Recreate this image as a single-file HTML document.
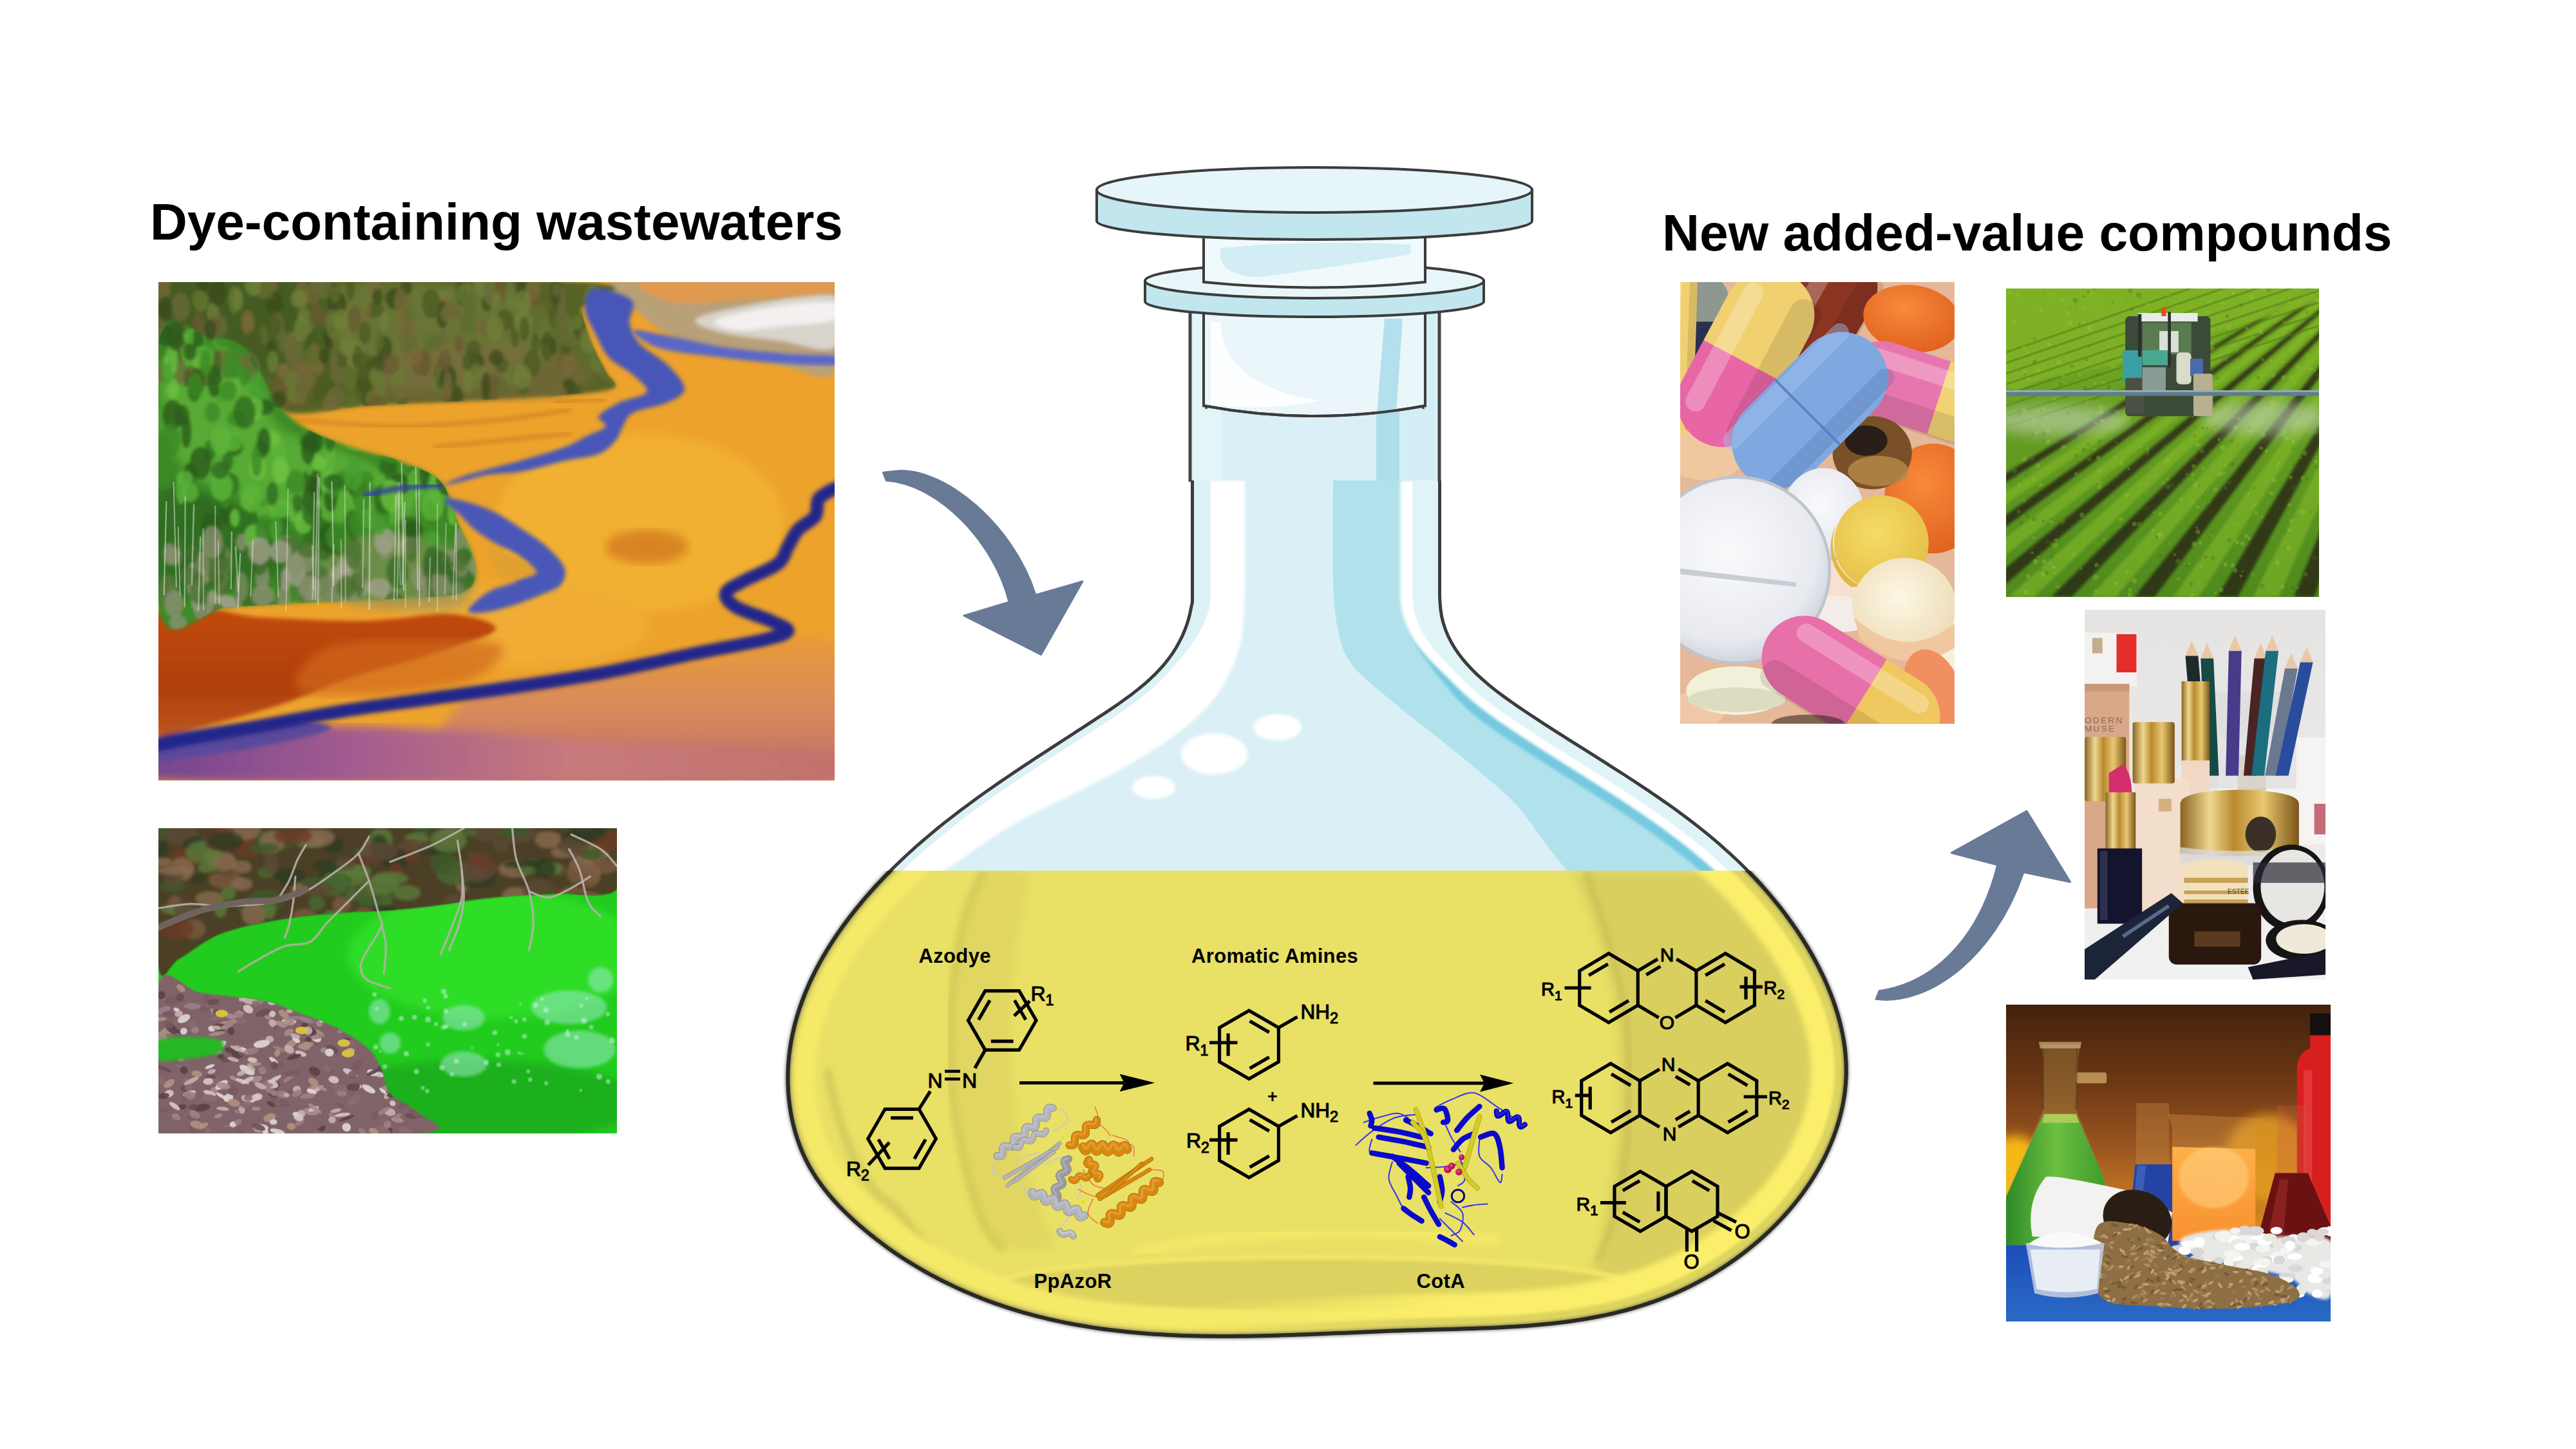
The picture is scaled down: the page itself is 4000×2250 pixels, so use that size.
<!DOCTYPE html>
<html><head><meta charset="utf-8">
<style>
html,body{margin:0;padding:0;background:#fff;}
body{width:4000px;height:2250px;overflow:hidden;position:relative;font-family:"Liberation Sans",sans-serif;}
svg{position:absolute;left:0;top:0;}
</style></head>
<body>
<svg width="4000" height="2250" viewBox="0 0 4000 2250" xmlns="http://www.w3.org/2000/svg">
<defs><clipPath id="fbody"><path d="M1851.5 746.0 L1851.5 757.1 L1851.5 768.2 L1851.5 779.3 L1851.5 790.4 L1851.5 801.5 L1851.5 812.6 L1851.5 823.6 L1851.5 834.7 L1851.5 845.8 L1851.5 856.9 L1851.5 868.0 L1851.5 879.1 L1851.5 890.2 L1851.5 901.4 L1851.5 912.5 L1851.5 923.5 L1851.5 934.5 L1849.3 945.3 L1847.0 956.0 L1844.0 966.5 L1840.4 976.8 L1836.2 986.8 L1831.4 996.5 L1826.1 1006.0 L1820.3 1015.1 L1813.9 1023.9 L1807.1 1032.4 L1799.8 1040.5 L1792.1 1048.4 L1784.1 1056.0 L1775.8 1063.3 L1767.2 1070.4 L1758.3 1077.4 L1749.2 1084.1 L1740.0 1090.7 L1730.6 1097.2 L1721.2 1103.6 L1711.7 1109.9 L1702.1 1116.2 L1692.6 1122.4 L1683.1 1128.6 L1673.6 1134.7 L1664.1 1140.8 L1654.7 1147.0 L1645.3 1153.1 L1635.9 1159.2 L1626.5 1165.3 L1617.1 1171.3 L1607.8 1177.4 L1598.5 1183.6 L1589.3 1189.7 L1580.0 1195.8 L1570.9 1202.0 L1561.7 1208.2 L1552.6 1214.4 L1543.5 1220.7 L1534.5 1227.0 L1525.6 1233.3 L1516.6 1239.7 L1507.8 1246.2 L1499.0 1252.7 L1490.2 1259.3 L1481.5 1265.9 L1472.9 1272.6 L1464.3 1279.4 L1455.7 1286.3 L1447.3 1293.3 L1438.9 1300.3 L1430.6 1307.5 L1422.3 1314.7 L1414.1 1322.1 L1406.0 1329.5 L1398.0 1337.1 L1390.0 1344.8 L1382.1 1352.6 L1374.3 1360.6 L1366.6 1368.7 L1359.0 1376.9 L1351.5 1385.2 L1344.1 1393.6 L1336.9 1402.2 L1329.8 1410.9 L1322.8 1419.7 L1316.0 1428.6 L1309.3 1437.6 L1302.8 1446.8 L1296.5 1456.0 L1290.4 1465.4 L1284.5 1474.8 L1278.8 1484.4 L1273.3 1494.1 L1268.1 1503.8 L1263.1 1513.7 L1258.3 1523.6 L1253.9 1533.7 L1249.6 1543.8 L1245.7 1554.1 L1242.0 1564.4 L1238.7 1574.8 L1235.6 1585.3 L1232.9 1595.9 L1230.5 1606.6 L1228.4 1617.3 L1226.7 1628.2 L1225.3 1639.1 L1224.3 1650.1 L1223.6 1661.1 L1223.4 1672.2 L1223.5 1683.4 L1224.0 1694.5 L1224.9 1705.6 L1226.2 1716.7 L1227.9 1727.8 L1230.0 1738.7 L1232.6 1749.6 L1235.5 1760.3 L1238.9 1770.9 L1242.7 1781.3 L1246.9 1791.5 L1251.6 1801.5 L1256.7 1811.3 L1262.3 1820.8 L1268.2 1830.1 L1274.6 1839.1 L1281.3 1847.9 L1288.3 1856.5 L1295.6 1864.9 L1303.2 1873.1 L1311.1 1881.0 L1319.1 1888.8 L1327.3 1896.4 L1335.7 1903.8 L1344.2 1911.0 L1352.9 1918.1 L1361.6 1925.0 L1370.5 1931.7 L1379.5 1938.3 L1388.6 1944.7 L1397.8 1950.9 L1407.2 1957.0 L1416.6 1962.8 L1426.1 1968.5 L1435.7 1974.1 L1445.4 1979.5 L1455.2 1984.7 L1465.1 1989.8 L1475.1 1994.6 L1485.1 1999.4 L1495.2 2003.9 L1505.3 2008.3 L1515.5 2012.6 L1525.8 2016.7 L1536.1 2020.6 L1546.5 2024.3 L1556.9 2027.9 L1567.3 2031.4 L1577.8 2034.6 L1588.3 2037.8 L1598.9 2040.7 L1609.5 2043.6 L1620.1 2046.2 L1630.7 2048.8 L1641.4 2051.1 L1652.1 2053.4 L1662.8 2055.5 L1673.5 2057.5 L1684.3 2059.3 L1695.1 2061.1 L1705.9 2062.7 L1716.7 2064.2 L1727.6 2065.6 L1738.5 2066.8 L1749.4 2068.0 L1760.3 2069.1 L1771.3 2070.0 L1782.2 2070.9 L1793.2 2071.7 L1804.2 2072.3 L1815.2 2072.9 L1826.3 2073.4 L1837.3 2073.9 L1848.4 2074.2 L1859.5 2074.5 L1870.6 2074.7 L1881.7 2074.8 L1892.8 2074.9 L1904.0 2074.9 L1915.1 2074.9 L1926.3 2074.8 L1937.4 2074.7 L1948.6 2074.5 L1959.8 2074.3 L1971.0 2074.0 L1982.2 2073.7 L1993.4 2073.3 L2004.7 2073.0 L2015.9 2072.6 L2027.1 2072.2 L2038.4 2071.7 L2049.6 2071.3 L2060.9 2070.8 L2072.1 2070.3 L2083.4 2069.9 L2094.6 2069.4 L2105.9 2068.9 L2117.1 2068.4 L2128.4 2068.0 L2139.6 2067.5 L2150.9 2067.0 L2162.1 2066.6 L2173.4 2066.2 L2184.6 2065.8 L2195.8 2065.5 L2207.1 2065.2 L2218.3 2064.8 L2229.5 2064.6 L2240.7 2064.3 L2251.9 2064.0 L2263.1 2063.7 L2274.3 2063.3 L2285.4 2063.0 L2296.6 2062.6 L2307.7 2062.2 L2318.8 2061.7 L2329.9 2061.2 L2341.0 2060.6 L2352.0 2060.0 L2363.0 2059.2 L2374.0 2058.4 L2385.0 2057.5 L2395.9 2056.5 L2406.9 2055.4 L2417.7 2054.2 L2428.6 2052.9 L2439.4 2051.5 L2450.2 2049.9 L2461.0 2048.2 L2471.7 2046.3 L2482.3 2044.3 L2493.0 2042.1 L2503.6 2039.8 L2514.1 2037.2 L2524.7 2034.5 L2535.1 2031.6 L2545.6 2028.5 L2555.9 2025.2 L2566.3 2021.7 L2576.5 2018.0 L2586.8 2014.0 L2597.0 2009.9 L2607.1 2005.4 L2617.2 2000.8 L2627.2 1995.9 L2637.1 1990.7 L2646.9 1985.4 L2656.7 1979.8 L2666.3 1974.0 L2675.8 1967.9 L2685.2 1961.7 L2694.5 1955.2 L2703.6 1948.5 L2712.6 1941.6 L2721.4 1934.5 L2730.1 1927.3 L2738.5 1919.8 L2746.8 1912.1 L2754.9 1904.2 L2762.8 1896.2 L2770.5 1887.9 L2778.0 1879.5 L2785.2 1870.9 L2792.2 1862.2 L2799.0 1853.2 L2805.4 1844.1 L2811.7 1834.8 L2817.6 1825.4 L2823.3 1815.8 L2828.6 1806.1 L2833.7 1796.3 L2838.4 1786.3 L2842.8 1776.2 L2846.9 1766.0 L2850.6 1755.7 L2854.0 1745.3 L2857.0 1734.9 L2859.6 1724.4 L2861.9 1713.8 L2863.7 1703.1 L2865.1 1692.5 L2866.1 1681.7 L2866.7 1671.0 L2866.8 1660.2 L2866.5 1649.5 L2865.8 1638.7 L2864.7 1627.9 L2863.2 1617.2 L2861.3 1606.5 L2859.0 1595.8 L2856.4 1585.1 L2853.4 1574.4 L2850.1 1563.8 L2846.5 1553.3 L2842.5 1542.8 L2838.3 1532.4 L2833.8 1522.1 L2829.0 1511.8 L2823.9 1501.6 L2818.6 1491.5 L2813.1 1481.5 L2807.3 1471.6 L2801.3 1461.8 L2795.1 1452.2 L2788.8 1442.6 L2782.2 1433.2 L2775.5 1424.0 L2768.7 1414.8 L2761.7 1405.9 L2754.5 1397.1 L2747.3 1388.4 L2739.9 1379.9 L2732.5 1371.6 L2725.0 1363.5 L2717.3 1355.5 L2709.6 1347.7 L2701.8 1340.0 L2693.9 1332.5 L2685.9 1325.1 L2677.8 1317.8 L2669.7 1310.6 L2661.5 1303.6 L2653.2 1296.7 L2644.8 1289.9 L2636.3 1283.1 L2627.8 1276.5 L2619.2 1270.0 L2610.5 1263.5 L2601.8 1257.1 L2593.0 1250.8 L2584.1 1244.6 L2575.2 1238.4 L2566.2 1232.2 L2557.2 1226.1 L2548.1 1220.1 L2538.9 1214.0 L2529.7 1208.0 L2520.5 1202.0 L2511.2 1196.1 L2501.8 1190.1 L2492.5 1184.1 L2483.0 1178.2 L2473.6 1172.2 L2464.1 1166.2 L2454.5 1160.2 L2444.9 1154.1 L2435.3 1148.1 L2425.7 1141.9 L2416.0 1135.8 L2406.3 1129.6 L2396.6 1123.3 L2386.8 1116.9 L2377.1 1110.5 L2367.3 1104.0 L2357.5 1097.4 L2347.9 1090.8 L2338.3 1083.9 L2328.9 1077.0 L2319.7 1069.9 L2310.8 1062.7 L2302.1 1055.2 L2293.8 1047.6 L2285.9 1039.8 L2278.4 1031.8 L2271.3 1023.5 L2264.8 1015.0 L2258.8 1006.2 L2253.5 997.2 L2248.7 987.9 L2244.7 978.3 L2241.4 968.3 L2238.8 958.1 L2237.1 947.5 L2236.1 936.6 L2235.5 925.6 L2235.5 914.4 L2235.5 903.3 L2235.5 892.2 L2235.5 881.1 L2235.5 870.0 L2235.5 858.9 L2235.5 847.8 L2235.5 836.7 L2235.5 825.6 L2235.5 814.6 L2235.5 803.5 L2235.5 792.4 L2235.5 781.3 L2235.5 770.2 L2235.5 759.1 L2235.5 746.0 Z"/></clipPath>
<clipPath id="fleft"><rect x="0" y="0" width="2043" height="2250"/></clipPath>
<clipPath id="fright"><rect x="2043" y="0" width="2000" height="2250"/></clipPath>
<filter id="b2" x="-5%" y="-5%" width="110%" height="110%"><feGaussianBlur stdDeviation="2"/></filter>
<filter id="b4" x="-5%" y="-5%" width="110%" height="110%"><feGaussianBlur stdDeviation="4"/></filter>
<filter id="b8" x="-10%" y="-10%" width="120%" height="120%"><feGaussianBlur stdDeviation="8"/></filter>
<filter id="b15" x="-20%" y="-20%" width="140%" height="140%"><feGaussianBlur stdDeviation="15"/></filter>
<clipPath id="strongclip"><rect x="2043" y="975" width="1000" height="1400"/></clipPath>
<clipPath id="liqrect"><rect x="1000" y="1352" width="2000" height="800"/></clipPath>
<linearGradient id="mgL" gradientUnits="userSpaceOnUse" x1="1850" y1="0" x2="2250" y2="0"><stop offset="0" stop-color="#fff"/><stop offset="1" stop-color="#000"/></linearGradient>
<linearGradient id="mgR" gradientUnits="userSpaceOnUse" x1="1850" y1="0" x2="2250" y2="0"><stop offset="0" stop-color="#000"/><stop offset="1" stop-color="#fff"/></linearGradient>
<mask id="mL" maskUnits="userSpaceOnUse" x="0" y="0" width="4000" height="2250"><rect x="0" y="0" width="4000" height="2250" fill="url(#mgL)"/></mask>
<mask id="mR" maskUnits="userSpaceOnUse" x="0" y="0" width="4000" height="2250"><rect x="0" y="0" width="4000" height="2250" fill="url(#mgR)"/></mask>
<clipPath id="lowerclip"><rect x="1000" y="1352" width="2000" height="800"/></clipPath>
<clipPath id="p1clip"><rect x="0" y="0" width="1966" height="1449"/></clipPath><linearGradient id="p1bot" x1="0" y1="0" x2="0" y2="1"><stop offset="0" stop-color="#E99A3A"/><stop offset="0.45" stop-color="#D88A5A"/><stop offset="1" stop-color="#B86A70"/></linearGradient><linearGradient id="p1purp" x1="0" y1="0" x2="1" y2="0"><stop offset="0" stop-color="#6A4090"/><stop offset="0.3" stop-color="#A05A90"/><stop offset="0.6" stop-color="#C87A7A"/><stop offset="1" stop-color="#C07068"/></linearGradient><linearGradient id="p1red" x1="0" y1="0" x2="0" y2="1"><stop offset="0" stop-color="#C24A12"/><stop offset="0.6" stop-color="#B0400E"/><stop offset="1" stop-color="#C05A20"/></linearGradient><filter id="p1b" x="-5%" y="-5%" width="110%" height="110%"><feGaussianBlur stdDeviation="6"/></filter><filter id="p1t" x="-2%" y="-2%" width="104%" height="104%"><feGaussianBlur stdDeviation="4"/></filter><filter id="p1b2" x="-5%" y="-5%" width="110%" height="110%"><feGaussianBlur stdDeviation="14"/></filter><clipPath id="p1up"><path d="M0.0 0.0 C206.7 -46.7 1035.0 -13.3 1240.0 0.0 C1445.0 13.3 1226.7 50.0 1230.0 80.0 C1233.3 110.0 1248.3 150.0 1260.0 180.0 C1271.7 210.0 1290.0 238.3 1300.0 260.0 C1310.0 281.7 1345.0 298.3 1320.0 310.0 C1295.0 321.7 1220.0 324.2 1150.0 330.0 C1080.0 335.8 991.7 340.0 900.0 345.0 C808.3 350.0 686.7 354.2 600.0 360.0 C513.3 365.8 438.3 390.0 380.0 380.0 C321.7 370.0 313.3 316.7 250.0 300.0 C186.7 283.3 41.7 330.0 0.0 280.0 C-41.7 230.0 -206.7 46.7 0.0 0.0 Z"/></clipPath><clipPath id="p1tr"><path d="M0.0 180.0 C25.0 47.5 106.7 156.7 150.0 160.0 C193.3 163.3 230.0 171.7 260.0 200.0 C290.0 228.3 303.3 293.3 330.0 330.0 C356.7 366.7 381.7 395.0 420.0 420.0 C458.3 445.0 513.3 463.3 560.0 480.0 C606.7 496.7 656.7 503.3 700.0 520.0 C743.3 536.7 791.7 550.0 820.0 580.0 C848.3 610.0 853.3 660.0 870.0 700.0 C886.7 740.0 916.7 786.7 920.0 820.0 C923.3 853.3 926.7 883.3 890.0 900.0 C853.3 916.7 773.3 915.0 700.0 920.0 C626.7 925.0 533.3 925.8 450.0 930.0 C366.7 934.2 275.0 940.8 200.0 945.0 C125.0 949.2 33.3 1082.5 0.0 955.0 C-33.3 827.5 -25.0 312.5 0.0 180.0 Z"/></clipPath><clipPath id="p2clip"><rect x="0" y="0" width="2177" height="1449"/></clipPath><filter id="p2b" x="-5%" y="-5%" width="110%" height="110%"><feGaussianBlur stdDeviation="8"/></filter><filter id="p2b2" x="-10%" y="-10%" width="120%" height="120%"><feGaussianBlur stdDeviation="20"/></filter><filter id="p2b1" x="-5%" y="-5%" width="110%" height="110%"><feGaussianBlur stdDeviation="3"/></filter><clipPath id="p2bankclip"><path d="M0.0 0.0 C362.8 -110.0 1814.2 -48.3 2177.0 0.0 C2539.8 48.3 2223.2 238.3 2177.0 290.0 C2130.8 341.7 1979.5 305.0 1900.0 310.0 C1820.5 315.0 1766.7 315.0 1700.0 320.0 C1633.3 325.0 1566.7 331.7 1500.0 340.0 C1433.3 348.3 1366.7 361.7 1300.0 370.0 C1233.3 378.3 1166.7 385.0 1100.0 390.0 C1033.3 395.0 983.3 393.3 900.0 400.0 C816.7 406.7 700.0 413.3 600.0 430.0 C500.0 446.7 383.3 468.3 300.0 500.0 C216.7 531.7 150.0 593.3 100.0 620.0 C50.0 646.7 16.7 763.3 0.0 660.0 C-16.7 556.7 -362.8 110.0 0.0 0.0 Z"/></clipPath><clipPath id="p2leafclip"><path d="M0.0 740.0 C33.3 628.5 116.7 766.7 200.0 780.0 C283.3 793.3 425.0 805.0 500.0 820.0 C575.0 835.0 591.7 848.3 650.0 870.0 C708.3 891.7 791.7 920.0 850.0 950.0 C908.3 980.0 965.0 1016.7 1000.0 1050.0 C1035.0 1083.3 1043.3 1115.0 1060.0 1150.0 C1076.7 1185.0 1071.7 1226.7 1100.0 1260.0 C1128.3 1293.3 1206.7 1318.5 1230.0 1350.0 C1253.3 1381.5 1445.0 1432.5 1240.0 1449.0 C1035.0 1465.5 206.7 1567.2 0.0 1449.0 C-206.7 1330.8 -33.3 851.5 0.0 740.0 Z"/></clipPath><clipPath id="p3clip"><rect x="0" y="0" width="900" height="1449"/></clipPath><radialGradient id="p3w" cx="0.45" cy="0.4" r="0.6"><stop offset="0" stop-color="#FAFAFC"/><stop offset="0.8" stop-color="#E8EAF0"/><stop offset="1" stop-color="#D0D4DC"/></radialGradient><radialGradient id="p3y" cx="0.45" cy="0.4" r="0.6"><stop offset="0" stop-color="#F4DC66"/><stop offset="1" stop-color="#E6C04A"/></radialGradient><radialGradient id="p3o" cx="0.4" cy="0.35" r="0.7"><stop offset="0" stop-color="#F88A3A"/><stop offset="1" stop-color="#E0601E"/></radialGradient><radialGradient id="p3c" cx="0.45" cy="0.4" r="0.6"><stop offset="0" stop-color="#FCF8E4"/><stop offset="1" stop-color="#EEDCB8"/></radialGradient><filter id="p3b" x="-10%" y="-10%" width="120%" height="120%"><feGaussianBlur stdDeviation="4"/></filter><clipPath id="p4clip"><rect x="0" y="0" width="1470" height="1449"/></clipPath><linearGradient id="p4f" x1="0" y1="0" x2="0" y2="1"><stop offset="0" stop-color="#78AE22"/><stop offset="0.35" stop-color="#6AA022"/><stop offset="1" stop-color="#4E8A1E"/></linearGradient><filter id="p4b" x="-5%" y="-5%" width="110%" height="110%"><feGaussianBlur stdDeviation="6"/></filter><filter id="p4b2" x="-20%" y="-50%" width="140%" height="200%"><feGaussianBlur stdDeviation="30"/></filter><clipPath id="p5clip"><rect x="0" y="0" width="944" height="1449"/></clipPath><linearGradient id="p5g" x1="0" y1="0" x2="1" y2="0"><stop offset="0" stop-color="#8A6420"/><stop offset="0.25" stop-color="#F0D890"/><stop offset="0.45" stop-color="#B88A30"/><stop offset="0.7" stop-color="#E8C870"/><stop offset="1" stop-color="#7A5418"/></linearGradient><linearGradient id="p5bg" x1="0" y1="0" x2="0" y2="1"><stop offset="0" stop-color="#E6E4E2"/><stop offset="0.6" stop-color="#ECEAE8"/><stop offset="1" stop-color="#F2F2F2"/></linearGradient><filter id="p5b" x="-10%" y="-10%" width="120%" height="120%"><feGaussianBlur stdDeviation="3"/></filter><clipPath id="p6clip"><rect x="0" y="0" width="1484" height="1449"/></clipPath><linearGradient id="p6bg" x1="0" y1="0" x2="0" y2="1"><stop offset="0" stop-color="#43220E"/><stop offset="0.25" stop-color="#6E3814"/><stop offset="0.45" stop-color="#9A5620"/><stop offset="0.6" stop-color="#C07424"/><stop offset="0.72" stop-color="#D8901E"/></linearGradient><linearGradient id="p6tab" x1="0" y1="0" x2="0" y2="1"><stop offset="0" stop-color="#1C4CBA"/><stop offset="1" stop-color="#2A6AC4"/></linearGradient><linearGradient id="p6gr" x1="0" y1="0" x2="1" y2="0"><stop offset="0" stop-color="#2E8A28"/><stop offset="0.5" stop-color="#6CC040"/><stop offset="1" stop-color="#3E9A2C"/></linearGradient><linearGradient id="p6or" x1="0" y1="0" x2="0" y2="1"><stop offset="0" stop-color="#FFB048"/><stop offset="1" stop-color="#F89030"/></linearGradient><filter id="p6b" x="-10%" y="-10%" width="120%" height="120%"><feGaussianBlur stdDeviation="6"/></filter><filter id="p6b2" x="-20%" y="-20%" width="140%" height="140%"><feGaussianBlur stdDeviation="25"/></filter><clipPath id="p6pel"><path d="M420.0 1010.0 C446.7 976.7 513.3 993.3 560.0 1000.0 C606.7 1006.7 660.0 1026.7 700.0 1050.0 C740.0 1073.3 750.0 1116.7 800.0 1140.0 C850.0 1163.3 933.3 1175.0 1000.0 1190.0 C1066.7 1205.0 1145.0 1211.7 1200.0 1230.0 C1255.0 1248.3 1313.3 1278.3 1330.0 1300.0 C1346.7 1321.7 1355.0 1345.0 1300.0 1360.0 C1245.0 1375.0 1100.0 1386.7 1000.0 1390.0 C900.0 1393.3 791.7 1386.7 700.0 1380.0 C608.3 1373.3 500.0 1380.0 450.0 1350.0 C400.0 1320.0 405.0 1256.7 400.0 1200.0 C395.0 1143.3 393.3 1043.3 420.0 1010.0 Z"/></clipPath></defs>
<rect width="4000" height="2250" fill="#fff"/>
<g id="flask"><path d="M1851.5 746.0 L1851.5 757.1 L1851.5 768.2 L1851.5 779.3 L1851.5 790.4 L1851.5 801.5 L1851.5 812.6 L1851.5 823.6 L1851.5 834.7 L1851.5 845.8 L1851.5 856.9 L1851.5 868.0 L1851.5 879.1 L1851.5 890.2 L1851.5 901.4 L1851.5 912.5 L1851.5 923.5 L1851.5 934.5 L1849.3 945.3 L1847.0 956.0 L1844.0 966.5 L1840.4 976.8 L1836.2 986.8 L1831.4 996.5 L1826.1 1006.0 L1820.3 1015.1 L1813.9 1023.9 L1807.1 1032.4 L1799.8 1040.5 L1792.1 1048.4 L1784.1 1056.0 L1775.8 1063.3 L1767.2 1070.4 L1758.3 1077.4 L1749.2 1084.1 L1740.0 1090.7 L1730.6 1097.2 L1721.2 1103.6 L1711.7 1109.9 L1702.1 1116.2 L1692.6 1122.4 L1683.1 1128.6 L1673.6 1134.7 L1664.1 1140.8 L1654.7 1147.0 L1645.3 1153.1 L1635.9 1159.2 L1626.5 1165.3 L1617.1 1171.3 L1607.8 1177.4 L1598.5 1183.6 L1589.3 1189.7 L1580.0 1195.8 L1570.9 1202.0 L1561.7 1208.2 L1552.6 1214.4 L1543.5 1220.7 L1534.5 1227.0 L1525.6 1233.3 L1516.6 1239.7 L1507.8 1246.2 L1499.0 1252.7 L1490.2 1259.3 L1481.5 1265.9 L1472.9 1272.6 L1464.3 1279.4 L1455.7 1286.3 L1447.3 1293.3 L1438.9 1300.3 L1430.6 1307.5 L1422.3 1314.7 L1414.1 1322.1 L1406.0 1329.5 L1398.0 1337.1 L1390.0 1344.8 L1382.1 1352.6 L1374.3 1360.6 L1366.6 1368.7 L1359.0 1376.9 L1351.5 1385.2 L1344.1 1393.6 L1336.9 1402.2 L1329.8 1410.9 L1322.8 1419.7 L1316.0 1428.6 L1309.3 1437.6 L1302.8 1446.8 L1296.5 1456.0 L1290.4 1465.4 L1284.5 1474.8 L1278.8 1484.4 L1273.3 1494.1 L1268.1 1503.8 L1263.1 1513.7 L1258.3 1523.6 L1253.9 1533.7 L1249.6 1543.8 L1245.7 1554.1 L1242.0 1564.4 L1238.7 1574.8 L1235.6 1585.3 L1232.9 1595.9 L1230.5 1606.6 L1228.4 1617.3 L1226.7 1628.2 L1225.3 1639.1 L1224.3 1650.1 L1223.6 1661.1 L1223.4 1672.2 L1223.5 1683.4 L1224.0 1694.5 L1224.9 1705.6 L1226.2 1716.7 L1227.9 1727.8 L1230.0 1738.7 L1232.6 1749.6 L1235.5 1760.3 L1238.9 1770.9 L1242.7 1781.3 L1246.9 1791.5 L1251.6 1801.5 L1256.7 1811.3 L1262.3 1820.8 L1268.2 1830.1 L1274.6 1839.1 L1281.3 1847.9 L1288.3 1856.5 L1295.6 1864.9 L1303.2 1873.1 L1311.1 1881.0 L1319.1 1888.8 L1327.3 1896.4 L1335.7 1903.8 L1344.2 1911.0 L1352.9 1918.1 L1361.6 1925.0 L1370.5 1931.7 L1379.5 1938.3 L1388.6 1944.7 L1397.8 1950.9 L1407.2 1957.0 L1416.6 1962.8 L1426.1 1968.5 L1435.7 1974.1 L1445.4 1979.5 L1455.2 1984.7 L1465.1 1989.8 L1475.1 1994.6 L1485.1 1999.4 L1495.2 2003.9 L1505.3 2008.3 L1515.5 2012.6 L1525.8 2016.7 L1536.1 2020.6 L1546.5 2024.3 L1556.9 2027.9 L1567.3 2031.4 L1577.8 2034.6 L1588.3 2037.8 L1598.9 2040.7 L1609.5 2043.6 L1620.1 2046.2 L1630.7 2048.8 L1641.4 2051.1 L1652.1 2053.4 L1662.8 2055.5 L1673.5 2057.5 L1684.3 2059.3 L1695.1 2061.1 L1705.9 2062.7 L1716.7 2064.2 L1727.6 2065.6 L1738.5 2066.8 L1749.4 2068.0 L1760.3 2069.1 L1771.3 2070.0 L1782.2 2070.9 L1793.2 2071.7 L1804.2 2072.3 L1815.2 2072.9 L1826.3 2073.4 L1837.3 2073.9 L1848.4 2074.2 L1859.5 2074.5 L1870.6 2074.7 L1881.7 2074.8 L1892.8 2074.9 L1904.0 2074.9 L1915.1 2074.9 L1926.3 2074.8 L1937.4 2074.7 L1948.6 2074.5 L1959.8 2074.3 L1971.0 2074.0 L1982.2 2073.7 L1993.4 2073.3 L2004.7 2073.0 L2015.9 2072.6 L2027.1 2072.2 L2038.4 2071.7 L2049.6 2071.3 L2060.9 2070.8 L2072.1 2070.3 L2083.4 2069.9 L2094.6 2069.4 L2105.9 2068.9 L2117.1 2068.4 L2128.4 2068.0 L2139.6 2067.5 L2150.9 2067.0 L2162.1 2066.6 L2173.4 2066.2 L2184.6 2065.8 L2195.8 2065.5 L2207.1 2065.2 L2218.3 2064.8 L2229.5 2064.6 L2240.7 2064.3 L2251.9 2064.0 L2263.1 2063.7 L2274.3 2063.3 L2285.4 2063.0 L2296.6 2062.6 L2307.7 2062.2 L2318.8 2061.7 L2329.9 2061.2 L2341.0 2060.6 L2352.0 2060.0 L2363.0 2059.2 L2374.0 2058.4 L2385.0 2057.5 L2395.9 2056.5 L2406.9 2055.4 L2417.7 2054.2 L2428.6 2052.9 L2439.4 2051.5 L2450.2 2049.9 L2461.0 2048.2 L2471.7 2046.3 L2482.3 2044.3 L2493.0 2042.1 L2503.6 2039.8 L2514.1 2037.2 L2524.7 2034.5 L2535.1 2031.6 L2545.6 2028.5 L2555.9 2025.2 L2566.3 2021.7 L2576.5 2018.0 L2586.8 2014.0 L2597.0 2009.9 L2607.1 2005.4 L2617.2 2000.8 L2627.2 1995.9 L2637.1 1990.7 L2646.9 1985.4 L2656.7 1979.8 L2666.3 1974.0 L2675.8 1967.9 L2685.2 1961.7 L2694.5 1955.2 L2703.6 1948.5 L2712.6 1941.6 L2721.4 1934.5 L2730.1 1927.3 L2738.5 1919.8 L2746.8 1912.1 L2754.9 1904.2 L2762.8 1896.2 L2770.5 1887.9 L2778.0 1879.5 L2785.2 1870.9 L2792.2 1862.2 L2799.0 1853.2 L2805.4 1844.1 L2811.7 1834.8 L2817.6 1825.4 L2823.3 1815.8 L2828.6 1806.1 L2833.7 1796.3 L2838.4 1786.3 L2842.8 1776.2 L2846.9 1766.0 L2850.6 1755.7 L2854.0 1745.3 L2857.0 1734.9 L2859.6 1724.4 L2861.9 1713.8 L2863.7 1703.1 L2865.1 1692.5 L2866.1 1681.7 L2866.7 1671.0 L2866.8 1660.2 L2866.5 1649.5 L2865.8 1638.7 L2864.7 1627.9 L2863.2 1617.2 L2861.3 1606.5 L2859.0 1595.8 L2856.4 1585.1 L2853.4 1574.4 L2850.1 1563.8 L2846.5 1553.3 L2842.5 1542.8 L2838.3 1532.4 L2833.8 1522.1 L2829.0 1511.8 L2823.9 1501.6 L2818.6 1491.5 L2813.1 1481.5 L2807.3 1471.6 L2801.3 1461.8 L2795.1 1452.2 L2788.8 1442.6 L2782.2 1433.2 L2775.5 1424.0 L2768.7 1414.8 L2761.7 1405.9 L2754.5 1397.1 L2747.3 1388.4 L2739.9 1379.9 L2732.5 1371.6 L2725.0 1363.5 L2717.3 1355.5 L2709.6 1347.7 L2701.8 1340.0 L2693.9 1332.5 L2685.9 1325.1 L2677.8 1317.8 L2669.7 1310.6 L2661.5 1303.6 L2653.2 1296.7 L2644.8 1289.9 L2636.3 1283.1 L2627.8 1276.5 L2619.2 1270.0 L2610.5 1263.5 L2601.8 1257.1 L2593.0 1250.8 L2584.1 1244.6 L2575.2 1238.4 L2566.2 1232.2 L2557.2 1226.1 L2548.1 1220.1 L2538.9 1214.0 L2529.7 1208.0 L2520.5 1202.0 L2511.2 1196.1 L2501.8 1190.1 L2492.5 1184.1 L2483.0 1178.2 L2473.6 1172.2 L2464.1 1166.2 L2454.5 1160.2 L2444.9 1154.1 L2435.3 1148.1 L2425.7 1141.9 L2416.0 1135.8 L2406.3 1129.6 L2396.6 1123.3 L2386.8 1116.9 L2377.1 1110.5 L2367.3 1104.0 L2357.5 1097.4 L2347.9 1090.8 L2338.3 1083.9 L2328.9 1077.0 L2319.7 1069.9 L2310.8 1062.7 L2302.1 1055.2 L2293.8 1047.6 L2285.9 1039.8 L2278.4 1031.8 L2271.3 1023.5 L2264.8 1015.0 L2258.8 1006.2 L2253.5 997.2 L2248.7 987.9 L2244.7 978.3 L2241.4 968.3 L2238.8 958.1 L2237.1 947.5 L2236.1 936.6 L2235.5 925.6 L2235.5 914.4 L2235.5 903.3 L2235.5 892.2 L2235.5 881.1 L2235.5 870.0 L2235.5 858.9 L2235.5 847.8 L2235.5 836.7 L2235.5 825.6 L2235.5 814.6 L2235.5 803.5 L2235.5 792.4 L2235.5 781.3 L2235.5 770.2 L2235.5 759.1 L2235.5 746.0 Z" fill="#DAF0F6"/>
<g clip-path="url(#fbody)">
<path d="M2070.0 746.0 C2070.0 771.7 2068.7 861.0 2070.0 900.0 C2071.3 939.0 2073.0 957.8 2078.0 980.0 C2083.0 1002.2 2085.8 1014.7 2100.0 1033.0 C2114.2 1051.3 2141.8 1072.0 2163.0 1090.0 C2184.2 1108.0 2205.8 1124.0 2227.0 1141.0 C2248.2 1158.0 2268.8 1174.0 2290.0 1192.0 C2311.2 1210.0 2335.3 1228.8 2354.0 1249.0 C2372.7 1269.2 2387.7 1294.5 2402.0 1313.0 C2416.3 1331.5 2433.7 1352.2 2440.0 1360.0 L2900 1360 L2900 746 Z" fill="#B1E2EC"/>
<path d="M2727.5 1419.3 L2720.6 1411.1 L2713.7 1403.1 L2706.6 1395.2 L2699.5 1387.5 L2692.2 1379.9 L2684.9 1372.5 L2677.4 1365.1 L2669.9 1358.0 L2662.3 1350.9 L2654.6 1343.9 L2646.8 1337.1 L2638.9 1330.4 L2630.9 1323.7 L2622.8 1317.1 L2614.7 1310.7 L2606.5 1304.3 L2598.1 1297.9 L2589.7 1291.7 L2581.3 1285.5 L2572.7 1279.3 L2564.1 1273.2 L2555.3 1267.2 L2546.5 1261.2 L2537.7 1255.2 L2528.7 1249.2 L2519.7 1243.3 L2510.7 1237.4 L2501.5 1231.5 L2492.3 1225.5 L2483.0 1219.6 L2473.7 1213.7 L2464.3 1207.8 L2454.9 1201.8 L2445.4 1195.8 L2435.8 1189.8 L2426.2 1183.7 L2416.6 1177.6 L2406.9 1171.5 L2397.1 1165.3 L2387.4 1159.0 L2377.5 1152.6 L2367.7 1146.2 L2357.8 1139.7 L2347.8 1133.1 L2337.8 1126.3 L2327.7 1119.4 L2317.7 1112.3 L2307.8 1104.9 L2298.0 1097.4 L2288.3 1089.5 L2278.9 1081.4 L2269.7 1073.0 L2260.8 1064.2 L2251.9 1055.3 L2242.9 1046.5 L2233.7 1037.5 L2224.4 1028.2 L2215.1 1018.3 L2206.1 1007.6 L2197.5 996.0 L2189.8 983.3 L2183.2 969.5 L2178.3 955.0 L2175.5 941.0 L2174.5 927.1 L2174.5 914.4 L2174.5 903.3 L2174.5 892.2 L2174.5 881.1 L2174.5 870.0 L2174.5 858.9 L2174.5 847.8 L2174.5 836.7 L2174.5 825.6 L2174.5 814.6 L2174.5 803.5 L2174.5 792.4 L2174.5 781.3 L2174.5 770.2 L2174.5 759.1 L2174.5 746.0 L2174.5 746.0 L2174.5 759.1 L2174.5 770.2 L2174.5 781.3 L2174.5 792.4 L2174.5 803.5 L2174.5 814.6 L2174.5 825.6 L2174.5 836.7 L2174.5 847.8 L2174.5 858.9 L2174.5 870.0 L2174.5 881.1 L2174.5 892.2 L2174.5 903.3 L2174.5 914.4 L2174.5 927.1 L2175.5 941.0 L2178.3 955.0 L2183.0 969.5 L2188.9 983.5 L2195.7 996.7 L2203.1 1009.0 L2210.9 1020.6 L2219.0 1031.6 L2227.2 1042.2 L2235.5 1052.5 L2243.7 1062.7 L2251.9 1072.8 L2260.4 1082.8 L2269.3 1092.2 L2278.6 1101.2 L2288.2 1109.7 L2298.2 1117.7 L2308.3 1125.2 L2318.5 1132.5 L2328.7 1139.5 L2338.9 1146.4 L2349.0 1153.1 L2358.9 1159.6 L2368.8 1166.1 L2378.7 1172.4 L2388.5 1178.7 L2398.3 1185.0 L2408.0 1191.1 L2417.7 1197.3 L2427.3 1203.3 L2436.9 1209.3 L2446.4 1215.3 L2455.8 1221.3 L2465.2 1227.2 L2474.5 1233.1 L2483.7 1239.0 L2492.9 1244.9 L2501.9 1250.8 L2511.0 1256.7 L2519.9 1262.6 L2528.8 1268.5 L2537.5 1274.4 L2546.3 1280.4 L2554.9 1286.4 L2563.4 1292.4 L2571.9 1298.4 L2580.2 1304.6 L2588.5 1310.7 L2596.7 1317.0 L2604.8 1323.3 L2612.8 1329.6 L2620.7 1336.1 L2628.6 1342.6 L2636.3 1349.2 L2643.9 1355.9 L2651.5 1362.7 L2658.9 1369.6 L2666.3 1376.6 L2673.6 1383.8 L2680.7 1391.0 L2687.8 1398.4 L2694.8 1406.0 L2701.7 1413.7 L2708.5 1421.5 L2715.1 1429.5 Z" fill="#74C9DF" filter="url(#b2)"/>
<path d="M2739.9 1409.1 L2732.8 1400.7 L2725.7 1392.5 L2718.4 1384.4 L2711.1 1376.5 L2703.7 1368.7 L2696.2 1361.1 L2688.6 1353.7 L2680.9 1346.3 L2673.1 1339.1 L2665.2 1332.0 L2657.3 1325.0 L2649.2 1318.1 L2641.1 1311.4 L2632.9 1304.7 L2624.6 1298.1 L2616.2 1291.6 L2607.8 1285.2 L2599.2 1278.8 L2590.6 1272.5 L2582.0 1266.3 L2573.2 1260.1 L2564.4 1254.0 L2555.5 1247.9 L2546.6 1241.9 L2537.6 1235.9 L2528.5 1229.9 L2519.4 1224.0 L2510.2 1218.0 L2500.9 1212.1 L2491.6 1206.1 L2482.3 1200.2 L2472.9 1194.2 L2463.4 1188.3 L2453.9 1182.3 L2444.4 1176.3 L2434.8 1170.2 L2425.1 1164.1 L2415.5 1158.0 L2405.8 1151.8 L2396.0 1145.5 L2386.2 1139.2 L2376.4 1132.8 L2366.6 1126.4 L2356.7 1119.8 L2346.8 1113.1 L2336.9 1106.3 L2327.1 1099.3 L2317.4 1092.2 L2307.9 1084.8 L2298.6 1077.2 L2289.5 1069.4 L2280.7 1061.4 L2272.3 1053.0 L2263.9 1044.6 L2255.6 1036.2 L2247.2 1027.7 L2238.8 1019.0 L2230.6 1009.8 L2222.7 999.9 L2215.3 989.3 L2208.6 977.8 L2203.0 965.4 L2198.8 952.4 L2196.4 939.5 L2195.5 926.6 L2195.5 914.4 L2195.5 903.3 L2195.5 892.2 L2195.5 881.1 L2195.5 870.0 L2195.5 858.9 L2195.5 847.8 L2195.5 836.7 L2195.5 825.6 L2195.5 814.6 L2195.5 803.5 L2195.5 792.4 L2195.5 781.3 L2195.5 770.2 L2195.5 759.1 L2195.5 746.0 L2174.5 746.0 L2174.5 759.1 L2174.5 770.2 L2174.5 781.3 L2174.5 792.4 L2174.5 803.5 L2174.5 814.6 L2174.5 825.6 L2174.5 836.7 L2174.5 847.8 L2174.5 858.9 L2174.5 870.0 L2174.5 881.1 L2174.5 892.2 L2174.5 903.3 L2174.5 914.4 L2174.5 927.1 L2175.5 941.0 L2178.3 955.0 L2183.2 969.5 L2189.8 983.3 L2197.5 996.0 L2206.1 1007.6 L2215.1 1018.3 L2224.4 1028.2 L2233.7 1037.5 L2242.9 1046.5 L2251.9 1055.3 L2260.8 1064.2 L2269.7 1073.0 L2278.9 1081.4 L2288.3 1089.5 L2298.0 1097.4 L2307.8 1104.9 L2317.7 1112.3 L2327.7 1119.4 L2337.8 1126.3 L2347.8 1133.1 L2357.8 1139.7 L2367.7 1146.2 L2377.5 1152.6 L2387.4 1159.0 L2397.1 1165.3 L2406.9 1171.5 L2416.6 1177.6 L2426.2 1183.7 L2435.8 1189.8 L2445.4 1195.8 L2454.9 1201.8 L2464.3 1207.8 L2473.7 1213.7 L2483.0 1219.6 L2492.3 1225.5 L2501.5 1231.5 L2510.7 1237.4 L2519.7 1243.3 L2528.7 1249.2 L2537.7 1255.2 L2546.5 1261.2 L2555.3 1267.2 L2564.1 1273.2 L2572.7 1279.3 L2581.3 1285.5 L2589.7 1291.7 L2598.1 1297.9 L2606.5 1304.3 L2614.7 1310.7 L2622.8 1317.1 L2630.9 1323.7 L2638.9 1330.4 L2646.8 1337.1 L2654.6 1343.9 L2662.3 1350.9 L2669.9 1358.0 L2677.4 1365.1 L2684.9 1372.5 L2692.2 1379.9 L2699.5 1387.5 L2706.6 1395.2 L2713.7 1403.1 L2720.6 1411.1 L2727.5 1419.3 Z" fill="#FFFFFF" filter="url(#b2)"/>
<path d="M2754.5 1397.1 L2747.3 1388.4 L2739.9 1379.9 L2732.5 1371.6 L2725.0 1363.5 L2717.3 1355.5 L2709.6 1347.7 L2701.8 1340.0 L2693.9 1332.5 L2685.9 1325.1 L2677.8 1317.8 L2669.7 1310.6 L2661.5 1303.6 L2653.2 1296.7 L2644.8 1289.9 L2636.3 1283.1 L2627.8 1276.5 L2619.2 1270.0 L2610.5 1263.5 L2601.8 1257.1 L2593.0 1250.8 L2584.1 1244.6 L2575.2 1238.4 L2566.2 1232.2 L2557.2 1226.1 L2548.1 1220.1 L2538.9 1214.0 L2529.7 1208.0 L2520.5 1202.0 L2511.2 1196.1 L2501.8 1190.1 L2492.5 1184.1 L2483.0 1178.2 L2473.6 1172.2 L2464.1 1166.2 L2454.5 1160.2 L2444.9 1154.1 L2435.3 1148.1 L2425.7 1141.9 L2416.0 1135.8 L2406.3 1129.6 L2396.6 1123.3 L2386.8 1116.9 L2377.1 1110.5 L2367.3 1104.0 L2357.5 1097.4 L2347.9 1090.8 L2338.3 1083.9 L2328.9 1077.0 L2319.7 1069.9 L2310.8 1062.7 L2302.1 1055.2 L2293.8 1047.6 L2285.9 1039.8 L2278.4 1031.8 L2271.3 1023.5 L2264.8 1015.0 L2258.8 1006.2 L2253.5 997.2 L2248.7 987.9 L2244.7 978.3 L2241.4 968.3 L2238.8 958.1 L2237.1 947.5 L2236.1 936.6 L2235.5 925.6 L2235.5 914.4 L2235.5 903.3 L2235.5 892.2 L2235.5 881.1 L2235.5 870.0 L2235.5 858.9 L2235.5 847.8 L2235.5 836.7 L2235.5 825.6 L2235.5 814.6 L2235.5 803.5 L2235.5 792.4 L2235.5 781.3 L2235.5 770.2 L2235.5 759.1 L2235.5 746.0 L2195.5 746.0 L2195.5 759.1 L2195.5 770.2 L2195.5 781.3 L2195.5 792.4 L2195.5 803.5 L2195.5 814.6 L2195.5 825.6 L2195.5 836.7 L2195.5 847.8 L2195.5 858.9 L2195.5 870.0 L2195.5 881.1 L2195.5 892.2 L2195.5 903.3 L2195.5 914.4 L2195.5 926.6 L2196.4 939.5 L2198.8 952.4 L2203.0 965.4 L2208.6 977.8 L2215.3 989.3 L2222.7 999.9 L2230.6 1009.8 L2238.8 1019.0 L2247.2 1027.7 L2255.6 1036.2 L2263.9 1044.6 L2272.3 1053.0 L2280.7 1061.4 L2289.5 1069.4 L2298.6 1077.2 L2307.9 1084.8 L2317.4 1092.2 L2327.1 1099.3 L2336.9 1106.3 L2346.8 1113.1 L2356.7 1119.8 L2366.6 1126.4 L2376.4 1132.8 L2386.2 1139.2 L2396.0 1145.5 L2405.8 1151.8 L2415.5 1158.0 L2425.1 1164.1 L2434.8 1170.2 L2444.4 1176.3 L2453.9 1182.3 L2463.4 1188.3 L2472.9 1194.2 L2482.3 1200.2 L2491.6 1206.1 L2500.9 1212.1 L2510.2 1218.0 L2519.4 1224.0 L2528.5 1229.9 L2537.6 1235.9 L2546.6 1241.9 L2555.5 1247.9 L2564.4 1254.0 L2573.2 1260.1 L2582.0 1266.3 L2590.6 1272.5 L2599.2 1278.8 L2607.8 1285.2 L2616.2 1291.6 L2624.6 1298.1 L2632.9 1304.7 L2641.1 1311.4 L2649.2 1318.1 L2657.3 1325.0 L2665.2 1332.0 L2673.1 1339.1 L2680.9 1346.3 L2688.6 1353.7 L2696.2 1361.1 L2703.7 1368.7 L2711.1 1376.5 L2718.4 1384.4 L2725.7 1392.5 L2732.8 1400.7 L2739.9 1409.1 Z" fill="#E0F4F8"/>
<path d="M1933.0 746.0 C1933.0 771.7 1933.8 859.3 1933.0 900.0 C1932.2 940.7 1932.3 965.0 1928.0 990.0 C1923.7 1015.0 1916.3 1031.7 1907.0 1050.0 C1897.7 1068.3 1889.3 1082.2 1872.0 1100.0 C1854.7 1117.8 1831.7 1137.7 1803.0 1157.0 C1774.3 1176.3 1738.2 1195.5 1700.0 1216.0 C1661.8 1236.5 1609.5 1259.7 1574.0 1280.0 C1538.5 1300.3 1509.3 1323.0 1487.0 1338.0 C1464.7 1353.0 1447.8 1364.7 1440.0 1370.0 L1100 1370 L1100 746 Z" fill="#FFFFFF" filter="url(#b2)"/>
<path d="M1851.5 746.0 L1851.5 757.1 L1851.5 768.2 L1851.5 779.3 L1851.5 790.4 L1851.5 801.5 L1851.5 812.6 L1851.5 823.6 L1851.5 834.7 L1851.5 845.8 L1851.5 856.9 L1851.5 868.0 L1851.5 879.1 L1851.5 890.2 L1851.5 901.4 L1851.5 912.5 L1851.5 923.5 L1851.5 934.5 L1849.3 945.3 L1847.0 956.0 L1844.0 966.5 L1840.4 976.8 L1836.2 986.8 L1831.4 996.5 L1826.1 1006.0 L1820.3 1015.1 L1813.9 1023.9 L1807.1 1032.4 L1799.8 1040.5 L1792.1 1048.4 L1784.1 1056.0 L1775.8 1063.3 L1767.2 1070.4 L1758.3 1077.4 L1749.2 1084.1 L1740.0 1090.7 L1730.6 1097.2 L1721.2 1103.6 L1711.7 1109.9 L1702.1 1116.2 L1692.6 1122.4 L1683.1 1128.6 L1673.6 1134.7 L1664.1 1140.8 L1654.7 1147.0 L1645.3 1153.1 L1635.9 1159.2 L1626.5 1165.3 L1617.1 1171.3 L1607.8 1177.4 L1598.5 1183.6 L1589.3 1189.7 L1580.0 1195.8 L1570.9 1202.0 L1561.7 1208.2 L1552.6 1214.4 L1543.5 1220.7 L1534.5 1227.0 L1525.6 1233.3 L1516.6 1239.7 L1507.8 1246.2 L1499.0 1252.7 L1490.2 1259.3 L1481.5 1265.9 L1472.9 1272.6 L1464.3 1279.4 L1455.7 1286.3 L1447.3 1293.3 L1438.9 1300.3 L1430.6 1307.5 L1422.3 1314.7 L1414.1 1322.1 L1406.0 1329.5 L1398.0 1337.1 L1390.0 1344.8 L1382.1 1352.6 L1374.3 1360.6 L1366.6 1368.7 L1359.0 1376.9 L1351.5 1385.2 L1344.1 1393.6 L1354.0 1402.1 L1361.2 1393.8 L1368.6 1385.6 L1376.1 1377.6 L1383.7 1369.6 L1391.4 1361.8 L1399.1 1354.1 L1407.0 1346.5 L1414.9 1339.1 L1422.9 1331.7 L1430.9 1324.4 L1439.1 1317.3 L1447.3 1310.2 L1455.6 1303.3 L1464.0 1296.4 L1472.4 1289.6 L1480.9 1282.8 L1489.4 1276.2 L1498.1 1269.6 L1506.7 1263.1 L1515.5 1256.6 L1524.3 1250.2 L1533.1 1243.9 L1542.0 1237.6 L1551.0 1231.3 L1560.0 1225.1 L1569.0 1218.9 L1578.1 1212.8 L1587.3 1206.6 L1596.4 1200.5 L1605.7 1194.4 L1614.9 1188.3 L1624.2 1182.2 L1633.6 1176.1 L1642.9 1170.1 L1652.3 1164.0 L1661.8 1157.9 L1671.2 1151.8 L1680.7 1145.6 L1690.2 1139.5 L1699.7 1133.3 L1709.3 1127.0 L1718.8 1120.8 L1728.4 1114.4 L1738.0 1108.0 L1747.5 1101.4 L1756.9 1094.6 L1766.2 1087.7 L1775.3 1080.6 L1784.2 1073.2 L1792.9 1065.6 L1801.3 1057.6 L1809.3 1049.4 L1817.1 1040.9 L1824.9 1032.4 L1832.6 1023.6 L1840.2 1014.5 L1847.5 1005.0 L1854.6 995.1 L1861.1 984.7 L1867.0 973.8 L1872.1 962.3 L1875.9 951.0 L1879.3 937.4 L1879.5 923.5 L1879.5 912.5 L1879.5 901.4 L1879.5 890.2 L1879.5 879.1 L1879.5 868.0 L1879.5 856.9 L1879.5 845.8 L1879.5 834.7 L1879.5 823.6 L1879.5 812.6 L1879.5 801.5 L1879.5 790.4 L1879.5 779.3 L1879.5 768.2 L1879.5 757.1 L1879.5 746.0 Z" fill="#DDF2F7"/>
<ellipse cx="1791.5" cy="1222.6" rx="34.0" ry="17.7" fill="#FFFFFF" filter="url(#b2)"/>
<ellipse cx="1885.5" cy="1170.8" rx="51.8" ry="31.9" fill="#FFFFFF" filter="url(#b2)"/>
<ellipse cx="1983.9" cy="1129.4" rx="37.5" ry="20.3" fill="#FFFFFF" filter="url(#b2)"/>
</g>
<g clip-path="url(#fbody)"><g clip-path="url(#liqrect)">
<rect x="1100" y="1352" width="1900" height="800" fill="#E9E066"/>
<path d="M2440.0 1352.0 C2445.0 1363.3 2460.0 1392.0 2470.0 1420.0 C2480.0 1448.0 2492.5 1483.3 2500.0 1520.0 C2507.5 1556.7 2513.0 1600.0 2515.0 1640.0 C2517.0 1680.0 2515.3 1720.0 2512.0 1760.0 C2508.7 1800.0 2502.0 1841.7 2495.0 1880.0 C2488.0 1918.3 2479.2 1956.7 2470.0 1990.0 C2460.8 2023.3 2445.0 2065.0 2440.0 2080.0 L2950 2080 L2950 1352 Z" fill="#D9CF5E" filter="url(#b8)"/>
<path d="M2462.0 1352.0 C2467.3 1368.2 2483.7 1412.0 2494.0 1449.0 C2504.3 1486.0 2518.0 1532.5 2524.0 1574.0 C2530.0 1615.5 2530.0 1660.8 2530.0 1698.0 C2530.0 1735.2 2528.3 1763.8 2524.0 1797.0 C2519.7 1830.2 2511.3 1869.8 2504.0 1897.0 C2496.7 1924.2 2484.0 1949.5 2480.0 1960.0" fill="none" stroke="#C8BE52" stroke-width="10" opacity="0.7" filter="url(#b4)"/>
<path d="M1530.0 1352.0 C1525.0 1364.2 1508.3 1392.2 1500.0 1425.0 C1491.7 1457.8 1483.7 1507.7 1480.0 1549.0 C1476.3 1590.3 1475.0 1631.7 1478.0 1673.0 C1481.0 1714.3 1489.7 1759.7 1498.0 1797.0 C1506.3 1834.3 1517.7 1873.2 1528.0 1897.0 C1538.3 1920.8 1554.7 1932.8 1560.0 1940.0" fill="none" stroke="#CFC558" stroke-width="16" opacity="0.8" filter="url(#b4)"/>
<path d="M1530.0 1352.0 C1525.0 1364.2 1508.3 1392.2 1500.0 1425.0 C1491.7 1457.8 1483.7 1507.7 1480.0 1549.0 C1476.3 1590.3 1475.0 1631.7 1478.0 1673.0 C1481.0 1714.3 1489.7 1759.7 1498.0 1797.0 C1506.3 1834.3 1517.7 1873.2 1528.0 1897.0 C1538.3 1920.8 1554.7 1932.8 1560.0 1940.0 L1640.0 1940.0 C1631.7 1916.7 1601.7 1848.3 1590.0 1800.0 C1578.3 1751.7 1572.5 1700.0 1570.0 1650.0 C1567.5 1600.0 1570.0 1549.7 1575.0 1500.0 C1580.0 1450.3 1595.8 1376.7 1600.0 1352.0 Z" fill="#DDD35F" opacity="0.7" filter="url(#b8)"/>
<path d="M1284.0 1660.0 C1288.3 1676.7 1299.0 1730.0 1310.0 1760.0 C1321.0 1790.0 1336.0 1820.0 1350.0 1840.0 C1364.0 1860.0 1378.3 1862.3 1394.0 1880.0 C1409.7 1897.7 1435.7 1935.0 1444.0 1946.0" fill="none" stroke="#D2C85A" stroke-width="14" opacity="0.8" filter="url(#b4)"/>
<path d="M1760.0 1945.0 C1783.3 1941.2 1853.7 1927.2 1900.0 1922.0 C1946.3 1916.8 1988.0 1915.0 2038.0 1914.0 C2088.0 1913.0 2151.3 1914.2 2200.0 1916.0 C2248.7 1917.8 2308.3 1923.5 2330.0 1925.0" fill="none" stroke="#F3E768" stroke-width="18" filter="url(#b4)"/>
<ellipse cx="2040" cy="1996" rx="490" ry="44" fill="#DCD25E" stroke="#F2E668" stroke-width="8" filter="url(#b2)"/>
<g mask="url(#mL)"><path d="M1851.5 746.0 L1851.5 757.1 L1851.5 768.2 L1851.5 779.3 L1851.5 790.4 L1851.5 801.5 L1851.5 812.6 L1851.5 823.6 L1851.5 834.7 L1851.5 845.8 L1851.5 856.9 L1851.5 868.0 L1851.5 879.1 L1851.5 890.2 L1851.5 901.4 L1851.5 912.5 L1851.5 923.5 L1851.5 934.5 L1849.3 945.3 L1847.0 956.0 L1844.0 966.5 L1840.4 976.8 L1836.2 986.8 L1831.4 996.5 L1826.1 1006.0 L1820.3 1015.1 L1813.9 1023.9 L1807.1 1032.4 L1799.8 1040.5 L1792.1 1048.4 L1784.1 1056.0 L1775.8 1063.3 L1767.2 1070.4 L1758.3 1077.4 L1749.2 1084.1 L1740.0 1090.7 L1730.6 1097.2 L1721.2 1103.6 L1711.7 1109.9 L1702.1 1116.2 L1692.6 1122.4 L1683.1 1128.6 L1673.6 1134.7 L1664.1 1140.8 L1654.7 1147.0 L1645.3 1153.1 L1635.9 1159.2 L1626.5 1165.3 L1617.1 1171.3 L1607.8 1177.4 L1598.5 1183.6 L1589.3 1189.7 L1580.0 1195.8 L1570.9 1202.0 L1561.7 1208.2 L1552.6 1214.4 L1543.5 1220.7 L1534.5 1227.0 L1525.6 1233.3 L1516.6 1239.7 L1507.8 1246.2 L1499.0 1252.7 L1490.2 1259.3 L1481.5 1265.9 L1472.9 1272.6 L1464.3 1279.4 L1455.7 1286.3 L1447.3 1293.3 L1438.9 1300.3 L1430.6 1307.5 L1422.3 1314.7 L1414.1 1322.1 L1406.0 1329.5 L1398.0 1337.1 L1390.0 1344.8 L1382.1 1352.6 L1374.3 1360.6 L1366.6 1368.7 L1359.0 1376.9 L1351.5 1385.2 L1344.1 1393.6 L1336.9 1402.2 L1329.8 1410.9 L1322.8 1419.7 L1316.0 1428.6 L1309.3 1437.6 L1302.8 1446.8 L1296.5 1456.0 L1290.4 1465.4 L1284.5 1474.8 L1278.8 1484.4 L1273.3 1494.1 L1268.1 1503.8 L1263.1 1513.7 L1258.3 1523.6 L1253.9 1533.7 L1249.6 1543.8 L1245.7 1554.1 L1242.0 1564.4 L1238.7 1574.8 L1235.6 1585.3 L1232.9 1595.9 L1230.5 1606.6 L1228.4 1617.3 L1226.7 1628.2 L1225.3 1639.1 L1224.3 1650.1 L1223.6 1661.1 L1223.4 1672.2 L1223.5 1683.4 L1224.0 1694.5 L1224.9 1705.6 L1226.2 1716.7 L1227.9 1727.8 L1230.0 1738.7 L1232.6 1749.6 L1235.5 1760.3 L1238.9 1770.9 L1242.7 1781.3 L1246.9 1791.5 L1251.6 1801.5 L1256.7 1811.3 L1262.3 1820.8 L1268.2 1830.1 L1274.6 1839.1 L1281.3 1847.9 L1288.3 1856.5 L1295.6 1864.9 L1303.2 1873.1 L1311.1 1881.0 L1319.1 1888.8 L1327.3 1896.4 L1335.7 1903.8 L1344.2 1911.0 L1352.9 1918.1 L1361.6 1925.0 L1370.5 1931.7 L1379.5 1938.3 L1388.6 1944.7 L1397.8 1950.9 L1407.2 1957.0 L1416.6 1962.8 L1426.1 1968.5 L1435.7 1974.1 L1445.4 1979.5 L1455.2 1984.7 L1465.1 1989.8 L1475.1 1994.6 L1485.1 1999.4 L1495.2 2003.9 L1505.3 2008.3 L1515.5 2012.6 L1525.8 2016.7 L1536.1 2020.6 L1546.5 2024.3 L1556.9 2027.9 L1567.3 2031.4 L1577.8 2034.6 L1588.3 2037.8 L1598.9 2040.7 L1609.5 2043.6 L1620.1 2046.2 L1630.7 2048.8 L1641.4 2051.1 L1652.1 2053.4 L1662.8 2055.5 L1673.5 2057.5 L1684.3 2059.3 L1695.1 2061.1 L1705.9 2062.7 L1716.7 2064.2 L1727.6 2065.6 L1738.5 2066.8 L1749.4 2068.0 L1760.3 2069.1 L1771.3 2070.0 L1782.2 2070.9 L1793.2 2071.7 L1804.2 2072.3 L1815.2 2072.9 L1826.3 2073.4 L1837.3 2073.9 L1848.4 2074.2 L1859.5 2074.5 L1870.6 2074.7 L1881.7 2074.8 L1892.8 2074.9 L1904.0 2074.9 L1915.1 2074.9 L1926.3 2074.8 L1937.4 2074.7 L1948.6 2074.5 L1959.8 2074.3 L1971.0 2074.0 L1982.2 2073.7 L1993.4 2073.3 L2004.7 2073.0 L2015.9 2072.6 L2027.1 2072.2 L2038.4 2071.7 L2049.6 2071.3 L2060.9 2070.8 L2072.1 2070.3 L2083.4 2069.9 L2094.6 2069.4 L2105.9 2068.9 L2117.1 2068.4 L2128.4 2068.0 L2139.6 2067.5 L2150.9 2067.0 L2162.1 2066.6 L2173.4 2066.2 L2184.6 2065.8 L2195.8 2065.5 L2207.1 2065.2 L2218.3 2064.8 L2229.5 2064.6 L2240.7 2064.3 L2251.9 2064.0 L2263.1 2063.7 L2274.3 2063.3 L2285.4 2063.0 L2296.6 2062.6 L2307.7 2062.2 L2318.8 2061.7 L2329.9 2061.2 L2341.0 2060.6 L2352.0 2060.0 L2363.0 2059.2 L2374.0 2058.4 L2385.0 2057.5 L2395.9 2056.5 L2406.9 2055.4 L2417.7 2054.2 L2428.6 2052.9 L2439.4 2051.5 L2450.2 2049.9 L2461.0 2048.2 L2471.7 2046.3 L2482.3 2044.3 L2493.0 2042.1 L2503.6 2039.8 L2514.1 2037.2 L2524.7 2034.5 L2535.1 2031.6 L2545.6 2028.5 L2555.9 2025.2 L2566.3 2021.7 L2576.5 2018.0 L2586.8 2014.0 L2597.0 2009.9 L2607.1 2005.4 L2617.2 2000.8 L2627.2 1995.9 L2637.1 1990.7 L2646.9 1985.4 L2656.7 1979.8 L2666.3 1974.0 L2675.8 1967.9 L2685.2 1961.7 L2694.5 1955.2 L2703.6 1948.5 L2712.6 1941.6 L2721.4 1934.5 L2730.1 1927.3 L2738.5 1919.8 L2746.8 1912.1 L2754.9 1904.2 L2762.8 1896.2 L2770.5 1887.9 L2778.0 1879.5 L2785.2 1870.9 L2792.2 1862.2 L2799.0 1853.2 L2805.4 1844.1 L2811.7 1834.8 L2817.6 1825.4 L2823.3 1815.8 L2828.6 1806.1 L2833.7 1796.3 L2838.4 1786.3 L2842.8 1776.2 L2846.9 1766.0 L2850.6 1755.7 L2854.0 1745.3 L2857.0 1734.9 L2859.6 1724.4 L2861.9 1713.8 L2863.7 1703.1 L2865.1 1692.5 L2866.1 1681.7 L2866.7 1671.0 L2866.8 1660.2 L2866.5 1649.5 L2865.8 1638.7 L2864.7 1627.9 L2863.2 1617.2 L2861.3 1606.5 L2859.0 1595.8 L2856.4 1585.1 L2853.4 1574.4 L2850.1 1563.8 L2846.5 1553.3 L2842.5 1542.8 L2838.3 1532.4 L2833.8 1522.1 L2829.0 1511.8 L2823.9 1501.6 L2818.6 1491.5 L2813.1 1481.5 L2807.3 1471.6 L2801.3 1461.8 L2795.1 1452.2 L2788.8 1442.6 L2782.2 1433.2 L2775.5 1424.0 L2768.7 1414.8 L2761.7 1405.9 L2754.5 1397.1 L2747.3 1388.4 L2739.9 1379.9 L2732.5 1371.6 L2725.0 1363.5 L2717.3 1355.5 L2709.6 1347.7 L2701.8 1340.0 L2693.9 1332.5 L2685.9 1325.1 L2677.8 1317.8 L2669.7 1310.6 L2661.5 1303.6 L2653.2 1296.7 L2644.8 1289.9 L2636.3 1283.1 L2627.8 1276.5 L2619.2 1270.0 L2610.5 1263.5 L2601.8 1257.1 L2593.0 1250.8 L2584.1 1244.6 L2575.2 1238.4 L2566.2 1232.2 L2557.2 1226.1 L2548.1 1220.1 L2538.9 1214.0 L2529.7 1208.0 L2520.5 1202.0 L2511.2 1196.1 L2501.8 1190.1 L2492.5 1184.1 L2483.0 1178.2 L2473.6 1172.2 L2464.1 1166.2 L2454.5 1160.2 L2444.9 1154.1 L2435.3 1148.1 L2425.7 1141.9 L2416.0 1135.8 L2406.3 1129.6 L2396.6 1123.3 L2386.8 1116.9 L2377.1 1110.5 L2367.3 1104.0 L2357.5 1097.4 L2347.9 1090.8 L2338.3 1083.9 L2328.9 1077.0 L2319.7 1069.9 L2310.8 1062.7 L2302.1 1055.2 L2293.8 1047.6 L2285.9 1039.8 L2278.4 1031.8 L2271.3 1023.5 L2264.8 1015.0 L2258.8 1006.2 L2253.5 997.2 L2248.7 987.9 L2244.7 978.3 L2241.4 968.3 L2238.8 958.1 L2237.1 947.5 L2236.1 936.6 L2235.5 925.6 L2235.5 914.4 L2235.5 903.3 L2235.5 892.2 L2235.5 881.1 L2235.5 870.0 L2235.5 858.9 L2235.5 847.8 L2235.5 836.7 L2235.5 825.6 L2235.5 814.6 L2235.5 803.5 L2235.5 792.4 L2235.5 781.3 L2235.5 770.2 L2235.5 759.1 L2235.5 746.0 Z" fill="none" stroke="#F5E968" stroke-width="84" filter="url(#b4)"/><path d="M1851.5 746.0 L1851.5 757.1 L1851.5 768.2 L1851.5 779.3 L1851.5 790.4 L1851.5 801.5 L1851.5 812.6 L1851.5 823.6 L1851.5 834.7 L1851.5 845.8 L1851.5 856.9 L1851.5 868.0 L1851.5 879.1 L1851.5 890.2 L1851.5 901.4 L1851.5 912.5 L1851.5 923.5 L1851.5 934.5 L1849.3 945.3 L1847.0 956.0 L1844.0 966.5 L1840.4 976.8 L1836.2 986.8 L1831.4 996.5 L1826.1 1006.0 L1820.3 1015.1 L1813.9 1023.9 L1807.1 1032.4 L1799.8 1040.5 L1792.1 1048.4 L1784.1 1056.0 L1775.8 1063.3 L1767.2 1070.4 L1758.3 1077.4 L1749.2 1084.1 L1740.0 1090.7 L1730.6 1097.2 L1721.2 1103.6 L1711.7 1109.9 L1702.1 1116.2 L1692.6 1122.4 L1683.1 1128.6 L1673.6 1134.7 L1664.1 1140.8 L1654.7 1147.0 L1645.3 1153.1 L1635.9 1159.2 L1626.5 1165.3 L1617.1 1171.3 L1607.8 1177.4 L1598.5 1183.6 L1589.3 1189.7 L1580.0 1195.8 L1570.9 1202.0 L1561.7 1208.2 L1552.6 1214.4 L1543.5 1220.7 L1534.5 1227.0 L1525.6 1233.3 L1516.6 1239.7 L1507.8 1246.2 L1499.0 1252.7 L1490.2 1259.3 L1481.5 1265.9 L1472.9 1272.6 L1464.3 1279.4 L1455.7 1286.3 L1447.3 1293.3 L1438.9 1300.3 L1430.6 1307.5 L1422.3 1314.7 L1414.1 1322.1 L1406.0 1329.5 L1398.0 1337.1 L1390.0 1344.8 L1382.1 1352.6 L1374.3 1360.6 L1366.6 1368.7 L1359.0 1376.9 L1351.5 1385.2 L1344.1 1393.6 L1336.9 1402.2 L1329.8 1410.9 L1322.8 1419.7 L1316.0 1428.6 L1309.3 1437.6 L1302.8 1446.8 L1296.5 1456.0 L1290.4 1465.4 L1284.5 1474.8 L1278.8 1484.4 L1273.3 1494.1 L1268.1 1503.8 L1263.1 1513.7 L1258.3 1523.6 L1253.9 1533.7 L1249.6 1543.8 L1245.7 1554.1 L1242.0 1564.4 L1238.7 1574.8 L1235.6 1585.3 L1232.9 1595.9 L1230.5 1606.6 L1228.4 1617.3 L1226.7 1628.2 L1225.3 1639.1 L1224.3 1650.1 L1223.6 1661.1 L1223.4 1672.2 L1223.5 1683.4 L1224.0 1694.5 L1224.9 1705.6 L1226.2 1716.7 L1227.9 1727.8 L1230.0 1738.7 L1232.6 1749.6 L1235.5 1760.3 L1238.9 1770.9 L1242.7 1781.3 L1246.9 1791.5 L1251.6 1801.5 L1256.7 1811.3 L1262.3 1820.8 L1268.2 1830.1 L1274.6 1839.1 L1281.3 1847.9 L1288.3 1856.5 L1295.6 1864.9 L1303.2 1873.1 L1311.1 1881.0 L1319.1 1888.8 L1327.3 1896.4 L1335.7 1903.8 L1344.2 1911.0 L1352.9 1918.1 L1361.6 1925.0 L1370.5 1931.7 L1379.5 1938.3 L1388.6 1944.7 L1397.8 1950.9 L1407.2 1957.0 L1416.6 1962.8 L1426.1 1968.5 L1435.7 1974.1 L1445.4 1979.5 L1455.2 1984.7 L1465.1 1989.8 L1475.1 1994.6 L1485.1 1999.4 L1495.2 2003.9 L1505.3 2008.3 L1515.5 2012.6 L1525.8 2016.7 L1536.1 2020.6 L1546.5 2024.3 L1556.9 2027.9 L1567.3 2031.4 L1577.8 2034.6 L1588.3 2037.8 L1598.9 2040.7 L1609.5 2043.6 L1620.1 2046.2 L1630.7 2048.8 L1641.4 2051.1 L1652.1 2053.4 L1662.8 2055.5 L1673.5 2057.5 L1684.3 2059.3 L1695.1 2061.1 L1705.9 2062.7 L1716.7 2064.2 L1727.6 2065.6 L1738.5 2066.8 L1749.4 2068.0 L1760.3 2069.1 L1771.3 2070.0 L1782.2 2070.9 L1793.2 2071.7 L1804.2 2072.3 L1815.2 2072.9 L1826.3 2073.4 L1837.3 2073.9 L1848.4 2074.2 L1859.5 2074.5 L1870.6 2074.7 L1881.7 2074.8 L1892.8 2074.9 L1904.0 2074.9 L1915.1 2074.9 L1926.3 2074.8 L1937.4 2074.7 L1948.6 2074.5 L1959.8 2074.3 L1971.0 2074.0 L1982.2 2073.7 L1993.4 2073.3 L2004.7 2073.0 L2015.9 2072.6 L2027.1 2072.2 L2038.4 2071.7 L2049.6 2071.3 L2060.9 2070.8 L2072.1 2070.3 L2083.4 2069.9 L2094.6 2069.4 L2105.9 2068.9 L2117.1 2068.4 L2128.4 2068.0 L2139.6 2067.5 L2150.9 2067.0 L2162.1 2066.6 L2173.4 2066.2 L2184.6 2065.8 L2195.8 2065.5 L2207.1 2065.2 L2218.3 2064.8 L2229.5 2064.6 L2240.7 2064.3 L2251.9 2064.0 L2263.1 2063.7 L2274.3 2063.3 L2285.4 2063.0 L2296.6 2062.6 L2307.7 2062.2 L2318.8 2061.7 L2329.9 2061.2 L2341.0 2060.6 L2352.0 2060.0 L2363.0 2059.2 L2374.0 2058.4 L2385.0 2057.5 L2395.9 2056.5 L2406.9 2055.4 L2417.7 2054.2 L2428.6 2052.9 L2439.4 2051.5 L2450.2 2049.9 L2461.0 2048.2 L2471.7 2046.3 L2482.3 2044.3 L2493.0 2042.1 L2503.6 2039.8 L2514.1 2037.2 L2524.7 2034.5 L2535.1 2031.6 L2545.6 2028.5 L2555.9 2025.2 L2566.3 2021.7 L2576.5 2018.0 L2586.8 2014.0 L2597.0 2009.9 L2607.1 2005.4 L2617.2 2000.8 L2627.2 1995.9 L2637.1 1990.7 L2646.9 1985.4 L2656.7 1979.8 L2666.3 1974.0 L2675.8 1967.9 L2685.2 1961.7 L2694.5 1955.2 L2703.6 1948.5 L2712.6 1941.6 L2721.4 1934.5 L2730.1 1927.3 L2738.5 1919.8 L2746.8 1912.1 L2754.9 1904.2 L2762.8 1896.2 L2770.5 1887.9 L2778.0 1879.5 L2785.2 1870.9 L2792.2 1862.2 L2799.0 1853.2 L2805.4 1844.1 L2811.7 1834.8 L2817.6 1825.4 L2823.3 1815.8 L2828.6 1806.1 L2833.7 1796.3 L2838.4 1786.3 L2842.8 1776.2 L2846.9 1766.0 L2850.6 1755.7 L2854.0 1745.3 L2857.0 1734.9 L2859.6 1724.4 L2861.9 1713.8 L2863.7 1703.1 L2865.1 1692.5 L2866.1 1681.7 L2866.7 1671.0 L2866.8 1660.2 L2866.5 1649.5 L2865.8 1638.7 L2864.7 1627.9 L2863.2 1617.2 L2861.3 1606.5 L2859.0 1595.8 L2856.4 1585.1 L2853.4 1574.4 L2850.1 1563.8 L2846.5 1553.3 L2842.5 1542.8 L2838.3 1532.4 L2833.8 1522.1 L2829.0 1511.8 L2823.9 1501.6 L2818.6 1491.5 L2813.1 1481.5 L2807.3 1471.6 L2801.3 1461.8 L2795.1 1452.2 L2788.8 1442.6 L2782.2 1433.2 L2775.5 1424.0 L2768.7 1414.8 L2761.7 1405.9 L2754.5 1397.1 L2747.3 1388.4 L2739.9 1379.9 L2732.5 1371.6 L2725.0 1363.5 L2717.3 1355.5 L2709.6 1347.7 L2701.8 1340.0 L2693.9 1332.5 L2685.9 1325.1 L2677.8 1317.8 L2669.7 1310.6 L2661.5 1303.6 L2653.2 1296.7 L2644.8 1289.9 L2636.3 1283.1 L2627.8 1276.5 L2619.2 1270.0 L2610.5 1263.5 L2601.8 1257.1 L2593.0 1250.8 L2584.1 1244.6 L2575.2 1238.4 L2566.2 1232.2 L2557.2 1226.1 L2548.1 1220.1 L2538.9 1214.0 L2529.7 1208.0 L2520.5 1202.0 L2511.2 1196.1 L2501.8 1190.1 L2492.5 1184.1 L2483.0 1178.2 L2473.6 1172.2 L2464.1 1166.2 L2454.5 1160.2 L2444.9 1154.1 L2435.3 1148.1 L2425.7 1141.9 L2416.0 1135.8 L2406.3 1129.6 L2396.6 1123.3 L2386.8 1116.9 L2377.1 1110.5 L2367.3 1104.0 L2357.5 1097.4 L2347.9 1090.8 L2338.3 1083.9 L2328.9 1077.0 L2319.7 1069.9 L2310.8 1062.7 L2302.1 1055.2 L2293.8 1047.6 L2285.9 1039.8 L2278.4 1031.8 L2271.3 1023.5 L2264.8 1015.0 L2258.8 1006.2 L2253.5 997.2 L2248.7 987.9 L2244.7 978.3 L2241.4 968.3 L2238.8 958.1 L2237.1 947.5 L2236.1 936.6 L2235.5 925.6 L2235.5 914.4 L2235.5 903.3 L2235.5 892.2 L2235.5 881.1 L2235.5 870.0 L2235.5 858.9 L2235.5 847.8 L2235.5 836.7 L2235.5 825.6 L2235.5 814.6 L2235.5 803.5 L2235.5 792.4 L2235.5 781.3 L2235.5 770.2 L2235.5 759.1 L2235.5 746.0 Z" fill="none" stroke="#E4DA63" stroke-width="22" filter="url(#b2)"/></g>
<g mask="url(#mR)"><path d="M1851.5 746.0 L1851.5 757.1 L1851.5 768.2 L1851.5 779.3 L1851.5 790.4 L1851.5 801.5 L1851.5 812.6 L1851.5 823.6 L1851.5 834.7 L1851.5 845.8 L1851.5 856.9 L1851.5 868.0 L1851.5 879.1 L1851.5 890.2 L1851.5 901.4 L1851.5 912.5 L1851.5 923.5 L1851.5 934.5 L1849.3 945.3 L1847.0 956.0 L1844.0 966.5 L1840.4 976.8 L1836.2 986.8 L1831.4 996.5 L1826.1 1006.0 L1820.3 1015.1 L1813.9 1023.9 L1807.1 1032.4 L1799.8 1040.5 L1792.1 1048.4 L1784.1 1056.0 L1775.8 1063.3 L1767.2 1070.4 L1758.3 1077.4 L1749.2 1084.1 L1740.0 1090.7 L1730.6 1097.2 L1721.2 1103.6 L1711.7 1109.9 L1702.1 1116.2 L1692.6 1122.4 L1683.1 1128.6 L1673.6 1134.7 L1664.1 1140.8 L1654.7 1147.0 L1645.3 1153.1 L1635.9 1159.2 L1626.5 1165.3 L1617.1 1171.3 L1607.8 1177.4 L1598.5 1183.6 L1589.3 1189.7 L1580.0 1195.8 L1570.9 1202.0 L1561.7 1208.2 L1552.6 1214.4 L1543.5 1220.7 L1534.5 1227.0 L1525.6 1233.3 L1516.6 1239.7 L1507.8 1246.2 L1499.0 1252.7 L1490.2 1259.3 L1481.5 1265.9 L1472.9 1272.6 L1464.3 1279.4 L1455.7 1286.3 L1447.3 1293.3 L1438.9 1300.3 L1430.6 1307.5 L1422.3 1314.7 L1414.1 1322.1 L1406.0 1329.5 L1398.0 1337.1 L1390.0 1344.8 L1382.1 1352.6 L1374.3 1360.6 L1366.6 1368.7 L1359.0 1376.9 L1351.5 1385.2 L1344.1 1393.6 L1336.9 1402.2 L1329.8 1410.9 L1322.8 1419.7 L1316.0 1428.6 L1309.3 1437.6 L1302.8 1446.8 L1296.5 1456.0 L1290.4 1465.4 L1284.5 1474.8 L1278.8 1484.4 L1273.3 1494.1 L1268.1 1503.8 L1263.1 1513.7 L1258.3 1523.6 L1253.9 1533.7 L1249.6 1543.8 L1245.7 1554.1 L1242.0 1564.4 L1238.7 1574.8 L1235.6 1585.3 L1232.9 1595.9 L1230.5 1606.6 L1228.4 1617.3 L1226.7 1628.2 L1225.3 1639.1 L1224.3 1650.1 L1223.6 1661.1 L1223.4 1672.2 L1223.5 1683.4 L1224.0 1694.5 L1224.9 1705.6 L1226.2 1716.7 L1227.9 1727.8 L1230.0 1738.7 L1232.6 1749.6 L1235.5 1760.3 L1238.9 1770.9 L1242.7 1781.3 L1246.9 1791.5 L1251.6 1801.5 L1256.7 1811.3 L1262.3 1820.8 L1268.2 1830.1 L1274.6 1839.1 L1281.3 1847.9 L1288.3 1856.5 L1295.6 1864.9 L1303.2 1873.1 L1311.1 1881.0 L1319.1 1888.8 L1327.3 1896.4 L1335.7 1903.8 L1344.2 1911.0 L1352.9 1918.1 L1361.6 1925.0 L1370.5 1931.7 L1379.5 1938.3 L1388.6 1944.7 L1397.8 1950.9 L1407.2 1957.0 L1416.6 1962.8 L1426.1 1968.5 L1435.7 1974.1 L1445.4 1979.5 L1455.2 1984.7 L1465.1 1989.8 L1475.1 1994.6 L1485.1 1999.4 L1495.2 2003.9 L1505.3 2008.3 L1515.5 2012.6 L1525.8 2016.7 L1536.1 2020.6 L1546.5 2024.3 L1556.9 2027.9 L1567.3 2031.4 L1577.8 2034.6 L1588.3 2037.8 L1598.9 2040.7 L1609.5 2043.6 L1620.1 2046.2 L1630.7 2048.8 L1641.4 2051.1 L1652.1 2053.4 L1662.8 2055.5 L1673.5 2057.5 L1684.3 2059.3 L1695.1 2061.1 L1705.9 2062.7 L1716.7 2064.2 L1727.6 2065.6 L1738.5 2066.8 L1749.4 2068.0 L1760.3 2069.1 L1771.3 2070.0 L1782.2 2070.9 L1793.2 2071.7 L1804.2 2072.3 L1815.2 2072.9 L1826.3 2073.4 L1837.3 2073.9 L1848.4 2074.2 L1859.5 2074.5 L1870.6 2074.7 L1881.7 2074.8 L1892.8 2074.9 L1904.0 2074.9 L1915.1 2074.9 L1926.3 2074.8 L1937.4 2074.7 L1948.6 2074.5 L1959.8 2074.3 L1971.0 2074.0 L1982.2 2073.7 L1993.4 2073.3 L2004.7 2073.0 L2015.9 2072.6 L2027.1 2072.2 L2038.4 2071.7 L2049.6 2071.3 L2060.9 2070.8 L2072.1 2070.3 L2083.4 2069.9 L2094.6 2069.4 L2105.9 2068.9 L2117.1 2068.4 L2128.4 2068.0 L2139.6 2067.5 L2150.9 2067.0 L2162.1 2066.6 L2173.4 2066.2 L2184.6 2065.8 L2195.8 2065.5 L2207.1 2065.2 L2218.3 2064.8 L2229.5 2064.6 L2240.7 2064.3 L2251.9 2064.0 L2263.1 2063.7 L2274.3 2063.3 L2285.4 2063.0 L2296.6 2062.6 L2307.7 2062.2 L2318.8 2061.7 L2329.9 2061.2 L2341.0 2060.6 L2352.0 2060.0 L2363.0 2059.2 L2374.0 2058.4 L2385.0 2057.5 L2395.9 2056.5 L2406.9 2055.4 L2417.7 2054.2 L2428.6 2052.9 L2439.4 2051.5 L2450.2 2049.9 L2461.0 2048.2 L2471.7 2046.3 L2482.3 2044.3 L2493.0 2042.1 L2503.6 2039.8 L2514.1 2037.2 L2524.7 2034.5 L2535.1 2031.6 L2545.6 2028.5 L2555.9 2025.2 L2566.3 2021.7 L2576.5 2018.0 L2586.8 2014.0 L2597.0 2009.9 L2607.1 2005.4 L2617.2 2000.8 L2627.2 1995.9 L2637.1 1990.7 L2646.9 1985.4 L2656.7 1979.8 L2666.3 1974.0 L2675.8 1967.9 L2685.2 1961.7 L2694.5 1955.2 L2703.6 1948.5 L2712.6 1941.6 L2721.4 1934.5 L2730.1 1927.3 L2738.5 1919.8 L2746.8 1912.1 L2754.9 1904.2 L2762.8 1896.2 L2770.5 1887.9 L2778.0 1879.5 L2785.2 1870.9 L2792.2 1862.2 L2799.0 1853.2 L2805.4 1844.1 L2811.7 1834.8 L2817.6 1825.4 L2823.3 1815.8 L2828.6 1806.1 L2833.7 1796.3 L2838.4 1786.3 L2842.8 1776.2 L2846.9 1766.0 L2850.6 1755.7 L2854.0 1745.3 L2857.0 1734.9 L2859.6 1724.4 L2861.9 1713.8 L2863.7 1703.1 L2865.1 1692.5 L2866.1 1681.7 L2866.7 1671.0 L2866.8 1660.2 L2866.5 1649.5 L2865.8 1638.7 L2864.7 1627.9 L2863.2 1617.2 L2861.3 1606.5 L2859.0 1595.8 L2856.4 1585.1 L2853.4 1574.4 L2850.1 1563.8 L2846.5 1553.3 L2842.5 1542.8 L2838.3 1532.4 L2833.8 1522.1 L2829.0 1511.8 L2823.9 1501.6 L2818.6 1491.5 L2813.1 1481.5 L2807.3 1471.6 L2801.3 1461.8 L2795.1 1452.2 L2788.8 1442.6 L2782.2 1433.2 L2775.5 1424.0 L2768.7 1414.8 L2761.7 1405.9 L2754.5 1397.1 L2747.3 1388.4 L2739.9 1379.9 L2732.5 1371.6 L2725.0 1363.5 L2717.3 1355.5 L2709.6 1347.7 L2701.8 1340.0 L2693.9 1332.5 L2685.9 1325.1 L2677.8 1317.8 L2669.7 1310.6 L2661.5 1303.6 L2653.2 1296.7 L2644.8 1289.9 L2636.3 1283.1 L2627.8 1276.5 L2619.2 1270.0 L2610.5 1263.5 L2601.8 1257.1 L2593.0 1250.8 L2584.1 1244.6 L2575.2 1238.4 L2566.2 1232.2 L2557.2 1226.1 L2548.1 1220.1 L2538.9 1214.0 L2529.7 1208.0 L2520.5 1202.0 L2511.2 1196.1 L2501.8 1190.1 L2492.5 1184.1 L2483.0 1178.2 L2473.6 1172.2 L2464.1 1166.2 L2454.5 1160.2 L2444.9 1154.1 L2435.3 1148.1 L2425.7 1141.9 L2416.0 1135.8 L2406.3 1129.6 L2396.6 1123.3 L2386.8 1116.9 L2377.1 1110.5 L2367.3 1104.0 L2357.5 1097.4 L2347.9 1090.8 L2338.3 1083.9 L2328.9 1077.0 L2319.7 1069.9 L2310.8 1062.7 L2302.1 1055.2 L2293.8 1047.6 L2285.9 1039.8 L2278.4 1031.8 L2271.3 1023.5 L2264.8 1015.0 L2258.8 1006.2 L2253.5 997.2 L2248.7 987.9 L2244.7 978.3 L2241.4 968.3 L2238.8 958.1 L2237.1 947.5 L2236.1 936.6 L2235.5 925.6 L2235.5 914.4 L2235.5 903.3 L2235.5 892.2 L2235.5 881.1 L2235.5 870.0 L2235.5 858.9 L2235.5 847.8 L2235.5 836.7 L2235.5 825.6 L2235.5 814.6 L2235.5 803.5 L2235.5 792.4 L2235.5 781.3 L2235.5 770.2 L2235.5 759.1 L2235.5 746.0 Z" fill="none" stroke="#FBEE6A" stroke-width="110" filter="url(#b4)"/><path d="M1851.5 746.0 L1851.5 757.1 L1851.5 768.2 L1851.5 779.3 L1851.5 790.4 L1851.5 801.5 L1851.5 812.6 L1851.5 823.6 L1851.5 834.7 L1851.5 845.8 L1851.5 856.9 L1851.5 868.0 L1851.5 879.1 L1851.5 890.2 L1851.5 901.4 L1851.5 912.5 L1851.5 923.5 L1851.5 934.5 L1849.3 945.3 L1847.0 956.0 L1844.0 966.5 L1840.4 976.8 L1836.2 986.8 L1831.4 996.5 L1826.1 1006.0 L1820.3 1015.1 L1813.9 1023.9 L1807.1 1032.4 L1799.8 1040.5 L1792.1 1048.4 L1784.1 1056.0 L1775.8 1063.3 L1767.2 1070.4 L1758.3 1077.4 L1749.2 1084.1 L1740.0 1090.7 L1730.6 1097.2 L1721.2 1103.6 L1711.7 1109.9 L1702.1 1116.2 L1692.6 1122.4 L1683.1 1128.6 L1673.6 1134.7 L1664.1 1140.8 L1654.7 1147.0 L1645.3 1153.1 L1635.9 1159.2 L1626.5 1165.3 L1617.1 1171.3 L1607.8 1177.4 L1598.5 1183.6 L1589.3 1189.7 L1580.0 1195.8 L1570.9 1202.0 L1561.7 1208.2 L1552.6 1214.4 L1543.5 1220.7 L1534.5 1227.0 L1525.6 1233.3 L1516.6 1239.7 L1507.8 1246.2 L1499.0 1252.7 L1490.2 1259.3 L1481.5 1265.9 L1472.9 1272.6 L1464.3 1279.4 L1455.7 1286.3 L1447.3 1293.3 L1438.9 1300.3 L1430.6 1307.5 L1422.3 1314.7 L1414.1 1322.1 L1406.0 1329.5 L1398.0 1337.1 L1390.0 1344.8 L1382.1 1352.6 L1374.3 1360.6 L1366.6 1368.7 L1359.0 1376.9 L1351.5 1385.2 L1344.1 1393.6 L1336.9 1402.2 L1329.8 1410.9 L1322.8 1419.7 L1316.0 1428.6 L1309.3 1437.6 L1302.8 1446.8 L1296.5 1456.0 L1290.4 1465.4 L1284.5 1474.8 L1278.8 1484.4 L1273.3 1494.1 L1268.1 1503.8 L1263.1 1513.7 L1258.3 1523.6 L1253.9 1533.7 L1249.6 1543.8 L1245.7 1554.1 L1242.0 1564.4 L1238.7 1574.8 L1235.6 1585.3 L1232.9 1595.9 L1230.5 1606.6 L1228.4 1617.3 L1226.7 1628.2 L1225.3 1639.1 L1224.3 1650.1 L1223.6 1661.1 L1223.4 1672.2 L1223.5 1683.4 L1224.0 1694.5 L1224.9 1705.6 L1226.2 1716.7 L1227.9 1727.8 L1230.0 1738.7 L1232.6 1749.6 L1235.5 1760.3 L1238.9 1770.9 L1242.7 1781.3 L1246.9 1791.5 L1251.6 1801.5 L1256.7 1811.3 L1262.3 1820.8 L1268.2 1830.1 L1274.6 1839.1 L1281.3 1847.9 L1288.3 1856.5 L1295.6 1864.9 L1303.2 1873.1 L1311.1 1881.0 L1319.1 1888.8 L1327.3 1896.4 L1335.7 1903.8 L1344.2 1911.0 L1352.9 1918.1 L1361.6 1925.0 L1370.5 1931.7 L1379.5 1938.3 L1388.6 1944.7 L1397.8 1950.9 L1407.2 1957.0 L1416.6 1962.8 L1426.1 1968.5 L1435.7 1974.1 L1445.4 1979.5 L1455.2 1984.7 L1465.1 1989.8 L1475.1 1994.6 L1485.1 1999.4 L1495.2 2003.9 L1505.3 2008.3 L1515.5 2012.6 L1525.8 2016.7 L1536.1 2020.6 L1546.5 2024.3 L1556.9 2027.9 L1567.3 2031.4 L1577.8 2034.6 L1588.3 2037.8 L1598.9 2040.7 L1609.5 2043.6 L1620.1 2046.2 L1630.7 2048.8 L1641.4 2051.1 L1652.1 2053.4 L1662.8 2055.5 L1673.5 2057.5 L1684.3 2059.3 L1695.1 2061.1 L1705.9 2062.7 L1716.7 2064.2 L1727.6 2065.6 L1738.5 2066.8 L1749.4 2068.0 L1760.3 2069.1 L1771.3 2070.0 L1782.2 2070.9 L1793.2 2071.7 L1804.2 2072.3 L1815.2 2072.9 L1826.3 2073.4 L1837.3 2073.9 L1848.4 2074.2 L1859.5 2074.5 L1870.6 2074.7 L1881.7 2074.8 L1892.8 2074.9 L1904.0 2074.9 L1915.1 2074.9 L1926.3 2074.8 L1937.4 2074.7 L1948.6 2074.5 L1959.8 2074.3 L1971.0 2074.0 L1982.2 2073.7 L1993.4 2073.3 L2004.7 2073.0 L2015.9 2072.6 L2027.1 2072.2 L2038.4 2071.7 L2049.6 2071.3 L2060.9 2070.8 L2072.1 2070.3 L2083.4 2069.9 L2094.6 2069.4 L2105.9 2068.9 L2117.1 2068.4 L2128.4 2068.0 L2139.6 2067.5 L2150.9 2067.0 L2162.1 2066.6 L2173.4 2066.2 L2184.6 2065.8 L2195.8 2065.5 L2207.1 2065.2 L2218.3 2064.8 L2229.5 2064.6 L2240.7 2064.3 L2251.9 2064.0 L2263.1 2063.7 L2274.3 2063.3 L2285.4 2063.0 L2296.6 2062.6 L2307.7 2062.2 L2318.8 2061.7 L2329.9 2061.2 L2341.0 2060.6 L2352.0 2060.0 L2363.0 2059.2 L2374.0 2058.4 L2385.0 2057.5 L2395.9 2056.5 L2406.9 2055.4 L2417.7 2054.2 L2428.6 2052.9 L2439.4 2051.5 L2450.2 2049.9 L2461.0 2048.2 L2471.7 2046.3 L2482.3 2044.3 L2493.0 2042.1 L2503.6 2039.8 L2514.1 2037.2 L2524.7 2034.5 L2535.1 2031.6 L2545.6 2028.5 L2555.9 2025.2 L2566.3 2021.7 L2576.5 2018.0 L2586.8 2014.0 L2597.0 2009.9 L2607.1 2005.4 L2617.2 2000.8 L2627.2 1995.9 L2637.1 1990.7 L2646.9 1985.4 L2656.7 1979.8 L2666.3 1974.0 L2675.8 1967.9 L2685.2 1961.7 L2694.5 1955.2 L2703.6 1948.5 L2712.6 1941.6 L2721.4 1934.5 L2730.1 1927.3 L2738.5 1919.8 L2746.8 1912.1 L2754.9 1904.2 L2762.8 1896.2 L2770.5 1887.9 L2778.0 1879.5 L2785.2 1870.9 L2792.2 1862.2 L2799.0 1853.2 L2805.4 1844.1 L2811.7 1834.8 L2817.6 1825.4 L2823.3 1815.8 L2828.6 1806.1 L2833.7 1796.3 L2838.4 1786.3 L2842.8 1776.2 L2846.9 1766.0 L2850.6 1755.7 L2854.0 1745.3 L2857.0 1734.9 L2859.6 1724.4 L2861.9 1713.8 L2863.7 1703.1 L2865.1 1692.5 L2866.1 1681.7 L2866.7 1671.0 L2866.8 1660.2 L2866.5 1649.5 L2865.8 1638.7 L2864.7 1627.9 L2863.2 1617.2 L2861.3 1606.5 L2859.0 1595.8 L2856.4 1585.1 L2853.4 1574.4 L2850.1 1563.8 L2846.5 1553.3 L2842.5 1542.8 L2838.3 1532.4 L2833.8 1522.1 L2829.0 1511.8 L2823.9 1501.6 L2818.6 1491.5 L2813.1 1481.5 L2807.3 1471.6 L2801.3 1461.8 L2795.1 1452.2 L2788.8 1442.6 L2782.2 1433.2 L2775.5 1424.0 L2768.7 1414.8 L2761.7 1405.9 L2754.5 1397.1 L2747.3 1388.4 L2739.9 1379.9 L2732.5 1371.6 L2725.0 1363.5 L2717.3 1355.5 L2709.6 1347.7 L2701.8 1340.0 L2693.9 1332.5 L2685.9 1325.1 L2677.8 1317.8 L2669.7 1310.6 L2661.5 1303.6 L2653.2 1296.7 L2644.8 1289.9 L2636.3 1283.1 L2627.8 1276.5 L2619.2 1270.0 L2610.5 1263.5 L2601.8 1257.1 L2593.0 1250.8 L2584.1 1244.6 L2575.2 1238.4 L2566.2 1232.2 L2557.2 1226.1 L2548.1 1220.1 L2538.9 1214.0 L2529.7 1208.0 L2520.5 1202.0 L2511.2 1196.1 L2501.8 1190.1 L2492.5 1184.1 L2483.0 1178.2 L2473.6 1172.2 L2464.1 1166.2 L2454.5 1160.2 L2444.9 1154.1 L2435.3 1148.1 L2425.7 1141.9 L2416.0 1135.8 L2406.3 1129.6 L2396.6 1123.3 L2386.8 1116.9 L2377.1 1110.5 L2367.3 1104.0 L2357.5 1097.4 L2347.9 1090.8 L2338.3 1083.9 L2328.9 1077.0 L2319.7 1069.9 L2310.8 1062.7 L2302.1 1055.2 L2293.8 1047.6 L2285.9 1039.8 L2278.4 1031.8 L2271.3 1023.5 L2264.8 1015.0 L2258.8 1006.2 L2253.5 997.2 L2248.7 987.9 L2244.7 978.3 L2241.4 968.3 L2238.8 958.1 L2237.1 947.5 L2236.1 936.6 L2235.5 925.6 L2235.5 914.4 L2235.5 903.3 L2235.5 892.2 L2235.5 881.1 L2235.5 870.0 L2235.5 858.9 L2235.5 847.8 L2235.5 836.7 L2235.5 825.6 L2235.5 814.6 L2235.5 803.5 L2235.5 792.4 L2235.5 781.3 L2235.5 770.2 L2235.5 759.1 L2235.5 746.0 Z" fill="none" stroke="#DDD35F" stroke-width="36" filter="url(#b2)"/></g>
</g></g>
<path d="M1851.5 746.0 L1851.5 757.1 L1851.5 768.2 L1851.5 779.3 L1851.5 790.4 L1851.5 801.5 L1851.5 812.6 L1851.5 823.6 L1851.5 834.7 L1851.5 845.8 L1851.5 856.9 L1851.5 868.0 L1851.5 879.1 L1851.5 890.2 L1851.5 901.4 L1851.5 912.5 L1851.5 923.5 L1851.5 934.5 L1849.3 945.3 L1847.0 956.0 L1844.0 966.5 L1840.4 976.8 L1836.2 986.8 L1831.4 996.5 L1826.1 1006.0 L1820.3 1015.1 L1813.9 1023.9 L1807.1 1032.4 L1799.8 1040.5 L1792.1 1048.4 L1784.1 1056.0 L1775.8 1063.3 L1767.2 1070.4 L1758.3 1077.4 L1749.2 1084.1 L1740.0 1090.7 L1730.6 1097.2 L1721.2 1103.6 L1711.7 1109.9 L1702.1 1116.2 L1692.6 1122.4 L1683.1 1128.6 L1673.6 1134.7 L1664.1 1140.8 L1654.7 1147.0 L1645.3 1153.1 L1635.9 1159.2 L1626.5 1165.3 L1617.1 1171.3 L1607.8 1177.4 L1598.5 1183.6 L1589.3 1189.7 L1580.0 1195.8 L1570.9 1202.0 L1561.7 1208.2 L1552.6 1214.4 L1543.5 1220.7 L1534.5 1227.0 L1525.6 1233.3 L1516.6 1239.7 L1507.8 1246.2 L1499.0 1252.7 L1490.2 1259.3 L1481.5 1265.9 L1472.9 1272.6 L1464.3 1279.4 L1455.7 1286.3 L1447.3 1293.3 L1438.9 1300.3 L1430.6 1307.5 L1422.3 1314.7 L1414.1 1322.1 L1406.0 1329.5 L1398.0 1337.1 L1390.0 1344.8 L1382.1 1352.6 L1374.3 1360.6 L1366.6 1368.7 L1359.0 1376.9 L1351.5 1385.2 L1344.1 1393.6 L1336.9 1402.2 L1329.8 1410.9 L1322.8 1419.7 L1316.0 1428.6 L1309.3 1437.6 L1302.8 1446.8 L1296.5 1456.0 L1290.4 1465.4 L1284.5 1474.8 L1278.8 1484.4 L1273.3 1494.1 L1268.1 1503.8 L1263.1 1513.7 L1258.3 1523.6 L1253.9 1533.7 L1249.6 1543.8 L1245.7 1554.1 L1242.0 1564.4 L1238.7 1574.8 L1235.6 1585.3 L1232.9 1595.9 L1230.5 1606.6 L1228.4 1617.3 L1226.7 1628.2 L1225.3 1639.1 L1224.3 1650.1 L1223.6 1661.1 L1223.4 1672.2 L1223.5 1683.4 L1224.0 1694.5 L1224.9 1705.6 L1226.2 1716.7 L1227.9 1727.8 L1230.0 1738.7 L1232.6 1749.6 L1235.5 1760.3 L1238.9 1770.9 L1242.7 1781.3 L1246.9 1791.5 L1251.6 1801.5 L1256.7 1811.3 L1262.3 1820.8 L1268.2 1830.1 L1274.6 1839.1 L1281.3 1847.9 L1288.3 1856.5 L1295.6 1864.9 L1303.2 1873.1 L1311.1 1881.0 L1319.1 1888.8 L1327.3 1896.4 L1335.7 1903.8 L1344.2 1911.0 L1352.9 1918.1 L1361.6 1925.0 L1370.5 1931.7 L1379.5 1938.3 L1388.6 1944.7 L1397.8 1950.9 L1407.2 1957.0 L1416.6 1962.8 L1426.1 1968.5 L1435.7 1974.1 L1445.4 1979.5 L1455.2 1984.7 L1465.1 1989.8 L1475.1 1994.6 L1485.1 1999.4 L1495.2 2003.9 L1505.3 2008.3 L1515.5 2012.6 L1525.8 2016.7 L1536.1 2020.6 L1546.5 2024.3 L1556.9 2027.9 L1567.3 2031.4 L1577.8 2034.6 L1588.3 2037.8 L1598.9 2040.7 L1609.5 2043.6 L1620.1 2046.2 L1630.7 2048.8 L1641.4 2051.1 L1652.1 2053.4 L1662.8 2055.5 L1673.5 2057.5 L1684.3 2059.3 L1695.1 2061.1 L1705.9 2062.7 L1716.7 2064.2 L1727.6 2065.6 L1738.5 2066.8 L1749.4 2068.0 L1760.3 2069.1 L1771.3 2070.0 L1782.2 2070.9 L1793.2 2071.7 L1804.2 2072.3 L1815.2 2072.9 L1826.3 2073.4 L1837.3 2073.9 L1848.4 2074.2 L1859.5 2074.5 L1870.6 2074.7 L1881.7 2074.8 L1892.8 2074.9 L1904.0 2074.9 L1915.1 2074.9 L1926.3 2074.8 L1937.4 2074.7 L1948.6 2074.5 L1959.8 2074.3 L1971.0 2074.0 L1982.2 2073.7 L1993.4 2073.3 L2004.7 2073.0 L2015.9 2072.6 L2027.1 2072.2 L2038.4 2071.7 L2049.6 2071.3 L2060.9 2070.8 L2072.1 2070.3 L2083.4 2069.9 L2094.6 2069.4 L2105.9 2068.9 L2117.1 2068.4 L2128.4 2068.0 L2139.6 2067.5 L2150.9 2067.0 L2162.1 2066.6 L2173.4 2066.2 L2184.6 2065.8 L2195.8 2065.5 L2207.1 2065.2 L2218.3 2064.8 L2229.5 2064.6 L2240.7 2064.3 L2251.9 2064.0 L2263.1 2063.7 L2274.3 2063.3 L2285.4 2063.0 L2296.6 2062.6 L2307.7 2062.2 L2318.8 2061.7 L2329.9 2061.2 L2341.0 2060.6 L2352.0 2060.0 L2363.0 2059.2 L2374.0 2058.4 L2385.0 2057.5 L2395.9 2056.5 L2406.9 2055.4 L2417.7 2054.2 L2428.6 2052.9 L2439.4 2051.5 L2450.2 2049.9 L2461.0 2048.2 L2471.7 2046.3 L2482.3 2044.3 L2493.0 2042.1 L2503.6 2039.8 L2514.1 2037.2 L2524.7 2034.5 L2535.1 2031.6 L2545.6 2028.5 L2555.9 2025.2 L2566.3 2021.7 L2576.5 2018.0 L2586.8 2014.0 L2597.0 2009.9 L2607.1 2005.4 L2617.2 2000.8 L2627.2 1995.9 L2637.1 1990.7 L2646.9 1985.4 L2656.7 1979.8 L2666.3 1974.0 L2675.8 1967.9 L2685.2 1961.7 L2694.5 1955.2 L2703.6 1948.5 L2712.6 1941.6 L2721.4 1934.5 L2730.1 1927.3 L2738.5 1919.8 L2746.8 1912.1 L2754.9 1904.2 L2762.8 1896.2 L2770.5 1887.9 L2778.0 1879.5 L2785.2 1870.9 L2792.2 1862.2 L2799.0 1853.2 L2805.4 1844.1 L2811.7 1834.8 L2817.6 1825.4 L2823.3 1815.8 L2828.6 1806.1 L2833.7 1796.3 L2838.4 1786.3 L2842.8 1776.2 L2846.9 1766.0 L2850.6 1755.7 L2854.0 1745.3 L2857.0 1734.9 L2859.6 1724.4 L2861.9 1713.8 L2863.7 1703.1 L2865.1 1692.5 L2866.1 1681.7 L2866.7 1671.0 L2866.8 1660.2 L2866.5 1649.5 L2865.8 1638.7 L2864.7 1627.9 L2863.2 1617.2 L2861.3 1606.5 L2859.0 1595.8 L2856.4 1585.1 L2853.4 1574.4 L2850.1 1563.8 L2846.5 1553.3 L2842.5 1542.8 L2838.3 1532.4 L2833.8 1522.1 L2829.0 1511.8 L2823.9 1501.6 L2818.6 1491.5 L2813.1 1481.5 L2807.3 1471.6 L2801.3 1461.8 L2795.1 1452.2 L2788.8 1442.6 L2782.2 1433.2 L2775.5 1424.0 L2768.7 1414.8 L2761.7 1405.9 L2754.5 1397.1 L2747.3 1388.4 L2739.9 1379.9 L2732.5 1371.6 L2725.0 1363.5 L2717.3 1355.5 L2709.6 1347.7 L2701.8 1340.0 L2693.9 1332.5 L2685.9 1325.1 L2677.8 1317.8 L2669.7 1310.6 L2661.5 1303.6 L2653.2 1296.7 L2644.8 1289.9 L2636.3 1283.1 L2627.8 1276.5 L2619.2 1270.0 L2610.5 1263.5 L2601.8 1257.1 L2593.0 1250.8 L2584.1 1244.6 L2575.2 1238.4 L2566.2 1232.2 L2557.2 1226.1 L2548.1 1220.1 L2538.9 1214.0 L2529.7 1208.0 L2520.5 1202.0 L2511.2 1196.1 L2501.8 1190.1 L2492.5 1184.1 L2483.0 1178.2 L2473.6 1172.2 L2464.1 1166.2 L2454.5 1160.2 L2444.9 1154.1 L2435.3 1148.1 L2425.7 1141.9 L2416.0 1135.8 L2406.3 1129.6 L2396.6 1123.3 L2386.8 1116.9 L2377.1 1110.5 L2367.3 1104.0 L2357.5 1097.4 L2347.9 1090.8 L2338.3 1083.9 L2328.9 1077.0 L2319.7 1069.9 L2310.8 1062.7 L2302.1 1055.2 L2293.8 1047.6 L2285.9 1039.8 L2278.4 1031.8 L2271.3 1023.5 L2264.8 1015.0 L2258.8 1006.2 L2253.5 997.2 L2248.7 987.9 L2244.7 978.3 L2241.4 968.3 L2238.8 958.1 L2237.1 947.5 L2236.1 936.6 L2235.5 925.6 L2235.5 914.4 L2235.5 903.3 L2235.5 892.2 L2235.5 881.1 L2235.5 870.0 L2235.5 858.9 L2235.5 847.8 L2235.5 836.7 L2235.5 825.6 L2235.5 814.6 L2235.5 803.5 L2235.5 792.4 L2235.5 781.3 L2235.5 770.2 L2235.5 759.1 L2235.5 746.0" fill="none" stroke="#3C3C3C" stroke-width="5" stroke-linejoin="round"/>
<g clip-path="url(#lowerclip)"><path d="M1851.5 746.0 L1851.5 757.1 L1851.5 768.2 L1851.5 779.3 L1851.5 790.4 L1851.5 801.5 L1851.5 812.6 L1851.5 823.6 L1851.5 834.7 L1851.5 845.8 L1851.5 856.9 L1851.5 868.0 L1851.5 879.1 L1851.5 890.2 L1851.5 901.4 L1851.5 912.5 L1851.5 923.5 L1851.5 934.5 L1849.3 945.3 L1847.0 956.0 L1844.0 966.5 L1840.4 976.8 L1836.2 986.8 L1831.4 996.5 L1826.1 1006.0 L1820.3 1015.1 L1813.9 1023.9 L1807.1 1032.4 L1799.8 1040.5 L1792.1 1048.4 L1784.1 1056.0 L1775.8 1063.3 L1767.2 1070.4 L1758.3 1077.4 L1749.2 1084.1 L1740.0 1090.7 L1730.6 1097.2 L1721.2 1103.6 L1711.7 1109.9 L1702.1 1116.2 L1692.6 1122.4 L1683.1 1128.6 L1673.6 1134.7 L1664.1 1140.8 L1654.7 1147.0 L1645.3 1153.1 L1635.9 1159.2 L1626.5 1165.3 L1617.1 1171.3 L1607.8 1177.4 L1598.5 1183.6 L1589.3 1189.7 L1580.0 1195.8 L1570.9 1202.0 L1561.7 1208.2 L1552.6 1214.4 L1543.5 1220.7 L1534.5 1227.0 L1525.6 1233.3 L1516.6 1239.7 L1507.8 1246.2 L1499.0 1252.7 L1490.2 1259.3 L1481.5 1265.9 L1472.9 1272.6 L1464.3 1279.4 L1455.7 1286.3 L1447.3 1293.3 L1438.9 1300.3 L1430.6 1307.5 L1422.3 1314.7 L1414.1 1322.1 L1406.0 1329.5 L1398.0 1337.1 L1390.0 1344.8 L1382.1 1352.6 L1374.3 1360.6 L1366.6 1368.7 L1359.0 1376.9 L1351.5 1385.2 L1344.1 1393.6 L1336.9 1402.2 L1329.8 1410.9 L1322.8 1419.7 L1316.0 1428.6 L1309.3 1437.6 L1302.8 1446.8 L1296.5 1456.0 L1290.4 1465.4 L1284.5 1474.8 L1278.8 1484.4 L1273.3 1494.1 L1268.1 1503.8 L1263.1 1513.7 L1258.3 1523.6 L1253.9 1533.7 L1249.6 1543.8 L1245.7 1554.1 L1242.0 1564.4 L1238.7 1574.8 L1235.6 1585.3 L1232.9 1595.9 L1230.5 1606.6 L1228.4 1617.3 L1226.7 1628.2 L1225.3 1639.1 L1224.3 1650.1 L1223.6 1661.1 L1223.4 1672.2 L1223.5 1683.4 L1224.0 1694.5 L1224.9 1705.6 L1226.2 1716.7 L1227.9 1727.8 L1230.0 1738.7 L1232.6 1749.6 L1235.5 1760.3 L1238.9 1770.9 L1242.7 1781.3 L1246.9 1791.5 L1251.6 1801.5 L1256.7 1811.3 L1262.3 1820.8 L1268.2 1830.1 L1274.6 1839.1 L1281.3 1847.9 L1288.3 1856.5 L1295.6 1864.9 L1303.2 1873.1 L1311.1 1881.0 L1319.1 1888.8 L1327.3 1896.4 L1335.7 1903.8 L1344.2 1911.0 L1352.9 1918.1 L1361.6 1925.0 L1370.5 1931.7 L1379.5 1938.3 L1388.6 1944.7 L1397.8 1950.9 L1407.2 1957.0 L1416.6 1962.8 L1426.1 1968.5 L1435.7 1974.1 L1445.4 1979.5 L1455.2 1984.7 L1465.1 1989.8 L1475.1 1994.6 L1485.1 1999.4 L1495.2 2003.9 L1505.3 2008.3 L1515.5 2012.6 L1525.8 2016.7 L1536.1 2020.6 L1546.5 2024.3 L1556.9 2027.9 L1567.3 2031.4 L1577.8 2034.6 L1588.3 2037.8 L1598.9 2040.7 L1609.5 2043.6 L1620.1 2046.2 L1630.7 2048.8 L1641.4 2051.1 L1652.1 2053.4 L1662.8 2055.5 L1673.5 2057.5 L1684.3 2059.3 L1695.1 2061.1 L1705.9 2062.7 L1716.7 2064.2 L1727.6 2065.6 L1738.5 2066.8 L1749.4 2068.0 L1760.3 2069.1 L1771.3 2070.0 L1782.2 2070.9 L1793.2 2071.7 L1804.2 2072.3 L1815.2 2072.9 L1826.3 2073.4 L1837.3 2073.9 L1848.4 2074.2 L1859.5 2074.5 L1870.6 2074.7 L1881.7 2074.8 L1892.8 2074.9 L1904.0 2074.9 L1915.1 2074.9 L1926.3 2074.8 L1937.4 2074.7 L1948.6 2074.5 L1959.8 2074.3 L1971.0 2074.0 L1982.2 2073.7 L1993.4 2073.3 L2004.7 2073.0 L2015.9 2072.6 L2027.1 2072.2 L2038.4 2071.7 L2049.6 2071.3 L2060.9 2070.8 L2072.1 2070.3 L2083.4 2069.9 L2094.6 2069.4 L2105.9 2068.9 L2117.1 2068.4 L2128.4 2068.0 L2139.6 2067.5 L2150.9 2067.0 L2162.1 2066.6 L2173.4 2066.2 L2184.6 2065.8 L2195.8 2065.5 L2207.1 2065.2 L2218.3 2064.8 L2229.5 2064.6 L2240.7 2064.3 L2251.9 2064.0 L2263.1 2063.7 L2274.3 2063.3 L2285.4 2063.0 L2296.6 2062.6 L2307.7 2062.2 L2318.8 2061.7 L2329.9 2061.2 L2341.0 2060.6 L2352.0 2060.0 L2363.0 2059.2 L2374.0 2058.4 L2385.0 2057.5 L2395.9 2056.5 L2406.9 2055.4 L2417.7 2054.2 L2428.6 2052.9 L2439.4 2051.5 L2450.2 2049.9 L2461.0 2048.2 L2471.7 2046.3 L2482.3 2044.3 L2493.0 2042.1 L2503.6 2039.8 L2514.1 2037.2 L2524.7 2034.5 L2535.1 2031.6 L2545.6 2028.5 L2555.9 2025.2 L2566.3 2021.7 L2576.5 2018.0 L2586.8 2014.0 L2597.0 2009.9 L2607.1 2005.4 L2617.2 2000.8 L2627.2 1995.9 L2637.1 1990.7 L2646.9 1985.4 L2656.7 1979.8 L2666.3 1974.0 L2675.8 1967.9 L2685.2 1961.7 L2694.5 1955.2 L2703.6 1948.5 L2712.6 1941.6 L2721.4 1934.5 L2730.1 1927.3 L2738.5 1919.8 L2746.8 1912.1 L2754.9 1904.2 L2762.8 1896.2 L2770.5 1887.9 L2778.0 1879.5 L2785.2 1870.9 L2792.2 1862.2 L2799.0 1853.2 L2805.4 1844.1 L2811.7 1834.8 L2817.6 1825.4 L2823.3 1815.8 L2828.6 1806.1 L2833.7 1796.3 L2838.4 1786.3 L2842.8 1776.2 L2846.9 1766.0 L2850.6 1755.7 L2854.0 1745.3 L2857.0 1734.9 L2859.6 1724.4 L2861.9 1713.8 L2863.7 1703.1 L2865.1 1692.5 L2866.1 1681.7 L2866.7 1671.0 L2866.8 1660.2 L2866.5 1649.5 L2865.8 1638.7 L2864.7 1627.9 L2863.2 1617.2 L2861.3 1606.5 L2859.0 1595.8 L2856.4 1585.1 L2853.4 1574.4 L2850.1 1563.8 L2846.5 1553.3 L2842.5 1542.8 L2838.3 1532.4 L2833.8 1522.1 L2829.0 1511.8 L2823.9 1501.6 L2818.6 1491.5 L2813.1 1481.5 L2807.3 1471.6 L2801.3 1461.8 L2795.1 1452.2 L2788.8 1442.6 L2782.2 1433.2 L2775.5 1424.0 L2768.7 1414.8 L2761.7 1405.9 L2754.5 1397.1 L2747.3 1388.4 L2739.9 1379.9 L2732.5 1371.6 L2725.0 1363.5 L2717.3 1355.5 L2709.6 1347.7 L2701.8 1340.0 L2693.9 1332.5 L2685.9 1325.1 L2677.8 1317.8 L2669.7 1310.6 L2661.5 1303.6 L2653.2 1296.7 L2644.8 1289.9 L2636.3 1283.1 L2627.8 1276.5 L2619.2 1270.0 L2610.5 1263.5 L2601.8 1257.1 L2593.0 1250.8 L2584.1 1244.6 L2575.2 1238.4 L2566.2 1232.2 L2557.2 1226.1 L2548.1 1220.1 L2538.9 1214.0 L2529.7 1208.0 L2520.5 1202.0 L2511.2 1196.1 L2501.8 1190.1 L2492.5 1184.1 L2483.0 1178.2 L2473.6 1172.2 L2464.1 1166.2 L2454.5 1160.2 L2444.9 1154.1 L2435.3 1148.1 L2425.7 1141.9 L2416.0 1135.8 L2406.3 1129.6 L2396.6 1123.3 L2386.8 1116.9 L2377.1 1110.5 L2367.3 1104.0 L2357.5 1097.4 L2347.9 1090.8 L2338.3 1083.9 L2328.9 1077.0 L2319.7 1069.9 L2310.8 1062.7 L2302.1 1055.2 L2293.8 1047.6 L2285.9 1039.8 L2278.4 1031.8 L2271.3 1023.5 L2264.8 1015.0 L2258.8 1006.2 L2253.5 997.2 L2248.7 987.9 L2244.7 978.3 L2241.4 968.3 L2238.8 958.1 L2237.1 947.5 L2236.1 936.6 L2235.5 925.6 L2235.5 914.4 L2235.5 903.3 L2235.5 892.2 L2235.5 881.1 L2235.5 870.0 L2235.5 858.9 L2235.5 847.8 L2235.5 836.7 L2235.5 825.6 L2235.5 814.6 L2235.5 803.5 L2235.5 792.4 L2235.5 781.3 L2235.5 770.2 L2235.5 759.1 L2235.5 746.0" fill="none" stroke="#555" stroke-width="9" opacity="0.6" filter="url(#b2)"/><path d="M1851.5 746.0 L1851.5 757.1 L1851.5 768.2 L1851.5 779.3 L1851.5 790.4 L1851.5 801.5 L1851.5 812.6 L1851.5 823.6 L1851.5 834.7 L1851.5 845.8 L1851.5 856.9 L1851.5 868.0 L1851.5 879.1 L1851.5 890.2 L1851.5 901.4 L1851.5 912.5 L1851.5 923.5 L1851.5 934.5 L1849.3 945.3 L1847.0 956.0 L1844.0 966.5 L1840.4 976.8 L1836.2 986.8 L1831.4 996.5 L1826.1 1006.0 L1820.3 1015.1 L1813.9 1023.9 L1807.1 1032.4 L1799.8 1040.5 L1792.1 1048.4 L1784.1 1056.0 L1775.8 1063.3 L1767.2 1070.4 L1758.3 1077.4 L1749.2 1084.1 L1740.0 1090.7 L1730.6 1097.2 L1721.2 1103.6 L1711.7 1109.9 L1702.1 1116.2 L1692.6 1122.4 L1683.1 1128.6 L1673.6 1134.7 L1664.1 1140.8 L1654.7 1147.0 L1645.3 1153.1 L1635.9 1159.2 L1626.5 1165.3 L1617.1 1171.3 L1607.8 1177.4 L1598.5 1183.6 L1589.3 1189.7 L1580.0 1195.8 L1570.9 1202.0 L1561.7 1208.2 L1552.6 1214.4 L1543.5 1220.7 L1534.5 1227.0 L1525.6 1233.3 L1516.6 1239.7 L1507.8 1246.2 L1499.0 1252.7 L1490.2 1259.3 L1481.5 1265.9 L1472.9 1272.6 L1464.3 1279.4 L1455.7 1286.3 L1447.3 1293.3 L1438.9 1300.3 L1430.6 1307.5 L1422.3 1314.7 L1414.1 1322.1 L1406.0 1329.5 L1398.0 1337.1 L1390.0 1344.8 L1382.1 1352.6 L1374.3 1360.6 L1366.6 1368.7 L1359.0 1376.9 L1351.5 1385.2 L1344.1 1393.6 L1336.9 1402.2 L1329.8 1410.9 L1322.8 1419.7 L1316.0 1428.6 L1309.3 1437.6 L1302.8 1446.8 L1296.5 1456.0 L1290.4 1465.4 L1284.5 1474.8 L1278.8 1484.4 L1273.3 1494.1 L1268.1 1503.8 L1263.1 1513.7 L1258.3 1523.6 L1253.9 1533.7 L1249.6 1543.8 L1245.7 1554.1 L1242.0 1564.4 L1238.7 1574.8 L1235.6 1585.3 L1232.9 1595.9 L1230.5 1606.6 L1228.4 1617.3 L1226.7 1628.2 L1225.3 1639.1 L1224.3 1650.1 L1223.6 1661.1 L1223.4 1672.2 L1223.5 1683.4 L1224.0 1694.5 L1224.9 1705.6 L1226.2 1716.7 L1227.9 1727.8 L1230.0 1738.7 L1232.6 1749.6 L1235.5 1760.3 L1238.9 1770.9 L1242.7 1781.3 L1246.9 1791.5 L1251.6 1801.5 L1256.7 1811.3 L1262.3 1820.8 L1268.2 1830.1 L1274.6 1839.1 L1281.3 1847.9 L1288.3 1856.5 L1295.6 1864.9 L1303.2 1873.1 L1311.1 1881.0 L1319.1 1888.8 L1327.3 1896.4 L1335.7 1903.8 L1344.2 1911.0 L1352.9 1918.1 L1361.6 1925.0 L1370.5 1931.7 L1379.5 1938.3 L1388.6 1944.7 L1397.8 1950.9 L1407.2 1957.0 L1416.6 1962.8 L1426.1 1968.5 L1435.7 1974.1 L1445.4 1979.5 L1455.2 1984.7 L1465.1 1989.8 L1475.1 1994.6 L1485.1 1999.4 L1495.2 2003.9 L1505.3 2008.3 L1515.5 2012.6 L1525.8 2016.7 L1536.1 2020.6 L1546.5 2024.3 L1556.9 2027.9 L1567.3 2031.4 L1577.8 2034.6 L1588.3 2037.8 L1598.9 2040.7 L1609.5 2043.6 L1620.1 2046.2 L1630.7 2048.8 L1641.4 2051.1 L1652.1 2053.4 L1662.8 2055.5 L1673.5 2057.5 L1684.3 2059.3 L1695.1 2061.1 L1705.9 2062.7 L1716.7 2064.2 L1727.6 2065.6 L1738.5 2066.8 L1749.4 2068.0 L1760.3 2069.1 L1771.3 2070.0 L1782.2 2070.9 L1793.2 2071.7 L1804.2 2072.3 L1815.2 2072.9 L1826.3 2073.4 L1837.3 2073.9 L1848.4 2074.2 L1859.5 2074.5 L1870.6 2074.7 L1881.7 2074.8 L1892.8 2074.9 L1904.0 2074.9 L1915.1 2074.9 L1926.3 2074.8 L1937.4 2074.7 L1948.6 2074.5 L1959.8 2074.3 L1971.0 2074.0 L1982.2 2073.7 L1993.4 2073.3 L2004.7 2073.0 L2015.9 2072.6 L2027.1 2072.2 L2038.4 2071.7 L2049.6 2071.3 L2060.9 2070.8 L2072.1 2070.3 L2083.4 2069.9 L2094.6 2069.4 L2105.9 2068.9 L2117.1 2068.4 L2128.4 2068.0 L2139.6 2067.5 L2150.9 2067.0 L2162.1 2066.6 L2173.4 2066.2 L2184.6 2065.8 L2195.8 2065.5 L2207.1 2065.2 L2218.3 2064.8 L2229.5 2064.6 L2240.7 2064.3 L2251.9 2064.0 L2263.1 2063.7 L2274.3 2063.3 L2285.4 2063.0 L2296.6 2062.6 L2307.7 2062.2 L2318.8 2061.7 L2329.9 2061.2 L2341.0 2060.6 L2352.0 2060.0 L2363.0 2059.2 L2374.0 2058.4 L2385.0 2057.5 L2395.9 2056.5 L2406.9 2055.4 L2417.7 2054.2 L2428.6 2052.9 L2439.4 2051.5 L2450.2 2049.9 L2461.0 2048.2 L2471.7 2046.3 L2482.3 2044.3 L2493.0 2042.1 L2503.6 2039.8 L2514.1 2037.2 L2524.7 2034.5 L2535.1 2031.6 L2545.6 2028.5 L2555.9 2025.2 L2566.3 2021.7 L2576.5 2018.0 L2586.8 2014.0 L2597.0 2009.9 L2607.1 2005.4 L2617.2 2000.8 L2627.2 1995.9 L2637.1 1990.7 L2646.9 1985.4 L2656.7 1979.8 L2666.3 1974.0 L2675.8 1967.9 L2685.2 1961.7 L2694.5 1955.2 L2703.6 1948.5 L2712.6 1941.6 L2721.4 1934.5 L2730.1 1927.3 L2738.5 1919.8 L2746.8 1912.1 L2754.9 1904.2 L2762.8 1896.2 L2770.5 1887.9 L2778.0 1879.5 L2785.2 1870.9 L2792.2 1862.2 L2799.0 1853.2 L2805.4 1844.1 L2811.7 1834.8 L2817.6 1825.4 L2823.3 1815.8 L2828.6 1806.1 L2833.7 1796.3 L2838.4 1786.3 L2842.8 1776.2 L2846.9 1766.0 L2850.6 1755.7 L2854.0 1745.3 L2857.0 1734.9 L2859.6 1724.4 L2861.9 1713.8 L2863.7 1703.1 L2865.1 1692.5 L2866.1 1681.7 L2866.7 1671.0 L2866.8 1660.2 L2866.5 1649.5 L2865.8 1638.7 L2864.7 1627.9 L2863.2 1617.2 L2861.3 1606.5 L2859.0 1595.8 L2856.4 1585.1 L2853.4 1574.4 L2850.1 1563.8 L2846.5 1553.3 L2842.5 1542.8 L2838.3 1532.4 L2833.8 1522.1 L2829.0 1511.8 L2823.9 1501.6 L2818.6 1491.5 L2813.1 1481.5 L2807.3 1471.6 L2801.3 1461.8 L2795.1 1452.2 L2788.8 1442.6 L2782.2 1433.2 L2775.5 1424.0 L2768.7 1414.8 L2761.7 1405.9 L2754.5 1397.1 L2747.3 1388.4 L2739.9 1379.9 L2732.5 1371.6 L2725.0 1363.5 L2717.3 1355.5 L2709.6 1347.7 L2701.8 1340.0 L2693.9 1332.5 L2685.9 1325.1 L2677.8 1317.8 L2669.7 1310.6 L2661.5 1303.6 L2653.2 1296.7 L2644.8 1289.9 L2636.3 1283.1 L2627.8 1276.5 L2619.2 1270.0 L2610.5 1263.5 L2601.8 1257.1 L2593.0 1250.8 L2584.1 1244.6 L2575.2 1238.4 L2566.2 1232.2 L2557.2 1226.1 L2548.1 1220.1 L2538.9 1214.0 L2529.7 1208.0 L2520.5 1202.0 L2511.2 1196.1 L2501.8 1190.1 L2492.5 1184.1 L2483.0 1178.2 L2473.6 1172.2 L2464.1 1166.2 L2454.5 1160.2 L2444.9 1154.1 L2435.3 1148.1 L2425.7 1141.9 L2416.0 1135.8 L2406.3 1129.6 L2396.6 1123.3 L2386.8 1116.9 L2377.1 1110.5 L2367.3 1104.0 L2357.5 1097.4 L2347.9 1090.8 L2338.3 1083.9 L2328.9 1077.0 L2319.7 1069.9 L2310.8 1062.7 L2302.1 1055.2 L2293.8 1047.6 L2285.9 1039.8 L2278.4 1031.8 L2271.3 1023.5 L2264.8 1015.0 L2258.8 1006.2 L2253.5 997.2 L2248.7 987.9 L2244.7 978.3 L2241.4 968.3 L2238.8 958.1 L2237.1 947.5 L2236.1 936.6 L2235.5 925.6 L2235.5 914.4 L2235.5 903.3 L2235.5 892.2 L2235.5 881.1 L2235.5 870.0 L2235.5 858.9 L2235.5 847.8 L2235.5 836.7 L2235.5 825.6 L2235.5 814.6 L2235.5 803.5 L2235.5 792.4 L2235.5 781.3 L2235.5 770.2 L2235.5 759.1 L2235.5 746.0" fill="none" stroke="#2A2A22" stroke-width="6"/></g>
<rect x="1847" y="480" width="389" height="266" fill="#DAF0F6"/>
<rect x="1853" y="480" width="44" height="266" fill="#E2F5F9"/>
<rect x="2137" y="480" width="36" height="266" fill="#ADDFEB"/>
<rect x="2173" y="480" width="56" height="266" fill="#D3EEF5"/>
<line x1="1848" y1="470" x2="1848" y2="748" stroke="#444" stroke-width="5"/>
<line x1="2235" y1="470" x2="2235" y2="748" stroke="#444" stroke-width="5"/>
<line x1="1873" y1="470" x2="1873" y2="635" stroke="#444" stroke-width="3.5"/>
<line x1="2210" y1="470" x2="2210" y2="635" stroke="#444" stroke-width="3.5"/>
<path d="M1869 470 L1869 630 Q2041 662 2213 630 L2213 470 Z" fill="#EAF6F9" stroke="#3C3C3C" stroke-width="4"/>
<path d="M2150 495 L2178 495 L2168 640 L2138 643 Z" fill="#B2E0EC"/>
<path d="M1895 500 Q1900 600 2050 622 Q1960 640 1880 628 L1880 500 Z" fill="#FFFFFF" opacity="0.9"/>
<path d="M1869 470 L1869 630 Q2041 662 2213 630 L2213 470" fill="none" stroke="#3C3C3C" stroke-width="4"/>
<path d="M1778 436 L1778 468 A263 24 0 0 0 2304 468 L2304 436 Z" fill="#C1E6EE" stroke="#3C3C3C" stroke-width="4"/>
<ellipse cx="2041" cy="436" rx="263" ry="27" fill="#E8F6F9" stroke="#3C3C3C" stroke-width="4"/>
<path d="M1869 360 L1869 438 Q2041 455 2213 438 L2213 360 Z" fill="#F0F9FB" stroke="#3C3C3C" stroke-width="4"/>
<path d="M1895 385 Q2041 372 2190 380 L2190 395 Q2100 410 1960 430 Q1900 430 1895 400 Z" fill="#D2EDF4"/>
<path d="M1703 295 L1703 343 A338 29 0 0 0 2379 343 L2379 295 Z" fill="#C1E6EE" stroke="#3C3C3C" stroke-width="4"/>
<ellipse cx="2041" cy="295" rx="338" ry="35" fill="#E6F5F9" stroke="#3C3C3C" stroke-width="4"/></g>
<g transform="translate(1530 1710) scale(0.15183)">
<g opacity="1">
<path d="M690.0 80.0 C708.3 83.3 775.0 80.0 800.0 100.0 C825.0 120.0 846.7 171.7 840.0 200.0 C833.3 228.3 783.3 253.3 760.0 270.0 C736.7 286.7 710.0 295.0 700.0 300.0" fill="none" stroke="#C8C8CC" stroke-width="12.0" stroke-linecap="round"/>
<path d="M100.0 640.0 C95.0 653.3 60.0 700.0 70.0 720.0 C80.0 740.0 128.3 756.7 160.0 760.0 C191.7 763.3 243.3 743.3 260.0 740.0" fill="none" stroke="#C8C8CC" stroke-width="12.0" stroke-linecap="round"/>
<path d="M380.0 850.0 C386.7 868.3 396.7 935.0 420.0 960.0 C443.3 985.0 503.3 993.3 520.0 1000.0" fill="none" stroke="#C8C8CC" stroke-width="12.0" stroke-linecap="round"/>
<path d="M900.0 1150.0 C883.3 1166.7 823.3 1220.0 800.0 1250.0 C776.7 1280.0 766.7 1316.7 760.0 1330.0" fill="none" stroke="#C8C8CC" stroke-width="12.0" stroke-linecap="round"/>
<path d="M600.0 650.0 C616.7 641.7 663.3 615.0 700.0 600.0 C736.7 585.0 800.0 566.7 820.0 560.0" fill="none" stroke="#C8C8CC" stroke-width="12.0" stroke-linecap="round"/>
<path d="M300.0 620.0 C320.0 610.0 376.7 576.7 420.0 560.0 C463.3 543.3 536.7 526.7 560.0 520.0" fill="none" stroke="#C8C8CC" stroke-width="12.0" stroke-linecap="round"/>
<path d="M950.0 780.0 C955.0 800.0 981.7 863.3 980.0 900.0 C978.3 936.7 946.7 983.3 940.0 1000.0" fill="none" stroke="#C8C8CC" stroke-width="12.0" stroke-linecap="round"/>
<path d="M1120.0 60.0 C1125.0 75.0 1153.3 126.7 1150.0 150.0 C1146.7 173.3 1091.7 181.7 1100.0 200.0 C1108.3 218.3 1170.0 235.0 1200.0 260.0 C1230.0 285.0 1266.7 335.0 1280.0 350.0" fill="none" stroke="#F07050" stroke-width="10.0" stroke-linecap="round"/>
<path d="M1300.0 420.0 C1333.3 425.0 1463.3 426.7 1500.0 450.0 C1536.7 473.3 1516.7 541.7 1520.0 560.0" fill="none" stroke="#F07050" stroke-width="10.0" stroke-linecap="round"/>
<path d="M1100.0 1000.0 C1091.7 1025.0 1041.7 1108.3 1050.0 1150.0 C1058.3 1191.7 1133.3 1233.3 1150.0 1250.0" fill="none" stroke="#F07050" stroke-width="10.0" stroke-linecap="round"/>
<path d="M1000.0 700.0 C1016.7 725.0 1058.3 816.7 1100.0 850.0 C1141.7 883.3 1225.0 891.7 1250.0 900.0" fill="none" stroke="#F07050" stroke-width="10.0" stroke-linecap="round"/>
<path d="M1700.0 700.0 C1720.0 703.3 1803.3 693.3 1820.0 720.0 C1836.7 746.7 1803.3 836.7 1800.0 860.0" fill="none" stroke="#F07050" stroke-width="10.0" stroke-linecap="round"/>
<path d="M950.0 900.0 C966.7 908.3 1008.3 933.3 1050.0 950.0 C1091.7 966.7 1175.0 991.7 1200.0 1000.0" fill="none" stroke="#F07050" stroke-width="10.0" stroke-linecap="round"/>
<path d="M1300.0 350.0 C1325.0 358.3 1420.0 375.0 1450.0 400.0 C1480.0 425.0 1475.0 483.3 1480.0 500.0" fill="none" stroke="#F07050" stroke-width="10.0" stroke-linecap="round"/>
<path d="M230.0 860.0 C318.3 788.3 671.7 501.7 760.0 430.0" fill="none" stroke="#707078" stroke-width="39.0" stroke-linecap="round"/><path d="M230.0 860.0 C318.3 788.3 671.7 501.7 760.0 430.0" fill="none" stroke="#B4B4B8" stroke-width="34.0" stroke-linecap="round"/>
<path d="M200.0 780.0 C290.0 728.3 650.0 521.7 740.0 470.0" fill="none" stroke="#707078" stroke-width="39.0" stroke-linecap="round"/><path d="M200.0 780.0 C290.0 728.3 650.0 521.7 740.0 470.0" fill="none" stroke="#B4B4B8" stroke-width="34.0" stroke-linecap="round"/>
<path d="M300.0 820.0 C366.7 770.0 633.3 570.0 700.0 520.0" fill="none" stroke="#707078" stroke-width="39.0" stroke-linecap="round"/><path d="M300.0 820.0 C366.7 770.0 633.3 570.0 700.0 520.0" fill="none" stroke="#B4B4B8" stroke-width="34.0" stroke-linecap="round"/>
<path d="M120.0 560.0 L134.6 562.6 L148.1 563.8 L159.4 562.6 L168.1 558.2 L173.7 550.4 L176.6 539.3 L177.4 525.8 L177.0 511.0 L176.6 496.2 L177.4 482.7 L180.3 471.6 L185.9 463.8 L194.6 459.4 L205.9 458.2 L219.4 459.4 L234.0 462.0 L248.6 464.6 L262.1 465.8 L273.4 464.6 L282.1 460.2 L287.7 452.4 L290.6 441.3 L291.4 427.8 L291.0 413.0 L290.6 398.2 L291.4 384.7 L294.3 373.6 L299.9 365.8 L308.6 361.4 L319.9 360.2 L333.4 361.4 L348.0 364.0 L362.6 366.6 L376.1 367.8 L387.4 366.6 L396.1 362.2 L401.7 354.4 L404.6 343.3 L405.4 329.8 L405.0 315.0 L404.6 300.2 L405.4 286.7 L408.3 275.6 L413.9 267.8 L422.6 263.4 L433.9 262.2 L447.4 263.4 L462.0 266.0 L476.6 268.6 L490.1 269.8 L501.4 268.6 L510.1 264.2 L515.7 256.4 L518.6 245.3 L519.4 231.8 L519.0 217.0 L518.6 202.2 L519.4 188.7 L522.3 177.6 L527.9 169.8 L536.6 165.4 L547.9 164.2 L561.4 165.4 L576.0 168.0 L590.6 170.6 L604.1 171.8 L615.4 170.6 L624.1 166.2 L629.7 158.4 L632.6 147.3 L633.4 133.8 L633.0 119.0 L632.6 104.2 L633.4 90.7 L636.3 79.6 L641.9 71.8 L650.6 67.4 L661.9 66.2 L675.4 67.4 L690.0 70.0" fill="none" stroke="#707078" stroke-width="76.0" stroke-linecap="round" stroke-linejoin="round"/><path d="M120.0 560.0 L134.6 562.6 L148.1 563.8 L159.4 562.6 L168.1 558.2 L173.7 550.4 L176.6 539.3 L177.4 525.8 L177.0 511.0 L176.6 496.2 L177.4 482.7 L180.3 471.6 L185.9 463.8 L194.6 459.4 L205.9 458.2 L219.4 459.4 L234.0 462.0 L248.6 464.6 L262.1 465.8 L273.4 464.6 L282.1 460.2 L287.7 452.4 L290.6 441.3 L291.4 427.8 L291.0 413.0 L290.6 398.2 L291.4 384.7 L294.3 373.6 L299.9 365.8 L308.6 361.4 L319.9 360.2 L333.4 361.4 L348.0 364.0 L362.6 366.6 L376.1 367.8 L387.4 366.6 L396.1 362.2 L401.7 354.4 L404.6 343.3 L405.4 329.8 L405.0 315.0 L404.6 300.2 L405.4 286.7 L408.3 275.6 L413.9 267.8 L422.6 263.4 L433.9 262.2 L447.4 263.4 L462.0 266.0 L476.6 268.6 L490.1 269.8 L501.4 268.6 L510.1 264.2 L515.7 256.4 L518.6 245.3 L519.4 231.8 L519.0 217.0 L518.6 202.2 L519.4 188.7 L522.3 177.6 L527.9 169.8 L536.6 165.4 L547.9 164.2 L561.4 165.4 L576.0 168.0 L590.6 170.6 L604.1 171.8 L615.4 170.6 L624.1 166.2 L629.7 158.4 L632.6 147.3 L633.4 133.8 L633.0 119.0 L632.6 104.2 L633.4 90.7 L636.3 79.6 L641.9 71.8 L650.6 67.4 L661.9 66.2 L675.4 67.4 L690.0 70.0" fill="none" stroke="#B4B4B8" stroke-width="70.0" stroke-linecap="round" stroke-linejoin="round"/><path d="M120.0 560.0 L134.6 562.6 L148.1 563.8 L159.4 562.6 L168.1 558.2 L173.7 550.4 L176.6 539.3 L177.4 525.8 L177.0 511.0 L176.6 496.2 L177.4 482.7 L180.3 471.6 L185.9 463.8 L194.6 459.4 L205.9 458.2 L219.4 459.4 L234.0 462.0 L248.6 464.6 L262.1 465.8 L273.4 464.6 L282.1 460.2 L287.7 452.4 L290.6 441.3 L291.4 427.8 L291.0 413.0 L290.6 398.2 L291.4 384.7 L294.3 373.6 L299.9 365.8 L308.6 361.4 L319.9 360.2 L333.4 361.4 L348.0 364.0 L362.6 366.6 L376.1 367.8 L387.4 366.6 L396.1 362.2 L401.7 354.4 L404.6 343.3 L405.4 329.8 L405.0 315.0 L404.6 300.2 L405.4 286.7 L408.3 275.6 L413.9 267.8 L422.6 263.4 L433.9 262.2 L447.4 263.4 L462.0 266.0 L476.6 268.6 L490.1 269.8 L501.4 268.6 L510.1 264.2 L515.7 256.4 L518.6 245.3 L519.4 231.8 L519.0 217.0 L518.6 202.2 L519.4 188.7 L522.3 177.6 L527.9 169.8 L536.6 165.4 L547.9 164.2 L561.4 165.4 L576.0 168.0 L590.6 170.6 L604.1 171.8 L615.4 170.6 L624.1 166.2 L629.7 158.4 L632.6 147.3 L633.4 133.8 L633.0 119.0 L632.6 104.2 L633.4 90.7 L636.3 79.6 L641.9 71.8 L650.6 67.4 L661.9 66.2 L675.4 67.4 L690.0 70.0" fill="none" stroke="#C8D0F0" stroke-width="21.0" stroke-linecap="round" opacity="0.35" transform="translate(-9.1 -10.6)"/>
<path d="M300.0 470.0 L311.9 473.2 L323.3 475.2 L333.5 475.2 L342.3 472.4 L349.5 466.7 L355.3 458.2 L359.9 447.7 L364.0 436.0 L368.1 424.3 L372.7 413.8 L378.5 405.3 L385.7 399.6 L394.5 396.8 L404.7 396.8 L416.1 398.8 L428.0 402.0 L439.9 405.2 L451.3 407.2 L461.5 407.2 L470.3 404.4 L477.5 398.7 L483.3 390.2 L487.9 379.7 L492.0 368.0 L496.1 356.3 L500.7 345.8 L506.5 337.3 L513.7 331.6 L522.5 328.8 L532.7 328.8 L544.1 330.8 L556.0 334.0 L567.9 337.2 L579.3 339.2 L589.5 339.2 L598.3 336.4 L605.5 330.7 L611.3 322.2 L615.9 311.7 L620.0 300.0" fill="none" stroke="#707078" stroke-width="62.0" stroke-linecap="round" stroke-linejoin="round"/><path d="M300.0 470.0 L311.9 473.2 L323.3 475.2 L333.5 475.2 L342.3 472.4 L349.5 466.7 L355.3 458.2 L359.9 447.7 L364.0 436.0 L368.1 424.3 L372.7 413.8 L378.5 405.3 L385.7 399.6 L394.5 396.8 L404.7 396.8 L416.1 398.8 L428.0 402.0 L439.9 405.2 L451.3 407.2 L461.5 407.2 L470.3 404.4 L477.5 398.7 L483.3 390.2 L487.9 379.7 L492.0 368.0 L496.1 356.3 L500.7 345.8 L506.5 337.3 L513.7 331.6 L522.5 328.8 L532.7 328.8 L544.1 330.8 L556.0 334.0 L567.9 337.2 L579.3 339.2 L589.5 339.2 L598.3 336.4 L605.5 330.7 L611.3 322.2 L615.9 311.7 L620.0 300.0" fill="none" stroke="#B4B4B8" stroke-width="56.0" stroke-linecap="round" stroke-linejoin="round"/><path d="M300.0 470.0 L311.9 473.2 L323.3 475.2 L333.5 475.2 L342.3 472.4 L349.5 466.7 L355.3 458.2 L359.9 447.7 L364.0 436.0 L368.1 424.3 L372.7 413.8 L378.5 405.3 L385.7 399.6 L394.5 396.8 L404.7 396.8 L416.1 398.8 L428.0 402.0 L439.9 405.2 L451.3 407.2 L461.5 407.2 L470.3 404.4 L477.5 398.7 L483.3 390.2 L487.9 379.7 L492.0 368.0 L496.1 356.3 L500.7 345.8 L506.5 337.3 L513.7 331.6 L522.5 328.8 L532.7 328.8 L544.1 330.8 L556.0 334.0 L567.9 337.2 L579.3 339.2 L589.5 339.2 L598.3 336.4 L605.5 330.7 L611.3 322.2 L615.9 311.7 L620.0 300.0" fill="none" stroke="#C8D0F0" stroke-width="16.8" stroke-linecap="round" opacity="0.35" transform="translate(-5.3 -9.9)"/>
<path d="M700.0 1010.0 L713.9 1005.1 L726.2 999.6 L735.5 993.1 L740.8 985.1 L741.7 975.6 L738.7 964.6 L732.7 952.6 L725.0 940.0 L717.3 927.4 L711.3 915.4 L708.3 904.4 L709.2 894.9 L714.5 886.9 L723.8 880.4 L736.1 874.9 L750.0 870.0 L763.9 865.1 L776.2 859.6 L785.5 853.1 L790.8 845.1 L791.7 835.6 L788.7 824.6 L782.7 812.6 L775.0 800.0 L767.3 787.4 L761.3 775.4 L758.3 764.4 L759.2 754.9 L764.5 746.9 L773.8 740.4 L786.1 734.9 L800.0 730.0 L813.9 725.1 L826.2 719.6 L835.5 713.1 L840.8 705.1 L841.7 695.6 L838.7 684.6 L832.7 672.6 L825.0 660.0 L817.3 647.4 L811.3 635.4 L808.3 624.4 L809.2 614.9 L814.5 606.9 L823.8 600.4 L836.1 594.9 L850.0 590.0" fill="none" stroke="#707078" stroke-width="78.0" stroke-linecap="round" stroke-linejoin="round"/><path d="M700.0 1010.0 L713.9 1005.1 L726.2 999.6 L735.5 993.1 L740.8 985.1 L741.7 975.6 L738.7 964.6 L732.7 952.6 L725.0 940.0 L717.3 927.4 L711.3 915.4 L708.3 904.4 L709.2 894.9 L714.5 886.9 L723.8 880.4 L736.1 874.9 L750.0 870.0 L763.9 865.1 L776.2 859.6 L785.5 853.1 L790.8 845.1 L791.7 835.6 L788.7 824.6 L782.7 812.6 L775.0 800.0 L767.3 787.4 L761.3 775.4 L758.3 764.4 L759.2 754.9 L764.5 746.9 L773.8 740.4 L786.1 734.9 L800.0 730.0 L813.9 725.1 L826.2 719.6 L835.5 713.1 L840.8 705.1 L841.7 695.6 L838.7 684.6 L832.7 672.6 L825.0 660.0 L817.3 647.4 L811.3 635.4 L808.3 624.4 L809.2 614.9 L814.5 606.9 L823.8 600.4 L836.1 594.9 L850.0 590.0" fill="none" stroke="#9A9AA0" stroke-width="72.0" stroke-linecap="round" stroke-linejoin="round"/><path d="M700.0 1010.0 L713.9 1005.1 L726.2 999.6 L735.5 993.1 L740.8 985.1 L741.7 975.6 L738.7 964.6 L732.7 952.6 L725.0 940.0 L717.3 927.4 L711.3 915.4 L708.3 904.4 L709.2 894.9 L714.5 886.9 L723.8 880.4 L736.1 874.9 L750.0 870.0 L763.9 865.1 L776.2 859.6 L785.5 853.1 L790.8 845.1 L791.7 835.6 L788.7 824.6 L782.7 812.6 L775.0 800.0 L767.3 787.4 L761.3 775.4 L758.3 764.4 L759.2 754.9 L764.5 746.9 L773.8 740.4 L786.1 734.9 L800.0 730.0 L813.9 725.1 L826.2 719.6 L835.5 713.1 L840.8 705.1 L841.7 695.6 L838.7 684.6 L832.7 672.6 L825.0 660.0 L817.3 647.4 L811.3 635.4 L808.3 624.4 L809.2 614.9 L814.5 606.9 L823.8 600.4 L836.1 594.9 L850.0 590.0" fill="none" stroke="#C8D0F0" stroke-width="21.6" stroke-linecap="round" opacity="0.35" transform="translate(-13.6 -4.8)"/>
<path d="M480.0 930.0 L482.6 943.8 L486.0 956.0 L490.7 965.2 L497.1 970.7 L505.4 971.9 L515.4 969.3 L526.8 963.8 L538.9 956.7 L551.0 949.5 L562.4 944.0 L572.4 941.4 L580.7 942.7 L587.1 948.1 L591.8 957.3 L595.2 969.5 L597.8 983.3 L600.4 997.1 L603.7 1009.3 L608.4 1018.6 L614.8 1024.0 L623.2 1025.2 L633.2 1022.7 L644.6 1017.1 L656.7 1010.0 L668.8 1002.9 L680.1 997.3 L690.2 994.8 L698.5 996.0 L704.9 1001.4 L709.6 1010.7 L712.9 1022.9 L715.6 1036.7 L718.2 1050.5 L721.5 1062.7 L726.2 1071.9 L732.6 1077.3 L740.9 1078.6 L751.0 1076.0 L762.3 1070.5 L774.4 1063.3 L786.5 1056.2 L797.9 1050.7 L808.0 1048.1 L816.3 1049.3 L822.7 1054.8 L827.4 1064.0 L830.7 1076.2 L833.3 1090.0 L836.0 1103.8 L839.3 1116.0 L844.0 1125.2 L850.4 1130.7 L858.7 1131.9 L868.7 1129.3 L880.1 1123.8 L892.2 1116.7 L904.3 1109.5 L915.7 1104.0 L925.7 1101.4 L934.0 1102.7 L940.5 1108.1 L945.1 1117.3 L948.5 1129.5 L951.1 1143.3 L953.7 1157.1 L957.1 1169.3 L961.8 1178.6 L968.2 1184.0 L976.5 1185.2 L986.5 1182.7 L997.9 1177.1 L1010.0 1170.0" fill="none" stroke="#707078" stroke-width="86.0" stroke-linecap="round" stroke-linejoin="round"/><path d="M480.0 930.0 L482.6 943.8 L486.0 956.0 L490.7 965.2 L497.1 970.7 L505.4 971.9 L515.4 969.3 L526.8 963.8 L538.9 956.7 L551.0 949.5 L562.4 944.0 L572.4 941.4 L580.7 942.7 L587.1 948.1 L591.8 957.3 L595.2 969.5 L597.8 983.3 L600.4 997.1 L603.7 1009.3 L608.4 1018.6 L614.8 1024.0 L623.2 1025.2 L633.2 1022.7 L644.6 1017.1 L656.7 1010.0 L668.8 1002.9 L680.1 997.3 L690.2 994.8 L698.5 996.0 L704.9 1001.4 L709.6 1010.7 L712.9 1022.9 L715.6 1036.7 L718.2 1050.5 L721.5 1062.7 L726.2 1071.9 L732.6 1077.3 L740.9 1078.6 L751.0 1076.0 L762.3 1070.5 L774.4 1063.3 L786.5 1056.2 L797.9 1050.7 L808.0 1048.1 L816.3 1049.3 L822.7 1054.8 L827.4 1064.0 L830.7 1076.2 L833.3 1090.0 L836.0 1103.8 L839.3 1116.0 L844.0 1125.2 L850.4 1130.7 L858.7 1131.9 L868.7 1129.3 L880.1 1123.8 L892.2 1116.7 L904.3 1109.5 L915.7 1104.0 L925.7 1101.4 L934.0 1102.7 L940.5 1108.1 L945.1 1117.3 L948.5 1129.5 L951.1 1143.3 L953.7 1157.1 L957.1 1169.3 L961.8 1178.6 L968.2 1184.0 L976.5 1185.2 L986.5 1182.7 L997.9 1177.1 L1010.0 1170.0" fill="none" stroke="#B4B4B8" stroke-width="80.0" stroke-linecap="round" stroke-linejoin="round"/><path d="M480.0 930.0 L482.6 943.8 L486.0 956.0 L490.7 965.2 L497.1 970.7 L505.4 971.9 L515.4 969.3 L526.8 963.8 L538.9 956.7 L551.0 949.5 L562.4 944.0 L572.4 941.4 L580.7 942.7 L587.1 948.1 L591.8 957.3 L595.2 969.5 L597.8 983.3 L600.4 997.1 L603.7 1009.3 L608.4 1018.6 L614.8 1024.0 L623.2 1025.2 L633.2 1022.7 L644.6 1017.1 L656.7 1010.0 L668.8 1002.9 L680.1 997.3 L690.2 994.8 L698.5 996.0 L704.9 1001.4 L709.6 1010.7 L712.9 1022.9 L715.6 1036.7 L718.2 1050.5 L721.5 1062.7 L726.2 1071.9 L732.6 1077.3 L740.9 1078.6 L751.0 1076.0 L762.3 1070.5 L774.4 1063.3 L786.5 1056.2 L797.9 1050.7 L808.0 1048.1 L816.3 1049.3 L822.7 1054.8 L827.4 1064.0 L830.7 1076.2 L833.3 1090.0 L836.0 1103.8 L839.3 1116.0 L844.0 1125.2 L850.4 1130.7 L858.7 1131.9 L868.7 1129.3 L880.1 1123.8 L892.2 1116.7 L904.3 1109.5 L915.7 1104.0 L925.7 1101.4 L934.0 1102.7 L940.5 1108.1 L945.1 1117.3 L948.5 1129.5 L951.1 1143.3 L953.7 1157.1 L957.1 1169.3 L961.8 1178.6 L968.2 1184.0 L976.5 1185.2 L986.5 1182.7 L997.9 1177.1 L1010.0 1170.0" fill="none" stroke="#C8D0F0" stroke-width="24.0" stroke-linecap="round" opacity="0.35" transform="translate(6.6 -14.6)"/>
<path d="M760.0 1330.0 L766.2 1340.3 L772.7 1349.6 L780.0 1356.8 L788.3 1361.3 L797.5 1363.0 L807.7 1362.1 L818.7 1359.1 L830.0 1355.0 L841.3 1350.9 L852.3 1347.9 L862.5 1347.0 L871.7 1348.7 L880.0 1353.2 L887.3 1360.4 L893.8 1369.7 L900.0 1380.0" fill="none" stroke="#707078" stroke-width="66.0" stroke-linecap="round" stroke-linejoin="round"/><path d="M760.0 1330.0 L766.2 1340.3 L772.7 1349.6 L780.0 1356.8 L788.3 1361.3 L797.5 1363.0 L807.7 1362.1 L818.7 1359.1 L830.0 1355.0 L841.3 1350.9 L852.3 1347.9 L862.5 1347.0 L871.7 1348.7 L880.0 1353.2 L887.3 1360.4 L893.8 1369.7 L900.0 1380.0" fill="none" stroke="#B4B4B8" stroke-width="60.0" stroke-linecap="round" stroke-linejoin="round"/><path d="M760.0 1330.0 L766.2 1340.3 L772.7 1349.6 L780.0 1356.8 L788.3 1361.3 L797.5 1363.0 L807.7 1362.1 L818.7 1359.1 L830.0 1355.0 L841.3 1350.9 L852.3 1347.9 L862.5 1347.0 L871.7 1348.7 L880.0 1353.2 L887.3 1360.4 L893.8 1369.7 L900.0 1380.0" fill="none" stroke="#FFFFFF" stroke-width="18.0" stroke-linecap="round" opacity="0.35" transform="translate(4.0 -11.3)"/>
<path d="M1150.0 960.0 C1241.7 898.3 1608.3 651.7 1700.0 590.0" fill="none" stroke="#8A5008" stroke-width="41.0" stroke-linecap="round"/><path d="M1150.0 960.0 C1241.7 898.3 1608.3 651.7 1700.0 590.0" fill="none" stroke="#D8880E" stroke-width="36.0" stroke-linecap="round"/>
<path d="M1170.0 1000.0 C1255.0 950.0 1595.0 750.0 1680.0 700.0" fill="none" stroke="#8A5008" stroke-width="41.0" stroke-linecap="round"/><path d="M1170.0 1000.0 C1255.0 950.0 1595.0 750.0 1680.0 700.0" fill="none" stroke="#D8880E" stroke-width="36.0" stroke-linecap="round"/>
<path d="M1250.0 950.0 C1308.3 898.3 1541.7 691.7 1600.0 640.0" fill="none" stroke="#8A5008" stroke-width="41.0" stroke-linecap="round"/><path d="M1250.0 950.0 C1308.3 898.3 1541.7 691.7 1600.0 640.0" fill="none" stroke="#D8880E" stroke-width="36.0" stroke-linecap="round"/>
<path d="M860.0 450.0 L874.8 451.9 L888.4 452.5 L899.9 450.8 L908.4 446.0 L913.9 437.8 L916.4 426.5 L916.8 412.9 L916.0 398.0 L915.2 383.1 L915.6 369.5 L918.1 358.2 L923.6 350.0 L932.1 345.2 L943.6 343.5 L957.2 344.1 L972.0 346.0 L986.8 347.9 L1000.4 348.5 L1011.9 346.8 L1020.4 342.0 L1025.9 333.8 L1028.4 322.5 L1028.8 308.9 L1028.0 294.0 L1027.2 279.1 L1027.6 265.5 L1030.1 254.2 L1035.6 246.0 L1044.1 241.2 L1055.6 239.5 L1069.2 240.1 L1084.0 242.0 L1098.8 243.9 L1112.4 244.5 L1123.9 242.8 L1132.4 238.0 L1137.9 229.8 L1140.4 218.5 L1140.8 204.9 L1140.0 190.0" fill="none" stroke="#8A5008" stroke-width="78.0" stroke-linecap="round" stroke-linejoin="round"/><path d="M860.0 450.0 L874.8 451.9 L888.4 452.5 L899.9 450.8 L908.4 446.0 L913.9 437.8 L916.4 426.5 L916.8 412.9 L916.0 398.0 L915.2 383.1 L915.6 369.5 L918.1 358.2 L923.6 350.0 L932.1 345.2 L943.6 343.5 L957.2 344.1 L972.0 346.0 L986.8 347.9 L1000.4 348.5 L1011.9 346.8 L1020.4 342.0 L1025.9 333.8 L1028.4 322.5 L1028.8 308.9 L1028.0 294.0 L1027.2 279.1 L1027.6 265.5 L1030.1 254.2 L1035.6 246.0 L1044.1 241.2 L1055.6 239.5 L1069.2 240.1 L1084.0 242.0 L1098.8 243.9 L1112.4 244.5 L1123.9 242.8 L1132.4 238.0 L1137.9 229.8 L1140.4 218.5 L1140.8 204.9 L1140.0 190.0" fill="none" stroke="#D8880E" stroke-width="72.0" stroke-linecap="round" stroke-linejoin="round"/><path d="M860.0 450.0 L874.8 451.9 L888.4 452.5 L899.9 450.8 L908.4 446.0 L913.9 437.8 L916.4 426.5 L916.8 412.9 L916.0 398.0 L915.2 383.1 L915.6 369.5 L918.1 358.2 L923.6 350.0 L932.1 345.2 L943.6 343.5 L957.2 344.1 L972.0 346.0 L986.8 347.9 L1000.4 348.5 L1011.9 346.8 L1020.4 342.0 L1025.9 333.8 L1028.4 322.5 L1028.8 308.9 L1028.0 294.0 L1027.2 279.1 L1027.6 265.5 L1030.1 254.2 L1035.6 246.0 L1044.1 241.2 L1055.6 239.5 L1069.2 240.1 L1084.0 242.0 L1098.8 243.9 L1112.4 244.5 L1123.9 242.8 L1132.4 238.0 L1137.9 229.8 L1140.4 218.5 L1140.8 204.9 L1140.0 190.0" fill="none" stroke="#F8C070" stroke-width="21.6" stroke-linecap="round" opacity="0.35" transform="translate(-9.8 -10.6)"/>
<path d="M1000.0 470.0 L1006.5 482.5 L1013.1 493.2 L1019.8 500.5 L1026.7 503.2 L1033.8 501.1 L1041.2 494.5 L1048.7 484.4 L1056.2 472.5 L1063.8 460.6 L1071.3 450.5 L1078.7 443.9 L1085.8 441.8 L1092.7 444.5 L1099.4 451.8 L1106.0 462.5 L1112.5 475.0 L1119.0 487.5 L1125.6 498.2 L1132.3 505.5 L1139.2 508.2 L1146.3 506.1 L1153.7 499.5 L1161.2 489.4 L1168.8 477.5 L1176.3 465.6 L1183.8 455.5 L1191.2 448.9 L1198.3 446.8 L1205.2 449.5 L1211.9 456.8 L1218.5 467.5 L1225.0 480.0 L1231.5 492.5 L1238.1 503.2 L1244.8 510.5 L1251.7 513.2 L1258.8 511.1 L1266.2 504.5 L1273.7 494.4 L1281.2 482.5 L1288.8 470.6 L1296.3 460.5 L1303.7 453.9 L1310.8 451.8 L1317.7 454.5 L1324.4 461.8 L1331.0 472.5 L1337.5 485.0 L1344.0 497.5 L1350.6 508.2 L1357.3 515.5 L1364.2 518.2 L1371.3 516.1 L1378.7 509.5 L1386.2 499.4 L1393.8 487.5 L1401.3 475.6 L1408.8 465.5 L1416.2 458.9 L1423.3 456.8 L1430.2 459.5 L1436.9 466.8 L1443.5 477.5 L1450.0 490.0" fill="none" stroke="#8A5008" stroke-width="96.0" stroke-linecap="round" stroke-linejoin="round"/><path d="M1000.0 470.0 L1006.5 482.5 L1013.1 493.2 L1019.8 500.5 L1026.7 503.2 L1033.8 501.1 L1041.2 494.5 L1048.7 484.4 L1056.2 472.5 L1063.8 460.6 L1071.3 450.5 L1078.7 443.9 L1085.8 441.8 L1092.7 444.5 L1099.4 451.8 L1106.0 462.5 L1112.5 475.0 L1119.0 487.5 L1125.6 498.2 L1132.3 505.5 L1139.2 508.2 L1146.3 506.1 L1153.7 499.5 L1161.2 489.4 L1168.8 477.5 L1176.3 465.6 L1183.8 455.5 L1191.2 448.9 L1198.3 446.8 L1205.2 449.5 L1211.9 456.8 L1218.5 467.5 L1225.0 480.0 L1231.5 492.5 L1238.1 503.2 L1244.8 510.5 L1251.7 513.2 L1258.8 511.1 L1266.2 504.5 L1273.7 494.4 L1281.2 482.5 L1288.8 470.6 L1296.3 460.5 L1303.7 453.9 L1310.8 451.8 L1317.7 454.5 L1324.4 461.8 L1331.0 472.5 L1337.5 485.0 L1344.0 497.5 L1350.6 508.2 L1357.3 515.5 L1364.2 518.2 L1371.3 516.1 L1378.7 509.5 L1386.2 499.4 L1393.8 487.5 L1401.3 475.6 L1408.8 465.5 L1416.2 458.9 L1423.3 456.8 L1430.2 459.5 L1436.9 466.8 L1443.5 477.5 L1450.0 490.0" fill="none" stroke="#D8880E" stroke-width="90.0" stroke-linecap="round" stroke-linejoin="round"/><path d="M1000.0 470.0 L1006.5 482.5 L1013.1 493.2 L1019.8 500.5 L1026.7 503.2 L1033.8 501.1 L1041.2 494.5 L1048.7 484.4 L1056.2 472.5 L1063.8 460.6 L1071.3 450.5 L1078.7 443.9 L1085.8 441.8 L1092.7 444.5 L1099.4 451.8 L1106.0 462.5 L1112.5 475.0 L1119.0 487.5 L1125.6 498.2 L1132.3 505.5 L1139.2 508.2 L1146.3 506.1 L1153.7 499.5 L1161.2 489.4 L1168.8 477.5 L1176.3 465.6 L1183.8 455.5 L1191.2 448.9 L1198.3 446.8 L1205.2 449.5 L1211.9 456.8 L1218.5 467.5 L1225.0 480.0 L1231.5 492.5 L1238.1 503.2 L1244.8 510.5 L1251.7 513.2 L1258.8 511.1 L1266.2 504.5 L1273.7 494.4 L1281.2 482.5 L1288.8 470.6 L1296.3 460.5 L1303.7 453.9 L1310.8 451.8 L1317.7 454.5 L1324.4 461.8 L1331.0 472.5 L1337.5 485.0 L1344.0 497.5 L1350.6 508.2 L1357.3 515.5 L1364.2 518.2 L1371.3 516.1 L1378.7 509.5 L1386.2 499.4 L1393.8 487.5 L1401.3 475.6 L1408.8 465.5 L1416.2 458.9 L1423.3 456.8 L1430.2 459.5 L1436.9 466.8 L1443.5 477.5 L1450.0 490.0" fill="none" stroke="#F8C070" stroke-width="27.0" stroke-linecap="round" opacity="0.35" transform="translate(0.8 -18.0)"/>
<path d="M1060.0 600.0 L1052.4 610.9 L1046.5 621.0 L1043.4 629.7 L1044.1 636.6 L1049.0 641.6 L1057.7 644.7 L1069.3 646.5 L1082.5 647.5 L1095.7 648.5 L1107.3 650.3 L1116.0 653.4 L1120.9 658.4 L1121.6 665.3 L1118.5 674.0 L1112.6 684.1 L1105.0 695.0 L1097.4 705.9 L1091.5 716.0 L1088.4 724.7 L1089.1 731.6 L1094.0 736.6 L1102.7 739.7 L1114.3 741.5 L1127.5 742.5 L1140.7 743.5 L1152.3 745.3 L1161.0 748.4 L1165.9 753.4 L1166.6 760.3 L1163.5 769.0 L1157.6 779.1 L1150.0 790.0" fill="none" stroke="#8A5008" stroke-width="82.0" stroke-linecap="round" stroke-linejoin="round"/><path d="M1060.0 600.0 L1052.4 610.9 L1046.5 621.0 L1043.4 629.7 L1044.1 636.6 L1049.0 641.6 L1057.7 644.7 L1069.3 646.5 L1082.5 647.5 L1095.7 648.5 L1107.3 650.3 L1116.0 653.4 L1120.9 658.4 L1121.6 665.3 L1118.5 674.0 L1112.6 684.1 L1105.0 695.0 L1097.4 705.9 L1091.5 716.0 L1088.4 724.7 L1089.1 731.6 L1094.0 736.6 L1102.7 739.7 L1114.3 741.5 L1127.5 742.5 L1140.7 743.5 L1152.3 745.3 L1161.0 748.4 L1165.9 753.4 L1166.6 760.3 L1163.5 769.0 L1157.6 779.1 L1150.0 790.0" fill="none" stroke="#D8880E" stroke-width="76.0" stroke-linecap="round" stroke-linejoin="round"/><path d="M1060.0 600.0 L1052.4 610.9 L1046.5 621.0 L1043.4 629.7 L1044.1 636.6 L1049.0 641.6 L1057.7 644.7 L1069.3 646.5 L1082.5 647.5 L1095.7 648.5 L1107.3 650.3 L1116.0 653.4 L1120.9 658.4 L1121.6 665.3 L1118.5 674.0 L1112.6 684.1 L1105.0 695.0 L1097.4 705.9 L1091.5 716.0 L1088.4 724.7 L1089.1 731.6 L1094.0 736.6 L1102.7 739.7 L1114.3 741.5 L1127.5 742.5 L1140.7 743.5 L1152.3 745.3 L1161.0 748.4 L1165.9 753.4 L1166.6 760.3 L1163.5 769.0 L1157.6 779.1 L1150.0 790.0" fill="none" stroke="#F8C070" stroke-width="22.8" stroke-linecap="round" opacity="0.35" transform="translate(13.7 -6.5)"/>
<path d="M880.0 800.0 L889.2 805.8 L898.1 810.5 L906.5 813.0 L914.3 812.9 L921.5 809.7 L928.1 803.8 L934.2 795.8 L940.0 786.7 L945.8 777.5 L951.9 769.5 L958.5 763.6 L965.7 760.5 L973.5 760.3 L981.9 762.9 L990.8 767.5 L1000.0 773.3 L1009.2 779.1 L1018.1 783.8 L1026.5 786.4 L1034.3 786.2 L1041.5 783.0 L1048.1 777.1 L1054.2 769.1 L1060.0 760.0" fill="none" stroke="#8A5008" stroke-width="66.0" stroke-linecap="round" stroke-linejoin="round"/><path d="M880.0 800.0 L889.2 805.8 L898.1 810.5 L906.5 813.0 L914.3 812.9 L921.5 809.7 L928.1 803.8 L934.2 795.8 L940.0 786.7 L945.8 777.5 L951.9 769.5 L958.5 763.6 L965.7 760.5 L973.5 760.3 L981.9 762.9 L990.8 767.5 L1000.0 773.3 L1009.2 779.1 L1018.1 783.8 L1026.5 786.4 L1034.3 786.2 L1041.5 783.0 L1048.1 777.1 L1054.2 769.1 L1060.0 760.0" fill="none" stroke="#D8880E" stroke-width="60.0" stroke-linecap="round" stroke-linejoin="round"/><path d="M880.0 800.0 L889.2 805.8 L898.1 810.5 L906.5 813.0 L914.3 812.9 L921.5 809.7 L928.1 803.8 L934.2 795.8 L940.0 786.7 L945.8 777.5 L951.9 769.5 L958.5 763.6 L965.7 760.5 L973.5 760.3 L981.9 762.9 L990.8 767.5 L1000.0 773.3 L1009.2 779.1 L1018.1 783.8 L1026.5 786.4 L1034.3 786.2 L1041.5 783.0 L1048.1 777.1 L1054.2 769.1 L1060.0 760.0" fill="none" stroke="#F8C070" stroke-width="18.0" stroke-linecap="round" opacity="0.35" transform="translate(-2.6 -11.7)"/>
<path d="M1220.0 1240.0 L1234.7 1245.4 L1248.2 1249.1 L1259.6 1250.0 L1268.1 1246.9 L1273.6 1239.7 L1276.2 1228.6 L1276.7 1214.6 L1276.0 1199.0 L1275.3 1183.4 L1275.8 1169.4 L1278.4 1158.3 L1283.9 1151.1 L1292.4 1148.0 L1303.8 1148.9 L1317.3 1152.6 L1332.0 1158.0 L1346.7 1163.4 L1360.2 1167.1 L1371.6 1168.0 L1380.1 1164.9 L1385.6 1157.7 L1388.2 1146.6 L1388.7 1132.6 L1388.0 1117.0 L1387.3 1101.4 L1387.8 1087.4 L1390.4 1076.3 L1395.9 1069.1 L1404.4 1066.0 L1415.8 1066.9 L1429.3 1070.6 L1444.0 1076.0 L1458.7 1081.4 L1472.2 1085.1 L1483.6 1086.0 L1492.1 1082.9 L1497.6 1075.7 L1500.2 1064.6 L1500.7 1050.6 L1500.0 1035.0 L1499.3 1019.4 L1499.8 1005.4 L1502.4 994.3 L1507.9 987.1 L1516.4 984.0 L1527.8 984.9 L1541.3 988.6 L1556.0 994.0 L1570.7 999.4 L1584.2 1003.1 L1595.6 1004.0 L1604.1 1000.9 L1609.6 993.7 L1612.2 982.6 L1612.7 968.6 L1612.0 953.0 L1611.3 937.4 L1611.8 923.4 L1614.4 912.3 L1619.9 905.1 L1628.4 902.0 L1639.8 902.9 L1653.3 906.6 L1668.0 912.0 L1682.7 917.4 L1696.2 921.1 L1707.6 922.0 L1716.1 918.9 L1721.6 911.7 L1724.2 900.6 L1724.7 886.6 L1724.0 871.0 L1723.3 855.4 L1723.8 841.4 L1726.4 830.3 L1731.9 823.1 L1740.4 820.0 L1751.8 820.9 L1765.3 824.6 L1780.0 830.0" fill="none" stroke="#8A5008" stroke-width="90.0" stroke-linecap="round" stroke-linejoin="round"/><path d="M1220.0 1240.0 L1234.7 1245.4 L1248.2 1249.1 L1259.6 1250.0 L1268.1 1246.9 L1273.6 1239.7 L1276.2 1228.6 L1276.7 1214.6 L1276.0 1199.0 L1275.3 1183.4 L1275.8 1169.4 L1278.4 1158.3 L1283.9 1151.1 L1292.4 1148.0 L1303.8 1148.9 L1317.3 1152.6 L1332.0 1158.0 L1346.7 1163.4 L1360.2 1167.1 L1371.6 1168.0 L1380.1 1164.9 L1385.6 1157.7 L1388.2 1146.6 L1388.7 1132.6 L1388.0 1117.0 L1387.3 1101.4 L1387.8 1087.4 L1390.4 1076.3 L1395.9 1069.1 L1404.4 1066.0 L1415.8 1066.9 L1429.3 1070.6 L1444.0 1076.0 L1458.7 1081.4 L1472.2 1085.1 L1483.6 1086.0 L1492.1 1082.9 L1497.6 1075.7 L1500.2 1064.6 L1500.7 1050.6 L1500.0 1035.0 L1499.3 1019.4 L1499.8 1005.4 L1502.4 994.3 L1507.9 987.1 L1516.4 984.0 L1527.8 984.9 L1541.3 988.6 L1556.0 994.0 L1570.7 999.4 L1584.2 1003.1 L1595.6 1004.0 L1604.1 1000.9 L1609.6 993.7 L1612.2 982.6 L1612.7 968.6 L1612.0 953.0 L1611.3 937.4 L1611.8 923.4 L1614.4 912.3 L1619.9 905.1 L1628.4 902.0 L1639.8 902.9 L1653.3 906.6 L1668.0 912.0 L1682.7 917.4 L1696.2 921.1 L1707.6 922.0 L1716.1 918.9 L1721.6 911.7 L1724.2 900.6 L1724.7 886.6 L1724.0 871.0 L1723.3 855.4 L1723.8 841.4 L1726.4 830.3 L1731.9 823.1 L1740.4 820.0 L1751.8 820.9 L1765.3 824.6 L1780.0 830.0" fill="none" stroke="#D8880E" stroke-width="84.0" stroke-linecap="round" stroke-linejoin="round"/><path d="M1220.0 1240.0 L1234.7 1245.4 L1248.2 1249.1 L1259.6 1250.0 L1268.1 1246.9 L1273.6 1239.7 L1276.2 1228.6 L1276.7 1214.6 L1276.0 1199.0 L1275.3 1183.4 L1275.8 1169.4 L1278.4 1158.3 L1283.9 1151.1 L1292.4 1148.0 L1303.8 1148.9 L1317.3 1152.6 L1332.0 1158.0 L1346.7 1163.4 L1360.2 1167.1 L1371.6 1168.0 L1380.1 1164.9 L1385.6 1157.7 L1388.2 1146.6 L1388.7 1132.6 L1388.0 1117.0 L1387.3 1101.4 L1387.8 1087.4 L1390.4 1076.3 L1395.9 1069.1 L1404.4 1066.0 L1415.8 1066.9 L1429.3 1070.6 L1444.0 1076.0 L1458.7 1081.4 L1472.2 1085.1 L1483.6 1086.0 L1492.1 1082.9 L1497.6 1075.7 L1500.2 1064.6 L1500.7 1050.6 L1500.0 1035.0 L1499.3 1019.4 L1499.8 1005.4 L1502.4 994.3 L1507.9 987.1 L1516.4 984.0 L1527.8 984.9 L1541.3 988.6 L1556.0 994.0 L1570.7 999.4 L1584.2 1003.1 L1595.6 1004.0 L1604.1 1000.9 L1609.6 993.7 L1612.2 982.6 L1612.7 968.6 L1612.0 953.0 L1611.3 937.4 L1611.8 923.4 L1614.4 912.3 L1619.9 905.1 L1628.4 902.0 L1639.8 902.9 L1653.3 906.6 L1668.0 912.0 L1682.7 917.4 L1696.2 921.1 L1707.6 922.0 L1716.1 918.9 L1721.6 911.7 L1724.2 900.6 L1724.7 886.6 L1724.0 871.0 L1723.3 855.4 L1723.8 841.4 L1726.4 830.3 L1731.9 823.1 L1740.4 820.0 L1751.8 820.9 L1765.3 824.6 L1780.0 830.0" fill="none" stroke="#F8C070" stroke-width="25.2" stroke-linecap="round" opacity="0.35" transform="translate(-9.9 -13.6)"/>
<circle cx="1000" cy="1030" r="20" fill="#E8E020"/><circle cx="800" cy="370" r="16" fill="#E8E020"/>
</g></g>
<g transform="translate(2095 1690) scale(0.17599)">
<path d="M60.0 500.0 C83.3 480.0 143.3 420.0 200.0 380.0 C256.7 340.0 333.3 285.0 400.0 260.0 C466.7 235.0 566.7 235.0 600.0 230.0" fill="none" stroke="#3A3AF0" stroke-width="12.0" stroke-linecap="round"/>
<path d="M130.0 300.0 C150.0 293.3 201.7 273.3 250.0 260.0 C298.3 246.7 375.0 220.0 420.0 220.0 C465.0 220.0 503.3 253.3 520.0 260.0" fill="none" stroke="#3A3AF0" stroke-width="12.0" stroke-linecap="round"/>
<path d="M760.0 170.0 C783.3 158.3 843.3 121.7 900.0 100.0 C956.7 78.3 1033.3 30.0 1100.0 40.0 C1166.7 50.0 1241.7 123.3 1300.0 160.0 C1358.3 196.7 1425.0 243.3 1450.0 260.0" fill="none" stroke="#3A3AF0" stroke-width="12.0" stroke-linecap="round"/>
<path d="M850.0 320.0 C858.3 338.3 878.3 390.0 900.0 430.0 C921.7 470.0 966.7 538.3 980.0 560.0" fill="none" stroke="#3A3AF0" stroke-width="12.0" stroke-linecap="round"/>
<path d="M380.0 650.0 C375.0 675.0 343.3 750.0 350.0 800.0 C356.7 850.0 400.0 908.3 420.0 950.0 C440.0 991.7 461.7 1033.3 470.0 1050.0" fill="none" stroke="#3A3AF0" stroke-width="12.0" stroke-linecap="round"/>
<path d="M800.0 1150.0 C816.7 1166.7 866.7 1216.7 900.0 1250.0 C933.3 1283.3 983.3 1333.3 1000.0 1350.0" fill="none" stroke="#3A3AF0" stroke-width="12.0" stroke-linecap="round"/>
<path d="M850.0 1100.0 C875.0 1113.3 958.3 1148.3 1000.0 1180.0 C1041.7 1211.7 1083.3 1271.7 1100.0 1290.0" fill="none" stroke="#3A3AF0" stroke-width="12.0" stroke-linecap="round"/>
<path d="M1000.0 1050.0 C1016.7 1046.7 1063.3 1035.0 1100.0 1030.0 C1136.7 1025.0 1200.0 1021.7 1220.0 1020.0" fill="none" stroke="#3A3AF0" stroke-width="12.0" stroke-linecap="round"/>
<path d="M900.0 1000.0 C916.7 1016.7 986.7 1058.3 1000.0 1100.0 C1013.3 1141.7 996.7 1216.7 980.0 1250.0 C963.3 1283.3 913.3 1291.7 900.0 1300.0" fill="none" stroke="#3A3AF0" stroke-width="12.0" stroke-linecap="round"/>
<path d="M1150.0 450.0 C1150.0 475.0 1133.3 558.3 1150.0 600.0 C1166.7 641.7 1220.0 661.7 1250.0 700.0 C1280.0 738.3 1313.3 820.0 1330.0 830.0 C1346.7 840.0 1346.7 771.7 1350.0 760.0" fill="none" stroke="#3A3AF0" stroke-width="12.0" stroke-linecap="round"/>
<path d="M200.0 450.0 C196.7 468.3 170.0 535.0 180.0 560.0 C190.0 585.0 246.7 593.3 260.0 600.0" fill="none" stroke="#3A3AF0" stroke-width="12.0" stroke-linecap="round"/>
<path d="M680.0 700.0 C708.3 698.3 796.7 696.7 850.0 690.0 C903.3 683.3 975.0 665.0 1000.0 660.0" fill="none" stroke="#3A3AF0" stroke-width="12.0" stroke-linecap="round"/>
<path d="M980.0 620.0 C986.7 650.0 1023.3 760.0 1020.0 800.0 C1016.7 840.0 970.0 850.0 960.0 860.0" fill="none" stroke="#3A3AF0" stroke-width="12.0" stroke-linecap="round"/>
<path d="M220.0 350.0 C253.3 355.0 350.0 366.7 420.0 380.0 C490.0 393.3 603.3 421.7 640.0 430.0" fill="none" stroke="#0A0ACC" stroke-width="48.0" stroke-linecap="round"/>
<path d="M260.0 430.0 C296.7 436.7 406.7 455.0 480.0 470.0 C553.3 485.0 663.3 511.7 700.0 520.0" fill="none" stroke="#0A0ACC" stroke-width="48.0" stroke-linecap="round"/>
<path d="M200.0 570.0 C236.7 576.7 340.0 595.0 420.0 610.0 C500.0 625.0 636.7 651.7 680.0 660.0" fill="none" stroke="#0A0ACC" stroke-width="48.0" stroke-linecap="round"/>
<path d="M380.0 600.0 C406.7 620.0 486.7 676.7 540.0 720.0 C593.3 763.3 673.3 836.7 700.0 860.0" fill="none" stroke="#0A0ACC" stroke-width="48.0" stroke-linecap="round"/>
<path d="M440.0 660.0 C463.3 683.3 536.7 756.7 580.0 800.0 C623.3 843.3 680.0 900.0 700.0 920.0" fill="none" stroke="#0A0ACC" stroke-width="48.0" stroke-linecap="round"/>
<path d="M500.0 280.0 C516.7 288.3 563.3 310.0 600.0 330.0 C636.7 350.0 700.0 388.3 720.0 400.0" fill="none" stroke="#0A0ACC" stroke-width="48.0" stroke-linecap="round"/>
<path d="M480.0 1060.0 C493.3 1070.0 533.3 1101.7 560.0 1120.0 C586.7 1138.3 626.7 1161.7 640.0 1170.0" fill="none" stroke="#0A0ACC" stroke-width="48.0" stroke-linecap="round"/>
<path d="M660.0 960.0 C670.0 980.0 698.3 1040.0 720.0 1080.0 C741.7 1120.0 778.3 1180.0 790.0 1200.0" fill="none" stroke="#0A0ACC" stroke-width="48.0" stroke-linecap="round"/>
<path d="M800.0 1310.0 C810.0 1315.0 838.3 1328.3 860.0 1340.0 C881.7 1351.7 918.3 1373.3 930.0 1380.0" fill="none" stroke="#0A0ACC" stroke-width="48.0" stroke-linecap="round"/>
<path d="M950.0 370.0 C965.0 351.7 1006.7 295.0 1040.0 260.0 C1073.3 225.0 1131.7 176.7 1150.0 160.0" fill="none" stroke="#0A0ACC" stroke-width="48.0" stroke-linecap="round"/>
<path d="M920.0 540.0 C933.3 525.0 970.0 473.3 1000.0 450.0 C1030.0 426.7 1083.3 408.3 1100.0 400.0" fill="none" stroke="#0A0ACC" stroke-width="48.0" stroke-linecap="round"/>
<path d="M1160.0 430.0 C1180.0 425.0 1251.7 385.0 1280.0 400.0 C1308.3 415.0 1318.3 470.0 1330.0 520.0 C1341.7 570.0 1346.7 670.0 1350.0 700.0" fill="none" stroke="#0A0ACC" stroke-width="48.0" stroke-linecap="round"/>
<path d="M770.0 190.0 C781.7 188.3 823.3 165.0 840.0 180.0 C856.7 195.0 871.7 260.0 870.0 280.0 C868.3 300.0 836.7 296.7 830.0 300.0" fill="none" stroke="#0A0ACC" stroke-width="48.0" stroke-linecap="round"/>
<path d="M180.0 220.0 C183.3 230.0 198.3 261.7 200.0 280.0 C201.7 298.3 191.7 321.7 190.0 330.0" fill="none" stroke="#0A0ACC" stroke-width="48.0" stroke-linecap="round"/>
<path d="M800.0 780.0 C803.3 800.0 820.0 863.3 820.0 900.0 C820.0 936.7 803.3 983.3 800.0 1000.0" fill="none" stroke="#0A0ACC" stroke-width="48.0" stroke-linecap="round"/>
<path d="M520.0 780.0 C523.3 796.7 538.3 850.0 540.0 880.0 C541.7 910.0 531.7 946.7 530.0 960.0" fill="none" stroke="#0A0ACC" stroke-width="48.0" stroke-linecap="round"/>
<path d="M1300.0 200.0 L1300.5 215.1 L1301.8 228.3 L1304.8 238.2 L1309.9 243.6 L1317.3 244.2 L1326.8 240.3 L1338.0 233.1 L1350.0 224.0 L1362.0 214.9 L1373.2 207.7 L1382.7 203.8 L1390.1 204.4 L1395.2 209.8 L1398.2 219.7 L1399.5 232.9 L1400.0 248.0 L1400.5 263.1 L1401.8 276.3 L1404.8 286.2 L1409.9 291.6 L1417.3 292.2 L1426.8 288.3 L1438.0 281.1 L1450.0 272.0 L1462.0 262.9 L1473.2 255.7 L1482.7 251.8 L1490.1 252.4 L1495.2 257.8 L1498.2 267.7 L1499.5 280.9 L1500.0 296.0 L1500.5 311.1 L1501.8 324.3 L1504.8 334.2 L1509.9 339.6 L1517.3 340.2 L1526.8 336.3 L1538.0 329.1 L1550.0 320.0" fill="none" stroke="#000080" stroke-width="46.0" stroke-linecap="round" stroke-linejoin="round"/><path d="M1300.0 200.0 L1300.5 215.1 L1301.8 228.3 L1304.8 238.2 L1309.9 243.6 L1317.3 244.2 L1326.8 240.3 L1338.0 233.1 L1350.0 224.0 L1362.0 214.9 L1373.2 207.7 L1382.7 203.8 L1390.1 204.4 L1395.2 209.8 L1398.2 219.7 L1399.5 232.9 L1400.0 248.0 L1400.5 263.1 L1401.8 276.3 L1404.8 286.2 L1409.9 291.6 L1417.3 292.2 L1426.8 288.3 L1438.0 281.1 L1450.0 272.0 L1462.0 262.9 L1473.2 255.7 L1482.7 251.8 L1490.1 252.4 L1495.2 257.8 L1498.2 267.7 L1499.5 280.9 L1500.0 296.0 L1500.5 311.1 L1501.8 324.3 L1504.8 334.2 L1509.9 339.6 L1517.3 340.2 L1526.8 336.3 L1538.0 329.1 L1550.0 320.0" fill="none" stroke="#0A0ACC" stroke-width="40.0" stroke-linecap="round" stroke-linejoin="round"/><path d="M1300.0 200.0 L1300.5 215.1 L1301.8 228.3 L1304.8 238.2 L1309.9 243.6 L1317.3 244.2 L1326.8 240.3 L1338.0 233.1 L1350.0 224.0 L1362.0 214.9 L1373.2 207.7 L1382.7 203.8 L1390.1 204.4 L1395.2 209.8 L1398.2 219.7 L1399.5 232.9 L1400.0 248.0 L1400.5 263.1 L1401.8 276.3 L1404.8 286.2 L1409.9 291.6 L1417.3 292.2 L1426.8 288.3 L1438.0 281.1 L1450.0 272.0 L1462.0 262.9 L1473.2 255.7 L1482.7 251.8 L1490.1 252.4 L1495.2 257.8 L1498.2 267.7 L1499.5 280.9 L1500.0 296.0 L1500.5 311.1 L1501.8 324.3 L1504.8 334.2 L1509.9 339.6 L1517.3 340.2 L1526.8 336.3 L1538.0 329.1 L1550.0 320.0" fill="none" stroke="#6060FF" stroke-width="12.0" stroke-linecap="round" opacity="0.35" transform="translate(3.5 -7.2)"/>
<path d="M590.0 190.0 C605.0 233.3 651.7 348.3 680.0 450.0 C708.3 551.7 738.3 701.7 760.0 800.0 C781.7 898.3 801.7 1000.0 810.0 1040.0" fill="none" stroke="#8A8410" stroke-width="43.0" stroke-linecap="round"/><path d="M590.0 190.0 C605.0 233.3 651.7 348.3 680.0 450.0 C708.3 551.7 738.3 701.7 760.0 800.0 C781.7 898.3 801.7 1000.0 810.0 1040.0" fill="none" stroke="#D4CC22" stroke-width="38.0" stroke-linecap="round"/>
<path d="M1020.0 700.0 C1031.7 658.3 1068.3 525.0 1090.0 450.0 C1111.7 375.0 1140.0 283.3 1150.0 250.0" fill="none" stroke="#8A8410" stroke-width="43.0" stroke-linecap="round"/><path d="M1020.0 700.0 C1031.7 658.3 1068.3 525.0 1090.0 450.0 C1111.7 375.0 1140.0 283.3 1150.0 250.0" fill="none" stroke="#D4CC22" stroke-width="38.0" stroke-linecap="round"/>
<path d="M960.0 660.0 C975.0 683.3 1021.7 763.3 1050.0 800.0 C1078.3 836.7 1116.7 866.7 1130.0 880.0" fill="none" stroke="#8A8410" stroke-width="43.0" stroke-linecap="round"/><path d="M960.0 660.0 C975.0 683.3 1021.7 763.3 1050.0 800.0 C1078.3 836.7 1116.7 866.7 1130.0 880.0" fill="none" stroke="#D4CC22" stroke-width="38.0" stroke-linecap="round"/>
<path d="M560.0 300.0 C575.0 316.7 626.7 363.3 650.0 400.0 C673.3 436.7 691.7 500.0 700.0 520.0" fill="none" stroke="#8A8410" stroke-width="43.0" stroke-linecap="round"/><path d="M560.0 300.0 C575.0 316.7 626.7 363.3 650.0 400.0 C673.3 436.7 691.7 500.0 700.0 520.0" fill="none" stroke="#D4CC22" stroke-width="38.0" stroke-linecap="round"/>
<circle cx="960" cy="950" r="55" fill="none" stroke="#000080" stroke-width="16"/>
<circle cx="870" cy="715" r="34" fill="#C0105A"/><circle cx="864" cy="709" r="17" fill="#F060A0" opacity="0.6"/>
<circle cx="905" cy="685" r="30" fill="#C0105A"/><circle cx="899" cy="679" r="15" fill="#F060A0" opacity="0.6"/>
<circle cx="968" cy="738" r="30" fill="#C0105A"/><circle cx="962" cy="732" r="15" fill="#F060A0" opacity="0.6"/>
<circle cx="992" cy="608" r="26" fill="#C0105A"/><circle cx="986" cy="602" r="13" fill="#F060A0" opacity="0.6"/>
</g>
<g stroke="#000" fill="none" stroke-linecap="butt">
<polygon points="1503.4,1584.5 1529.8,1538.6 1582.6,1538.6 1609.0,1584.5 1582.6,1630.4 1529.8,1630.4" fill="none" stroke-width="5.2" stroke-linejoin="miter"/>
<line x1="1519.6" y1="1583.5" x2="1537.0" y2="1553.2" stroke-width="5.2"/>
<line x1="1573.6" y1="1616.9" x2="1538.8" y2="1616.9" stroke-width="5.2"/>
<line x1="1575.4" y1="1553.2" x2="1592.8" y2="1583.5" stroke-width="5.2"/>
<line x1="1574.8" y1="1577.4" x2="1599.0" y2="1554.5" stroke-width="5.2"/>
<polygon points="1347.8,1768.2 1374.2,1722.3 1427.0,1722.3 1453.4,1768.2 1427.0,1814.1 1374.2,1814.1" fill="none" stroke-width="5.2" stroke-linejoin="miter"/>
<line x1="1383.2" y1="1735.8" x2="1418.0" y2="1735.8" stroke-width="5.2"/>
<line x1="1437.2" y1="1769.2" x2="1419.8" y2="1799.5" stroke-width="5.2"/>
<line x1="1381.4" y1="1799.5" x2="1364.0" y2="1769.2" stroke-width="5.2"/>
<line x1="1348.3" y1="1809.0" x2="1381.0" y2="1774.0" stroke-width="5.2"/>
<line x1="1529.8" y1="1630.4" x2="1513.8" y2="1658.6" stroke-width="5.2"/>
<line x1="1444.5" y1="1694.5" x2="1427.0" y2="1722.3" stroke-width="5.2"/>
<line x1="1467.0" y1="1663.5" x2="1491.0" y2="1663.5" stroke-width="4.6"/>
<line x1="1467.0" y1="1675.5" x2="1491.0" y2="1675.5" stroke-width="4.6"/>
<line x1="1583.0" y1="1681.4" x2="1745.0" y2="1681.4" stroke-width="5.0"/>
</g>
<path d="M1793.2 1681.4 L1738.6 1667.8 L1745.6 1681.4 L1738.6 1695 Z" fill="#000"/>
<path d="M2350.3 1682 L2298 1668.4 L2305 1682 L2298 1695.6 Z" fill="#000"/>
<g stroke="#000" fill="none">
<line x1="2132.5" y1="1682.0" x2="2305.0" y2="1682.0" stroke-width="5.0"/>
<polygon points="1939.5,1569.2 1985.4,1595.7 1985.4,1648.7 1939.5,1675.2 1893.6,1648.7 1893.6,1595.7" fill="none" stroke-width="5.2" stroke-linejoin="miter"/>
<line x1="1940.6" y1="1585.4" x2="1970.8" y2="1602.9" stroke-width="5.2"/>
<line x1="1970.8" y1="1641.5" x2="1940.6" y2="1659.0" stroke-width="5.2"/>
<line x1="1907.1" y1="1639.7" x2="1907.1" y2="1604.7" stroke-width="5.2"/>
<line x1="1985.4" y1="1595.7" x2="2014.5" y2="1579.0" stroke-width="5.2"/>
<line x1="1878.0" y1="1619.0" x2="1921.5" y2="1619.0" stroke-width="5.2"/>
<polygon points="1939.5,1722.6 1985.4,1749.1 1985.4,1802.1 1939.5,1828.6 1893.6,1802.1 1893.6,1749.1" fill="none" stroke-width="5.2" stroke-linejoin="miter"/>
<line x1="1940.6" y1="1738.8" x2="1970.8" y2="1756.3" stroke-width="5.2"/>
<line x1="1970.8" y1="1794.9" x2="1940.6" y2="1812.4" stroke-width="5.2"/>
<line x1="1907.1" y1="1793.1" x2="1907.1" y2="1758.1" stroke-width="5.2"/>
<line x1="1985.4" y1="1749.1" x2="2014.5" y2="1732.4" stroke-width="5.2"/>
<line x1="1878.0" y1="1770.1" x2="1921.5" y2="1770.1" stroke-width="5.2"/>
<polygon points="2498.0,1480.6 2543.3,1507.4 2543.3,1561.0 2498.0,1587.8 2452.7,1561.0 2452.7,1507.4" fill="none" stroke-width="5.2" stroke-linejoin="miter"/>
<polygon points="2679.2,1480.6 2724.5,1507.4 2724.5,1561.0 2679.2,1587.8 2633.9,1561.0 2633.9,1507.4" fill="none" stroke-width="5.2" stroke-linejoin="miter"/>
<line x1="2467.0" y1="1514.6" x2="2496.9" y2="1496.9" stroke-width="5.2"/>
<line x1="2529.0" y1="1553.8" x2="2499.1" y2="1571.5" stroke-width="5.2"/>
<line x1="2648.2" y1="1514.6" x2="2678.1" y2="1496.9" stroke-width="5.2"/>
<line x1="2678.1" y1="1571.5" x2="2648.2" y2="1553.8" stroke-width="5.2"/>
<line x1="2711.0" y1="1516.5" x2="2711.0" y2="1551.9" stroke-width="5.2"/>
<line x1="2543.3" y1="1507.4" x2="2574.0" y2="1489.3" stroke-width="5.2"/><line x1="2556.3" y1="1513.7" x2="2578.4" y2="1500.6" stroke-width="5.2"/>
<line x1="2603.2" y1="1489.3" x2="2633.9" y2="1507.4" stroke-width="5.2"/>
<line x1="2543.3" y1="1561.0" x2="2575.7" y2="1580.2" stroke-width="5.2"/>
<line x1="2601.5" y1="1580.2" x2="2633.9" y2="1561.0" stroke-width="5.2"/>
<line x1="2429.5" y1="1534.0" x2="2470.5" y2="1534.0" stroke-width="5.2"/>
<line x1="2701.5" y1="1532.4" x2="2737.0" y2="1532.4" stroke-width="5.2"/>
<polygon points="2501.0,1651.5 2546.3,1678.3 2546.3,1731.9 2501.0,1758.7 2455.7,1731.9 2455.7,1678.3" fill="none" stroke-width="5.2" stroke-linejoin="miter"/>
<polygon points="2682.5,1651.5 2727.8,1678.3 2727.8,1731.9 2682.5,1758.7 2637.2,1731.9 2637.2,1678.3" fill="none" stroke-width="5.2" stroke-linejoin="miter"/>
<line x1="2502.1" y1="1667.8" x2="2532.0" y2="1685.5" stroke-width="5.2"/>
<line x1="2532.0" y1="1724.7" x2="2502.1" y2="1742.4" stroke-width="5.2"/>
<line x1="2469.2" y1="1722.8" x2="2469.2" y2="1687.4" stroke-width="5.2"/>
<line x1="2683.6" y1="1667.8" x2="2713.5" y2="1685.5" stroke-width="5.2"/>
<line x1="2713.5" y1="1724.7" x2="2683.6" y2="1742.4" stroke-width="5.2"/>
<line x1="2546.3" y1="1678.3" x2="2576.9" y2="1660.2" stroke-width="5.2"/>
<line x1="2606.2" y1="1660.1" x2="2637.2" y2="1678.3" stroke-width="5.2"/><line x1="2601.8" y1="1671.5" x2="2624.2" y2="1684.6" stroke-width="5.2"/>
<line x1="2546.3" y1="1731.9" x2="2576.9" y2="1750.0" stroke-width="5.2"/>
<line x1="2606.2" y1="1750.1" x2="2637.2" y2="1731.9" stroke-width="5.2"/><line x1="2601.8" y1="1738.7" x2="2624.2" y2="1725.6" stroke-width="5.2"/>
<line x1="2445.7" y1="1701.0" x2="2469.3" y2="1701.0" stroke-width="5.2"/>
<line x1="2707.7" y1="1703.0" x2="2744.0" y2="1703.0" stroke-width="5.2"/>
<polygon points="2547.0,1819.0 2587.0,1842.2 2587.0,1888.8 2547.0,1912.0 2507.0,1888.8 2507.0,1842.2" fill="none" stroke-width="5.2" stroke-linejoin="miter"/>
<polygon points="2627.0,1819.0 2667.0,1842.2 2667.0,1888.8 2627.0,1912.0 2587.0,1888.8 2587.0,1842.2" fill="none" stroke-width="5.2" stroke-linejoin="miter"/>
<line x1="2519.8" y1="1848.7" x2="2546.2" y2="1833.4" stroke-width="5.2"/>
<line x1="2546.2" y1="1897.6" x2="2519.8" y2="1882.3" stroke-width="5.2"/>
<line x1="2575.0" y1="1850.2" x2="2575.0" y2="1880.8" stroke-width="5.2"/>
<line x1="2627.8" y1="1833.4" x2="2654.2" y2="1848.7" stroke-width="5.2"/>
<line x1="2619.4" y1="1909.0" x2="2619.4" y2="1943.5" stroke-width="5.2"/>
<line x1="2634.6" y1="1909.0" x2="2634.6" y2="1943.5" stroke-width="5.2"/>
<line x1="2667.0" y1="1883.2" x2="2696.0" y2="1897.7" stroke-width="5.2"/>
<line x1="2660.5" y1="1895.4" x2="2688.5" y2="1910.6" stroke-width="5.2"/>
<line x1="2485.0" y1="1867.6" x2="2525.0" y2="1867.6" stroke-width="5.2"/>
</g>
<g font-family="Liberation Sans" fill="#000" stroke="none">
<g font-weight="bold" font-size="31" letter-spacing="0.35">
<text x="1426.5" y="1495.3" font-size="31.0" text-anchor="start" font-weight="bold">Azodye</text>
<text x="1850.0" y="1495.3" font-size="31.0" text-anchor="start" font-weight="bold">Aromatic Amines</text>
<text x="1605.5" y="2000.4" font-size="31.0" text-anchor="start" font-weight="bold">PpAzoR</text>
<text x="2199.5" y="2000.0" font-size="31.0" text-anchor="start" font-weight="bold">CotA</text>
</g>
<text x="1968.0" y="1712.0" font-size="27.0" text-anchor="start" font-weight="bold">+</text>
<g stroke="#000" stroke-width="1.1">
<text x="1600.5" y="1553.6" font-size="32.0">R<tspan font-size="23.0" dy="7.0">1</tspan></text>
<text x="1314.0" y="1826.0" font-size="32.0">R<tspan font-size="23.0" dy="7.0">2</tspan></text>
<text x="1440.5" y="1689.0" font-size="32.0" text-anchor="start" font-weight="normal">N</text>
<text x="1494.0" y="1689.0" font-size="32.0" text-anchor="start" font-weight="normal">N</text>
<text x="1840.5" y="1631.0" font-size="32.0">R<tspan font-size="23.0" dy="8.0">1</tspan></text>
<text x="1842.0" y="1782.0" font-size="32.0">R<tspan font-size="23.0" dy="8.0">2</tspan></text>
<text x="2019.5" y="1581.5" font-size="31.5">NH<tspan font-size="23.5" dy="7.3">2</tspan></text>
<text x="2019.5" y="1735.0" font-size="31.5">NH<tspan font-size="23.5" dy="7.3">2</tspan></text>
<text x="2393.0" y="1545.6" font-size="29.0">R<tspan font-size="21.0" dy="7.0">1</tspan></text>
<text x="2738.5" y="1544.0" font-size="29.0">R<tspan font-size="21.0" dy="7.0">2</tspan></text>
<text x="2588.5" y="1493.4" font-size="30.0" text-anchor="middle" font-weight="normal">N</text>
<text x="2588.5" y="1598.0" font-size="30.0" text-anchor="middle" font-weight="normal">O</text>
<text x="2409.5" y="1713.0" font-size="29.0">R<tspan font-size="21.0" dy="7.0">1</tspan></text>
<text x="2746.0" y="1714.5" font-size="29.0">R<tspan font-size="21.0" dy="7.0">2</tspan></text>
<text x="2590.5" y="1662.5" font-size="30.0" text-anchor="middle" font-weight="normal">N</text>
<text x="2592.5" y="1770.5" font-size="30.0" text-anchor="middle" font-weight="normal">N</text>
<text x="2447.5" y="1879.5" font-size="30.0">R<tspan font-size="22.0" dy="7.0">1</tspan></text>
<text x="2626.6" y="1969.5" font-size="31.0" text-anchor="middle" font-weight="normal">O</text>
<text x="2705.6" y="1922.5" font-size="31.0" text-anchor="middle" font-weight="normal">O</text>
</g>
</g>
<path d="M1371.5 733.8 L1398 731 C1468 730 1572 812 1608 924 L1680.7 902.9 L1616.4 1016.4 L1497 956 L1567 935 C1545 845 1460 752 1376.3 745.9 Z" fill="#687A96" stroke="#687A96" stroke-width="3" stroke-linejoin="round"/>
<path d="M2913.1 1551.3 C2990 1562 3095 1492 3142 1354.4 L3214.6 1369.6 L3147 1259.5 L3030.3 1324.2 L3101.8 1343 C3075 1450 3010 1525 2918.2 1538.8 Z" fill="#687A96" stroke="#687A96" stroke-width="3" stroke-linejoin="round"/>
<g font-family="Liberation Sans" font-weight="bold" fill="#000">
<text x="233" y="372" font-size="80">Dye-containing wastewaters</text>
<text x="2581" y="389.5" font-size="80" transform="translate(2581 0) scale(1.004 1) translate(-2581 0)">New added-value compounds</text>
</g>
<g transform="translate(246 438) scale(0.53407)" clip-path="url(#p1clip)">
<rect x="0" y="0" width="1966" height="1449" fill="#EDA22C"/>
<ellipse cx="1400" cy="700" rx="420" ry="260" fill="#F2B030" filter="url(#p1b2)"/>
<ellipse cx="1050" cy="1000" rx="380" ry="120" fill="#F0AC34" filter="url(#p1b2)"/>
<ellipse cx="1420" cy="770" rx="120" ry="50" fill="#D88420" filter="url(#p1b2)"/>
<path d="M1330.0 0.0 C1424.3 -15.0 1860.0 -43.3 1966.0 0.0 C2072.0 43.3 1993.7 220.0 1966.0 260.0 C1938.3 300.0 1861.0 250.0 1800.0 240.0 C1739.0 230.0 1653.3 215.0 1600.0 200.0 C1546.7 185.0 1513.3 168.3 1480.0 150.0 C1446.7 131.7 1425.0 115.0 1400.0 90.0 C1375.0 65.0 1235.7 15.0 1330.0 0.0 Z" fill="#B8A078" filter="url(#p1b)"/>
<path d="M1560.0 110.0 C1568.3 96.7 1632.3 81.7 1700.0 70.0 C1767.7 58.3 1921.7 20.0 1966.0 40.0 C2010.3 60.0 1993.7 168.3 1966.0 190.0 C1938.3 211.7 1852.7 176.7 1800.0 170.0 C1747.3 163.3 1690.0 160.0 1650.0 150.0 C1610.0 140.0 1551.7 123.3 1560.0 110.0 Z" fill="#D8D4CC" filter="url(#p1b)"/>
<path d="M1620.0 110.0 C1640.0 98.3 1742.3 78.3 1800.0 70.0 C1857.7 61.7 1938.3 53.3 1966.0 60.0 C1993.7 66.7 1993.7 98.3 1966.0 110.0 C1938.3 121.7 1847.7 125.0 1800.0 130.0 C1752.3 135.0 1710.0 143.3 1680.0 140.0 C1650.0 136.7 1600.0 121.7 1620.0 110.0 Z" fill="#F4F0F0" filter="url(#p1b)"/>
<path d="M1400.0 0.0 C1433.3 -10.0 1605.7 0.0 1700.0 0.0 C1794.3 0.0 1921.7 -5.0 1966.0 0.0 C2010.3 5.0 2010.3 21.7 1966.0 30.0 C1921.7 38.3 1777.7 45.0 1700.0 50.0 C1622.3 55.0 1550.0 68.3 1500.0 60.0 C1450.0 51.7 1366.7 10.0 1400.0 0.0 Z" fill="#E09A50" filter="url(#p1b)"/>
<path d="M900.0 1210.0 C966.7 1158.5 1183.3 1158.3 1300.0 1140.0 C1416.7 1121.7 1489.0 1115.0 1600.0 1100.0 C1711.0 1085.0 1905.0 991.8 1966.0 1050.0 C2027.0 1108.2 2143.7 1382.5 1966.0 1449.0 C1788.3 1515.5 1077.7 1488.8 900.0 1449.0 C722.3 1409.2 833.3 1261.5 900.0 1210.0 Z" fill="url(#p1bot)" filter="url(#p1b2)"/>
<path d="M0.0 960.0 C50.0 902.5 200.0 970.8 300.0 975.0 C400.0 979.2 508.3 986.7 600.0 985.0 C691.7 983.3 786.7 960.8 850.0 965.0 C913.3 969.2 988.3 990.8 980.0 1010.0 C971.7 1029.2 870.0 1056.7 800.0 1080.0 C730.0 1103.3 635.0 1125.0 560.0 1150.0 C485.0 1175.0 426.7 1205.0 350.0 1230.0 C273.3 1255.0 158.3 1285.0 100.0 1300.0 C41.7 1315.0 16.7 1376.7 0.0 1320.0 C-16.7 1263.3 -50.0 1017.5 0.0 960.0 Z" fill="url(#p1red)" filter="url(#p1b)"/>
<path d="M500.0 1060.0 C566.7 1036.7 716.7 1040.0 800.0 1040.0 C883.3 1040.0 983.3 1040.0 1000.0 1060.0 C1016.7 1080.0 966.7 1136.7 900.0 1160.0 C833.3 1183.3 683.3 1196.7 600.0 1200.0 C516.7 1203.3 416.7 1203.3 400.0 1180.0 C383.3 1156.7 433.3 1083.3 500.0 1060.0 Z" fill="#D2691E" filter="url(#p1b2)" opacity="0.7"/>
<path d="M0.0 1330.0 C41.7 1305.2 166.7 1306.7 250.0 1300.0 C333.3 1293.3 408.3 1290.0 500.0 1290.0 C591.7 1290.0 683.3 1293.3 800.0 1300.0 C916.7 1306.7 1066.7 1321.7 1200.0 1330.0 C1333.3 1338.3 1472.3 1343.3 1600.0 1350.0 C1727.7 1356.7 1905.0 1353.5 1966.0 1370.0 C2027.0 1386.5 2293.7 1435.8 1966.0 1449.0 C1638.3 1462.2 327.7 1468.8 0.0 1449.0 C-327.7 1429.2 -41.7 1354.8 0.0 1330.0 Z" fill="url(#p1purp)" filter="url(#p1b2)"/>
<path d="M0.0 1340.0 C33.3 1326.7 133.3 1320.0 200.0 1310.0 C266.7 1300.0 350.0 1281.7 400.0 1280.0 C450.0 1278.3 516.7 1288.3 500.0 1300.0 C483.3 1311.7 366.7 1336.7 300.0 1350.0 C233.3 1363.3 150.0 1373.3 100.0 1380.0 C50.0 1386.7 16.7 1396.7 0.0 1390.0 C-16.7 1383.3 -33.3 1353.3 0.0 1340.0 Z" fill="#5A4A9A" filter="url(#p1b)"/>
<path d="M0.0 0.0 C206.7 -46.7 1035.0 -13.3 1240.0 0.0 C1445.0 13.3 1226.7 50.0 1230.0 80.0 C1233.3 110.0 1248.3 150.0 1260.0 180.0 C1271.7 210.0 1290.0 238.3 1300.0 260.0 C1310.0 281.7 1345.0 298.3 1320.0 310.0 C1295.0 321.7 1220.0 324.2 1150.0 330.0 C1080.0 335.8 991.7 340.0 900.0 345.0 C808.3 350.0 686.7 354.2 600.0 360.0 C513.3 365.8 438.3 390.0 380.0 380.0 C321.7 370.0 313.3 316.7 250.0 300.0 C186.7 283.3 41.7 330.0 0.0 280.0 C-41.7 230.0 -206.7 46.7 0.0 0.0 Z" fill="#566428" filter="url(#p1b)"/>
<path d="M500.0 20.0 C566.7 -11.7 800.0 3.3 900.0 10.0 C1000.0 16.7 1058.3 28.3 1100.0 60.0 C1141.7 91.7 1166.7 163.3 1150.0 200.0 C1133.3 236.7 1075.0 263.3 1000.0 280.0 C925.0 296.7 783.3 313.3 700.0 300.0 C616.7 286.7 533.3 246.7 500.0 200.0 C466.7 153.3 433.3 51.7 500.0 20.0 Z" fill="#6E7A3A" filter="url(#p1b2)" opacity="0.8"/>
<path d="M700.0 200.0 C758.3 175.0 908.3 173.3 1000.0 180.0 C1091.7 186.7 1216.7 216.7 1250.0 240.0 C1283.3 263.3 1258.3 303.3 1200.0 320.0 C1141.7 336.7 991.7 338.3 900.0 340.0 C808.3 341.7 683.3 353.3 650.0 330.0 C616.7 306.7 641.7 225.0 700.0 200.0 Z" fill="#7E6A40" filter="url(#p1b2)" opacity="0.6"/>
<path d="M0.0 0.0 C75.0 -33.3 366.7 -25.0 450.0 0.0 C533.3 25.0 516.7 106.7 500.0 150.0 C483.3 193.3 416.7 241.7 350.0 260.0 C283.3 278.3 158.3 270.0 100.0 260.0 C41.7 250.0 16.7 243.3 0.0 200.0 C-16.7 156.7 -75.0 33.3 0.0 0.0 Z" fill="#3E5A22" filter="url(#p1b2)" opacity="0.7"/>
<path d="M0.0 180.0 C25.0 47.5 106.7 156.7 150.0 160.0 C193.3 163.3 230.0 171.7 260.0 200.0 C290.0 228.3 303.3 293.3 330.0 330.0 C356.7 366.7 381.7 395.0 420.0 420.0 C458.3 445.0 513.3 463.3 560.0 480.0 C606.7 496.7 656.7 503.3 700.0 520.0 C743.3 536.7 791.7 550.0 820.0 580.0 C848.3 610.0 853.3 660.0 870.0 700.0 C886.7 740.0 916.7 786.7 920.0 820.0 C923.3 853.3 926.7 883.3 890.0 900.0 C853.3 916.7 773.3 915.0 700.0 920.0 C626.7 925.0 533.3 925.8 450.0 930.0 C366.7 934.2 275.0 940.8 200.0 945.0 C125.0 949.2 33.3 1082.5 0.0 955.0 C-33.3 827.5 -25.0 312.5 0.0 180.0 Z" fill="#3E8A26" filter="url(#p1b)"/>
<path d="M20.0 220.0 C46.7 183.3 136.7 190.0 180.0 200.0 C223.3 210.0 251.7 243.3 280.0 280.0 C308.3 316.7 313.3 386.7 350.0 420.0 C386.7 453.3 451.7 460.0 500.0 480.0 C548.3 500.0 596.7 520.0 640.0 540.0 C683.3 560.0 750.0 573.3 760.0 600.0 C770.0 626.7 743.3 683.3 700.0 700.0 C656.7 716.7 566.7 710.0 500.0 700.0 C433.3 690.0 366.7 663.3 300.0 640.0 C233.3 616.7 146.7 596.7 100.0 560.0 C53.3 523.3 33.3 476.7 20.0 420.0 C6.7 363.3 -6.7 256.7 20.0 220.0 Z" fill="#5CB038" filter="url(#p1b2)" opacity="0.85"/>
<path d="M0.0 600.0 C33.3 556.7 133.3 623.3 200.0 640.0 C266.7 656.7 375.0 665.0 400.0 700.0 C425.0 735.0 391.7 816.7 350.0 850.0 C308.3 883.3 208.3 891.7 150.0 900.0 C91.7 908.3 25.0 950.0 0.0 900.0 C-25.0 850.0 -33.3 643.3 0.0 600.0 Z" fill="#2F6A20" filter="url(#p1b2)" opacity="0.8"/>
<path d="M500.0 760.0 C545.0 733.3 683.3 730.0 750.0 740.0 C816.7 750.0 878.3 786.7 900.0 820.0 C921.7 853.3 921.7 918.3 880.0 940.0 C838.3 961.7 716.7 956.7 650.0 950.0 C583.3 943.3 505.0 931.7 480.0 900.0 C455.0 868.3 455.0 786.7 500.0 760.0 Z" fill="#8A9060" filter="url(#p1b2)" opacity="0.6"/>
<g clip-path="url(#p1up)"><g filter="url(#p1t)">
<ellipse cx="828" cy="267" rx="27" ry="39" fill="#4A5A22" opacity="0.75"/>
<ellipse cx="331" cy="19" rx="14" ry="32" fill="#7A6838" opacity="0.75"/>
<ellipse cx="328" cy="196" rx="12" ry="25" fill="#3A4A1C" opacity="0.75"/>
<ellipse cx="372" cy="330" rx="15" ry="40" fill="#6A5A30" opacity="0.75"/>
<ellipse cx="185" cy="222" rx="14" ry="44" fill="#7A6838" opacity="0.75"/>
<ellipse cx="7" cy="278" rx="28" ry="27" fill="#7A6838" opacity="0.75"/>
<ellipse cx="1279" cy="194" rx="15" ry="44" fill="#3A4A1C" opacity="0.75"/>
<ellipse cx="262" cy="347" rx="17" ry="29" fill="#6A5A30" opacity="0.75"/>
<ellipse cx="221" cy="52" rx="18" ry="40" fill="#6A7A34" opacity="0.75"/>
<ellipse cx="780" cy="215" rx="13" ry="29" fill="#5E6E2C" opacity="0.75"/>
<ellipse cx="407" cy="251" rx="21" ry="38" fill="#7A6838" opacity="0.75"/>
<ellipse cx="76" cy="351" rx="29" ry="29" fill="#4A5A22" opacity="0.75"/>
<ellipse cx="538" cy="198" rx="19" ry="34" fill="#6A5A30" opacity="0.75"/>
<ellipse cx="12" cy="17" rx="23" ry="44" fill="#7A6838" opacity="0.75"/>
<ellipse cx="158" cy="89" rx="18" ry="29" fill="#70803A" opacity="0.75"/>
<ellipse cx="698" cy="279" rx="23" ry="40" fill="#6A7A34" opacity="0.75"/>
<ellipse cx="489" cy="107" rx="29" ry="22" fill="#6A5A30" opacity="0.75"/>
<ellipse cx="453" cy="220" rx="18" ry="43" fill="#7A6838" opacity="0.75"/>
<ellipse cx="725" cy="112" rx="18" ry="40" fill="#5E6E2C" opacity="0.75"/>
<ellipse cx="834" cy="260" rx="30" ry="24" fill="#6A6A38" opacity="0.75"/>
<ellipse cx="65" cy="355" rx="13" ry="39" fill="#6A5A30" opacity="0.75"/>
<ellipse cx="457" cy="90" rx="15" ry="44" fill="#6A5A30" opacity="0.75"/>
<ellipse cx="849" cy="289" rx="27" ry="23" fill="#5E6E2C" opacity="0.75"/>
<ellipse cx="973" cy="342" rx="14" ry="31" fill="#6A5A30" opacity="0.75"/>
<ellipse cx="198" cy="304" rx="15" ry="43" fill="#6A6A38" opacity="0.75"/>
<ellipse cx="825" cy="61" rx="29" ry="37" fill="#70803A" opacity="0.75"/>
<ellipse cx="423" cy="99" rx="19" ry="24" fill="#70803A" opacity="0.75"/>
<ellipse cx="501" cy="356" rx="23" ry="32" fill="#7A6838" opacity="0.75"/>
<ellipse cx="450" cy="32" rx="21" ry="34" fill="#6A6A38" opacity="0.75"/>
<ellipse cx="669" cy="23" rx="25" ry="37" fill="#5E6E2C" opacity="0.75"/>
<ellipse cx="1010" cy="131" rx="27" ry="27" fill="#6A6A38" opacity="0.75"/>
<ellipse cx="1305" cy="258" rx="24" ry="35" fill="#5E6E2C" opacity="0.75"/>
<ellipse cx="15" cy="197" rx="18" ry="27" fill="#6A6A38" opacity="0.75"/>
<ellipse cx="384" cy="180" rx="18" ry="36" fill="#5E6E2C" opacity="0.75"/>
<ellipse cx="981" cy="298" rx="29" ry="24" fill="#5E6E2C" opacity="0.75"/>
<ellipse cx="1153" cy="162" rx="29" ry="33" fill="#5E6E2C" opacity="0.75"/>
<ellipse cx="704" cy="60" rx="29" ry="32" fill="#5E6E2C" opacity="0.75"/>
<ellipse cx="920" cy="259" rx="15" ry="40" fill="#6A5A30" opacity="0.75"/>
<ellipse cx="773" cy="240" rx="17" ry="34" fill="#6A5A30" opacity="0.75"/>
<ellipse cx="1153" cy="97" rx="16" ry="35" fill="#4A5A22" opacity="0.75"/>
<ellipse cx="830" cy="65" rx="23" ry="21" fill="#7A6838" opacity="0.75"/>
<ellipse cx="627" cy="81" rx="28" ry="23" fill="#4A5A22" opacity="0.75"/>
<ellipse cx="1287" cy="174" rx="19" ry="29" fill="#4A5A22" opacity="0.75"/>
<ellipse cx="881" cy="26" rx="16" ry="43" fill="#3A4A1C" opacity="0.75"/>
<ellipse cx="1" cy="146" rx="27" ry="42" fill="#6A6A38" opacity="0.75"/>
<ellipse cx="916" cy="197" rx="22" ry="28" fill="#4A5A22" opacity="0.75"/>
<ellipse cx="393" cy="185" rx="29" ry="40" fill="#6A6A38" opacity="0.75"/>
<ellipse cx="557" cy="293" rx="20" ry="24" fill="#5E6E2C" opacity="0.75"/>
<ellipse cx="509" cy="172" rx="29" ry="35" fill="#3A4A1C" opacity="0.75"/>
<ellipse cx="467" cy="322" rx="19" ry="28" fill="#4A5A22" opacity="0.75"/>
<ellipse cx="1219" cy="194" rx="23" ry="42" fill="#5E6E2C" opacity="0.75"/>
<ellipse cx="500" cy="155" rx="21" ry="32" fill="#3A4A1C" opacity="0.75"/>
<ellipse cx="942" cy="138" rx="23" ry="26" fill="#7A6838" opacity="0.75"/>
<ellipse cx="1305" cy="179" rx="12" ry="44" fill="#6A5A30" opacity="0.75"/>
<ellipse cx="409" cy="335" rx="21" ry="23" fill="#7A6838" opacity="0.75"/>
<ellipse cx="827" cy="160" rx="13" ry="23" fill="#6A6A38" opacity="0.75"/>
<ellipse cx="522" cy="173" rx="16" ry="32" fill="#6A6A38" opacity="0.75"/>
<ellipse cx="49" cy="176" rx="25" ry="27" fill="#7A6838" opacity="0.75"/>
<ellipse cx="655" cy="357" rx="12" ry="23" fill="#6A7A34" opacity="0.75"/>
<ellipse cx="376" cy="255" rx="25" ry="21" fill="#6A6A38" opacity="0.75"/>
<ellipse cx="465" cy="245" rx="13" ry="26" fill="#7A6838" opacity="0.75"/>
<ellipse cx="606" cy="330" rx="12" ry="39" fill="#3A4A1C" opacity="0.75"/>
<ellipse cx="569" cy="207" rx="27" ry="41" fill="#70803A" opacity="0.75"/>
<ellipse cx="633" cy="246" rx="28" ry="32" fill="#3A4A1C" opacity="0.75"/>
<ellipse cx="1008" cy="109" rx="25" ry="31" fill="#4A5A22" opacity="0.75"/>
<ellipse cx="381" cy="281" rx="15" ry="32" fill="#6A6A38" opacity="0.75"/>
<ellipse cx="730" cy="179" rx="22" ry="31" fill="#5E6E2C" opacity="0.75"/>
<ellipse cx="720" cy="17" rx="17" ry="22" fill="#3A4A1C" opacity="0.75"/>
<ellipse cx="84" cy="339" rx="25" ry="44" fill="#5E6E2C" opacity="0.75"/>
<ellipse cx="1328" cy="252" rx="14" ry="23" fill="#4A5A22" opacity="0.75"/>
<ellipse cx="817" cy="297" rx="25" ry="23" fill="#6A7A34" opacity="0.75"/>
<ellipse cx="389" cy="330" rx="15" ry="25" fill="#7A6838" opacity="0.75"/>
<ellipse cx="1067" cy="24" rx="13" ry="23" fill="#3A4A1C" opacity="0.75"/>
<ellipse cx="504" cy="26" rx="22" ry="23" fill="#4A5A22" opacity="0.75"/>
<ellipse cx="530" cy="225" rx="20" ry="28" fill="#4A5A22" opacity="0.75"/>
<ellipse cx="798" cy="176" rx="28" ry="23" fill="#5E6E2C" opacity="0.75"/>
<ellipse cx="392" cy="205" rx="28" ry="34" fill="#6A6A38" opacity="0.75"/>
<ellipse cx="826" cy="95" rx="17" ry="39" fill="#3A4A1C" opacity="0.75"/>
<ellipse cx="688" cy="48" rx="28" ry="31" fill="#3A4A1C" opacity="0.75"/>
<ellipse cx="517" cy="47" rx="24" ry="22" fill="#4A5A22" opacity="0.75"/>
<ellipse cx="888" cy="33" rx="21" ry="31" fill="#6A7A34" opacity="0.75"/>
<ellipse cx="519" cy="167" rx="14" ry="33" fill="#5E6E2C" opacity="0.75"/>
<ellipse cx="721" cy="138" rx="29" ry="31" fill="#7A6838" opacity="0.75"/>
<ellipse cx="1057" cy="270" rx="30" ry="37" fill="#6A7A34" opacity="0.75"/>
<ellipse cx="1091" cy="50" rx="18" ry="26" fill="#6A5A30" opacity="0.75"/>
<ellipse cx="443" cy="221" rx="26" ry="29" fill="#5E6E2C" opacity="0.75"/>
<ellipse cx="961" cy="129" rx="26" ry="31" fill="#6A6A38" opacity="0.75"/>
<ellipse cx="1133" cy="186" rx="25" ry="30" fill="#3A4A1C" opacity="0.75"/>
<ellipse cx="129" cy="12" rx="16" ry="32" fill="#3A4A1C" opacity="0.75"/>
<ellipse cx="1246" cy="238" rx="12" ry="32" fill="#5E6E2C" opacity="0.75"/>
<ellipse cx="1183" cy="223" rx="18" ry="32" fill="#6A5A30" opacity="0.75"/>
<ellipse cx="255" cy="235" rx="19" ry="30" fill="#6A7A34" opacity="0.75"/>
<ellipse cx="1171" cy="55" rx="14" ry="40" fill="#6A6A38" opacity="0.75"/>
<ellipse cx="998" cy="242" rx="21" ry="21" fill="#4A5A22" opacity="0.75"/>
<ellipse cx="1230" cy="133" rx="24" ry="37" fill="#4A5A22" opacity="0.75"/>
<ellipse cx="627" cy="340" rx="26" ry="28" fill="#6A7A34" opacity="0.75"/>
<ellipse cx="604" cy="86" rx="13" ry="38" fill="#7A6838" opacity="0.75"/>
<ellipse cx="764" cy="236" rx="28" ry="38" fill="#6A5A30" opacity="0.75"/>
<ellipse cx="905" cy="66" rx="17" ry="38" fill="#5E6E2C" opacity="0.75"/>
<ellipse cx="955" cy="59" rx="15" ry="25" fill="#3A4A1C" opacity="0.75"/>
<ellipse cx="58" cy="219" rx="12" ry="22" fill="#6A6A38" opacity="0.75"/>
<ellipse cx="1036" cy="148" rx="13" ry="41" fill="#4A5A22" opacity="0.75"/>
<ellipse cx="1114" cy="203" rx="25" ry="26" fill="#6A7A34" opacity="0.75"/>
<ellipse cx="1068" cy="33" rx="13" ry="26" fill="#70803A" opacity="0.75"/>
<ellipse cx="67" cy="143" rx="13" ry="41" fill="#4A5A22" opacity="0.75"/>
<ellipse cx="593" cy="231" rx="29" ry="25" fill="#4A5A22" opacity="0.75"/>
<ellipse cx="925" cy="231" rx="22" ry="22" fill="#3A4A1C" opacity="0.75"/>
<ellipse cx="417" cy="39" rx="23" ry="41" fill="#7A6838" opacity="0.75"/>
<ellipse cx="285" cy="6" rx="21" ry="34" fill="#5E6E2C" opacity="0.75"/>
<ellipse cx="501" cy="225" rx="28" ry="28" fill="#4A5A22" opacity="0.75"/>
<ellipse cx="597" cy="298" rx="22" ry="23" fill="#3A4A1C" opacity="0.75"/>
<ellipse cx="643" cy="281" rx="27" ry="28" fill="#6A6A38" opacity="0.75"/>
<ellipse cx="173" cy="30" rx="25" ry="40" fill="#3A4A1C" opacity="0.75"/>
<ellipse cx="1287" cy="240" rx="13" ry="38" fill="#6A6A38" opacity="0.75"/>
<ellipse cx="64" cy="72" rx="28" ry="42" fill="#6A6A38" opacity="0.75"/>
<ellipse cx="96" cy="277" rx="26" ry="34" fill="#6A5A30" opacity="0.75"/>
<ellipse cx="1192" cy="235" rx="22" ry="31" fill="#7A6838" opacity="0.75"/>
<ellipse cx="1086" cy="236" rx="25" ry="38" fill="#4A5A22" opacity="0.75"/>
<ellipse cx="356" cy="292" rx="22" ry="28" fill="#6A5A30" opacity="0.75"/>
<ellipse cx="408" cy="49" rx="24" ry="27" fill="#70803A" opacity="0.75"/>
<ellipse cx="84" cy="275" rx="12" ry="21" fill="#4A5A22" opacity="0.75"/>
<ellipse cx="173" cy="129" rx="29" ry="35" fill="#6A6A38" opacity="0.75"/>
<ellipse cx="307" cy="154" rx="16" ry="29" fill="#5E6E2C" opacity="0.75"/>
<ellipse cx="217" cy="223" rx="25" ry="22" fill="#7A6838" opacity="0.75"/>
<ellipse cx="705" cy="62" rx="20" ry="43" fill="#7A6838" opacity="0.75"/>
<ellipse cx="1057" cy="43" rx="20" ry="26" fill="#5E6E2C" opacity="0.75"/>
<ellipse cx="793" cy="62" rx="26" ry="43" fill="#4A5A22" opacity="0.75"/>
<ellipse cx="708" cy="349" rx="14" ry="40" fill="#4A5A22" opacity="0.75"/>
<ellipse cx="558" cy="19" rx="13" ry="34" fill="#4A5A22" opacity="0.75"/>
<ellipse cx="641" cy="317" rx="20" ry="25" fill="#6A5A30" opacity="0.75"/>
<ellipse cx="1093" cy="109" rx="26" ry="40" fill="#5E6E2C" opacity="0.75"/>
<ellipse cx="488" cy="291" rx="23" ry="30" fill="#4A5A22" opacity="0.75"/>
<ellipse cx="190" cy="299" rx="19" ry="22" fill="#70803A" opacity="0.75"/>
<ellipse cx="528" cy="271" rx="28" ry="25" fill="#6A6A38" opacity="0.75"/>
<ellipse cx="1060" cy="117" rx="28" ry="36" fill="#70803A" opacity="0.75"/>
<ellipse cx="1064" cy="136" rx="14" ry="35" fill="#4A5A22" opacity="0.75"/>
<ellipse cx="826" cy="293" rx="18" ry="21" fill="#4A5A22" opacity="0.75"/>
<ellipse cx="415" cy="138" rx="22" ry="37" fill="#70803A" opacity="0.75"/>
<ellipse cx="598" cy="284" rx="22" ry="40" fill="#4A5A22" opacity="0.75"/>
<ellipse cx="483" cy="214" rx="17" ry="22" fill="#3A4A1C" opacity="0.75"/>
<ellipse cx="116" cy="128" rx="18" ry="43" fill="#6A5A30" opacity="0.75"/>
<ellipse cx="365" cy="258" rx="13" ry="22" fill="#6A7A34" opacity="0.75"/>
<ellipse cx="1279" cy="108" rx="24" ry="41" fill="#5E6E2C" opacity="0.75"/>
<ellipse cx="982" cy="220" rx="21" ry="22" fill="#3A4A1C" opacity="0.75"/>
<ellipse cx="161" cy="123" rx="19" ry="20" fill="#6A5A30" opacity="0.75"/>
<ellipse cx="519" cy="64" rx="28" ry="35" fill="#3A4A1C" opacity="0.75"/>
<ellipse cx="514" cy="39" rx="16" ry="23" fill="#5E6E2C" opacity="0.75"/>
<ellipse cx="391" cy="287" rx="28" ry="24" fill="#6A7A34" opacity="0.75"/>
<ellipse cx="842" cy="276" rx="24" ry="34" fill="#3A4A1C" opacity="0.75"/>
<ellipse cx="833" cy="230" rx="20" ry="31" fill="#6A5A30" opacity="0.75"/>
<ellipse cx="703" cy="326" rx="20" ry="22" fill="#6A6A38" opacity="0.75"/>
<ellipse cx="1183" cy="119" rx="13" ry="23" fill="#6A5A30" opacity="0.75"/>
<ellipse cx="748" cy="217" rx="20" ry="28" fill="#7A6838" opacity="0.75"/>
<ellipse cx="136" cy="283" rx="25" ry="22" fill="#5E6E2C" opacity="0.75"/>
<ellipse cx="645" cy="300" rx="18" ry="41" fill="#6A7A34" opacity="0.75"/>
<ellipse cx="858" cy="334" rx="28" ry="35" fill="#3A4A1C" opacity="0.75"/>
<ellipse cx="1061" cy="302" rx="15" ry="24" fill="#4A5A22" opacity="0.75"/>
<ellipse cx="123" cy="55" rx="22" ry="31" fill="#6A7A34" opacity="0.75"/>
<ellipse cx="429" cy="277" rx="25" ry="43" fill="#7A6838" opacity="0.75"/>
<ellipse cx="1273" cy="225" rx="19" ry="40" fill="#6A7A34" opacity="0.75"/>
<ellipse cx="260" cy="117" rx="20" ry="37" fill="#7A6838" opacity="0.75"/>
<ellipse cx="988" cy="30" rx="29" ry="32" fill="#6A5A30" opacity="0.75"/>
<ellipse cx="7" cy="353" rx="14" ry="20" fill="#5E6E2C" opacity="0.75"/>
<ellipse cx="507" cy="123" rx="21" ry="43" fill="#6A7A34" opacity="0.75"/>
<ellipse cx="947" cy="6" rx="30" ry="39" fill="#70803A" opacity="0.75"/>
<ellipse cx="260" cy="124" rx="17" ry="32" fill="#7A6838" opacity="0.75"/>
<ellipse cx="927" cy="284" rx="17" ry="28" fill="#6A7A34" opacity="0.75"/>
<ellipse cx="1128" cy="187" rx="16" ry="45" fill="#4A5A22" opacity="0.75"/>
<ellipse cx="361" cy="259" rx="17" ry="22" fill="#7A6838" opacity="0.75"/>
<ellipse cx="635" cy="354" rx="27" ry="26" fill="#6A5A30" opacity="0.75"/>
<ellipse cx="602" cy="46" rx="12" ry="39" fill="#6A7A34" opacity="0.75"/>
<ellipse cx="480" cy="6" rx="22" ry="44" fill="#6A6A38" opacity="0.75"/>
<ellipse cx="1155" cy="28" rx="15" ry="40" fill="#3A4A1C" opacity="0.75"/>
<ellipse cx="16" cy="187" rx="23" ry="41" fill="#6A6A38" opacity="0.75"/>
<ellipse cx="626" cy="8" rx="19" ry="39" fill="#7A6838" opacity="0.75"/>
<ellipse cx="578" cy="214" rx="16" ry="31" fill="#4A5A22" opacity="0.75"/>
<ellipse cx="962" cy="292" rx="28" ry="29" fill="#6A5A30" opacity="0.75"/>
<ellipse cx="1329" cy="272" rx="15" ry="40" fill="#5E6E2C" opacity="0.75"/>
<ellipse cx="561" cy="350" rx="16" ry="31" fill="#5E6E2C" opacity="0.75"/>
<ellipse cx="360" cy="169" rx="12" ry="36" fill="#6A6A38" opacity="0.75"/>
<ellipse cx="1023" cy="273" rx="13" ry="30" fill="#6A7A34" opacity="0.75"/>
<ellipse cx="1194" cy="319" rx="24" ry="39" fill="#3A4A1C" opacity="0.75"/>
<ellipse cx="657" cy="114" rx="14" ry="26" fill="#70803A" opacity="0.75"/>
<ellipse cx="1224" cy="338" rx="12" ry="40" fill="#4A5A22" opacity="0.75"/>
<ellipse cx="114" cy="47" rx="18" ry="25" fill="#5E6E2C" opacity="0.75"/>
<ellipse cx="391" cy="323" rx="17" ry="23" fill="#6A7A34" opacity="0.75"/>
<ellipse cx="531" cy="109" rx="22" ry="31" fill="#70803A" opacity="0.75"/>
<ellipse cx="1158" cy="347" rx="17" ry="34" fill="#7A6838" opacity="0.75"/>
<ellipse cx="973" cy="48" rx="24" ry="21" fill="#70803A" opacity="0.75"/>
<ellipse cx="20" cy="76" rx="21" ry="35" fill="#3A4A1C" opacity="0.75"/>
<ellipse cx="1055" cy="20" rx="13" ry="30" fill="#3A4A1C" opacity="0.75"/>
<ellipse cx="460" cy="8" rx="20" ry="23" fill="#6A6A38" opacity="0.75"/>
<ellipse cx="164" cy="326" rx="25" ry="43" fill="#6A6A38" opacity="0.75"/>
<ellipse cx="1263" cy="356" rx="27" ry="35" fill="#6A6A38" opacity="0.75"/>
<ellipse cx="908" cy="232" rx="25" ry="33" fill="#4A5A22" opacity="0.75"/>
<ellipse cx="517" cy="333" rx="27" ry="29" fill="#6A6A38" opacity="0.75"/>
<ellipse cx="544" cy="164" rx="21" ry="34" fill="#6A7A34" opacity="0.75"/>
<ellipse cx="276" cy="163" rx="25" ry="23" fill="#4A5A22" opacity="0.75"/>
<ellipse cx="1177" cy="135" rx="17" ry="27" fill="#5E6E2C" opacity="0.75"/>
<ellipse cx="1042" cy="267" rx="17" ry="21" fill="#6A6A38" opacity="0.75"/>
<ellipse cx="336" cy="60" rx="25" ry="35" fill="#3A4A1C" opacity="0.75"/>
<ellipse cx="1164" cy="329" rx="23" ry="34" fill="#7A6838" opacity="0.75"/>
<ellipse cx="1199" cy="128" rx="12" ry="21" fill="#6A7A34" opacity="0.75"/>
<ellipse cx="1096" cy="178" rx="12" ry="30" fill="#4A5A22" opacity="0.75"/>
<ellipse cx="549" cy="191" rx="23" ry="26" fill="#70803A" opacity="0.75"/>
<ellipse cx="1262" cy="40" rx="25" ry="35" fill="#6A7A34" opacity="0.75"/>
<ellipse cx="57" cy="258" rx="24" ry="42" fill="#6A6A38" opacity="0.75"/>
<ellipse cx="959" cy="25" rx="14" ry="39" fill="#6A6A38" opacity="0.75"/>
<ellipse cx="344" cy="108" rx="28" ry="28" fill="#4A5A22" opacity="0.75"/>
<ellipse cx="875" cy="179" rx="15" ry="25" fill="#6A5A30" opacity="0.75"/>
<ellipse cx="350" cy="341" rx="20" ry="24" fill="#3A4A1C" opacity="0.75"/>
<ellipse cx="1322" cy="230" rx="23" ry="36" fill="#70803A" opacity="0.75"/>
<ellipse cx="232" cy="50" rx="15" ry="33" fill="#70803A" opacity="0.75"/>
<ellipse cx="1244" cy="124" rx="15" ry="27" fill="#4A5A22" opacity="0.75"/>
<ellipse cx="657" cy="193" rx="22" ry="37" fill="#3A4A1C" opacity="0.75"/>
<ellipse cx="558" cy="282" rx="17" ry="23" fill="#5E6E2C" opacity="0.75"/>
<ellipse cx="345" cy="129" rx="21" ry="38" fill="#6A6A38" opacity="0.75"/>
<ellipse cx="115" cy="293" rx="18" ry="23" fill="#6A7A34" opacity="0.75"/>
<ellipse cx="841" cy="304" rx="13" ry="44" fill="#7A6838" opacity="0.75"/>
<ellipse cx="511" cy="229" rx="14" ry="41" fill="#6A6A38" opacity="0.75"/>
<ellipse cx="1174" cy="112" rx="25" ry="30" fill="#6A6A38" opacity="0.75"/>
<ellipse cx="1157" cy="23" rx="13" ry="21" fill="#6A6A38" opacity="0.75"/>
<ellipse cx="126" cy="265" rx="14" ry="30" fill="#6A5A30" opacity="0.75"/>
<ellipse cx="301" cy="10" rx="24" ry="37" fill="#6A6A38" opacity="0.75"/>
<ellipse cx="430" cy="130" rx="20" ry="23" fill="#6A7A34" opacity="0.75"/>
<ellipse cx="1022" cy="41" rx="14" ry="45" fill="#6A7A34" opacity="0.75"/>
<ellipse cx="722" cy="157" rx="18" ry="31" fill="#6A6A38" opacity="0.75"/>
<ellipse cx="1092" cy="14" rx="19" ry="36" fill="#7A6838" opacity="0.75"/>
<ellipse cx="1222" cy="117" rx="15" ry="21" fill="#6A7A34" opacity="0.75"/>
<ellipse cx="1249" cy="168" rx="22" ry="40" fill="#70803A" opacity="0.75"/>
<ellipse cx="845" cy="92" rx="25" ry="26" fill="#7A6838" opacity="0.75"/>
<ellipse cx="626" cy="273" rx="14" ry="25" fill="#6A7A34" opacity="0.75"/>
<ellipse cx="924" cy="262" rx="20" ry="26" fill="#6A7A34" opacity="0.75"/>
<ellipse cx="332" cy="231" rx="17" ry="32" fill="#70803A" opacity="0.75"/>
<ellipse cx="900" cy="289" rx="14" ry="35" fill="#70803A" opacity="0.75"/>
<ellipse cx="335" cy="128" rx="22" ry="34" fill="#4A5A22" opacity="0.75"/>
<ellipse cx="275" cy="9" rx="24" ry="32" fill="#70803A" opacity="0.75"/>
<ellipse cx="1162" cy="331" rx="23" ry="21" fill="#6A6A38" opacity="0.75"/>
<ellipse cx="384" cy="189" rx="19" ry="44" fill="#6A6A38" opacity="0.75"/>
<ellipse cx="171" cy="236" rx="12" ry="44" fill="#4A5A22" opacity="0.75"/>
<ellipse cx="416" cy="307" rx="20" ry="41" fill="#6A6A38" opacity="0.75"/>
<ellipse cx="899" cy="122" rx="25" ry="35" fill="#5E6E2C" opacity="0.75"/>
<ellipse cx="1059" cy="57" rx="24" ry="33" fill="#70803A" opacity="0.75"/>
<ellipse cx="642" cy="168" rx="13" ry="33" fill="#5E6E2C" opacity="0.75"/>
<ellipse cx="637" cy="43" rx="15" ry="24" fill="#3A4A1C" opacity="0.75"/>
<ellipse cx="675" cy="240" rx="24" ry="30" fill="#6A5A30" opacity="0.75"/>
<ellipse cx="857" cy="82" rx="29" ry="25" fill="#6A6A38" opacity="0.75"/>
<ellipse cx="314" cy="24" rx="20" ry="28" fill="#5E6E2C" opacity="0.75"/>
<ellipse cx="978" cy="134" rx="26" ry="38" fill="#70803A" opacity="0.75"/>
<ellipse cx="1186" cy="191" rx="15" ry="21" fill="#4A5A22" opacity="0.75"/>
<ellipse cx="19" cy="276" rx="15" ry="42" fill="#6A7A34" opacity="0.75"/>
<ellipse cx="1195" cy="169" rx="21" ry="21" fill="#6A6A38" opacity="0.75"/>
<ellipse cx="1058" cy="276" rx="27" ry="35" fill="#70803A" opacity="0.75"/>
<ellipse cx="952" cy="306" rx="12" ry="42" fill="#3A4A1C" opacity="0.75"/>
<ellipse cx="1316" cy="72" rx="25" ry="25" fill="#6A7A34" opacity="0.75"/>
<ellipse cx="710" cy="320" rx="16" ry="20" fill="#7A6838" opacity="0.75"/>
<ellipse cx="570" cy="108" rx="19" ry="39" fill="#6A5A30" opacity="0.75"/>
<ellipse cx="152" cy="138" rx="16" ry="30" fill="#3A4A1C" opacity="0.75"/>
<ellipse cx="600" cy="147" rx="17" ry="33" fill="#4A5A22" opacity="0.75"/>
<ellipse cx="268" cy="248" rx="26" ry="42" fill="#6A6A38" opacity="0.75"/>
</g></g>
<g clip-path="url(#p1tr)"><g filter="url(#p1t)">
<ellipse cx="853" cy="824" rx="30" ry="47" fill="#8A9070" opacity="0.8"/>
<ellipse cx="521" cy="852" rx="23" ry="27" fill="#A0A088" opacity="0.8"/>
<ellipse cx="305" cy="363" rx="31" ry="23" fill="#2A5A1A" opacity="0.8"/>
<ellipse cx="764" cy="974" rx="21" ry="25" fill="#7A8A60" opacity="0.8"/>
<ellipse cx="563" cy="458" rx="27" ry="27" fill="#5CB43A" opacity="0.8"/>
<ellipse cx="506" cy="750" rx="29" ry="42" fill="#3C8A26" opacity="0.8"/>
<ellipse cx="434" cy="854" rx="29" ry="47" fill="#3A6A28" opacity="0.8"/>
<ellipse cx="454" cy="462" rx="28" ry="32" fill="#3C8A26" opacity="0.8"/>
<ellipse cx="824" cy="375" rx="23" ry="48" fill="#6CC040" opacity="0.8"/>
<ellipse cx="565" cy="606" rx="22" ry="38" fill="#5CB43A" opacity="0.8"/>
<ellipse cx="910" cy="164" rx="20" ry="45" fill="#48A030" opacity="0.8"/>
<ellipse cx="66" cy="606" rx="16" ry="40" fill="#5CB43A" opacity="0.8"/>
<ellipse cx="292" cy="219" rx="22" ry="31" fill="#2E6A1E" opacity="0.8"/>
<ellipse cx="797" cy="812" rx="27" ry="44" fill="#3A6A28" opacity="0.8"/>
<ellipse cx="862" cy="907" rx="31" ry="41" fill="#A0A088" opacity="0.8"/>
<ellipse cx="79" cy="564" rx="18" ry="31" fill="#48A030" opacity="0.8"/>
<ellipse cx="395" cy="674" rx="15" ry="41" fill="#6CC040" opacity="0.8"/>
<ellipse cx="227" cy="397" rx="26" ry="24" fill="#3C8A26" opacity="0.8"/>
<ellipse cx="350" cy="502" rx="21" ry="48" fill="#5CB43A" opacity="0.8"/>
<ellipse cx="82" cy="441" rx="21" ry="25" fill="#5CB43A" opacity="0.8"/>
<ellipse cx="302" cy="856" rx="21" ry="41" fill="#8A9070" opacity="0.8"/>
<ellipse cx="421" cy="891" rx="26" ry="47" fill="#5A7A40" opacity="0.8"/>
<ellipse cx="288" cy="541" rx="25" ry="36" fill="#6CC040" opacity="0.8"/>
<ellipse cx="87" cy="584" rx="22" ry="27" fill="#48A030" opacity="0.8"/>
<ellipse cx="678" cy="944" rx="17" ry="34" fill="#5A7A40" opacity="0.8"/>
<ellipse cx="817" cy="410" rx="22" ry="48" fill="#2E6A1E" opacity="0.8"/>
<ellipse cx="101" cy="158" rx="29" ry="23" fill="#5CB43A" opacity="0.8"/>
<ellipse cx="101" cy="792" rx="15" ry="24" fill="#5A7A40" opacity="0.8"/>
<ellipse cx="583" cy="392" rx="19" ry="34" fill="#2A5A1A" opacity="0.8"/>
<ellipse cx="276" cy="740" rx="28" ry="36" fill="#6CC040" opacity="0.8"/>
<ellipse cx="794" cy="865" rx="23" ry="23" fill="#4A7030" opacity="0.8"/>
<ellipse cx="340" cy="997" rx="16" ry="34" fill="#4A7030" opacity="0.8"/>
<ellipse cx="254" cy="932" rx="33" ry="48" fill="#3A6A28" opacity="0.8"/>
<ellipse cx="363" cy="878" rx="17" ry="43" fill="#3A6A28" opacity="0.8"/>
<ellipse cx="676" cy="539" rx="18" ry="50" fill="#2E6A1E" opacity="0.8"/>
<ellipse cx="9" cy="731" rx="19" ry="39" fill="#2E6A1E" opacity="0.8"/>
<ellipse cx="407" cy="672" rx="16" ry="33" fill="#48A030" opacity="0.8"/>
<ellipse cx="180" cy="315" rx="19" ry="36" fill="#48A030" opacity="0.8"/>
<ellipse cx="540" cy="578" rx="30" ry="31" fill="#3C8A26" opacity="0.8"/>
<ellipse cx="315" cy="670" rx="31" ry="22" fill="#5CB43A" opacity="0.8"/>
<ellipse cx="182" cy="178" rx="25" ry="23" fill="#48A030" opacity="0.8"/>
<ellipse cx="209" cy="991" rx="18" ry="35" fill="#3A6A28" opacity="0.8"/>
<ellipse cx="30" cy="254" rx="16" ry="41" fill="#5CB43A" opacity="0.8"/>
<ellipse cx="111" cy="914" rx="16" ry="50" fill="#A0A088" opacity="0.8"/>
<ellipse cx="688" cy="932" rx="30" ry="29" fill="#3A6A28" opacity="0.8"/>
<ellipse cx="157" cy="379" rx="22" ry="29" fill="#3C8A26" opacity="0.8"/>
<ellipse cx="896" cy="863" rx="23" ry="29" fill="#3A6A28" opacity="0.8"/>
<ellipse cx="51" cy="785" rx="18" ry="41" fill="#4A7030" opacity="0.8"/>
<ellipse cx="90" cy="562" rx="19" ry="35" fill="#2A5A1A" opacity="0.8"/>
<ellipse cx="112" cy="219" rx="20" ry="29" fill="#5CB43A" opacity="0.8"/>
<ellipse cx="571" cy="156" rx="29" ry="39" fill="#2A5A1A" opacity="0.8"/>
<ellipse cx="300" cy="484" rx="19" ry="28" fill="#2E6A1E" opacity="0.8"/>
<ellipse cx="782" cy="646" rx="17" ry="22" fill="#48A030" opacity="0.8"/>
<ellipse cx="544" cy="344" rx="25" ry="24" fill="#3C8A26" opacity="0.8"/>
<ellipse cx="220" cy="475" rx="26" ry="30" fill="#2A5A1A" opacity="0.8"/>
<ellipse cx="679" cy="325" rx="16" ry="39" fill="#5CB43A" opacity="0.8"/>
<ellipse cx="656" cy="773" rx="18" ry="34" fill="#8A9070" opacity="0.8"/>
<ellipse cx="285" cy="366" rx="18" ry="35" fill="#6CC040" opacity="0.8"/>
<ellipse cx="507" cy="231" rx="27" ry="38" fill="#2A5A1A" opacity="0.8"/>
<ellipse cx="879" cy="993" rx="20" ry="38" fill="#5A7A40" opacity="0.8"/>
<ellipse cx="563" cy="707" rx="22" ry="45" fill="#2E6A1E" opacity="0.8"/>
<ellipse cx="792" cy="665" rx="17" ry="34" fill="#2E6A1E" opacity="0.8"/>
<ellipse cx="521" cy="316" rx="26" ry="46" fill="#3C8A26" opacity="0.8"/>
<ellipse cx="849" cy="304" rx="15" ry="30" fill="#6CC040" opacity="0.8"/>
<ellipse cx="150" cy="490" rx="16" ry="32" fill="#2E6A1E" opacity="0.8"/>
<ellipse cx="646" cy="681" rx="26" ry="48" fill="#3C8A26" opacity="0.8"/>
<ellipse cx="750" cy="472" rx="15" ry="33" fill="#2E6A1E" opacity="0.8"/>
<ellipse cx="911" cy="495" rx="34" ry="48" fill="#2A5A1A" opacity="0.8"/>
<ellipse cx="57" cy="990" rx="26" ry="23" fill="#8A9070" opacity="0.8"/>
<ellipse cx="470" cy="713" rx="24" ry="27" fill="#2E6A1E" opacity="0.8"/>
<ellipse cx="401" cy="837" rx="27" ry="48" fill="#A0A088" opacity="0.8"/>
<ellipse cx="658" cy="753" rx="32" ry="38" fill="#A0A088" opacity="0.8"/>
<ellipse cx="730" cy="711" rx="29" ry="28" fill="#2E6A1E" opacity="0.8"/>
<ellipse cx="458" cy="595" rx="18" ry="45" fill="#2A5A1A" opacity="0.8"/>
<ellipse cx="447" cy="567" rx="25" ry="50" fill="#2A5A1A" opacity="0.8"/>
<ellipse cx="301" cy="757" rx="16" ry="44" fill="#7A8A60" opacity="0.8"/>
<ellipse cx="606" cy="609" rx="31" ry="26" fill="#3C8A26" opacity="0.8"/>
<ellipse cx="452" cy="673" rx="17" ry="25" fill="#2A5A1A" opacity="0.8"/>
<ellipse cx="44" cy="797" rx="23" ry="27" fill="#8A9070" opacity="0.8"/>
<ellipse cx="111" cy="167" rx="25" ry="41" fill="#48A030" opacity="0.8"/>
<ellipse cx="593" cy="885" rx="18" ry="27" fill="#A0A088" opacity="0.8"/>
<ellipse cx="476" cy="871" rx="20" ry="44" fill="#4A7030" opacity="0.8"/>
<ellipse cx="546" cy="158" rx="18" ry="37" fill="#3C8A26" opacity="0.8"/>
<ellipse cx="236" cy="976" rx="30" ry="29" fill="#7A8A60" opacity="0.8"/>
<ellipse cx="621" cy="633" rx="19" ry="34" fill="#48A030" opacity="0.8"/>
<ellipse cx="201" cy="521" rx="16" ry="26" fill="#2E6A1E" opacity="0.8"/>
<ellipse cx="293" cy="803" rx="29" ry="50" fill="#3A6A28" opacity="0.8"/>
<ellipse cx="97" cy="625" rx="16" ry="37" fill="#2E6A1E" opacity="0.8"/>
<ellipse cx="250" cy="272" rx="16" ry="30" fill="#3C8A26" opacity="0.8"/>
<ellipse cx="135" cy="941" rx="20" ry="48" fill="#7A8A60" opacity="0.8"/>
<ellipse cx="41" cy="911" rx="22" ry="25" fill="#8A9070" opacity="0.8"/>
<ellipse cx="776" cy="597" rx="29" ry="45" fill="#48A030" opacity="0.8"/>
<ellipse cx="6" cy="411" rx="17" ry="42" fill="#48A030" opacity="0.8"/>
<ellipse cx="584" cy="459" rx="31" ry="30" fill="#6CC040" opacity="0.8"/>
<ellipse cx="406" cy="969" rx="23" ry="31" fill="#5A7A40" opacity="0.8"/>
<ellipse cx="881" cy="554" rx="24" ry="24" fill="#2E6A1E" opacity="0.8"/>
<ellipse cx="922" cy="243" rx="19" ry="50" fill="#6CC040" opacity="0.8"/>
<ellipse cx="578" cy="595" rx="27" ry="35" fill="#2A5A1A" opacity="0.8"/>
<ellipse cx="485" cy="322" rx="15" ry="25" fill="#2A5A1A" opacity="0.8"/>
<ellipse cx="377" cy="159" rx="23" ry="38" fill="#2A5A1A" opacity="0.8"/>
<ellipse cx="835" cy="920" rx="18" ry="46" fill="#3A6A28" opacity="0.8"/>
<ellipse cx="449" cy="208" rx="26" ry="49" fill="#3C8A26" opacity="0.8"/>
<ellipse cx="510" cy="989" rx="15" ry="47" fill="#8A9070" opacity="0.8"/>
<ellipse cx="871" cy="715" rx="19" ry="36" fill="#3C8A26" opacity="0.8"/>
<ellipse cx="810" cy="278" rx="19" ry="24" fill="#2E6A1E" opacity="0.8"/>
<ellipse cx="485" cy="304" rx="33" ry="49" fill="#48A030" opacity="0.8"/>
<ellipse cx="602" cy="637" rx="23" ry="27" fill="#5CB43A" opacity="0.8"/>
<ellipse cx="337" cy="248" rx="20" ry="49" fill="#48A030" opacity="0.8"/>
<ellipse cx="300" cy="936" rx="33" ry="42" fill="#4A7030" opacity="0.8"/>
<ellipse cx="68" cy="388" rx="21" ry="31" fill="#2A5A1A" opacity="0.8"/>
<ellipse cx="483" cy="782" rx="21" ry="27" fill="#3A6A28" opacity="0.8"/>
<ellipse cx="209" cy="589" rx="26" ry="34" fill="#2E6A1E" opacity="0.8"/>
<ellipse cx="778" cy="337" rx="29" ry="48" fill="#5CB43A" opacity="0.8"/>
<ellipse cx="29" cy="898" rx="30" ry="47" fill="#5A7A40" opacity="0.8"/>
<ellipse cx="398" cy="597" rx="27" ry="25" fill="#48A030" opacity="0.8"/>
<ellipse cx="928" cy="464" rx="16" ry="23" fill="#48A030" opacity="0.8"/>
<ellipse cx="885" cy="958" rx="17" ry="31" fill="#3A6A28" opacity="0.8"/>
<ellipse cx="780" cy="414" rx="17" ry="47" fill="#2E6A1E" opacity="0.8"/>
<ellipse cx="864" cy="190" rx="21" ry="24" fill="#48A030" opacity="0.8"/>
<ellipse cx="462" cy="971" rx="20" ry="39" fill="#5A7A40" opacity="0.8"/>
<ellipse cx="468" cy="565" rx="17" ry="28" fill="#2A5A1A" opacity="0.8"/>
<ellipse cx="366" cy="986" rx="33" ry="39" fill="#3A6A28" opacity="0.8"/>
<ellipse cx="548" cy="821" rx="26" ry="25" fill="#A0A088" opacity="0.8"/>
<ellipse cx="702" cy="587" rx="28" ry="31" fill="#2A5A1A" opacity="0.8"/>
<ellipse cx="237" cy="172" rx="31" ry="38" fill="#3C8A26" opacity="0.8"/>
<ellipse cx="877" cy="734" rx="28" ry="28" fill="#3C8A26" opacity="0.8"/>
<ellipse cx="920" cy="306" rx="34" ry="31" fill="#6CC040" opacity="0.8"/>
<ellipse cx="650" cy="323" rx="28" ry="26" fill="#48A030" opacity="0.8"/>
<ellipse cx="774" cy="394" rx="22" ry="35" fill="#6CC040" opacity="0.8"/>
<ellipse cx="668" cy="417" rx="34" ry="40" fill="#3C8A26" opacity="0.8"/>
<ellipse cx="438" cy="628" rx="19" ry="44" fill="#2A5A1A" opacity="0.8"/>
<ellipse cx="742" cy="221" rx="26" ry="49" fill="#3C8A26" opacity="0.8"/>
<ellipse cx="577" cy="875" rx="24" ry="34" fill="#7A8A60" opacity="0.8"/>
<ellipse cx="438" cy="466" rx="26" ry="25" fill="#2A5A1A" opacity="0.8"/>
<ellipse cx="889" cy="597" rx="27" ry="27" fill="#2A5A1A" opacity="0.8"/>
<ellipse cx="881" cy="753" rx="17" ry="42" fill="#8A9070" opacity="0.8"/>
<ellipse cx="325" cy="259" rx="29" ry="43" fill="#6CC040" opacity="0.8"/>
<ellipse cx="360" cy="262" rx="18" ry="41" fill="#3C8A26" opacity="0.8"/>
<ellipse cx="648" cy="382" rx="16" ry="37" fill="#3C8A26" opacity="0.8"/>
<ellipse cx="195" cy="664" rx="19" ry="42" fill="#2A5A1A" opacity="0.8"/>
<ellipse cx="405" cy="643" rx="16" ry="26" fill="#2E6A1E" opacity="0.8"/>
<ellipse cx="451" cy="463" rx="26" ry="36" fill="#2A5A1A" opacity="0.8"/>
<ellipse cx="605" cy="684" rx="27" ry="26" fill="#48A030" opacity="0.8"/>
<ellipse cx="31" cy="790" rx="17" ry="32" fill="#8A9070" opacity="0.8"/>
<ellipse cx="639" cy="708" rx="22" ry="28" fill="#48A030" opacity="0.8"/>
<ellipse cx="762" cy="555" rx="33" ry="25" fill="#2A5A1A" opacity="0.8"/>
<ellipse cx="672" cy="952" rx="31" ry="47" fill="#A0A088" opacity="0.8"/>
<ellipse cx="180" cy="836" rx="23" ry="26" fill="#4A7030" opacity="0.8"/>
<ellipse cx="304" cy="912" rx="34" ry="31" fill="#8A9070" opacity="0.8"/>
<ellipse cx="362" cy="256" rx="15" ry="41" fill="#2A5A1A" opacity="0.8"/>
<ellipse cx="479" cy="212" rx="23" ry="45" fill="#48A030" opacity="0.8"/>
<ellipse cx="355" cy="659" rx="34" ry="27" fill="#5CB43A" opacity="0.8"/>
<ellipse cx="842" cy="900" rx="20" ry="23" fill="#A0A088" opacity="0.8"/>
<ellipse cx="385" cy="837" rx="18" ry="39" fill="#8A9070" opacity="0.8"/>
<ellipse cx="890" cy="652" rx="14" ry="34" fill="#5CB43A" opacity="0.8"/>
<ellipse cx="182" cy="866" rx="21" ry="29" fill="#A0A088" opacity="0.8"/>
<ellipse cx="459" cy="212" rx="16" ry="46" fill="#6CC040" opacity="0.8"/>
<ellipse cx="162" cy="835" rx="30" ry="38" fill="#5A7A40" opacity="0.8"/>
<ellipse cx="593" cy="629" rx="30" ry="35" fill="#3C8A26" opacity="0.8"/>
<ellipse cx="835" cy="871" rx="32" ry="39" fill="#4A7030" opacity="0.8"/>
<ellipse cx="796" cy="746" rx="21" ry="23" fill="#48A030" opacity="0.8"/>
<ellipse cx="104" cy="316" rx="19" ry="32" fill="#2E6A1E" opacity="0.8"/>
<ellipse cx="870" cy="544" rx="19" ry="27" fill="#5CB43A" opacity="0.8"/>
<ellipse cx="868" cy="900" rx="29" ry="33" fill="#5A7A40" opacity="0.8"/>
<ellipse cx="441" cy="731" rx="33" ry="35" fill="#2E6A1E" opacity="0.8"/>
<ellipse cx="14" cy="166" rx="23" ry="47" fill="#2A5A1A" opacity="0.8"/>
<ellipse cx="133" cy="929" rx="17" ry="37" fill="#3A6A28" opacity="0.8"/>
<ellipse cx="642" cy="373" rx="21" ry="45" fill="#5CB43A" opacity="0.8"/>
<ellipse cx="908" cy="741" rx="29" ry="42" fill="#5CB43A" opacity="0.8"/>
<ellipse cx="456" cy="835" rx="17" ry="41" fill="#5A7A40" opacity="0.8"/>
<ellipse cx="486" cy="397" rx="30" ry="49" fill="#2E6A1E" opacity="0.8"/>
<ellipse cx="845" cy="973" rx="24" ry="29" fill="#5A7A40" opacity="0.8"/>
<ellipse cx="718" cy="377" rx="33" ry="48" fill="#48A030" opacity="0.8"/>
<ellipse cx="212" cy="940" rx="30" ry="29" fill="#8A9070" opacity="0.8"/>
<ellipse cx="163" cy="287" rx="21" ry="47" fill="#2A5A1A" opacity="0.8"/>
<ellipse cx="658" cy="515" rx="15" ry="32" fill="#3C8A26" opacity="0.8"/>
<ellipse cx="212" cy="244" rx="28" ry="43" fill="#3C8A26" opacity="0.8"/>
<ellipse cx="537" cy="425" rx="28" ry="39" fill="#6CC040" opacity="0.8"/>
<ellipse cx="929" cy="822" rx="28" ry="33" fill="#8A9070" opacity="0.8"/>
<ellipse cx="716" cy="218" rx="20" ry="41" fill="#2A5A1A" opacity="0.8"/>
<ellipse cx="454" cy="952" rx="34" ry="49" fill="#8A9070" opacity="0.8"/>
<ellipse cx="41" cy="212" rx="23" ry="32" fill="#2E6A1E" opacity="0.8"/>
<ellipse cx="928" cy="317" rx="30" ry="29" fill="#2E6A1E" opacity="0.8"/>
<ellipse cx="904" cy="216" rx="17" ry="39" fill="#3C8A26" opacity="0.8"/>
<ellipse cx="121" cy="858" rx="26" ry="29" fill="#A0A088" opacity="0.8"/>
<ellipse cx="539" cy="854" rx="22" ry="33" fill="#A0A088" opacity="0.8"/>
<ellipse cx="365" cy="925" rx="19" ry="49" fill="#8A9070" opacity="0.8"/>
<ellipse cx="852" cy="260" rx="21" ry="45" fill="#6CC040" opacity="0.8"/>
<ellipse cx="469" cy="376" rx="23" ry="34" fill="#5CB43A" opacity="0.8"/>
<ellipse cx="860" cy="667" rx="28" ry="24" fill="#2E6A1E" opacity="0.8"/>
<ellipse cx="309" cy="717" rx="28" ry="40" fill="#3C8A26" opacity="0.8"/>
<ellipse cx="576" cy="883" rx="22" ry="38" fill="#4A7030" opacity="0.8"/>
<ellipse cx="517" cy="300" rx="27" ry="36" fill="#6CC040" opacity="0.8"/>
<ellipse cx="16" cy="573" rx="27" ry="31" fill="#3C8A26" opacity="0.8"/>
<ellipse cx="222" cy="686" rx="14" ry="26" fill="#6CC040" opacity="0.8"/>
<ellipse cx="93" cy="807" rx="32" ry="32" fill="#3A6A28" opacity="0.8"/>
<ellipse cx="500" cy="628" rx="19" ry="40" fill="#2A5A1A" opacity="0.8"/>
<ellipse cx="169" cy="921" rx="28" ry="29" fill="#A0A088" opacity="0.8"/>
<ellipse cx="457" cy="534" rx="34" ry="34" fill="#5CB43A" opacity="0.8"/>
<ellipse cx="490" cy="886" rx="29" ry="32" fill="#7A8A60" opacity="0.8"/>
<ellipse cx="181" cy="810" rx="31" ry="49" fill="#7A8A60" opacity="0.8"/>
<ellipse cx="580" cy="982" rx="32" ry="41" fill="#4A7030" opacity="0.8"/>
<ellipse cx="122" cy="526" rx="31" ry="47" fill="#2A5A1A" opacity="0.8"/>
<ellipse cx="667" cy="537" rx="27" ry="24" fill="#2E6A1E" opacity="0.8"/>
<ellipse cx="652" cy="991" rx="33" ry="27" fill="#A0A088" opacity="0.8"/>
<ellipse cx="635" cy="453" rx="15" ry="26" fill="#48A030" opacity="0.8"/>
<ellipse cx="886" cy="753" rx="16" ry="24" fill="#7A8A60" opacity="0.8"/>
<ellipse cx="242" cy="885" rx="19" ry="43" fill="#7A8A60" opacity="0.8"/>
<ellipse cx="727" cy="767" rx="30" ry="24" fill="#8A9070" opacity="0.8"/>
<ellipse cx="791" cy="412" rx="23" ry="49" fill="#5CB43A" opacity="0.8"/>
<ellipse cx="745" cy="265" rx="31" ry="30" fill="#2A5A1A" opacity="0.8"/>
<ellipse cx="855" cy="666" rx="15" ry="40" fill="#6CC040" opacity="0.8"/>
<ellipse cx="354" cy="547" rx="25" ry="39" fill="#6CC040" opacity="0.8"/>
<ellipse cx="764" cy="568" rx="30" ry="33" fill="#2E6A1E" opacity="0.8"/>
<ellipse cx="170" cy="833" rx="31" ry="48" fill="#4A7030" opacity="0.8"/>
<ellipse cx="187" cy="600" rx="34" ry="31" fill="#3C8A26" opacity="0.8"/>
<ellipse cx="506" cy="614" rx="17" ry="29" fill="#2E6A1E" opacity="0.8"/>
<ellipse cx="678" cy="454" rx="28" ry="39" fill="#2E6A1E" opacity="0.8"/>
<ellipse cx="343" cy="721" rx="17" ry="41" fill="#48A030" opacity="0.8"/>
<ellipse cx="537" cy="894" rx="14" ry="31" fill="#7A8A60" opacity="0.8"/>
<ellipse cx="130" cy="979" rx="22" ry="29" fill="#3A6A28" opacity="0.8"/>
<ellipse cx="820" cy="874" rx="25" ry="48" fill="#7A8A60" opacity="0.8"/>
<ellipse cx="919" cy="598" rx="22" ry="25" fill="#2A5A1A" opacity="0.8"/>
<ellipse cx="134" cy="664" rx="23" ry="41" fill="#2E6A1E" opacity="0.8"/>
<ellipse cx="36" cy="226" rx="21" ry="46" fill="#6CC040" opacity="0.8"/>
<ellipse cx="394" cy="738" rx="28" ry="43" fill="#3C8A26" opacity="0.8"/>
<ellipse cx="318" cy="279" rx="22" ry="46" fill="#2E6A1E" opacity="0.8"/>
<ellipse cx="158" cy="952" rx="16" ry="23" fill="#8A9070" opacity="0.8"/>
<ellipse cx="539" cy="219" rx="21" ry="42" fill="#3C8A26" opacity="0.8"/>
<ellipse cx="421" cy="699" rx="26" ry="33" fill="#6CC040" opacity="0.8"/>
<ellipse cx="844" cy="839" rx="29" ry="25" fill="#3A6A28" opacity="0.8"/>
<ellipse cx="189" cy="816" rx="21" ry="23" fill="#4A7030" opacity="0.8"/>
<ellipse cx="194" cy="633" rx="18" ry="26" fill="#3C8A26" opacity="0.8"/>
<ellipse cx="695" cy="843" rx="31" ry="48" fill="#3A6A28" opacity="0.8"/>
<ellipse cx="874" cy="203" rx="17" ry="48" fill="#5CB43A" opacity="0.8"/>
<ellipse cx="825" cy="997" rx="25" ry="42" fill="#7A8A60" opacity="0.8"/>
<ellipse cx="655" cy="356" rx="25" ry="46" fill="#2A5A1A" opacity="0.8"/>
<ellipse cx="457" cy="574" rx="17" ry="28" fill="#2A5A1A" opacity="0.8"/>
<ellipse cx="796" cy="651" rx="34" ry="44" fill="#5CB43A" opacity="0.8"/>
<ellipse cx="567" cy="789" rx="24" ry="47" fill="#4A7030" opacity="0.8"/>
<ellipse cx="500" cy="512" rx="15" ry="40" fill="#5CB43A" opacity="0.8"/>
<ellipse cx="924" cy="682" rx="30" ry="24" fill="#48A030" opacity="0.8"/>
<ellipse cx="250" cy="379" rx="32" ry="47" fill="#2E6A1E" opacity="0.8"/>
<ellipse cx="727" cy="767" rx="19" ry="27" fill="#A0A088" opacity="0.8"/>
<ellipse cx="831" cy="880" rx="33" ry="28" fill="#7A8A60" opacity="0.8"/>
<ellipse cx="758" cy="859" rx="23" ry="32" fill="#8A9070" opacity="0.8"/>
<ellipse cx="113" cy="289" rx="21" ry="39" fill="#2A5A1A" opacity="0.8"/>
<ellipse cx="152" cy="709" rx="30" ry="38" fill="#2A5A1A" opacity="0.8"/>
<ellipse cx="533" cy="152" rx="19" ry="42" fill="#2E6A1E" opacity="0.8"/>
<ellipse cx="710" cy="271" rx="28" ry="38" fill="#6CC040" opacity="0.8"/>
<ellipse cx="641" cy="889" rx="33" ry="28" fill="#A0A088" opacity="0.8"/>
<ellipse cx="404" cy="813" rx="17" ry="45" fill="#8A9070" opacity="0.8"/>
<ellipse cx="598" cy="442" rx="20" ry="42" fill="#2A5A1A" opacity="0.8"/>
<ellipse cx="286" cy="520" rx="15" ry="47" fill="#3C8A26" opacity="0.8"/>
<ellipse cx="889" cy="797" rx="21" ry="25" fill="#3A6A28" opacity="0.8"/>
<ellipse cx="136" cy="963" rx="32" ry="28" fill="#8A9070" opacity="0.8"/>
<ellipse cx="42" cy="310" rx="18" ry="31" fill="#6CC040" opacity="0.8"/>
<ellipse cx="116" cy="169" rx="15" ry="47" fill="#2A5A1A" opacity="0.8"/>
<ellipse cx="390" cy="252" rx="26" ry="32" fill="#48A030" opacity="0.8"/>
<ellipse cx="578" cy="701" rx="20" ry="42" fill="#3C8A26" opacity="0.8"/>
<ellipse cx="785" cy="301" rx="21" ry="39" fill="#48A030" opacity="0.8"/>
<ellipse cx="331" cy="616" rx="17" ry="34" fill="#2E6A1E" opacity="0.8"/>
<ellipse cx="182" cy="882" rx="24" ry="31" fill="#4A7030" opacity="0.8"/>
<ellipse cx="446" cy="673" rx="28" ry="36" fill="#2E6A1E" opacity="0.8"/>
<ellipse cx="754" cy="581" rx="29" ry="44" fill="#5CB43A" opacity="0.8"/>
<ellipse cx="876" cy="836" rx="24" ry="23" fill="#7A8A60" opacity="0.8"/>
<ellipse cx="336" cy="967" rx="23" ry="40" fill="#4A7030" opacity="0.8"/>
<ellipse cx="554" cy="933" rx="30" ry="41" fill="#8A9070" opacity="0.8"/>
<ellipse cx="495" cy="581" rx="28" ry="32" fill="#6CC040" opacity="0.8"/>
<ellipse cx="594" cy="317" rx="27" ry="32" fill="#48A030" opacity="0.8"/>
<ellipse cx="41" cy="387" rx="29" ry="45" fill="#2A5A1A" opacity="0.8"/>
<ellipse cx="785" cy="835" rx="18" ry="26" fill="#3A6A28" opacity="0.8"/>
<ellipse cx="129" cy="824" rx="20" ry="42" fill="#7A8A60" opacity="0.8"/>
<ellipse cx="435" cy="491" rx="19" ry="39" fill="#2A5A1A" opacity="0.8"/>
<ellipse cx="654" cy="183" rx="15" ry="41" fill="#6CC040" opacity="0.8"/>
<ellipse cx="498" cy="745" rx="30" ry="46" fill="#2A5A1A" opacity="0.8"/>
<ellipse cx="308" cy="185" rx="33" ry="27" fill="#48A030" opacity="0.8"/>
<ellipse cx="871" cy="214" rx="31" ry="43" fill="#2A5A1A" opacity="0.8"/>
<ellipse cx="645" cy="433" rx="30" ry="46" fill="#2A5A1A" opacity="0.8"/>
<ellipse cx="91" cy="612" rx="25" ry="28" fill="#5CB43A" opacity="0.8"/>
<ellipse cx="773" cy="553" rx="15" ry="48" fill="#2A5A1A" opacity="0.8"/>
<ellipse cx="735" cy="772" rx="19" ry="44" fill="#4A7030" opacity="0.8"/>
<ellipse cx="856" cy="180" rx="17" ry="44" fill="#3C8A26" opacity="0.8"/>
<ellipse cx="376" cy="256" rx="19" ry="44" fill="#6CC040" opacity="0.8"/>
<ellipse cx="541" cy="933" rx="19" ry="50" fill="#7A8A60" opacity="0.8"/>
<ellipse cx="507" cy="949" rx="23" ry="43" fill="#7A8A60" opacity="0.8"/>
<ellipse cx="200" cy="955" rx="31" ry="45" fill="#A0A088" opacity="0.8"/>
<ellipse cx="399" cy="580" rx="28" ry="33" fill="#3C8A26" opacity="0.8"/>
<ellipse cx="176" cy="772" rx="23" ry="37" fill="#3A6A28" opacity="0.8"/>
<ellipse cx="294" cy="782" rx="33" ry="39" fill="#A0A088" opacity="0.8"/>
<ellipse cx="450" cy="902" rx="16" ry="37" fill="#7A8A60" opacity="0.8"/>
<ellipse cx="553" cy="248" rx="16" ry="23" fill="#6CC040" opacity="0.8"/>
<ellipse cx="681" cy="501" rx="29" ry="25" fill="#3C8A26" opacity="0.8"/>
<ellipse cx="527" cy="993" rx="33" ry="42" fill="#3A6A28" opacity="0.8"/>
<ellipse cx="241" cy="757" rx="16" ry="26" fill="#8A9070" opacity="0.8"/>
<ellipse cx="840" cy="395" rx="23" ry="42" fill="#6CC040" opacity="0.8"/>
<ellipse cx="26" cy="267" rx="16" ry="32" fill="#48A030" opacity="0.8"/>
<ellipse cx="655" cy="631" rx="30" ry="43" fill="#2E6A1E" opacity="0.8"/>
<ellipse cx="505" cy="916" rx="22" ry="35" fill="#7A8A60" opacity="0.8"/>
<ellipse cx="156" cy="756" rx="31" ry="47" fill="#8A9070" opacity="0.8"/>
<ellipse cx="81" cy="436" rx="15" ry="46" fill="#2A5A1A" opacity="0.8"/>
<ellipse cx="329" cy="456" rx="25" ry="24" fill="#6CC040" opacity="0.8"/>
<ellipse cx="181" cy="460" rx="32" ry="41" fill="#5CB43A" opacity="0.8"/>
<ellipse cx="901" cy="496" rx="29" ry="48" fill="#3C8A26" opacity="0.8"/>
<ellipse cx="33" cy="460" rx="32" ry="47" fill="#3C8A26" opacity="0.8"/>
<ellipse cx="124" cy="220" rx="29" ry="34" fill="#5CB43A" opacity="0.8"/>
<ellipse cx="759" cy="195" rx="19" ry="47" fill="#48A030" opacity="0.8"/>
<ellipse cx="676" cy="621" rx="30" ry="47" fill="#6CC040" opacity="0.8"/>
<ellipse cx="814" cy="604" rx="33" ry="46" fill="#5CB43A" opacity="0.8"/>
<ellipse cx="597" cy="296" rx="32" ry="28" fill="#2E6A1E" opacity="0.8"/>
<ellipse cx="645" cy="305" rx="19" ry="44" fill="#48A030" opacity="0.8"/>
<ellipse cx="358" cy="547" rx="21" ry="39" fill="#6CC040" opacity="0.8"/>
<ellipse cx="184" cy="594" rx="32" ry="42" fill="#5CB43A" opacity="0.8"/>
<ellipse cx="509" cy="593" rx="20" ry="37" fill="#3C8A26" opacity="0.8"/>
<ellipse cx="212" cy="253" rx="20" ry="28" fill="#3C8A26" opacity="0.8"/>
<ellipse cx="371" cy="865" rx="15" ry="34" fill="#A0A088" opacity="0.8"/>
<ellipse cx="879" cy="619" rx="15" ry="41" fill="#3C8A26" opacity="0.8"/>
<ellipse cx="780" cy="928" rx="27" ry="45" fill="#4A7030" opacity="0.8"/>
<ellipse cx="271" cy="628" rx="28" ry="43" fill="#5CB43A" opacity="0.8"/>
<ellipse cx="643" cy="336" rx="20" ry="50" fill="#6CC040" opacity="0.8"/>
<ellipse cx="430" cy="962" rx="32" ry="31" fill="#3A6A28" opacity="0.8"/>
<ellipse cx="258" cy="635" rx="22" ry="29" fill="#5CB43A" opacity="0.8"/>
<ellipse cx="215" cy="464" rx="30" ry="29" fill="#5CB43A" opacity="0.8"/>
<ellipse cx="47" cy="155" rx="25" ry="44" fill="#2A5A1A" opacity="0.8"/>
<ellipse cx="307" cy="463" rx="19" ry="39" fill="#2A5A1A" opacity="0.8"/>
<ellipse cx="528" cy="194" rx="32" ry="45" fill="#6CC040" opacity="0.8"/>
<ellipse cx="108" cy="297" rx="20" ry="34" fill="#3C8A26" opacity="0.8"/>
<ellipse cx="852" cy="546" rx="26" ry="45" fill="#48A030" opacity="0.8"/>
<ellipse cx="208" cy="306" rx="32" ry="28" fill="#5CB43A" opacity="0.8"/>
<ellipse cx="509" cy="581" rx="31" ry="23" fill="#2E6A1E" opacity="0.8"/>
<ellipse cx="98" cy="867" rx="17" ry="49" fill="#A0A088" opacity="0.8"/>
<ellipse cx="137" cy="236" rx="17" ry="41" fill="#3C8A26" opacity="0.8"/>
<ellipse cx="524" cy="755" rx="19" ry="42" fill="#3A6A28" opacity="0.8"/>
<ellipse cx="198" cy="161" rx="34" ry="27" fill="#3C8A26" opacity="0.8"/>
<ellipse cx="499" cy="454" rx="15" ry="40" fill="#2E6A1E" opacity="0.8"/>
<ellipse cx="294" cy="303" rx="33" ry="41" fill="#48A030" opacity="0.8"/>
<ellipse cx="76" cy="572" rx="25" ry="23" fill="#5CB43A" opacity="0.8"/>
<ellipse cx="858" cy="939" rx="17" ry="30" fill="#4A7030" opacity="0.8"/>
<ellipse cx="546" cy="886" rx="28" ry="34" fill="#4A7030" opacity="0.8"/>
<ellipse cx="372" cy="765" rx="25" ry="28" fill="#7A8A60" opacity="0.8"/>
<ellipse cx="433" cy="803" rx="20" ry="43" fill="#8A9070" opacity="0.8"/>
<ellipse cx="45" cy="936" rx="28" ry="39" fill="#8A9070" opacity="0.8"/>
<ellipse cx="818" cy="816" rx="34" ry="35" fill="#3A6A28" opacity="0.8"/>
<ellipse cx="590" cy="852" rx="15" ry="31" fill="#5A7A40" opacity="0.8"/>
<ellipse cx="851" cy="395" rx="23" ry="40" fill="#3C8A26" opacity="0.8"/>
<ellipse cx="94" cy="854" rx="31" ry="27" fill="#4A7030" opacity="0.8"/>
<ellipse cx="679" cy="935" rx="24" ry="33" fill="#4A7030" opacity="0.8"/>
<ellipse cx="911" cy="994" rx="24" ry="47" fill="#7A8A60" opacity="0.8"/>
<ellipse cx="813" cy="579" rx="27" ry="41" fill="#5CB43A" opacity="0.8"/>
<ellipse cx="603" cy="159" rx="29" ry="50" fill="#6CC040" opacity="0.8"/>
<ellipse cx="877" cy="810" rx="20" ry="32" fill="#4A7030" opacity="0.8"/>
<ellipse cx="703" cy="979" rx="32" ry="28" fill="#4A7030" opacity="0.8"/>
<ellipse cx="381" cy="765" rx="33" ry="23" fill="#4A7030" opacity="0.8"/>
<ellipse cx="115" cy="892" rx="25" ry="46" fill="#4A7030" opacity="0.8"/>
<ellipse cx="9" cy="176" rx="21" ry="43" fill="#3C8A26" opacity="0.8"/>
<ellipse cx="597" cy="571" rx="29" ry="23" fill="#3C8A26" opacity="0.8"/>
<ellipse cx="520" cy="741" rx="33" ry="41" fill="#3C8A26" opacity="0.8"/>
<ellipse cx="355" cy="784" rx="31" ry="33" fill="#A0A088" opacity="0.8"/>
<ellipse cx="84" cy="720" rx="28" ry="37" fill="#2E6A1E" opacity="0.8"/>
<ellipse cx="767" cy="909" rx="15" ry="46" fill="#8A9070" opacity="0.8"/>
<ellipse cx="179" cy="547" rx="26" ry="25" fill="#2E6A1E" opacity="0.8"/>
<ellipse cx="27" cy="160" rx="33" ry="26" fill="#2A5A1A" opacity="0.8"/>
<ellipse cx="203" cy="316" rx="24" ry="30" fill="#3C8A26" opacity="0.8"/>
<ellipse cx="706" cy="208" rx="27" ry="25" fill="#6CC040" opacity="0.8"/>
<ellipse cx="853" cy="553" rx="23" ry="41" fill="#2A5A1A" opacity="0.8"/>
<ellipse cx="173" cy="972" rx="20" ry="39" fill="#4A7030" opacity="0.8"/>
<ellipse cx="688" cy="178" rx="22" ry="46" fill="#2A5A1A" opacity="0.8"/>
<ellipse cx="92" cy="203" rx="18" ry="25" fill="#2A5A1A" opacity="0.8"/>
<ellipse cx="468" cy="528" rx="21" ry="22" fill="#6CC040" opacity="0.8"/>
<ellipse cx="740" cy="719" rx="29" ry="23" fill="#2A5A1A" opacity="0.8"/>
<ellipse cx="857" cy="859" rx="16" ry="22" fill="#3A6A28" opacity="0.8"/>
<ellipse cx="569" cy="558" rx="26" ry="49" fill="#48A030" opacity="0.8"/>
<ellipse cx="439" cy="888" rx="33" ry="35" fill="#8A9070" opacity="0.8"/>
<ellipse cx="473" cy="180" rx="16" ry="38" fill="#2E6A1E" opacity="0.8"/>
<ellipse cx="561" cy="298" rx="32" ry="42" fill="#2E6A1E" opacity="0.8"/>
<ellipse cx="839" cy="575" rx="32" ry="47" fill="#2A5A1A" opacity="0.8"/>
<ellipse cx="746" cy="997" rx="26" ry="41" fill="#5A7A40" opacity="0.8"/>
<ellipse cx="734" cy="269" rx="30" ry="31" fill="#2E6A1E" opacity="0.8"/>
<ellipse cx="433" cy="778" rx="28" ry="24" fill="#4A7030" opacity="0.8"/>
<ellipse cx="835" cy="977" rx="21" ry="45" fill="#4A7030" opacity="0.8"/>
</g></g>
<line x1="165" y1="650" x2="165" y2="935" stroke="#ECECE4" stroke-width="2.9" opacity="0.55"/>
<line x1="718" y1="691" x2="718" y2="945" stroke="#ECECE4" stroke-width="3.0" opacity="0.55"/>
<line x1="23" y1="637" x2="16" y2="910" stroke="#ECECE4" stroke-width="4.1" opacity="0.55"/>
<line x1="224" y1="768" x2="232" y2="899" stroke="#ECECE4" stroke-width="4.0" opacity="0.55"/>
<line x1="790" y1="800" x2="787" y2="929" stroke="#ECECE4" stroke-width="3.5" opacity="0.55"/>
<line x1="122" y1="740" x2="116" y2="956" stroke="#ECECE4" stroke-width="4.1" opacity="0.55"/>
<line x1="130" y1="716" x2="131" y2="954" stroke="#ECECE4" stroke-width="3.2" opacity="0.55"/>
<line x1="447" y1="765" x2="452" y2="895" stroke="#ECECE4" stroke-width="3.0" opacity="0.55"/>
<line x1="707" y1="525" x2="713" y2="897" stroke="#ECECE4" stroke-width="4.0" opacity="0.55"/>
<line x1="691" y1="617" x2="685" y2="926" stroke="#ECECE4" stroke-width="3.5" opacity="0.55"/>
<line x1="748" y1="536" x2="754" y2="896" stroke="#ECECE4" stroke-width="3.3" opacity="0.55"/>
<line x1="341" y1="696" x2="349" y2="916" stroke="#ECECE4" stroke-width="3.3" opacity="0.55"/>
<line x1="44" y1="581" x2="52" y2="887" stroke="#ECECE4" stroke-width="3.5" opacity="0.55"/>
<line x1="453" y1="610" x2="448" y2="924" stroke="#ECECE4" stroke-width="3.7" opacity="0.55"/>
<line x1="510" y1="763" x2="504" y2="930" stroke="#ECECE4" stroke-width="3.2" opacity="0.55"/>
<line x1="836" y1="700" x2="833" y2="908" stroke="#ECECE4" stroke-width="2.7" opacity="0.55"/>
<line x1="78" y1="623" x2="76" y2="945" stroke="#ECECE4" stroke-width="3.9" opacity="0.55"/>
<line x1="615" y1="583" x2="613" y2="952" stroke="#ECECE4" stroke-width="4.5" opacity="0.55"/>
<line x1="866" y1="700" x2="866" y2="927" stroke="#ECECE4" stroke-width="3.3" opacity="0.55"/>
<line x1="238" y1="788" x2="231" y2="950" stroke="#ECECE4" stroke-width="4.1" opacity="0.55"/>
<line x1="701" y1="581" x2="694" y2="919" stroke="#ECECE4" stroke-width="3.0" opacity="0.55"/>
<line x1="275" y1="749" x2="268" y2="914" stroke="#ECECE4" stroke-width="3.2" opacity="0.55"/>
<line x1="811" y1="645" x2="811" y2="959" stroke="#ECECE4" stroke-width="3.0" opacity="0.55"/>
<line x1="864" y1="700" x2="856" y2="922" stroke="#ECECE4" stroke-width="2.9" opacity="0.55"/>
<line x1="758" y1="594" x2="759" y2="944" stroke="#ECECE4" stroke-width="3.4" opacity="0.55"/>
<line x1="531" y1="748" x2="532" y2="948" stroke="#ECECE4" stroke-width="3.1" opacity="0.55"/>
<line x1="696" y1="583" x2="703" y2="881" stroke="#ECECE4" stroke-width="2.5" opacity="0.55"/>
<line x1="542" y1="590" x2="544" y2="932" stroke="#ECECE4" stroke-width="3.0" opacity="0.55"/>
<line x1="377" y1="601" x2="371" y2="957" stroke="#ECECE4" stroke-width="2.7" opacity="0.55"/>
<line x1="103" y1="646" x2="97" y2="882" stroke="#ECECE4" stroke-width="4.2" opacity="0.55"/>
<line x1="597" y1="630" x2="594" y2="890" stroke="#ECECE4" stroke-width="3.5" opacity="0.55"/>
<line x1="213" y1="725" x2="211" y2="893" stroke="#ECECE4" stroke-width="3.9" opacity="0.55"/>
<line x1="504" y1="579" x2="510" y2="884" stroke="#ECECE4" stroke-width="4.0" opacity="0.55"/>
<line x1="716" y1="640" x2="709" y2="881" stroke="#ECECE4" stroke-width="4.0" opacity="0.55"/>
<line x1="174" y1="751" x2="177" y2="937" stroke="#ECECE4" stroke-width="3.1" opacity="0.55"/>
<line x1="57" y1="711" x2="63" y2="911" stroke="#ECECE4" stroke-width="3.1" opacity="0.55"/>
<line x1="463" y1="557" x2="456" y2="924" stroke="#ECECE4" stroke-width="3.7" opacity="0.55"/>
<line x1="467" y1="567" x2="464" y2="939" stroke="#ECECE4" stroke-width="3.9" opacity="0.55"/>
<path d="M1260.0 20.0 C1275.0 11.7 1310.0 23.3 1330.0 30.0 C1350.0 36.7 1373.3 45.0 1380.0 60.0 C1386.7 75.0 1366.7 100.0 1370.0 120.0 C1373.3 140.0 1381.7 160.0 1400.0 180.0 C1418.3 200.0 1458.3 218.3 1480.0 240.0 C1501.7 261.7 1530.0 291.7 1530.0 310.0 C1530.0 328.3 1505.0 338.3 1480.0 350.0 C1455.0 361.7 1401.7 368.3 1380.0 380.0 C1358.3 391.7 1358.3 406.7 1350.0 420.0 C1341.7 433.3 1341.7 446.7 1330.0 460.0 C1318.3 473.3 1305.0 490.0 1280.0 500.0 C1255.0 510.0 1216.7 511.7 1180.0 520.0 C1143.3 528.3 1096.7 543.3 1060.0 550.0 C1023.3 556.7 990.0 555.0 960.0 560.0 C930.0 565.0 901.7 575.0 880.0 580.0 C858.3 585.0 826.7 593.3 830.0 590.0 C833.3 586.7 863.3 571.7 900.0 560.0 C936.7 548.3 1003.3 533.3 1050.0 520.0 C1096.7 506.7 1148.3 491.7 1180.0 480.0 C1211.7 468.3 1220.0 460.0 1240.0 450.0 C1260.0 440.0 1293.3 430.0 1300.0 420.0 C1306.7 410.0 1273.3 401.7 1280.0 390.0 C1286.7 378.3 1316.7 361.7 1340.0 350.0 C1363.3 338.3 1413.3 333.3 1420.0 320.0 C1426.7 306.7 1398.3 286.7 1380.0 270.0 C1361.7 253.3 1328.3 240.0 1310.0 220.0 C1291.7 200.0 1281.7 173.3 1270.0 150.0 C1258.3 126.7 1241.7 101.7 1240.0 80.0 C1238.3 58.3 1245.0 28.3 1260.0 20.0 Z" fill="#4656B8" filter="url(#p1b)"/>
<path d="M1380.0 140.0 C1388.3 135.0 1455.0 151.7 1500.0 160.0 C1545.0 168.3 1591.7 181.7 1650.0 190.0 C1708.3 198.3 1797.3 205.8 1850.0 210.0 C1902.7 214.2 1946.7 210.0 1966.0 215.0 C1985.3 220.0 1993.7 236.7 1966.0 240.0 C1938.3 243.3 1861.0 239.2 1800.0 235.0 C1739.0 230.8 1658.3 222.5 1600.0 215.0 C1541.7 207.5 1486.7 202.5 1450.0 190.0 C1413.3 177.5 1371.7 145.0 1380.0 140.0 Z" fill="#5A66C8" filter="url(#p1b)"/>
<path d="M830.0 630.0 C833.3 623.3 875.0 633.3 900.0 640.0 C925.0 646.7 953.3 656.7 980.0 670.0 C1006.7 683.3 1035.0 703.3 1060.0 720.0 C1085.0 736.7 1110.0 751.7 1130.0 770.0 C1150.0 788.3 1173.3 811.7 1180.0 830.0 C1186.7 848.3 1181.7 866.7 1170.0 880.0 C1158.3 893.3 1133.3 900.0 1110.0 910.0 C1086.7 920.0 1056.7 931.7 1030.0 940.0 C1003.3 948.3 971.7 957.5 950.0 960.0 C928.3 962.5 898.3 965.0 900.0 955.0 C901.7 945.0 936.7 914.2 960.0 900.0 C983.3 885.8 1020.0 881.7 1040.0 870.0 C1060.0 858.3 1080.0 843.3 1080.0 830.0 C1080.0 816.7 1056.7 801.7 1040.0 790.0 C1023.3 778.3 1000.0 771.7 980.0 760.0 C960.0 748.3 936.7 733.3 920.0 720.0 C903.3 706.7 895.0 695.0 880.0 680.0 C865.0 665.0 826.7 636.7 830.0 630.0 Z" fill="#4858B8" filter="url(#p1b)"/>
<path d="M960.0 780.0 C968.3 771.7 1016.7 790.0 1040.0 800.0 C1063.3 810.0 1096.7 830.0 1100.0 840.0 C1103.3 850.0 1078.3 858.3 1060.0 860.0 C1041.7 861.7 1006.7 863.3 990.0 850.0 C973.3 836.7 951.7 788.3 960.0 780.0 Z" fill="#E0A030" filter="url(#p1b)"/>
<path d="M1966.0 600.0 C1958.3 605.0 1929.3 616.7 1920.0 630.0 C1910.7 643.3 1920.0 665.0 1910.0 680.0 C1900.0 695.0 1873.3 705.0 1860.0 720.0 C1846.7 735.0 1840.0 753.3 1830.0 770.0 C1820.0 786.7 1821.7 803.3 1800.0 820.0 C1778.3 836.7 1725.0 855.8 1700.0 870.0 C1675.0 884.2 1653.3 892.5 1650.0 905.0 C1646.7 917.5 1658.3 931.7 1680.0 945.0 C1701.7 958.3 1755.0 973.3 1780.0 985.0 C1805.0 996.7 1833.3 1005.8 1830.0 1015.0 C1826.7 1024.2 1805.0 1029.2 1760.0 1040.0 C1715.0 1050.8 1636.7 1064.2 1560.0 1080.0 C1483.3 1095.8 1385.0 1119.2 1300.0 1135.0 C1215.0 1150.8 1133.3 1162.5 1050.0 1175.0 C966.7 1187.5 883.3 1198.3 800.0 1210.0 C716.7 1221.7 633.3 1231.7 550.0 1245.0 C466.7 1258.3 375.0 1276.7 300.0 1290.0 C225.0 1303.3 150.0 1315.8 100.0 1325.0 C50.0 1334.2 16.7 1341.7 0.0 1345.0" fill="none" stroke="#24288A" stroke-width="38" stroke-linecap="round" filter="url(#p1b)"/>
<path d="M820.0 590.0 C800.0 591.7 736.7 595.0 700.0 600.0 C663.3 605.0 616.7 616.7 600.0 620.0" fill="none" stroke="#3040A0" stroke-width="14" stroke-linecap="round" filter="url(#p1b)"/>
<path d="M400.0 400.0 C450.0 403.3 600.0 420.0 700.0 420.0 C800.0 420.0 916.7 408.3 1000.0 400.0 C1083.3 391.7 1166.7 375.0 1200.0 370.0" fill="none" stroke="#B06018" stroke-width="6" opacity="0.7" filter="url(#p1b)"/>
<path d="M800.0 480.0 C833.3 476.7 933.3 466.7 1000.0 460.0 C1066.7 453.3 1166.7 443.3 1200.0 440.0" fill="none" stroke="#B06018" stroke-width="6" opacity="0.7" filter="url(#p1b)"/>
<path d="M1150.0 350.0 C1175.0 348.3 1275.0 341.7 1300.0 340.0" fill="none" stroke="#B06018" stroke-width="6" opacity="0.7" filter="url(#p1b)"/>
</g>
<g transform="translate(246 1286) scale(0.32705)" clip-path="url(#p2clip)">
<rect width="2177" height="1449" fill="#22CC1E"/>
<ellipse cx="1600" cy="600" rx="700" ry="300" fill="#2EDD26" filter="url(#p2b2)"/>
<ellipse cx="1500" cy="1300" rx="800" ry="200" fill="#1AB01A" filter="url(#p2b2)"/>
<ellipse cx="1950" cy="850" rx="180" ry="80" fill="#9AE8C8" opacity="0.55" filter="url(#p2b)"/>
<ellipse cx="2000" cy="1050" rx="170" ry="90" fill="#9AE8C8" opacity="0.55" filter="url(#p2b)"/>
<ellipse cx="1450" cy="900" rx="100" ry="60" fill="#9AE8C8" opacity="0.55" filter="url(#p2b)"/>
<ellipse cx="1450" cy="1120" rx="110" ry="60" fill="#9AE8C8" opacity="0.55" filter="url(#p2b)"/>
<ellipse cx="1050" cy="870" rx="50" ry="60" fill="#9AE8C8" opacity="0.55" filter="url(#p2b)"/>
<ellipse cx="1100" cy="1020" rx="50" ry="50" fill="#9AE8C8" opacity="0.55" filter="url(#p2b)"/>
<ellipse cx="2100" cy="720" rx="60" ry="60" fill="#9AE8C8" opacity="0.55" filter="url(#p2b)"/>
<circle cx="1280" cy="1027" r="9" fill="#D8F4F0" opacity="0.5" filter="url(#p2b1)"/>
<circle cx="1711" cy="1067" r="7" fill="#D8F4F0" opacity="0.5" filter="url(#p2b1)"/>
<circle cx="1015" cy="1170" r="8" fill="#D8F4F0" opacity="0.5" filter="url(#p2b1)"/>
<circle cx="1276" cy="1248" r="10" fill="#D8F4F0" opacity="0.5" filter="url(#p2b1)"/>
<circle cx="1985" cy="993" r="11" fill="#D8F4F0" opacity="0.5" filter="url(#p2b1)"/>
<circle cx="1177" cy="1071" r="13" fill="#D8F4F0" opacity="0.5" filter="url(#p2b1)"/>
<circle cx="1616" cy="1123" r="11" fill="#D8F4F0" opacity="0.5" filter="url(#p2b1)"/>
<circle cx="1075" cy="1132" r="11" fill="#D8F4F0" opacity="0.5" filter="url(#p2b1)"/>
<circle cx="1355" cy="775" r="13" fill="#D8F4F0" opacity="0.5" filter="url(#p2b1)"/>
<circle cx="1556" cy="1112" r="13" fill="#D8F4F0" opacity="0.5" filter="url(#p2b1)"/>
<circle cx="1841" cy="1211" r="9" fill="#D8F4F0" opacity="0.5" filter="url(#p2b1)"/>
<circle cx="1943" cy="978" r="13" fill="#D8F4F0" opacity="0.5" filter="url(#p2b1)"/>
<circle cx="2034" cy="808" r="7" fill="#D8F4F0" opacity="0.5" filter="url(#p2b1)"/>
<circle cx="1255" cy="1233" r="9" fill="#D8F4F0" opacity="0.5" filter="url(#p2b1)"/>
<circle cx="1738" cy="908" r="10" fill="#D8F4F0" opacity="0.5" filter="url(#p2b1)"/>
<circle cx="1454" cy="932" r="11" fill="#D8F4F0" opacity="0.5" filter="url(#p2b1)"/>
<circle cx="1688" cy="1203" r="11" fill="#D8F4F0" opacity="0.5" filter="url(#p2b1)"/>
<circle cx="2093" cy="1180" r="14" fill="#D8F4F0" opacity="0.5" filter="url(#p2b1)"/>
<circle cx="1790" cy="840" r="13" fill="#D8F4F0" opacity="0.5" filter="url(#p2b1)"/>
<circle cx="2135" cy="1203" r="11" fill="#D8F4F0" opacity="0.5" filter="url(#p2b1)"/>
<circle cx="1840" cy="863" r="13" fill="#D8F4F0" opacity="0.5" filter="url(#p2b1)"/>
<circle cx="1675" cy="900" r="7" fill="#D8F4F0" opacity="0.5" filter="url(#p2b1)"/>
<circle cx="2005" cy="1245" r="7" fill="#D8F4F0" opacity="0.5" filter="url(#p2b1)"/>
<circle cx="1942" cy="961" r="7" fill="#D8F4F0" opacity="0.5" filter="url(#p2b1)"/>
<circle cx="1346" cy="1137" r="13" fill="#D8F4F0" opacity="0.5" filter="url(#p2b1)"/>
<circle cx="1052" cy="1061" r="6" fill="#D8F4F0" opacity="0.5" filter="url(#p2b1)"/>
<circle cx="1846" cy="922" r="13" fill="#D8F4F0" opacity="0.5" filter="url(#p2b1)"/>
<circle cx="2154" cy="1008" r="14" fill="#D8F4F0" opacity="0.5" filter="url(#p2b1)"/>
<circle cx="1364" cy="798" r="11" fill="#D8F4F0" opacity="0.5" filter="url(#p2b1)"/>
<circle cx="1037" cy="857" r="9" fill="#D8F4F0" opacity="0.5" filter="url(#p2b1)"/>
<circle cx="1719" cy="837" r="6" fill="#D8F4F0" opacity="0.5" filter="url(#p2b1)"/>
<circle cx="2021" cy="914" r="14" fill="#D8F4F0" opacity="0.5" filter="url(#p2b1)"/>
<circle cx="2055" cy="945" r="10" fill="#D8F4F0" opacity="0.5" filter="url(#p2b1)"/>
<circle cx="1612" cy="1076" r="11" fill="#D8F4F0" opacity="0.5" filter="url(#p2b1)"/>
<circle cx="1658" cy="1064" r="14" fill="#D8F4F0" opacity="0.5" filter="url(#p2b1)"/>
<circle cx="1597" cy="971" r="12" fill="#D8F4F0" opacity="0.5" filter="url(#p2b1)"/>
<circle cx="1280" cy="908" r="14" fill="#D8F4F0" opacity="0.5" filter="url(#p2b1)"/>
<circle cx="1613" cy="1029" r="6" fill="#D8F4F0" opacity="0.5" filter="url(#p2b1)"/>
<circle cx="1489" cy="1044" r="6" fill="#D8F4F0" opacity="0.5" filter="url(#p2b1)"/>
<circle cx="1725" cy="1070" r="6" fill="#D8F4F0" opacity="0.5" filter="url(#p2b1)"/>
<circle cx="1738" cy="988" r="11" fill="#D8F4F0" opacity="0.5" filter="url(#p2b1)"/>
<circle cx="1415" cy="1106" r="12" fill="#D8F4F0" opacity="0.5" filter="url(#p2b1)"/>
<circle cx="1026" cy="790" r="11" fill="#D8F4F0" opacity="0.5" filter="url(#p2b1)"/>
<circle cx="2134" cy="883" r="10" fill="#D8F4F0" opacity="0.5" filter="url(#p2b1)"/>
<circle cx="1698" cy="917" r="9" fill="#D8F4F0" opacity="0.5" filter="url(#p2b1)"/>
<circle cx="1368" cy="941" r="11" fill="#D8F4F0" opacity="0.5" filter="url(#p2b1)"/>
<circle cx="1354" cy="945" r="12" fill="#D8F4F0" opacity="0.5" filter="url(#p2b1)"/>
<circle cx="1032" cy="1039" r="12" fill="#D8F4F0" opacity="0.5" filter="url(#p2b1)"/>
<circle cx="1365" cy="869" r="12" fill="#D8F4F0" opacity="0.5" filter="url(#p2b1)"/>
<circle cx="1281" cy="852" r="9" fill="#D8F4F0" opacity="0.5" filter="url(#p2b1)"/>
<circle cx="1822" cy="810" r="9" fill="#D8F4F0" opacity="0.5" filter="url(#p2b1)"/>
<circle cx="1393" cy="1168" r="10" fill="#D8F4F0" opacity="0.5" filter="url(#p2b1)"/>
<circle cx="2007" cy="843" r="9" fill="#D8F4F0" opacity="0.5" filter="url(#p2b1)"/>
<circle cx="1765" cy="1194" r="10" fill="#D8F4F0" opacity="0.5" filter="url(#p2b1)"/>
<circle cx="1265" cy="819" r="10" fill="#D8F4F0" opacity="0.5" filter="url(#p2b1)"/>
<circle cx="1225" cy="1155" r="13" fill="#D8F4F0" opacity="0.5" filter="url(#p2b1)"/>
<circle cx="1216" cy="897" r="12" fill="#D8F4F0" opacity="0.5" filter="url(#p2b1)"/>
<circle cx="1756" cy="1155" r="9" fill="#D8F4F0" opacity="0.5" filter="url(#p2b1)"/>
<circle cx="1153" cy="903" r="12" fill="#D8F4F0" opacity="0.5" filter="url(#p2b1)"/>
<circle cx="1319" cy="930" r="9" fill="#D8F4F0" opacity="0.5" filter="url(#p2b1)"/>
<path d="M0.0 0.0 C362.8 -110.0 1814.2 -48.3 2177.0 0.0 C2539.8 48.3 2223.2 238.3 2177.0 290.0 C2130.8 341.7 1979.5 305.0 1900.0 310.0 C1820.5 315.0 1766.7 315.0 1700.0 320.0 C1633.3 325.0 1566.7 331.7 1500.0 340.0 C1433.3 348.3 1366.7 361.7 1300.0 370.0 C1233.3 378.3 1166.7 385.0 1100.0 390.0 C1033.3 395.0 983.3 393.3 900.0 400.0 C816.7 406.7 700.0 413.3 600.0 430.0 C500.0 446.7 383.3 468.3 300.0 500.0 C216.7 531.7 150.0 593.3 100.0 620.0 C50.0 646.7 16.7 763.3 0.0 660.0 C-16.7 556.7 -362.8 110.0 0.0 0.0 Z" fill="#4C4028" filter="url(#p2b1)"/>
<g clip-path="url(#p2bankclip)">
<ellipse cx="914" cy="197" rx="39" ry="20" fill="#8A6A50" opacity="0.8" filter="url(#p2b)"/>
<ellipse cx="2053" cy="422" rx="64" ry="59" fill="#8A6A50" opacity="0.8" filter="url(#p2b)"/>
<ellipse cx="1561" cy="16" rx="80" ry="47" fill="#5C4A36" opacity="0.8" filter="url(#p2b)"/>
<ellipse cx="1130" cy="139" rx="83" ry="54" fill="#2E3A22" opacity="0.8" filter="url(#p2b)"/>
<ellipse cx="1868" cy="466" rx="79" ry="22" fill="#3E5A2A" opacity="0.8" filter="url(#p2b)"/>
<ellipse cx="1967" cy="333" rx="84" ry="56" fill="#7A5A40" opacity="0.8" filter="url(#p2b)"/>
<ellipse cx="1256" cy="6" rx="40" ry="32" fill="#3E5A2A" opacity="0.8" filter="url(#p2b)"/>
<ellipse cx="1443" cy="252" rx="33" ry="57" fill="#8A6A50" opacity="0.8" filter="url(#p2b)"/>
<ellipse cx="247" cy="60" rx="79" ry="22" fill="#5C4A36" opacity="0.8" filter="url(#p2b)"/>
<ellipse cx="481" cy="59" rx="40" ry="52" fill="#3E5A2A" opacity="0.8" filter="url(#p2b)"/>
<ellipse cx="2007" cy="387" rx="59" ry="43" fill="#5A7A3A" opacity="0.8" filter="url(#p2b)"/>
<ellipse cx="871" cy="363" rx="46" ry="41" fill="#7A5A40" opacity="0.8" filter="url(#p2b)"/>
<ellipse cx="921" cy="227" rx="81" ry="51" fill="#5A7A3A" opacity="0.8" filter="url(#p2b)"/>
<ellipse cx="101" cy="24" rx="88" ry="54" fill="#5C4A36" opacity="0.8" filter="url(#p2b)"/>
<ellipse cx="188" cy="241" rx="39" ry="23" fill="#2E3A22" opacity="0.8" filter="url(#p2b)"/>
<ellipse cx="840" cy="187" rx="52" ry="28" fill="#4A6A32" opacity="0.8" filter="url(#p2b)"/>
<ellipse cx="716" cy="59" rx="73" ry="35" fill="#5A7A3A" opacity="0.8" filter="url(#p2b)"/>
<ellipse cx="174" cy="86" rx="58" ry="46" fill="#2E3A22" opacity="0.8" filter="url(#p2b)"/>
<ellipse cx="1178" cy="306" rx="67" ry="37" fill="#5A7A3A" opacity="0.8" filter="url(#p2b)"/>
<ellipse cx="811" cy="238" rx="55" ry="48" fill="#2E3A22" opacity="0.8" filter="url(#p2b)"/>
<ellipse cx="1003" cy="118" rx="72" ry="23" fill="#4A6A32" opacity="0.8" filter="url(#p2b)"/>
<ellipse cx="925" cy="204" rx="86" ry="35" fill="#5A7A3A" opacity="0.8" filter="url(#p2b)"/>
<ellipse cx="1955" cy="380" rx="37" ry="48" fill="#4A6A32" opacity="0.8" filter="url(#p2b)"/>
<ellipse cx="2044" cy="351" rx="70" ry="49" fill="#8A6A50" opacity="0.8" filter="url(#p2b)"/>
<ellipse cx="1227" cy="50" rx="58" ry="29" fill="#5A7A3A" opacity="0.8" filter="url(#p2b)"/>
<ellipse cx="846" cy="253" rx="70" ry="35" fill="#3E5A2A" opacity="0.8" filter="url(#p2b)"/>
<ellipse cx="1784" cy="164" rx="32" ry="25" fill="#3E5A2A" opacity="0.8" filter="url(#p2b)"/>
<ellipse cx="1049" cy="334" rx="65" ry="52" fill="#4A6A32" opacity="0.8" filter="url(#p2b)"/>
<ellipse cx="79" cy="368" rx="36" ry="50" fill="#7A5A40" opacity="0.8" filter="url(#p2b)"/>
<ellipse cx="2035" cy="29" rx="82" ry="27" fill="#2E3A22" opacity="0.8" filter="url(#p2b)"/>
<ellipse cx="168" cy="479" rx="57" ry="48" fill="#7A5A40" opacity="0.8" filter="url(#p2b)"/>
<ellipse cx="2052" cy="121" rx="86" ry="42" fill="#8A6A50" opacity="0.8" filter="url(#p2b)"/>
<ellipse cx="2104" cy="180" rx="88" ry="37" fill="#7A5A40" opacity="0.8" filter="url(#p2b)"/>
<ellipse cx="1627" cy="77" rx="39" ry="36" fill="#5C4A36" opacity="0.8" filter="url(#p2b)"/>
<ellipse cx="1932" cy="78" rx="75" ry="57" fill="#5C4A36" opacity="0.8" filter="url(#p2b)"/>
<ellipse cx="1126" cy="213" rx="38" ry="50" fill="#6A3A28" opacity="0.8" filter="url(#p2b)"/>
<ellipse cx="319" cy="247" rx="81" ry="42" fill="#7A5A40" opacity="0.8" filter="url(#p2b)"/>
<ellipse cx="1697" cy="322" rx="66" ry="43" fill="#8A6A50" opacity="0.8" filter="url(#p2b)"/>
<ellipse cx="2142" cy="427" rx="31" ry="39" fill="#4A6A32" opacity="0.8" filter="url(#p2b)"/>
<ellipse cx="833" cy="83" rx="44" ry="39" fill="#2E3A22" opacity="0.8" filter="url(#p2b)"/>
<ellipse cx="1880" cy="201" rx="72" ry="28" fill="#5C4A36" opacity="0.8" filter="url(#p2b)"/>
<ellipse cx="1264" cy="433" rx="59" ry="49" fill="#5A7A3A" opacity="0.8" filter="url(#p2b)"/>
<ellipse cx="1865" cy="192" rx="58" ry="29" fill="#5A7A3A" opacity="0.8" filter="url(#p2b)"/>
<ellipse cx="511" cy="344" rx="88" ry="54" fill="#3E5A2A" opacity="0.8" filter="url(#p2b)"/>
<ellipse cx="527" cy="91" rx="38" ry="45" fill="#4A6A32" opacity="0.8" filter="url(#p2b)"/>
<ellipse cx="1470" cy="18" rx="40" ry="22" fill="#4A6A32" opacity="0.8" filter="url(#p2b)"/>
<ellipse cx="399" cy="44" rx="37" ry="31" fill="#3E5A2A" opacity="0.8" filter="url(#p2b)"/>
<ellipse cx="1989" cy="17" rx="65" ry="47" fill="#5C4A36" opacity="0.8" filter="url(#p2b)"/>
<ellipse cx="15" cy="161" rx="53" ry="23" fill="#8A6A50" opacity="0.8" filter="url(#p2b)"/>
<ellipse cx="1403" cy="356" rx="53" ry="42" fill="#5C4A36" opacity="0.8" filter="url(#p2b)"/>
<ellipse cx="259" cy="132" rx="37" ry="55" fill="#8A6A50" opacity="0.8" filter="url(#p2b)"/>
<ellipse cx="1978" cy="47" rx="71" ry="35" fill="#2E3A22" opacity="0.8" filter="url(#p2b)"/>
<ellipse cx="981" cy="318" rx="36" ry="58" fill="#4A6A32" opacity="0.8" filter="url(#p2b)"/>
<ellipse cx="737" cy="272" rx="70" ry="40" fill="#3E5A2A" opacity="0.8" filter="url(#p2b)"/>
<ellipse cx="130" cy="141" rx="69" ry="49" fill="#6A3A28" opacity="0.8" filter="url(#p2b)"/>
<ellipse cx="326" cy="178" rx="37" ry="57" fill="#5C4A36" opacity="0.8" filter="url(#p2b)"/>
<ellipse cx="308" cy="159" rx="63" ry="46" fill="#8A6A50" opacity="0.8" filter="url(#p2b)"/>
<ellipse cx="996" cy="150" rx="72" ry="24" fill="#6A3A28" opacity="0.8" filter="url(#p2b)"/>
<ellipse cx="395" cy="266" rx="52" ry="31" fill="#8A6A50" opacity="0.8" filter="url(#p2b)"/>
<ellipse cx="835" cy="419" rx="59" ry="31" fill="#5A7A3A" opacity="0.8" filter="url(#p2b)"/>
<ellipse cx="1514" cy="247" rx="87" ry="38" fill="#2E3A22" opacity="0.8" filter="url(#p2b)"/>
<ellipse cx="1762" cy="33" rx="81" ry="24" fill="#5C4A36" opacity="0.8" filter="url(#p2b)"/>
<ellipse cx="589" cy="48" rx="64" ry="56" fill="#3E5A2A" opacity="0.8" filter="url(#p2b)"/>
<ellipse cx="244" cy="335" rx="70" ry="36" fill="#8A6A50" opacity="0.8" filter="url(#p2b)"/>
<ellipse cx="2141" cy="62" rx="82" ry="52" fill="#6A3A28" opacity="0.8" filter="url(#p2b)"/>
<ellipse cx="1186" cy="82" rx="42" ry="30" fill="#6A3A28" opacity="0.8" filter="url(#p2b)"/>
<ellipse cx="1702" cy="14" rx="83" ry="58" fill="#5C4A36" opacity="0.8" filter="url(#p2b)"/>
<ellipse cx="834" cy="265" rx="68" ry="59" fill="#4A6A32" opacity="0.8" filter="url(#p2b)"/>
<ellipse cx="1495" cy="144" rx="32" ry="28" fill="#5C4A36" opacity="0.8" filter="url(#p2b)"/>
<ellipse cx="1380" cy="52" rx="60" ry="41" fill="#7A5A40" opacity="0.8" filter="url(#p2b)"/>
<ellipse cx="1003" cy="93" rx="32" ry="40" fill="#7A5A40" opacity="0.8" filter="url(#p2b)"/>
<ellipse cx="1406" cy="213" rx="88" ry="56" fill="#4A6A32" opacity="0.8" filter="url(#p2b)"/>
<ellipse cx="295" cy="380" rx="32" ry="45" fill="#5A7A3A" opacity="0.8" filter="url(#p2b)"/>
<ellipse cx="1101" cy="239" rx="86" ry="33" fill="#5A7A3A" opacity="0.8" filter="url(#p2b)"/>
<ellipse cx="1895" cy="333" rx="35" ry="54" fill="#6A3A28" opacity="0.8" filter="url(#p2b)"/>
<ellipse cx="1688" cy="16" rx="74" ry="34" fill="#3E5A2A" opacity="0.8" filter="url(#p2b)"/>
<ellipse cx="1756" cy="447" rx="56" ry="50" fill="#7A5A40" opacity="0.8" filter="url(#p2b)"/>
<ellipse cx="1056" cy="52" rx="55" ry="54" fill="#5A7A3A" opacity="0.8" filter="url(#p2b)"/>
<ellipse cx="1537" cy="188" rx="72" ry="41" fill="#5C4A36" opacity="0.8" filter="url(#p2b)"/>
<ellipse cx="919" cy="312" rx="31" ry="38" fill="#4A6A32" opacity="0.8" filter="url(#p2b)"/>
<ellipse cx="1505" cy="210" rx="84" ry="49" fill="#5C4A36" opacity="0.8" filter="url(#p2b)"/>
<ellipse cx="799" cy="178" rx="66" ry="29" fill="#2E3A22" opacity="0.8" filter="url(#p2b)"/>
<ellipse cx="6" cy="100" rx="39" ry="38" fill="#2E3A22" opacity="0.8" filter="url(#p2b)"/>
<ellipse cx="425" cy="100" rx="65" ry="40" fill="#6A3A28" opacity="0.8" filter="url(#p2b)"/>
<ellipse cx="1386" cy="67" rx="57" ry="27" fill="#6A3A28" opacity="0.8" filter="url(#p2b)"/>
<ellipse cx="1832" cy="193" rx="54" ry="48" fill="#2E3A22" opacity="0.8" filter="url(#p2b)"/>
<ellipse cx="111" cy="194" rx="60" ry="56" fill="#8A6A50" opacity="0.8" filter="url(#p2b)"/>
<ellipse cx="1922" cy="116" rx="58" ry="27" fill="#8A6A50" opacity="0.8" filter="url(#p2b)"/>
<ellipse cx="1355" cy="166" rx="66" ry="52" fill="#3E5A2A" opacity="0.8" filter="url(#p2b)"/>
<ellipse cx="633" cy="471" rx="77" ry="58" fill="#5C4A36" opacity="0.8" filter="url(#p2b)"/>
<ellipse cx="1064" cy="269" rx="79" ry="45" fill="#5A7A3A" opacity="0.8" filter="url(#p2b)"/>
<ellipse cx="750" cy="45" rx="88" ry="44" fill="#8A6A50" opacity="0.8" filter="url(#p2b)"/>
<ellipse cx="8" cy="15" rx="31" ry="40" fill="#3E5A2A" opacity="0.8" filter="url(#p2b)"/>
<ellipse cx="1049" cy="91" rx="42" ry="59" fill="#2E3A22" opacity="0.8" filter="url(#p2b)"/>
<ellipse cx="1038" cy="386" rx="86" ry="21" fill="#2E3A22" opacity="0.8" filter="url(#p2b)"/>
<ellipse cx="663" cy="291" rx="35" ry="32" fill="#8A6A50" opacity="0.8" filter="url(#p2b)"/>
<ellipse cx="1850" cy="55" rx="63" ry="41" fill="#8A6A50" opacity="0.8" filter="url(#p2b)"/>
<ellipse cx="1694" cy="193" rx="80" ry="42" fill="#8A6A50" opacity="0.8" filter="url(#p2b)"/>
<ellipse cx="2010" cy="174" rx="56" ry="38" fill="#8A6A50" opacity="0.8" filter="url(#p2b)"/>
<ellipse cx="1530" cy="166" rx="60" ry="50" fill="#6A3A28" opacity="0.8" filter="url(#p2b)"/>
<ellipse cx="1992" cy="335" rx="33" ry="27" fill="#5C4A36" opacity="0.8" filter="url(#p2b)"/>
<ellipse cx="1636" cy="395" rx="76" ry="47" fill="#3E5A2A" opacity="0.8" filter="url(#p2b)"/>
<ellipse cx="211" cy="114" rx="83" ry="55" fill="#5A7A3A" opacity="0.8" filter="url(#p2b)"/>
<ellipse cx="979" cy="431" rx="90" ry="20" fill="#2E3A22" opacity="0.8" filter="url(#p2b)"/>
<ellipse cx="424" cy="378" rx="50" ry="32" fill="#3E5A2A" opacity="0.8" filter="url(#p2b)"/>
<ellipse cx="980" cy="395" rx="44" ry="22" fill="#7A5A40" opacity="0.8" filter="url(#p2b)"/>
<ellipse cx="332" cy="309" rx="37" ry="32" fill="#5A7A3A" opacity="0.8" filter="url(#p2b)"/>
<ellipse cx="454" cy="408" rx="60" ry="56" fill="#8A6A50" opacity="0.8" filter="url(#p2b)"/>
<ellipse cx="694" cy="424" rx="58" ry="45" fill="#7A5A40" opacity="0.8" filter="url(#p2b)"/>
<ellipse cx="90" cy="387" rx="82" ry="24" fill="#5A7A3A" opacity="0.8" filter="url(#p2b)"/>
<ellipse cx="2053" cy="122" rx="58" ry="29" fill="#3E5A2A" opacity="0.8" filter="url(#p2b)"/>
<ellipse cx="1806" cy="295" rx="76" ry="55" fill="#5C4A36" opacity="0.8" filter="url(#p2b)"/>
<ellipse cx="753" cy="289" rx="77" ry="32" fill="#5C4A36" opacity="0.8" filter="url(#p2b)"/>
<ellipse cx="2057" cy="213" rx="42" ry="42" fill="#8A6A50" opacity="0.8" filter="url(#p2b)"/>
<ellipse cx="1011" cy="349" rx="50" ry="28" fill="#3E5A2A" opacity="0.8" filter="url(#p2b)"/>
<ellipse cx="1641" cy="443" rx="55" ry="46" fill="#2E3A22" opacity="0.8" filter="url(#p2b)"/>
<ellipse cx="1319" cy="103" rx="80" ry="22" fill="#2E3A22" opacity="0.8" filter="url(#p2b)"/>
<ellipse cx="514" cy="211" rx="43" ry="27" fill="#4A6A32" opacity="0.8" filter="url(#p2b)"/>
<ellipse cx="2027" cy="349" rx="86" ry="41" fill="#5C4A36" opacity="0.8" filter="url(#p2b)"/>
<ellipse cx="912" cy="455" rx="59" ry="51" fill="#8A6A50" opacity="0.8" filter="url(#p2b)"/>
<ellipse cx="886" cy="479" rx="48" ry="57" fill="#5A7A3A" opacity="0.8" filter="url(#p2b)"/>
<ellipse cx="402" cy="46" rx="48" ry="41" fill="#6A3A28" opacity="0.8" filter="url(#p2b)"/>
<ellipse cx="1392" cy="19" rx="47" ry="37" fill="#7A5A40" opacity="0.8" filter="url(#p2b)"/>
<ellipse cx="751" cy="356" rx="39" ry="38" fill="#4A6A32" opacity="0.8" filter="url(#p2b)"/>
<ellipse cx="1978" cy="213" rx="39" ry="51" fill="#7A5A40" opacity="0.8" filter="url(#p2b)"/>
<ellipse cx="1525" cy="469" rx="87" ry="37" fill="#2E3A22" opacity="0.8" filter="url(#p2b)"/>
<ellipse cx="2046" cy="228" rx="52" ry="54" fill="#7A5A40" opacity="0.8" filter="url(#p2b)"/>
<ellipse cx="621" cy="222" rx="78" ry="32" fill="#2E3A22" opacity="0.8" filter="url(#p2b)"/>
<ellipse cx="528" cy="387" rx="31" ry="45" fill="#5A7A3A" opacity="0.8" filter="url(#p2b)"/>
<ellipse cx="325" cy="10" rx="30" ry="59" fill="#5A7A3A" opacity="0.8" filter="url(#p2b)"/>
<ellipse cx="1727" cy="170" rx="89" ry="21" fill="#2E3A22" opacity="0.8" filter="url(#p2b)"/>
<ellipse cx="403" cy="6" rx="84" ry="53" fill="#8A6A50" opacity="0.8" filter="url(#p2b)"/>
<ellipse cx="1314" cy="389" rx="49" ry="30" fill="#5C4A36" opacity="0.8" filter="url(#p2b)"/>
<ellipse cx="1746" cy="201" rx="50" ry="21" fill="#4A6A32" opacity="0.8" filter="url(#p2b)"/>
<ellipse cx="81" cy="478" rx="85" ry="52" fill="#6A3A28" opacity="0.8" filter="url(#p2b)"/>
<ellipse cx="539" cy="65" rx="61" ry="53" fill="#8A6A50" opacity="0.8" filter="url(#p2b)"/>
<ellipse cx="1201" cy="134" rx="33" ry="39" fill="#6A3A28" opacity="0.8" filter="url(#p2b)"/>
<ellipse cx="132" cy="392" rx="58" ry="47" fill="#5C4A36" opacity="0.8" filter="url(#p2b)"/>
<ellipse cx="2022" cy="391" rx="52" ry="45" fill="#8A6A50" opacity="0.8" filter="url(#p2b)"/>
<ellipse cx="639" cy="35" rx="90" ry="42" fill="#6A3A28" opacity="0.8" filter="url(#p2b)"/>
<ellipse cx="889" cy="169" rx="47" ry="30" fill="#5C4A36" opacity="0.8" filter="url(#p2b)"/>
<ellipse cx="616" cy="254" rx="38" ry="22" fill="#2E3A22" opacity="0.8" filter="url(#p2b)"/>
<ellipse cx="1057" cy="111" rx="86" ry="44" fill="#5C4A36" opacity="0.8" filter="url(#p2b)"/>
<ellipse cx="67" cy="276" rx="59" ry="31" fill="#3E5A2A" opacity="0.8" filter="url(#p2b)"/>
<ellipse cx="1544" cy="438" rx="56" ry="23" fill="#3E5A2A" opacity="0.8" filter="url(#p2b)"/>
<ellipse cx="73" cy="234" rx="42" ry="57" fill="#5C4A36" opacity="0.8" filter="url(#p2b)"/>
<ellipse cx="394" cy="184" rx="49" ry="31" fill="#8A6A50" opacity="0.8" filter="url(#p2b)"/>
<ellipse cx="2068" cy="453" rx="67" ry="42" fill="#2E3A22" opacity="0.8" filter="url(#p2b)"/>
<ellipse cx="77" cy="200" rx="89" ry="23" fill="#8A6A50" opacity="0.8" filter="url(#p2b)"/>
<ellipse cx="500" cy="96" rx="72" ry="25" fill="#3E5A2A" opacity="0.8" filter="url(#p2b)"/>
<ellipse cx="1376" cy="59" rx="87" ry="59" fill="#5A7A3A" opacity="0.8" filter="url(#p2b)"/>
<ellipse cx="1507" cy="207" rx="58" ry="32" fill="#5C4A36" opacity="0.8" filter="url(#p2b)"/>
<ellipse cx="1218" cy="84" rx="87" ry="26" fill="#5C4A36" opacity="0.8" filter="url(#p2b)"/>
<ellipse cx="1971" cy="85" rx="70" ry="46" fill="#5C4A36" opacity="0.8" filter="url(#p2b)"/>
<ellipse cx="310" cy="26" rx="49" ry="46" fill="#6A3A28" opacity="0.8" filter="url(#p2b)"/>
<ellipse cx="285" cy="70" rx="62" ry="35" fill="#6A3A28" opacity="0.8" filter="url(#p2b)"/>
<ellipse cx="233" cy="187" rx="47" ry="25" fill="#5A7A3A" opacity="0.8" filter="url(#p2b)"/>
<ellipse cx="316" cy="61" rx="86" ry="44" fill="#2E3A22" opacity="0.8" filter="url(#p2b)"/>
<ellipse cx="2035" cy="4" rx="90" ry="59" fill="#2E3A22" opacity="0.8" filter="url(#p2b)"/>
<ellipse cx="535" cy="170" rx="36" ry="54" fill="#5C4A36" opacity="0.8" filter="url(#p2b)"/>
</g>
<path d="M0.0 740.0 C33.3 628.5 116.7 766.7 200.0 780.0 C283.3 793.3 425.0 805.0 500.0 820.0 C575.0 835.0 591.7 848.3 650.0 870.0 C708.3 891.7 791.7 920.0 850.0 950.0 C908.3 980.0 965.0 1016.7 1000.0 1050.0 C1035.0 1083.3 1043.3 1115.0 1060.0 1150.0 C1076.7 1185.0 1071.7 1226.7 1100.0 1260.0 C1128.3 1293.3 1206.7 1318.5 1230.0 1350.0 C1253.3 1381.5 1445.0 1432.5 1240.0 1449.0 C1035.0 1465.5 206.7 1567.2 0.0 1449.0 C-206.7 1330.8 -33.3 851.5 0.0 740.0 Z" fill="#806468" filter="url(#p2b1)"/>
<g clip-path="url(#p2leafclip)">
<ellipse cx="591" cy="1264" rx="33" ry="17" fill="#9A8088" opacity="0.9" transform="rotate(6 591 1264)"/>
<ellipse cx="580" cy="1122" rx="18" ry="13" fill="#7A5A60" opacity="0.9" transform="rotate(-9 580 1122)"/>
<ellipse cx="946" cy="950" rx="22" ry="18" fill="#C8B0B0" opacity="0.9" transform="rotate(37 946 950)"/>
<ellipse cx="396" cy="1336" rx="15" ry="20" fill="#C8B0B0" opacity="0.9" transform="rotate(-7 396 1336)"/>
<ellipse cx="1091" cy="821" rx="18" ry="9" fill="#A88C90" opacity="0.9" transform="rotate(-8 1091 821)"/>
<ellipse cx="711" cy="1005" rx="16" ry="14" fill="#5A4044" opacity="0.9" transform="rotate(-5 711 1005)"/>
<ellipse cx="183" cy="1166" rx="26" ry="15" fill="#B09080" opacity="0.9" transform="rotate(11 183 1166)"/>
<ellipse cx="739" cy="1238" rx="36" ry="18" fill="#B09080" opacity="0.9" transform="rotate(-17 739 1238)"/>
<ellipse cx="1221" cy="931" rx="30" ry="11" fill="#6A4C50" opacity="0.9" transform="rotate(40 1221 931)"/>
<ellipse cx="911" cy="916" rx="39" ry="13" fill="#D8C8C8" opacity="0.9" transform="rotate(-2 911 916)"/>
<ellipse cx="664" cy="1360" rx="28" ry="13" fill="#E0D8D8" opacity="0.9" transform="rotate(9 664 1360)"/>
<ellipse cx="87" cy="1042" rx="34" ry="9" fill="#E0D8D8" opacity="0.9" transform="rotate(28 87 1042)"/>
<ellipse cx="480" cy="1436" rx="27" ry="9" fill="#B09080" opacity="0.9" transform="rotate(-0 480 1436)"/>
<ellipse cx="147" cy="1259" rx="32" ry="12" fill="#D8C8C8" opacity="0.9" transform="rotate(-16 147 1259)"/>
<ellipse cx="632" cy="1023" rx="38" ry="16" fill="#B09080" opacity="0.9" transform="rotate(-32 632 1023)"/>
<ellipse cx="619" cy="969" rx="24" ry="15" fill="#A88C90" opacity="0.9" transform="rotate(-29 619 969)"/>
<ellipse cx="102" cy="967" rx="19" ry="8" fill="#5A4044" opacity="0.9" transform="rotate(19 102 967)"/>
<ellipse cx="392" cy="1055" rx="36" ry="18" fill="#B09080" opacity="0.9" transform="rotate(33 392 1055)"/>
<ellipse cx="552" cy="1224" rx="27" ry="19" fill="#6A4C50" opacity="0.9" transform="rotate(-22 552 1224)"/>
<ellipse cx="174" cy="957" rx="19" ry="18" fill="#9A8088" opacity="0.9" transform="rotate(8 174 957)"/>
<ellipse cx="106" cy="760" rx="24" ry="14" fill="#B09080" opacity="0.9" transform="rotate(39 106 760)"/>
<ellipse cx="591" cy="839" rx="27" ry="13" fill="#8A6A70" opacity="0.9" transform="rotate(10 591 839)"/>
<ellipse cx="825" cy="1049" rx="31" ry="17" fill="#6A4C50" opacity="0.9" transform="rotate(30 825 1049)"/>
<ellipse cx="80" cy="1362" rx="16" ry="8" fill="#B09080" opacity="0.9" transform="rotate(-2 80 1362)"/>
<ellipse cx="528" cy="1374" rx="31" ry="19" fill="#B09080" opacity="0.9" transform="rotate(-22 528 1374)"/>
<ellipse cx="403" cy="1200" rx="15" ry="14" fill="#6A4C50" opacity="0.9" transform="rotate(32 403 1200)"/>
<ellipse cx="636" cy="910" rx="19" ry="18" fill="#6A4C50" opacity="0.9" transform="rotate(26 636 910)"/>
<ellipse cx="1148" cy="1021" rx="40" ry="16" fill="#B09080" opacity="0.9" transform="rotate(2 1148 1021)"/>
<ellipse cx="253" cy="952" rx="17" ry="14" fill="#E0D8D8" opacity="0.9" transform="rotate(10 253 952)"/>
<ellipse cx="444" cy="1285" rx="36" ry="17" fill="#E0D8D8" opacity="0.9" transform="rotate(-24 444 1285)"/>
<ellipse cx="75" cy="1047" rx="30" ry="14" fill="#5A4044" opacity="0.9" transform="rotate(28 75 1047)"/>
<ellipse cx="230" cy="813" rx="17" ry="19" fill="#7A5A60" opacity="0.9" transform="rotate(-8 230 813)"/>
<ellipse cx="265" cy="872" rx="23" ry="11" fill="#A88C90" opacity="0.9" transform="rotate(30 265 872)"/>
<ellipse cx="851" cy="1257" rx="24" ry="13" fill="#8A6A70" opacity="0.9" transform="rotate(-26 851 1257)"/>
<ellipse cx="313" cy="927" rx="33" ry="10" fill="#B09080" opacity="0.9" transform="rotate(-16 313 927)"/>
<ellipse cx="216" cy="859" rx="32" ry="11" fill="#7A5A60" opacity="0.9" transform="rotate(14 216 859)"/>
<ellipse cx="762" cy="865" rx="24" ry="14" fill="#9A8088" opacity="0.9" transform="rotate(8 762 865)"/>
<ellipse cx="785" cy="1054" rx="16" ry="14" fill="#A88C90" opacity="0.9" transform="rotate(-3 785 1054)"/>
<ellipse cx="22" cy="865" rx="37" ry="16" fill="#9A8088" opacity="0.9" transform="rotate(-22 22 865)"/>
<ellipse cx="1022" cy="1439" rx="25" ry="15" fill="#B09080" opacity="0.9" transform="rotate(21 1022 1439)"/>
<ellipse cx="144" cy="1037" rx="29" ry="9" fill="#C8B0B0" opacity="0.9" transform="rotate(2 144 1037)"/>
<ellipse cx="1064" cy="1079" rx="18" ry="19" fill="#9A8088" opacity="0.9" transform="rotate(-10 1064 1079)"/>
<ellipse cx="52" cy="986" rx="30" ry="16" fill="#8A6A70" opacity="0.9" transform="rotate(38 52 986)"/>
<ellipse cx="741" cy="1154" rx="28" ry="20" fill="#5A4044" opacity="0.9" transform="rotate(27 741 1154)"/>
<ellipse cx="935" cy="947" rx="25" ry="15" fill="#A88C90" opacity="0.9" transform="rotate(21 935 947)"/>
<ellipse cx="528" cy="1002" rx="20" ry="16" fill="#C8B0B0" opacity="0.9" transform="rotate(5 528 1002)"/>
<ellipse cx="482" cy="818" rx="18" ry="19" fill="#9A8088" opacity="0.9" transform="rotate(-1 482 818)"/>
<ellipse cx="676" cy="1070" rx="28" ry="12" fill="#D8C8C8" opacity="0.9" transform="rotate(18 676 1070)"/>
<ellipse cx="758" cy="1238" rx="27" ry="10" fill="#C8B0B0" opacity="0.9" transform="rotate(-32 758 1238)"/>
<ellipse cx="672" cy="1395" rx="27" ry="13" fill="#9A8088" opacity="0.9" transform="rotate(-35 672 1395)"/>
<ellipse cx="345" cy="963" rx="17" ry="19" fill="#5A4044" opacity="0.9" transform="rotate(-2 345 963)"/>
<ellipse cx="543" cy="926" rx="21" ry="17" fill="#C8B0B0" opacity="0.9" transform="rotate(36 543 926)"/>
<ellipse cx="834" cy="915" rx="35" ry="17" fill="#5A4044" opacity="0.9" transform="rotate(32 834 915)"/>
<ellipse cx="123" cy="1239" rx="20" ry="13" fill="#6A4C50" opacity="0.9" transform="rotate(38 123 1239)"/>
<ellipse cx="408" cy="1281" rx="15" ry="14" fill="#C8B0B0" opacity="0.9" transform="rotate(40 408 1281)"/>
<ellipse cx="166" cy="1378" rx="33" ry="14" fill="#7A5A60" opacity="0.9" transform="rotate(15 166 1378)"/>
<ellipse cx="535" cy="1310" rx="22" ry="11" fill="#5A4044" opacity="0.9" transform="rotate(32 535 1310)"/>
<ellipse cx="192" cy="762" rx="31" ry="11" fill="#D8C8C8" opacity="0.9" transform="rotate(21 192 762)"/>
<ellipse cx="631" cy="1416" rx="21" ry="16" fill="#B09080" opacity="0.9" transform="rotate(5 631 1416)"/>
<ellipse cx="1207" cy="994" rx="18" ry="20" fill="#6A4C50" opacity="0.9" transform="rotate(19 1207 994)"/>
<ellipse cx="606" cy="1264" rx="17" ry="12" fill="#C8B0B0" opacity="0.9" transform="rotate(25 606 1264)"/>
<ellipse cx="913" cy="924" rx="30" ry="19" fill="#6A4C50" opacity="0.9" transform="rotate(-29 913 924)"/>
<ellipse cx="9" cy="799" rx="24" ry="13" fill="#9A8088" opacity="0.9" transform="rotate(40 9 799)"/>
<ellipse cx="764" cy="927" rx="16" ry="16" fill="#A88C90" opacity="0.9" transform="rotate(-7 764 927)"/>
<ellipse cx="9" cy="979" rx="36" ry="12" fill="#B09080" opacity="0.9" transform="rotate(-36 9 979)"/>
<ellipse cx="264" cy="748" rx="26" ry="16" fill="#9A8088" opacity="0.9" transform="rotate(-14 264 748)"/>
<ellipse cx="281" cy="1061" rx="23" ry="11" fill="#A88C90" opacity="0.9" transform="rotate(-7 281 1061)"/>
<ellipse cx="120" cy="964" rx="17" ry="16" fill="#E0D8D8" opacity="0.9" transform="rotate(-20 120 964)"/>
<ellipse cx="121" cy="1028" rx="23" ry="10" fill="#E0D8D8" opacity="0.9" transform="rotate(6 121 1028)"/>
<ellipse cx="332" cy="1280" rx="24" ry="19" fill="#E0D8D8" opacity="0.9" transform="rotate(-23 332 1280)"/>
<ellipse cx="733" cy="1192" rx="19" ry="13" fill="#6A4C50" opacity="0.9" transform="rotate(2 733 1192)"/>
<ellipse cx="355" cy="1406" rx="18" ry="14" fill="#E0D8D8" opacity="0.9" transform="rotate(-15 355 1406)"/>
<ellipse cx="652" cy="900" rx="40" ry="9" fill="#9A8088" opacity="0.9" transform="rotate(-0 652 900)"/>
<ellipse cx="600" cy="916" rx="15" ry="8" fill="#D8C8C8" opacity="0.9" transform="rotate(10 600 916)"/>
<ellipse cx="73" cy="1100" rx="38" ry="9" fill="#7A5A60" opacity="0.9" transform="rotate(14 73 1100)"/>
<ellipse cx="381" cy="1075" rx="34" ry="18" fill="#5A4044" opacity="0.9" transform="rotate(-15 381 1075)"/>
<ellipse cx="704" cy="1028" rx="17" ry="16" fill="#A88C90" opacity="0.9" transform="rotate(-21 704 1028)"/>
<ellipse cx="198" cy="1018" rx="18" ry="10" fill="#9A8088" opacity="0.9" transform="rotate(37 198 1018)"/>
<ellipse cx="376" cy="1346" rx="14" ry="9" fill="#9A8088" opacity="0.9" transform="rotate(14 376 1346)"/>
<ellipse cx="1158" cy="1039" rx="29" ry="13" fill="#B09080" opacity="0.9" transform="rotate(-3 1158 1039)"/>
<ellipse cx="752" cy="760" rx="27" ry="16" fill="#5A4044" opacity="0.9" transform="rotate(23 752 760)"/>
<ellipse cx="935" cy="886" rx="31" ry="17" fill="#6A4C50" opacity="0.9" transform="rotate(37 935 886)"/>
<ellipse cx="596" cy="884" rx="30" ry="16" fill="#B09080" opacity="0.9" transform="rotate(40 596 884)"/>
<ellipse cx="61" cy="1025" rx="19" ry="9" fill="#D8C8C8" opacity="0.9" transform="rotate(-26 61 1025)"/>
<ellipse cx="627" cy="921" rx="29" ry="12" fill="#D8C8C8" opacity="0.9" transform="rotate(-6 627 921)"/>
<ellipse cx="50" cy="1260" rx="23" ry="17" fill="#D8C8C8" opacity="0.9" transform="rotate(-18 50 1260)"/>
<ellipse cx="274" cy="902" rx="34" ry="8" fill="#8A6A70" opacity="0.9" transform="rotate(-7 274 902)"/>
<ellipse cx="1056" cy="1169" rx="26" ry="13" fill="#D8C8C8" opacity="0.9" transform="rotate(0 1056 1169)"/>
<ellipse cx="541" cy="882" rx="16" ry="15" fill="#D8C8C8" opacity="0.9" transform="rotate(-27 541 882)"/>
<ellipse cx="27" cy="1142" rx="39" ry="10" fill="#6A4C50" opacity="0.9" transform="rotate(22 27 1142)"/>
<ellipse cx="1124" cy="827" rx="20" ry="19" fill="#E0D8D8" opacity="0.9" transform="rotate(4 1124 827)"/>
<ellipse cx="161" cy="1039" rx="18" ry="16" fill="#C8B0B0" opacity="0.9" transform="rotate(10 161 1039)"/>
<ellipse cx="622" cy="1184" rx="38" ry="11" fill="#9A8088" opacity="0.9" transform="rotate(-39 622 1184)"/>
<ellipse cx="1187" cy="965" rx="20" ry="9" fill="#D8C8C8" opacity="0.9" transform="rotate(-24 1187 965)"/>
<ellipse cx="258" cy="1016" rx="37" ry="12" fill="#8A6A70" opacity="0.9" transform="rotate(19 258 1016)"/>
<ellipse cx="115" cy="1136" rx="36" ry="10" fill="#8A6A70" opacity="0.9" transform="rotate(18 115 1136)"/>
<ellipse cx="2" cy="1197" rx="38" ry="17" fill="#8A6A70" opacity="0.9" transform="rotate(26 2 1197)"/>
<ellipse cx="88" cy="917" rx="22" ry="12" fill="#8A6A70" opacity="0.9" transform="rotate(-23 88 917)"/>
<ellipse cx="250" cy="1183" rx="26" ry="11" fill="#6A4C50" opacity="0.9" transform="rotate(3 250 1183)"/>
<ellipse cx="494" cy="1150" rx="19" ry="19" fill="#9A8088" opacity="0.9" transform="rotate(-15 494 1150)"/>
<ellipse cx="831" cy="816" rx="33" ry="18" fill="#D8C8C8" opacity="0.9" transform="rotate(22 831 816)"/>
<ellipse cx="297" cy="1270" rx="29" ry="8" fill="#E0D8D8" opacity="0.9" transform="rotate(30 297 1270)"/>
<ellipse cx="430" cy="860" rx="15" ry="17" fill="#B09080" opacity="0.9" transform="rotate(9 430 860)"/>
<ellipse cx="85" cy="1372" rx="22" ry="14" fill="#9A8088" opacity="0.9" transform="rotate(22 85 1372)"/>
<ellipse cx="547" cy="1284" rx="14" ry="17" fill="#7A5A60" opacity="0.9" transform="rotate(-10 547 1284)"/>
<ellipse cx="1068" cy="937" rx="19" ry="14" fill="#9A8088" opacity="0.9" transform="rotate(-2 1068 937)"/>
<ellipse cx="871" cy="1259" rx="23" ry="15" fill="#9A8088" opacity="0.9" transform="rotate(3 871 1259)"/>
<ellipse cx="13" cy="793" rx="19" ry="20" fill="#5A4044" opacity="0.9" transform="rotate(-31 13 793)"/>
<ellipse cx="1083" cy="864" rx="22" ry="12" fill="#5A4044" opacity="0.9" transform="rotate(-40 1083 864)"/>
<ellipse cx="277" cy="976" rx="39" ry="9" fill="#A88C90" opacity="0.9" transform="rotate(-10 277 976)"/>
<ellipse cx="134" cy="1275" rx="23" ry="14" fill="#7A5A60" opacity="0.9" transform="rotate(-39 134 1275)"/>
<ellipse cx="575" cy="1048" rx="33" ry="9" fill="#9A8088" opacity="0.9" transform="rotate(21 575 1048)"/>
<ellipse cx="832" cy="883" rx="21" ry="16" fill="#6A4C50" opacity="0.9" transform="rotate(-38 832 883)"/>
<ellipse cx="263" cy="1247" rx="17" ry="19" fill="#A88C90" opacity="0.9" transform="rotate(18 263 1247)"/>
<ellipse cx="408" cy="1056" rx="22" ry="12" fill="#E0D8D8" opacity="0.9" transform="rotate(36 408 1056)"/>
<ellipse cx="1075" cy="1238" rx="20" ry="15" fill="#A88C90" opacity="0.9" transform="rotate(-30 1075 1238)"/>
<ellipse cx="1059" cy="1056" rx="25" ry="14" fill="#9A8088" opacity="0.9" transform="rotate(10 1059 1056)"/>
<ellipse cx="1143" cy="955" rx="16" ry="17" fill="#5A4044" opacity="0.9" transform="rotate(4 1143 955)"/>
<ellipse cx="417" cy="1312" rx="28" ry="16" fill="#8A6A70" opacity="0.9" transform="rotate(-15 417 1312)"/>
<ellipse cx="420" cy="1283" rx="22" ry="9" fill="#C8B0B0" opacity="0.9" transform="rotate(34 420 1283)"/>
<ellipse cx="912" cy="1161" rx="39" ry="14" fill="#D8C8C8" opacity="0.9" transform="rotate(26 912 1161)"/>
<ellipse cx="1152" cy="1184" rx="30" ry="12" fill="#A88C90" opacity="0.9" transform="rotate(36 1152 1184)"/>
<ellipse cx="812" cy="1065" rx="21" ry="19" fill="#E0D8D8" opacity="0.9" transform="rotate(3 812 1065)"/>
<ellipse cx="931" cy="1291" rx="36" ry="20" fill="#8A6A70" opacity="0.9" transform="rotate(-33 931 1291)"/>
<ellipse cx="864" cy="1316" rx="24" ry="10" fill="#7A5A60" opacity="0.9" transform="rotate(28 864 1316)"/>
<ellipse cx="893" cy="1420" rx="21" ry="20" fill="#E0D8D8" opacity="0.9" transform="rotate(35 893 1420)"/>
<ellipse cx="781" cy="909" rx="17" ry="12" fill="#E0D8D8" opacity="0.9" transform="rotate(-25 781 909)"/>
<ellipse cx="646" cy="812" rx="25" ry="14" fill="#B09080" opacity="0.9" transform="rotate(-36 646 812)"/>
<ellipse cx="987" cy="966" rx="19" ry="14" fill="#5A4044" opacity="0.9" transform="rotate(5 987 966)"/>
<ellipse cx="388" cy="1437" rx="23" ry="9" fill="#7A5A60" opacity="0.9" transform="rotate(4 388 1437)"/>
<ellipse cx="454" cy="1120" rx="35" ry="10" fill="#B09080" opacity="0.9" transform="rotate(-2 454 1120)"/>
<ellipse cx="408" cy="861" rx="29" ry="11" fill="#B09080" opacity="0.9" transform="rotate(17 408 861)"/>
<ellipse cx="793" cy="784" rx="20" ry="20" fill="#9A8088" opacity="0.9" transform="rotate(-29 793 784)"/>
<ellipse cx="357" cy="917" rx="29" ry="10" fill="#B09080" opacity="0.9" transform="rotate(-6 357 917)"/>
<ellipse cx="877" cy="781" rx="36" ry="19" fill="#D8C8C8" opacity="0.9" transform="rotate(16 877 781)"/>
<ellipse cx="772" cy="1431" rx="25" ry="12" fill="#5A4044" opacity="0.9" transform="rotate(-39 772 1431)"/>
<ellipse cx="1204" cy="1306" rx="33" ry="13" fill="#D8C8C8" opacity="0.9" transform="rotate(30 1204 1306)"/>
<ellipse cx="950" cy="1227" rx="15" ry="11" fill="#D8C8C8" opacity="0.9" transform="rotate(-11 950 1227)"/>
<ellipse cx="537" cy="1215" rx="33" ry="19" fill="#D8C8C8" opacity="0.9" transform="rotate(16 537 1215)"/>
<ellipse cx="446" cy="1100" rx="24" ry="12" fill="#D8C8C8" opacity="0.9" transform="rotate(9 446 1100)"/>
<ellipse cx="285" cy="1366" rx="20" ry="10" fill="#A88C90" opacity="0.9" transform="rotate(-19 285 1366)"/>
<ellipse cx="172" cy="1359" rx="29" ry="18" fill="#9A8088" opacity="0.9" transform="rotate(31 172 1359)"/>
<ellipse cx="206" cy="1327" rx="40" ry="17" fill="#5A4044" opacity="0.9" transform="rotate(-9 206 1327)"/>
<ellipse cx="258" cy="1203" rx="37" ry="16" fill="#8A6A70" opacity="0.9" transform="rotate(-11 258 1203)"/>
<ellipse cx="990" cy="924" rx="31" ry="17" fill="#D8C8C8" opacity="0.9" transform="rotate(-28 990 924)"/>
<ellipse cx="430" cy="793" rx="37" ry="17" fill="#B09080" opacity="0.9" transform="rotate(-18 430 793)"/>
<ellipse cx="243" cy="1258" rx="31" ry="11" fill="#D8C8C8" opacity="0.9" transform="rotate(18 243 1258)"/>
<ellipse cx="654" cy="1005" rx="21" ry="11" fill="#E0D8D8" opacity="0.9" transform="rotate(32 654 1005)"/>
<ellipse cx="148" cy="1268" rx="29" ry="19" fill="#9A8088" opacity="0.9" transform="rotate(13 148 1268)"/>
<ellipse cx="725" cy="1345" rx="39" ry="18" fill="#A88C90" opacity="0.9" transform="rotate(4 725 1345)"/>
<ellipse cx="1173" cy="961" rx="17" ry="14" fill="#B09080" opacity="0.9" transform="rotate(-19 1173 961)"/>
<ellipse cx="1165" cy="1311" rx="34" ry="16" fill="#7A5A60" opacity="0.9" transform="rotate(-19 1165 1311)"/>
<ellipse cx="300" cy="1219" rx="34" ry="17" fill="#E0D8D8" opacity="0.9" transform="rotate(-33 300 1219)"/>
<ellipse cx="1024" cy="749" rx="31" ry="18" fill="#E0D8D8" opacity="0.9" transform="rotate(5 1024 749)"/>
<ellipse cx="541" cy="822" rx="22" ry="18" fill="#D8C8C8" opacity="0.9" transform="rotate(-12 541 822)"/>
<ellipse cx="1121" cy="1024" rx="26" ry="10" fill="#6A4C50" opacity="0.9" transform="rotate(15 1121 1024)"/>
<ellipse cx="547" cy="1258" rx="28" ry="18" fill="#5A4044" opacity="0.9" transform="rotate(7 547 1258)"/>
<ellipse cx="435" cy="1277" rx="29" ry="16" fill="#8A6A70" opacity="0.9" transform="rotate(-14 435 1277)"/>
<ellipse cx="509" cy="1443" rx="14" ry="10" fill="#E0D8D8" opacity="0.9" transform="rotate(-22 509 1443)"/>
<ellipse cx="991" cy="882" rx="28" ry="9" fill="#C8B0B0" opacity="0.9" transform="rotate(-8 991 882)"/>
<ellipse cx="629" cy="757" rx="35" ry="10" fill="#6A4C50" opacity="0.9" transform="rotate(23 629 757)"/>
<ellipse cx="519" cy="898" rx="16" ry="9" fill="#A88C90" opacity="0.9" transform="rotate(18 519 898)"/>
<ellipse cx="842" cy="1341" rx="26" ry="9" fill="#C8B0B0" opacity="0.9" transform="rotate(-12 842 1341)"/>
<ellipse cx="1106" cy="1095" rx="18" ry="11" fill="#C8B0B0" opacity="0.9" transform="rotate(-1 1106 1095)"/>
<ellipse cx="506" cy="1217" rx="30" ry="18" fill="#8A6A70" opacity="0.9" transform="rotate(-12 506 1217)"/>
<ellipse cx="86" cy="862" rx="15" ry="9" fill="#E0D8D8" opacity="0.9" transform="rotate(23 86 862)"/>
<ellipse cx="1098" cy="1347" rx="28" ry="19" fill="#C8B0B0" opacity="0.9" transform="rotate(16 1098 1347)"/>
<ellipse cx="697" cy="1042" rx="22" ry="13" fill="#A88C90" opacity="0.9" transform="rotate(0 697 1042)"/>
<ellipse cx="295" cy="1028" rx="30" ry="15" fill="#E0D8D8" opacity="0.9" transform="rotate(-27 295 1028)"/>
<ellipse cx="827" cy="1365" rx="21" ry="10" fill="#9A8088" opacity="0.9" transform="rotate(24 827 1365)"/>
<ellipse cx="1112" cy="1306" rx="15" ry="13" fill="#D8C8C8" opacity="0.9" transform="rotate(27 1112 1306)"/>
<ellipse cx="680" cy="1355" rx="16" ry="19" fill="#C8B0B0" opacity="0.9" transform="rotate(-38 680 1355)"/>
<ellipse cx="1212" cy="908" rx="35" ry="19" fill="#E0D8D8" opacity="0.9" transform="rotate(-2 1212 908)"/>
<ellipse cx="873" cy="947" rx="35" ry="12" fill="#6A4C50" opacity="0.9" transform="rotate(6 873 947)"/>
<ellipse cx="26" cy="994" rx="16" ry="11" fill="#A88C90" opacity="0.9" transform="rotate(-38 26 994)"/>
<ellipse cx="352" cy="1243" rx="30" ry="18" fill="#7A5A60" opacity="0.9" transform="rotate(26 352 1243)"/>
<ellipse cx="893" cy="1013" rx="23" ry="18" fill="#5A4044" opacity="0.9" transform="rotate(-12 893 1013)"/>
<ellipse cx="812" cy="788" rx="22" ry="17" fill="#E0D8D8" opacity="0.9" transform="rotate(-10 812 788)"/>
<ellipse cx="487" cy="799" rx="20" ry="16" fill="#E0D8D8" opacity="0.9" transform="rotate(37 487 799)"/>
<ellipse cx="486" cy="1422" rx="37" ry="17" fill="#E0D8D8" opacity="0.9" transform="rotate(4 486 1422)"/>
<ellipse cx="394" cy="915" rx="27" ry="15" fill="#8A6A70" opacity="0.9" transform="rotate(-3 394 915)"/>
<ellipse cx="825" cy="1385" rx="18" ry="16" fill="#C8B0B0" opacity="0.9" transform="rotate(13 825 1385)"/>
<ellipse cx="705" cy="911" rx="39" ry="12" fill="#9A8088" opacity="0.9" transform="rotate(16 705 911)"/>
<ellipse cx="740" cy="1022" rx="27" ry="12" fill="#7A5A60" opacity="0.9" transform="rotate(-8 740 1022)"/>
<ellipse cx="476" cy="1420" rx="33" ry="15" fill="#6A4C50" opacity="0.9" transform="rotate(19 476 1420)"/>
<ellipse cx="1099" cy="797" rx="30" ry="11" fill="#D8C8C8" opacity="0.9" transform="rotate(-3 1099 797)"/>
<ellipse cx="121" cy="904" rx="32" ry="18" fill="#E0D8D8" opacity="0.9" transform="rotate(-27 121 904)"/>
<ellipse cx="135" cy="1009" rx="19" ry="13" fill="#7A5A60" opacity="0.9" transform="rotate(-38 135 1009)"/>
<ellipse cx="1096" cy="1437" rx="16" ry="15" fill="#5A4044" opacity="0.9" transform="rotate(-25 1096 1437)"/>
<ellipse cx="53" cy="1079" rx="24" ry="18" fill="#9A8088" opacity="0.9" transform="rotate(29 53 1079)"/>
<ellipse cx="538" cy="750" rx="24" ry="18" fill="#A88C90" opacity="0.9" transform="rotate(-4 538 750)"/>
<ellipse cx="305" cy="1332" rx="31" ry="9" fill="#C8B0B0" opacity="0.9" transform="rotate(6 305 1332)"/>
<ellipse cx="1135" cy="1385" rx="30" ry="12" fill="#B09080" opacity="0.9" transform="rotate(11 1135 1385)"/>
<ellipse cx="811" cy="1156" rx="23" ry="8" fill="#7A5A60" opacity="0.9" transform="rotate(-10 811 1156)"/>
<ellipse cx="894" cy="1377" rx="38" ry="8" fill="#5A4044" opacity="0.9" transform="rotate(-20 894 1377)"/>
<ellipse cx="402" cy="1077" rx="30" ry="8" fill="#7A5A60" opacity="0.9" transform="rotate(28 402 1077)"/>
<ellipse cx="378" cy="1395" rx="18" ry="13" fill="#9A8088" opacity="0.9" transform="rotate(-28 378 1395)"/>
<ellipse cx="947" cy="808" rx="37" ry="11" fill="#6A4C50" opacity="0.9" transform="rotate(-39 947 808)"/>
<ellipse cx="864" cy="962" rx="15" ry="11" fill="#9A8088" opacity="0.9" transform="rotate(-34 864 962)"/>
<ellipse cx="139" cy="1204" rx="24" ry="18" fill="#8A6A70" opacity="0.9" transform="rotate(26 139 1204)"/>
<ellipse cx="214" cy="1413" rx="24" ry="12" fill="#B09080" opacity="0.9" transform="rotate(-32 214 1413)"/>
<ellipse cx="1092" cy="1054" rx="36" ry="12" fill="#B09080" opacity="0.9" transform="rotate(-33 1092 1054)"/>
<ellipse cx="1198" cy="1073" rx="30" ry="14" fill="#5A4044" opacity="0.9" transform="rotate(0 1198 1073)"/>
<ellipse cx="497" cy="876" rx="37" ry="15" fill="#6A4C50" opacity="0.9" transform="rotate(-20 497 876)"/>
<ellipse cx="1140" cy="883" rx="39" ry="17" fill="#C8B0B0" opacity="0.9" transform="rotate(23 1140 883)"/>
<ellipse cx="657" cy="1239" rx="19" ry="16" fill="#C8B0B0" opacity="0.9" transform="rotate(-14 657 1239)"/>
<ellipse cx="1161" cy="908" rx="24" ry="8" fill="#C8B0B0" opacity="0.9" transform="rotate(23 1161 908)"/>
<ellipse cx="1163" cy="774" rx="40" ry="12" fill="#7A5A60" opacity="0.9" transform="rotate(3 1163 774)"/>
<ellipse cx="421" cy="1148" rx="40" ry="18" fill="#E0D8D8" opacity="0.9" transform="rotate(29 421 1148)"/>
<ellipse cx="884" cy="878" rx="29" ry="14" fill="#5A4044" opacity="0.9" transform="rotate(5 884 878)"/>
<ellipse cx="382" cy="880" rx="35" ry="14" fill="#B09080" opacity="0.9" transform="rotate(-31 382 880)"/>
<ellipse cx="622" cy="869" rx="15" ry="9" fill="#C8B0B0" opacity="0.9" transform="rotate(9 622 869)"/>
<ellipse cx="4" cy="907" rx="37" ry="10" fill="#B09080" opacity="0.9" transform="rotate(-5 4 907)"/>
<ellipse cx="161" cy="845" rx="40" ry="15" fill="#9A8088" opacity="0.9" transform="rotate(1 161 845)"/>
<ellipse cx="874" cy="1361" rx="37" ry="9" fill="#D8C8C8" opacity="0.9" transform="rotate(-7 874 1361)"/>
<ellipse cx="1068" cy="1146" rx="29" ry="17" fill="#5A4044" opacity="0.9" transform="rotate(28 1068 1146)"/>
<ellipse cx="644" cy="1086" rx="36" ry="11" fill="#5A4044" opacity="0.9" transform="rotate(-17 644 1086)"/>
<ellipse cx="998" cy="795" rx="17" ry="13" fill="#A88C90" opacity="0.9" transform="rotate(23 998 795)"/>
<ellipse cx="1185" cy="1252" rx="36" ry="13" fill="#C8B0B0" opacity="0.9" transform="rotate(-18 1185 1252)"/>
<ellipse cx="779" cy="1236" rx="24" ry="8" fill="#A88C90" opacity="0.9" transform="rotate(27 779 1236)"/>
<ellipse cx="694" cy="941" rx="18" ry="18" fill="#5A4044" opacity="0.9" transform="rotate(-39 694 941)"/>
<ellipse cx="924" cy="863" rx="30" ry="9" fill="#8A6A70" opacity="0.9" transform="rotate(-39 924 863)"/>
<ellipse cx="512" cy="1228" rx="34" ry="11" fill="#9A8088" opacity="0.9" transform="rotate(-14 512 1228)"/>
<ellipse cx="631" cy="923" rx="15" ry="15" fill="#B09080" opacity="0.9" transform="rotate(5 631 923)"/>
<ellipse cx="1016" cy="1161" rx="26" ry="15" fill="#E0D8D8" opacity="0.9" transform="rotate(15 1016 1161)"/>
<ellipse cx="29" cy="1338" rx="32" ry="10" fill="#7A5A60" opacity="0.9" transform="rotate(-13 29 1338)"/>
<ellipse cx="109" cy="1324" rx="25" ry="13" fill="#5A4044" opacity="0.9" transform="rotate(-10 109 1324)"/>
<ellipse cx="122" cy="1149" rx="18" ry="19" fill="#5A4044" opacity="0.9" transform="rotate(-32 122 1149)"/>
<ellipse cx="556" cy="948" rx="16" ry="11" fill="#7A5A60" opacity="0.9" transform="rotate(-36 556 948)"/>
<ellipse cx="537" cy="1384" rx="18" ry="11" fill="#B09080" opacity="0.9" transform="rotate(-24 537 1384)"/>
<ellipse cx="466" cy="1192" rx="28" ry="15" fill="#A88C90" opacity="0.9" transform="rotate(-17 466 1192)"/>
<ellipse cx="728" cy="1250" rx="24" ry="12" fill="#E0D8D8" opacity="0.9" transform="rotate(17 728 1250)"/>
<ellipse cx="737" cy="1333" rx="27" ry="10" fill="#D8C8C8" opacity="0.9" transform="rotate(-20 737 1333)"/>
<ellipse cx="1030" cy="988" rx="40" ry="14" fill="#8A6A70" opacity="0.9" transform="rotate(21 1030 988)"/>
<ellipse cx="323" cy="1415" rx="14" ry="8" fill="#8A6A70" opacity="0.9" transform="rotate(-4 323 1415)"/>
<ellipse cx="395" cy="1200" rx="38" ry="10" fill="#D8C8C8" opacity="0.9" transform="rotate(16 395 1200)"/>
<ellipse cx="432" cy="819" rx="38" ry="17" fill="#C8B0B0" opacity="0.9" transform="rotate(11 432 819)"/>
<ellipse cx="1223" cy="1134" rx="31" ry="18" fill="#7A5A60" opacity="0.9" transform="rotate(28 1223 1134)"/>
<ellipse cx="380" cy="887" rx="22" ry="12" fill="#9A8088" opacity="0.9" transform="rotate(11 380 887)"/>
<ellipse cx="980" cy="991" rx="28" ry="16" fill="#E0D8D8" opacity="0.9" transform="rotate(-24 980 991)"/>
<ellipse cx="1010" cy="830" rx="33" ry="13" fill="#5A4044" opacity="0.9" transform="rotate(-11 1010 830)"/>
<ellipse cx="1101" cy="1065" rx="37" ry="13" fill="#6A4C50" opacity="0.9" transform="rotate(-5 1101 1065)"/>
<ellipse cx="923" cy="1170" rx="23" ry="19" fill="#7A5A60" opacity="0.9" transform="rotate(-11 923 1170)"/>
<ellipse cx="934" cy="853" rx="15" ry="9" fill="#6A4C50" opacity="0.9" transform="rotate(-17 934 853)"/>
<ellipse cx="564" cy="1068" rx="14" ry="18" fill="#B09080" opacity="0.9" transform="rotate(29 564 1068)"/>
<ellipse cx="256" cy="1151" rx="22" ry="17" fill="#7A5A60" opacity="0.9" transform="rotate(-10 256 1151)"/>
<ellipse cx="753" cy="967" rx="34" ry="10" fill="#B09080" opacity="0.9" transform="rotate(21 753 967)"/>
<ellipse cx="1178" cy="908" rx="27" ry="17" fill="#8A6A70" opacity="0.9" transform="rotate(-23 1178 908)"/>
<ellipse cx="1248" cy="787" rx="33" ry="13" fill="#5A4044" opacity="0.9" transform="rotate(13 1248 787)"/>
<ellipse cx="166" cy="1324" rx="25" ry="13" fill="#6A4C50" opacity="0.9" transform="rotate(-3 166 1324)"/>
<ellipse cx="296" cy="1085" rx="16" ry="11" fill="#5A4044" opacity="0.9" transform="rotate(-10 296 1085)"/>
<ellipse cx="29" cy="1055" rx="39" ry="16" fill="#D8C8C8" opacity="0.9" transform="rotate(17 29 1055)"/>
<ellipse cx="63" cy="819" rx="34" ry="19" fill="#7A5A60" opacity="0.9" transform="rotate(-6 63 819)"/>
<ellipse cx="42" cy="962" rx="30" ry="16" fill="#A88C90" opacity="0.9" transform="rotate(-11 42 962)"/>
<ellipse cx="1168" cy="1222" rx="23" ry="14" fill="#9A8088" opacity="0.9" transform="rotate(7 1168 1222)"/>
<ellipse cx="1179" cy="790" rx="28" ry="13" fill="#5A4044" opacity="0.9" transform="rotate(3 1179 790)"/>
<ellipse cx="554" cy="804" rx="22" ry="12" fill="#A88C90" opacity="0.9" transform="rotate(29 554 804)"/>
<ellipse cx="393" cy="1164" rx="22" ry="11" fill="#C8B0B0" opacity="0.9" transform="rotate(-20 393 1164)"/>
<ellipse cx="906" cy="1063" rx="27" ry="18" fill="#C8B0B0" opacity="0.9" transform="rotate(-20 906 1063)"/>
<ellipse cx="1030" cy="801" rx="31" ry="18" fill="#E0D8D8" opacity="0.9" transform="rotate(-16 1030 801)"/>
<ellipse cx="1087" cy="1407" rx="18" ry="19" fill="#9A8088" opacity="0.9" transform="rotate(21 1087 1407)"/>
<ellipse cx="658" cy="1259" rx="27" ry="14" fill="#9A8088" opacity="0.9" transform="rotate(-31 658 1259)"/>
<ellipse cx="748" cy="1449" rx="28" ry="14" fill="#8A6A70" opacity="0.9" transform="rotate(-7 748 1449)"/>
<ellipse cx="750" cy="998" rx="24" ry="17" fill="#E0D8D8" opacity="0.9" transform="rotate(25 750 998)"/>
<ellipse cx="469" cy="1276" rx="26" ry="17" fill="#D8C8C8" opacity="0.9" transform="rotate(-10 469 1276)"/>
<ellipse cx="463" cy="1332" rx="23" ry="9" fill="#A88C90" opacity="0.9" transform="rotate(2 463 1332)"/>
<ellipse cx="581" cy="930" rx="28" ry="12" fill="#B09080" opacity="0.9" transform="rotate(28 581 930)"/>
<ellipse cx="547" cy="1103" rx="25" ry="10" fill="#E0D8D8" opacity="0.9" transform="rotate(36 547 1103)"/>
<ellipse cx="940" cy="1127" rx="32" ry="19" fill="#7A5A60" opacity="0.9" transform="rotate(-38 940 1127)"/>
<ellipse cx="551" cy="1127" rx="17" ry="20" fill="#6A4C50" opacity="0.9" transform="rotate(-10 551 1127)"/>
<ellipse cx="1248" cy="1286" rx="35" ry="15" fill="#5A4044" opacity="0.9" transform="rotate(-32 1248 1286)"/>
<ellipse cx="598" cy="1307" rx="28" ry="17" fill="#7A5A60" opacity="0.9" transform="rotate(26 598 1307)"/>
<ellipse cx="1043" cy="945" rx="39" ry="15" fill="#7A5A60" opacity="0.9" transform="rotate(-39 1043 945)"/>
<ellipse cx="236" cy="1202" rx="24" ry="16" fill="#D8C8C8" opacity="0.9" transform="rotate(-4 236 1202)"/>
<ellipse cx="723" cy="963" rx="32" ry="19" fill="#5A4044" opacity="0.9" transform="rotate(32 723 963)"/>
<ellipse cx="330" cy="1096" rx="36" ry="15" fill="#6A4C50" opacity="0.9" transform="rotate(-9 330 1096)"/>
<ellipse cx="999" cy="900" rx="35" ry="8" fill="#D8C8C8" opacity="0.9" transform="rotate(15 999 900)"/>
<ellipse cx="998" cy="1238" rx="35" ry="15" fill="#E0D8D8" opacity="0.9" transform="rotate(29 998 1238)"/>
<ellipse cx="681" cy="817" rx="30" ry="17" fill="#5A4044" opacity="0.9" transform="rotate(-23 681 817)"/>
<ellipse cx="1205" cy="1366" rx="35" ry="14" fill="#6A4C50" opacity="0.9" transform="rotate(1 1205 1366)"/>
<ellipse cx="96" cy="881" rx="20" ry="15" fill="#C8B0B0" opacity="0.9" transform="rotate(-8 96 881)"/>
<ellipse cx="1240" cy="1195" rx="24" ry="8" fill="#A88C90" opacity="0.9" transform="rotate(-2 1240 1195)"/>
<ellipse cx="181" cy="1407" rx="31" ry="18" fill="#B09080" opacity="0.9" transform="rotate(14 181 1407)"/>
<ellipse cx="570" cy="1259" rx="36" ry="12" fill="#9A8088" opacity="0.9" transform="rotate(-7 570 1259)"/>
<ellipse cx="490" cy="1024" rx="39" ry="18" fill="#E0D8D8" opacity="0.9" transform="rotate(-10 490 1024)"/>
<ellipse cx="161" cy="931" rx="19" ry="19" fill="#8A6A70" opacity="0.9" transform="rotate(-19 161 931)"/>
<ellipse cx="862" cy="1232" rx="40" ry="15" fill="#8A6A70" opacity="0.9" transform="rotate(9 862 1232)"/>
<ellipse cx="156" cy="1200" rx="39" ry="11" fill="#C8B0B0" opacity="0.9" transform="rotate(-26 156 1200)"/>
<ellipse cx="634" cy="1163" rx="37" ry="15" fill="#7A5A60" opacity="0.9" transform="rotate(-9 634 1163)"/>
<ellipse cx="26" cy="1271" rx="26" ry="13" fill="#5A4044" opacity="0.9" transform="rotate(-10 26 1271)"/>
<ellipse cx="967" cy="1439" rx="20" ry="12" fill="#9A8088" opacity="0.9" transform="rotate(36 967 1439)"/>
<ellipse cx="104" cy="803" rx="19" ry="19" fill="#6A4C50" opacity="0.9" transform="rotate(8 104 803)"/>
<ellipse cx="1155" cy="892" rx="40" ry="16" fill="#8A6A70" opacity="0.9" transform="rotate(33 1155 892)"/>
<ellipse cx="710" cy="961" rx="21" ry="20" fill="#C8B0B0" opacity="0.9" transform="rotate(-4 710 961)"/>
<ellipse cx="1176" cy="1439" rx="37" ry="18" fill="#8A6A70" opacity="0.9" transform="rotate(25 1176 1439)"/>
<ellipse cx="440" cy="1059" rx="36" ry="15" fill="#9A8088" opacity="0.9" transform="rotate(-10 440 1059)"/>
<ellipse cx="46" cy="1220" rx="23" ry="8" fill="#A88C90" opacity="0.9" transform="rotate(-8 46 1220)"/>
<ellipse cx="1105" cy="864" rx="17" ry="11" fill="#C8B0B0" opacity="0.9" transform="rotate(10 1105 864)"/>
<ellipse cx="128" cy="1062" rx="40" ry="9" fill="#E0D8D8" opacity="0.9" transform="rotate(28 128 1062)"/>
<ellipse cx="49" cy="883" rx="29" ry="15" fill="#7A5A60" opacity="0.9" transform="rotate(5 49 883)"/>
<ellipse cx="925" cy="1230" rx="31" ry="17" fill="#5A4044" opacity="0.9" transform="rotate(-3 925 1230)"/>
<ellipse cx="961" cy="865" rx="19" ry="10" fill="#9A8088" opacity="0.9" transform="rotate(-8 961 865)"/>
<ellipse cx="534" cy="1248" rx="28" ry="13" fill="#9A8088" opacity="0.9" transform="rotate(16 534 1248)"/>
<ellipse cx="1072" cy="1438" rx="39" ry="19" fill="#8A6A70" opacity="0.9" transform="rotate(34 1072 1438)"/>
<ellipse cx="253" cy="1155" rx="20" ry="11" fill="#C8B0B0" opacity="0.9" transform="rotate(-16 253 1155)"/>
<ellipse cx="293" cy="945" rx="32" ry="18" fill="#5A4044" opacity="0.9" transform="rotate(1 293 945)"/>
<ellipse cx="665" cy="1374" rx="24" ry="16" fill="#D8C8C8" opacity="0.9" transform="rotate(19 665 1374)"/>
<ellipse cx="906" cy="1023" rx="23" ry="16" fill="#8A6A70" opacity="0.9" transform="rotate(-28 906 1023)"/>
<ellipse cx="62" cy="951" rx="34" ry="19" fill="#5A4044" opacity="0.9" transform="rotate(38 62 951)"/>
<ellipse cx="143" cy="1230" rx="18" ry="15" fill="#8A6A70" opacity="0.9" transform="rotate(-25 143 1230)"/>
<ellipse cx="273" cy="760" rx="22" ry="18" fill="#5A4044" opacity="0.9" transform="rotate(-23 273 760)"/>
<ellipse cx="27" cy="1016" rx="36" ry="19" fill="#A88C90" opacity="0.9" transform="rotate(12 27 1016)"/>
<ellipse cx="417" cy="864" rx="39" ry="14" fill="#7A5A60" opacity="0.9" transform="rotate(15 417 864)"/>
<ellipse cx="276" cy="873" rx="18" ry="14" fill="#6A4C50" opacity="0.9" transform="rotate(17 276 873)"/>
<ellipse cx="832" cy="1194" rx="25" ry="17" fill="#D8C8C8" opacity="0.9" transform="rotate(13 832 1194)"/>
<ellipse cx="426" cy="859" rx="26" ry="18" fill="#D8C8C8" opacity="0.9" transform="rotate(31 426 859)"/>
<ellipse cx="484" cy="1223" rx="30" ry="13" fill="#C8B0B0" opacity="0.9" transform="rotate(21 484 1223)"/>
<ellipse cx="1076" cy="777" rx="18" ry="20" fill="#6A4C50" opacity="0.9" transform="rotate(39 1076 777)"/>
<ellipse cx="277" cy="947" rx="22" ry="10" fill="#C8B0B0" opacity="0.9" transform="rotate(8 277 947)"/>
<ellipse cx="354" cy="1186" rx="16" ry="10" fill="#B09080" opacity="0.9" transform="rotate(25 354 1186)"/>
<ellipse cx="1065" cy="1247" rx="21" ry="8" fill="#E0D8D8" opacity="0.9" transform="rotate(39 1065 1247)"/>
<ellipse cx="1019" cy="1158" rx="33" ry="9" fill="#5A4044" opacity="0.9" transform="rotate(-26 1019 1158)"/>
<ellipse cx="48" cy="1033" rx="30" ry="16" fill="#C8B0B0" opacity="0.9" transform="rotate(35 48 1033)"/>
<ellipse cx="1027" cy="948" rx="17" ry="17" fill="#8A6A70" opacity="0.9" transform="rotate(37 1027 948)"/>
<ellipse cx="423" cy="1197" rx="33" ry="11" fill="#D8C8C8" opacity="0.9" transform="rotate(-28 423 1197)"/>
<ellipse cx="936" cy="877" rx="30" ry="19" fill="#E0D8D8" opacity="0.9" transform="rotate(3 936 877)"/>
<ellipse cx="611" cy="923" rx="36" ry="14" fill="#A88C90" opacity="0.9" transform="rotate(-29 611 923)"/>
<ellipse cx="1165" cy="1044" rx="29" ry="19" fill="#A88C90" opacity="0.9" transform="rotate(19 1165 1044)"/>
<ellipse cx="324" cy="941" rx="32" ry="11" fill="#B09080" opacity="0.9" transform="rotate(-20 324 941)"/>
<ellipse cx="636" cy="782" rx="23" ry="16" fill="#C8B0B0" opacity="0.9" transform="rotate(-3 636 782)"/>
<ellipse cx="932" cy="1229" rx="26" ry="17" fill="#6A4C50" opacity="0.9" transform="rotate(-21 932 1229)"/>
<ellipse cx="1248" cy="1214" rx="16" ry="10" fill="#9A8088" opacity="0.9" transform="rotate(-34 1248 1214)"/>
<ellipse cx="400" cy="809" rx="20" ry="12" fill="#C8B0B0" opacity="0.9" transform="rotate(-28 400 809)"/>
<ellipse cx="354" cy="1097" rx="29" ry="10" fill="#C8B0B0" opacity="0.9" transform="rotate(16 354 1097)"/>
<ellipse cx="77" cy="1319" rx="31" ry="11" fill="#D8C8C8" opacity="0.9" transform="rotate(35 77 1319)"/>
<ellipse cx="620" cy="1252" rx="17" ry="9" fill="#7A5A60" opacity="0.9" transform="rotate(25 620 1252)"/>
<ellipse cx="1024" cy="1048" rx="29" ry="9" fill="#A88C90" opacity="0.9" transform="rotate(13 1024 1048)"/>
<ellipse cx="304" cy="761" rx="35" ry="8" fill="#5A4044" opacity="0.9" transform="rotate(20 304 761)"/>
<ellipse cx="1223" cy="1356" rx="38" ry="15" fill="#7A5A60" opacity="0.9" transform="rotate(28 1223 1356)"/>
<ellipse cx="308" cy="1223" rx="34" ry="16" fill="#A88C90" opacity="0.9" transform="rotate(11 308 1223)"/>
<ellipse cx="110" cy="1096" rx="19" ry="11" fill="#A88C90" opacity="0.9" transform="rotate(-21 110 1096)"/>
<ellipse cx="359" cy="1304" rx="29" ry="18" fill="#B09080" opacity="0.9" transform="rotate(15 359 1304)"/>
<ellipse cx="707" cy="1272" rx="36" ry="13" fill="#9A8088" opacity="0.9" transform="rotate(-8 707 1272)"/>
<ellipse cx="565" cy="1440" rx="36" ry="12" fill="#E0D8D8" opacity="0.9" transform="rotate(14 565 1440)"/>
<ellipse cx="461" cy="834" rx="18" ry="14" fill="#8A6A70" opacity="0.9" transform="rotate(17 461 834)"/>
<ellipse cx="336" cy="928" rx="23" ry="13" fill="#9A8088" opacity="0.9" transform="rotate(-38 336 928)"/>
<ellipse cx="244" cy="1132" rx="24" ry="8" fill="#E0D8D8" opacity="0.9" transform="rotate(-21 244 1132)"/>
<ellipse cx="244" cy="1282" rx="35" ry="18" fill="#8A6A70" opacity="0.9" transform="rotate(7 244 1282)"/>
<ellipse cx="1066" cy="1345" rx="37" ry="11" fill="#9A8088" opacity="0.9" transform="rotate(-31 1066 1345)"/>
<ellipse cx="1136" cy="1367" rx="20" ry="11" fill="#9A8088" opacity="0.9" transform="rotate(-26 1136 1367)"/>
<ellipse cx="735" cy="1204" rx="27" ry="18" fill="#B09080" opacity="0.9" transform="rotate(36 735 1204)"/>
<ellipse cx="894" cy="805" rx="20" ry="17" fill="#5A4044" opacity="0.9" transform="rotate(17 894 805)"/>
<ellipse cx="171" cy="1440" rx="33" ry="12" fill="#7A5A60" opacity="0.9" transform="rotate(37 171 1440)"/>
<ellipse cx="552" cy="1192" rx="36" ry="10" fill="#D8C8C8" opacity="0.9" transform="rotate(-30 552 1192)"/>
<ellipse cx="262" cy="825" rx="28" ry="14" fill="#6A4C50" opacity="0.9" transform="rotate(-10 262 825)"/>
<ellipse cx="621" cy="1050" rx="25" ry="18" fill="#C8B0B0" opacity="0.9" transform="rotate(28 621 1050)"/>
<ellipse cx="1085" cy="1272" rx="16" ry="13" fill="#C8B0B0" opacity="0.9" transform="rotate(-34 1085 1272)"/>
<ellipse cx="757" cy="989" rx="35" ry="12" fill="#9A8088" opacity="0.9" transform="rotate(-11 757 989)"/>
<ellipse cx="1022" cy="803" rx="19" ry="10" fill="#A88C90" opacity="0.9" transform="rotate(-4 1022 803)"/>
<ellipse cx="819" cy="843" rx="37" ry="19" fill="#B09080" opacity="0.9" transform="rotate(24 819 843)"/>
<ellipse cx="93" cy="999" rx="22" ry="12" fill="#7A5A60" opacity="0.9" transform="rotate(3 93 999)"/>
<ellipse cx="1106" cy="1267" rx="21" ry="12" fill="#5A4044" opacity="0.9" transform="rotate(-4 1106 1267)"/>
<ellipse cx="244" cy="748" rx="23" ry="14" fill="#D8C8C8" opacity="0.9" transform="rotate(-39 244 748)"/>
<ellipse cx="338" cy="892" rx="22" ry="13" fill="#A88C90" opacity="0.9" transform="rotate(24 338 892)"/>
<ellipse cx="800" cy="1143" rx="21" ry="15" fill="#8A6A70" opacity="0.9" transform="rotate(31 800 1143)"/>
<ellipse cx="650" cy="987" rx="24" ry="11" fill="#C8B0B0" opacity="0.9" transform="rotate(15 650 987)"/>
<ellipse cx="234" cy="1436" rx="15" ry="15" fill="#8A6A70" opacity="0.9" transform="rotate(15 234 1436)"/>
<ellipse cx="52" cy="1212" rx="29" ry="16" fill="#B09080" opacity="0.9" transform="rotate(-36 52 1212)"/>
<ellipse cx="46" cy="931" rx="26" ry="18" fill="#7A5A60" opacity="0.9" transform="rotate(17 46 931)"/>
<ellipse cx="341" cy="1056" rx="27" ry="14" fill="#5A4044" opacity="0.9" transform="rotate(18 341 1056)"/>
<ellipse cx="185" cy="1066" rx="16" ry="18" fill="#9A8088" opacity="0.9" transform="rotate(28 185 1066)"/>
<ellipse cx="1029" cy="1363" rx="17" ry="17" fill="#7A5A60" opacity="0.9" transform="rotate(37 1029 1363)"/>
<ellipse cx="700" cy="1031" rx="38" ry="15" fill="#B09080" opacity="0.9" transform="rotate(-11 700 1031)"/>
<ellipse cx="747" cy="905" rx="20" ry="16" fill="#8A6A70" opacity="0.9" transform="rotate(-40 747 905)"/>
<ellipse cx="442" cy="1138" rx="22" ry="9" fill="#C8B0B0" opacity="0.9" transform="rotate(37 442 1138)"/>
<ellipse cx="14" cy="1037" rx="34" ry="16" fill="#9A8088" opacity="0.9" transform="rotate(8 14 1037)"/>
<ellipse cx="375" cy="1048" rx="36" ry="10" fill="#C8B0B0" opacity="0.9" transform="rotate(23 375 1048)"/>
<ellipse cx="743" cy="1331" rx="38" ry="11" fill="#A88C90" opacity="0.9" transform="rotate(36 743 1331)"/>
<ellipse cx="356" cy="1249" rx="26" ry="19" fill="#7A5A60" opacity="0.9" transform="rotate(-8 356 1249)"/>
<ellipse cx="546" cy="1395" rx="18" ry="13" fill="#E0D8D8" opacity="0.9" transform="rotate(-2 546 1395)"/>
<path d="M0.0 1010.0 C25.0 991.7 100.0 990.0 150.0 990.0 C200.0 990.0 278.3 996.7 300.0 1010.0 C321.7 1023.3 313.3 1055.0 280.0 1070.0 C246.7 1085.0 146.7 1095.0 100.0 1100.0 C53.3 1105.0 16.7 1115.0 0.0 1100.0 C-16.7 1085.0 -25.0 1028.3 0.0 1010.0 Z" fill="#28B820" filter="url(#p2b)"/>
<ellipse cx="680" cy="960" rx="30" ry="18" fill="#D8C040"/>
<ellipse cx="880" cy="1020" rx="30" ry="18" fill="#D8C040"/>
<ellipse cx="300" cy="880" rx="30" ry="18" fill="#D8C040"/>
<ellipse cx="900" cy="1070" rx="30" ry="18" fill="#D8C040"/>
</g>
<path d="M0.0 480.0 C33.3 466.7 133.3 420.0 200.0 400.0 C266.7 380.0 340.0 368.3 400.0 360.0 C460.0 351.7 510.0 360.0 560.0 350.0 C610.0 340.0 651.7 325.0 700.0 300.0 C748.3 275.0 808.3 230.0 850.0 200.0 C891.7 170.0 925.0 146.7 950.0 120.0 C975.0 93.3 991.7 53.3 1000.0 40.0" fill="none" stroke="#B8B0A8" stroke-width="10" stroke-linecap="round" opacity="0.9"/>
<path d="M0.0 380.0 C25.0 376.7 100.0 361.7 150.0 360.0 C200.0 358.3 241.7 370.0 300.0 370.0 C358.3 370.0 466.7 361.7 500.0 360.0" fill="none" stroke="#B8B0A8" stroke-width="10" stroke-linecap="round" opacity="0.9"/>
<path d="M560.0 350.0 C570.0 333.3 603.3 283.3 620.0 250.0 C636.7 216.7 646.7 178.3 660.0 150.0 C673.3 121.7 693.3 91.7 700.0 80.0" fill="none" stroke="#B8B0A8" stroke-width="10" stroke-linecap="round" opacity="0.9"/>
<path d="M950.0 120.0 C958.3 141.7 986.7 211.7 1000.0 250.0 C1013.3 288.3 1021.7 321.7 1030.0 350.0 C1038.3 378.3 1045.0 401.7 1050.0 420.0 C1055.0 438.3 1063.3 443.3 1060.0 460.0 C1056.7 476.7 1043.3 496.7 1030.0 520.0 C1016.7 543.3 991.7 576.7 980.0 600.0 C968.3 623.3 958.3 640.0 960.0 660.0 C961.7 680.0 966.7 703.3 990.0 720.0 C1013.3 736.7 1081.7 753.3 1100.0 760.0" fill="none" stroke="#B8B0A8" stroke-width="10" stroke-linecap="round" opacity="0.9"/>
<path d="M1000.0 250.0 C983.3 266.7 933.3 316.7 900.0 350.0 C866.7 383.3 830.0 418.3 800.0 450.0 C770.0 481.7 753.3 521.7 720.0 540.0 C686.7 558.3 640.0 546.7 600.0 560.0 C560.0 573.3 516.7 600.0 480.0 620.0 C443.3 640.0 396.7 670.0 380.0 680.0" fill="none" stroke="#B8B0A8" stroke-width="10" stroke-linecap="round" opacity="0.9"/>
<path d="M1100.0 160.0 C1133.3 146.7 1241.7 106.7 1300.0 80.0 C1358.3 53.3 1425.0 13.3 1450.0 0.0" fill="none" stroke="#B8B0A8" stroke-width="10" stroke-linecap="round" opacity="0.9"/>
<path d="M1420.0 60.0 C1423.3 83.3 1436.7 155.0 1440.0 200.0 C1443.3 245.0 1446.7 288.3 1440.0 330.0 C1433.3 371.7 1416.7 405.0 1400.0 450.0 C1383.3 495.0 1350.0 575.0 1340.0 600.0" fill="none" stroke="#B8B0A8" stroke-width="10" stroke-linecap="round" opacity="0.9"/>
<path d="M1440.0 200.0 C1441.7 221.7 1451.7 288.3 1450.0 330.0 C1448.3 371.7 1441.7 408.3 1430.0 450.0 C1418.3 491.7 1388.3 558.3 1380.0 580.0" fill="none" stroke="#B8B0A8" stroke-width="10" stroke-linecap="round" opacity="0.9"/>
<path d="M1680.0 0.0 C1683.3 25.0 1686.7 100.0 1700.0 150.0 C1713.3 200.0 1746.7 250.0 1760.0 300.0 C1773.3 350.0 1780.0 403.3 1780.0 450.0 C1780.0 496.7 1763.3 558.3 1760.0 580.0" fill="none" stroke="#B8B0A8" stroke-width="10" stroke-linecap="round" opacity="0.9"/>
<path d="M1760.0 300.0 C1775.0 305.0 1818.3 331.7 1850.0 330.0 C1881.7 328.3 1916.7 306.7 1950.0 290.0 C1983.3 273.3 2033.3 240.0 2050.0 230.0" fill="none" stroke="#B8B0A8" stroke-width="10" stroke-linecap="round" opacity="0.9"/>
<path d="M1950.0 100.0 C1958.3 116.7 1985.0 158.3 2000.0 200.0 C2015.0 241.7 2023.3 313.3 2040.0 350.0 C2056.7 386.7 2090.0 408.3 2100.0 420.0" fill="none" stroke="#B8B0A8" stroke-width="10" stroke-linecap="round" opacity="0.9"/>
<path d="M1960.0 30.0 C1983.3 41.7 2063.8 75.0 2100.0 100.0 C2136.2 125.0 2164.2 166.7 2177.0 180.0" fill="none" stroke="#B8B0A8" stroke-width="10" stroke-linecap="round" opacity="0.9"/>
<path d="M1060.0 460.0 C1063.3 476.7 1078.3 521.7 1080.0 560.0 C1081.7 598.3 1071.7 668.3 1070.0 690.0" fill="none" stroke="#B8B0A8" stroke-width="10" stroke-linecap="round" opacity="0.9"/>
<path d="M650.0 230.0 C648.3 250.0 645.0 311.7 640.0 350.0 C635.0 388.3 626.7 431.7 620.0 460.0 C613.3 488.3 603.3 510.0 600.0 520.0" fill="none" stroke="#B8B0A8" stroke-width="10" stroke-linecap="round" opacity="0.9"/>
<path d="M0.0 470.0 C33.3 456.7 133.3 410.0 200.0 390.0 C266.7 370.0 340.0 358.3 400.0 350.0 C460.0 341.7 510.0 350.0 560.0 340.0 C610.0 330.0 676.7 298.3 700.0 290.0" fill="none" stroke="#6E645C" stroke-width="30" stroke-linecap="round"/>
</g>
<g transform="translate(2609 438) scale(0.47333)" clip-path="url(#p3clip)">
<rect width="900" height="1449" fill="#E4B898"/>
<ellipse cx="70" cy="60" rx="90" ry="90" fill="#8E9890"/>
<rect x="40" y="130" width="80" height="120" fill="#2A3050"/>
<ellipse cx="80" cy="560" rx="140" ry="90" fill="#F0C8A0"/>
<ellipse cx="440" cy="1000" rx="80" ry="70" fill="#F0D8C8"/>
<ellipse cx="520" cy="990" rx="90" ry="80" fill="#F8E0D0"/>
<ellipse cx="500" cy="1090" rx="160" ry="60" fill="#F4ECE8"/>
<ellipse cx="870" cy="1170" rx="60" ry="130" fill="#F8F0D8"/>
<ellipse cx="60" cy="1400" rx="90" ry="60" fill="#F0C8A8"/>
<g transform="translate(480 90) rotate(-60.0)"><rect x="-210" y="-125" width="420" height="250" rx="125" fill="#8C3422"/><rect x="-148" y="-94" width="295" height="55" rx="28" fill="#ffffff" opacity="0.25"/><rect x="-172" y="44" width="345" height="88" rx="38" fill="#000" opacity="0.10"/></g>
<ellipse cx="760" cy="120" rx="160" ry="110" fill="url(#p3o)" transform="rotate(8 760 120)"/>
<g transform="translate(10 220) rotate(-88.0)"><rect x="-280" y="-40" width="560" height="80" rx="40" fill="#F0D070"/><rect x="-260" y="-30" width="520" height="18" rx="9" fill="#ffffff" opacity="0.25"/><rect x="-268" y="14" width="536" height="28" rx="12" fill="#000" opacity="0.10"/></g>
<g transform="translate(215 250) rotate(-62.0)"><rect x="-310" y="-150" width="620" height="300" rx="150" fill="#E866A6"/><clipPath id="cc39789"><rect x="-310" y="-150" width="620" height="300" rx="150"/></clipPath><rect x="-12" y="-150" width="323" height="300" fill="#F0D070" clip-path="url(#cc39789)"/><rect x="-235" y="-112" width="470" height="66" rx="33" fill="#ffffff" opacity="0.25"/><rect x="-265" y="52" width="530" height="105" rx="45" fill="#000" opacity="0.10"/></g>
<g transform="translate(790 360) rotate(18.0)"><rect x="-260" y="-125" width="520" height="250" rx="125" fill="#E876AE"/><clipPath id="cc90965"><rect x="-260" y="-125" width="520" height="250" rx="125"/></clipPath><rect x="62" y="-125" width="199" height="250" fill="#F2D272" clip-path="url(#cc90965)"/><rect x="-198" y="-94" width="395" height="55" rx="28" fill="#ffffff" opacity="0.25"/><rect x="-222" y="44" width="445" height="88" rx="38" fill="#000" opacity="0.10"/></g>
<ellipse cx="830" cy="710" rx="160" ry="180" fill="url(#p3o)"/>
<ellipse cx="630" cy="560" rx="130" ry="120" fill="#7A5028"/>
<ellipse cx="610" cy="520" rx="70" ry="50" fill="#2A1E18"/>
<ellipse cx="650" cy="620" rx="100" ry="50" fill="#B88A48" opacity="0.8"/>
<g transform="translate(425 420) rotate(-45.0)"><rect x="-300" y="-150" width="600" height="300" rx="150" fill="#80A8E0"/></g>
<g transform="translate(425 420) rotate(-45)"><rect x="-280" y="-140" width="560" height="60" rx="30" fill="#A0C0F0" opacity="0.45"/><rect x="-280" y="70" width="560" height="60" rx="30" fill="#5070B0" opacity="0.3"/><line x1="-10" y1="-150" x2="-10" y2="150" stroke="#5A80C0" stroke-width="8"/></g>
<ellipse cx="470" cy="760" rx="135" ry="150" fill="url(#p3w)"/>
<circle cx="185" cy="945" r="305" fill="url(#p3w)"/>
<path d="M-120 925 L380 985 L380 1000 L-120 945 Z" fill="#C8CCD4"/>
<circle cx="185" cy="945" r="305" fill="none" stroke="#C0C4CC" stroke-width="10"/>
<circle cx="660" cy="855" r="155" fill="url(#p3y)"/>
<path d="M520 780 A155 155 0 0 0 600 1000 L560 1000 A160 160 0 0 1 510 800 Z" fill="#E0B840"/>
<ellipse cx="735" cy="1065" rx="170" ry="160" fill="url(#p3c)"/>
<path d="M570 1100 Q735 1250 900 1120 L900 1200 Q735 1300 590 1170 Z" fill="#F0C8A0"/>
<ellipse cx="830" cy="1340" rx="90" ry="140" fill="#F09060" transform="rotate(-20 830 1340)"/>
<ellipse cx="185" cy="1340" rx="165" ry="80" fill="#F2F0D8"/>
<ellipse cx="185" cy="1370" rx="160" ry="40" fill="#DCDCC0"/>
<g transform="translate(560 1330) rotate(32.0)"><rect x="-320" y="-140" width="640" height="280" rx="140" fill="#E870A8"/><clipPath id="cc83284"><rect x="-320" y="-140" width="640" height="280" rx="140"/></clipPath><rect x="51" y="-140" width="270" height="280" fill="#F0C860" clip-path="url(#cc83284)"/><rect x="-250" y="-105" width="500" height="62" rx="31" fill="#ffffff" opacity="0.25"/><rect x="-278" y="49" width="556" height="98" rx="42" fill="#000" opacity="0.10"/></g>
<ellipse cx="420" cy="1449" rx="120" ry="30" fill="#3A2A20" opacity="0.6"/>
</g>
<g transform="translate(3115 448) scale(0.33061)" clip-path="url(#p4clip)">
<rect width="1470" height="1449" fill="url(#p4f)"/>
<path d="M2100 -420 L-948 1449 L-852 1449 Z" fill="#2C2A12" opacity="0.85" filter="url(#p4b)"/>
<path d="M2100 -420 L-548 1449 L-452 1449 Z" fill="#2C2A12" opacity="0.85" filter="url(#p4b)"/>
<path d="M2100 -420 L-168 1449 L-72 1449 Z" fill="#2C2A12" opacity="0.85" filter="url(#p4b)"/>
<path d="M2100 -420 L212 1449 L308 1449 Z" fill="#2C2A12" opacity="0.85" filter="url(#p4b)"/>
<path d="M2100 -420 L602 1449 L698 1449 Z" fill="#2C2A12" opacity="0.85" filter="url(#p4b)"/>
<path d="M2100 -420 L992 1449 L1088 1449 Z" fill="#2C2A12" opacity="0.85" filter="url(#p4b)"/>
<path d="M2100 -420 L1352 1449 L1448 1449 Z" fill="#2C2A12" opacity="0.85" filter="url(#p4b)"/>
<path d="M2100 -420 L1702 1449 L1798 1449 Z" fill="#2C2A12" opacity="0.85" filter="url(#p4b)"/>
<path d="M2100 -420 L-760 1449 L-640 1449 Z" fill="#8CC02C" opacity="0.5" filter="url(#p4b)"/>
<path d="M2100 -420 L-370 1449 L-250 1449 Z" fill="#8CC02C" opacity="0.5" filter="url(#p4b)"/>
<path d="M2100 -420 L10 1449 L130 1449 Z" fill="#8CC02C" opacity="0.5" filter="url(#p4b)"/>
<path d="M2100 -420 L395 1449 L515 1449 Z" fill="#8CC02C" opacity="0.5" filter="url(#p4b)"/>
<path d="M2100 -420 L785 1449 L905 1449 Z" fill="#8CC02C" opacity="0.5" filter="url(#p4b)"/>
<path d="M2100 -420 L1160 1449 L1280 1449 Z" fill="#8CC02C" opacity="0.5" filter="url(#p4b)"/>
<path d="M2100 -420 L1515 1449 L1635 1449 Z" fill="#8CC02C" opacity="0.5" filter="url(#p4b)"/>
<path d="M0.0 0.0 C245.0 -75.0 1225.0 -10.0 1470.0 0.0 C1715.0 10.0 1548.3 26.7 1470.0 60.0 C1391.7 93.3 1145.0 155.0 1000.0 200.0 C855.0 245.0 733.3 293.3 600.0 330.0 C466.7 366.7 300.0 400.0 200.0 420.0 C100.0 440.0 33.3 520.0 0.0 450.0 C-33.3 380.0 -245.0 75.0 0.0 0.0 Z" fill="#80B226" opacity="0.9" filter="url(#p4b)"/>
<path d="M0 300 L1470 -210" stroke="#4E7A18" stroke-width="10" opacity="0.5"/>
<path d="M0 350 L1470 -155" stroke="#4E7A18" stroke-width="10" opacity="0.5"/>
<path d="M0 400 L1470 -100" stroke="#4E7A18" stroke-width="10" opacity="0.5"/>
<path d="M0 450 L1470 -45" stroke="#4E7A18" stroke-width="10" opacity="0.5"/>
<path d="M0 500 L1470 10" stroke="#4E7A18" stroke-width="10" opacity="0.5"/>
<path d="M0 550 L1470 65" stroke="#4E7A18" stroke-width="10" opacity="0.5"/>
<path d="M0 600 L1470 120" stroke="#4E7A18" stroke-width="10" opacity="0.5"/>
<path d="M0 650 L1470 175" stroke="#4E7A18" stroke-width="10" opacity="0.5"/>
<circle cx="476" cy="219" r="6" fill="#9CCC38" opacity="0.3"/>
<circle cx="788" cy="530" r="11" fill="#9CCC38" opacity="0.3"/>
<circle cx="316" cy="125" r="5" fill="#6AA424" opacity="0.3"/>
<circle cx="133" cy="615" r="12" fill="#9CCC38" opacity="0.3"/>
<circle cx="927" cy="845" r="9" fill="#9CCC38" opacity="0.3"/>
<circle cx="583" cy="1415" r="9" fill="#9CCC38" opacity="0.3"/>
<circle cx="196" cy="607" r="9" fill="#9CCC38" opacity="0.3"/>
<circle cx="824" cy="988" r="9" fill="#9CCC38" opacity="0.3"/>
<circle cx="939" cy="540" r="9" fill="#9CCC38" opacity="0.3"/>
<circle cx="910" cy="719" r="10" fill="#6AA424" opacity="0.3"/>
<circle cx="684" cy="1338" r="7" fill="#3E6A16" opacity="0.3"/>
<circle cx="1168" cy="1013" r="6" fill="#A8D040" opacity="0.3"/>
<circle cx="441" cy="717" r="10" fill="#3E6A16" opacity="0.3"/>
<circle cx="423" cy="1420" r="9" fill="#9CCC38" opacity="0.3"/>
<circle cx="242" cy="496" r="8" fill="#6AA424" opacity="0.3"/>
<circle cx="1414" cy="112" r="7" fill="#3E6A16" opacity="0.3"/>
<circle cx="515" cy="720" r="5" fill="#6AA424" opacity="0.3"/>
<circle cx="138" cy="391" r="5" fill="#9CCC38" opacity="0.3"/>
<circle cx="1031" cy="938" r="7" fill="#6AA424" opacity="0.3"/>
<circle cx="567" cy="969" r="12" fill="#9CCC38" opacity="0.3"/>
<circle cx="523" cy="885" r="5" fill="#6AA424" opacity="0.3"/>
<circle cx="1129" cy="187" r="8" fill="#A8D040" opacity="0.3"/>
<circle cx="1348" cy="719" r="8" fill="#A8D040" opacity="0.3"/>
<circle cx="808" cy="1280" r="11" fill="#6AA424" opacity="0.3"/>
<circle cx="409" cy="602" r="10" fill="#3E6A16" opacity="0.3"/>
<circle cx="559" cy="334" r="6" fill="#9CCC38" opacity="0.3"/>
<circle cx="341" cy="338" r="11" fill="#6AA424" opacity="0.3"/>
<circle cx="268" cy="409" r="8" fill="#A8D040" opacity="0.3"/>
<circle cx="543" cy="821" r="10" fill="#A8D040" opacity="0.3"/>
<circle cx="758" cy="895" r="8" fill="#9CCC38" opacity="0.3"/>
<circle cx="1280" cy="1379" r="8" fill="#6AA424" opacity="0.3"/>
<circle cx="579" cy="698" r="5" fill="#6AA424" opacity="0.3"/>
<circle cx="99" cy="302" r="6" fill="#A8D040" opacity="0.3"/>
<circle cx="883" cy="148" r="9" fill="#A8D040" opacity="0.3"/>
<circle cx="1395" cy="889" r="11" fill="#9CCC38" opacity="0.3"/>
<circle cx="903" cy="215" r="12" fill="#3E6A16" opacity="0.3"/>
<circle cx="885" cy="687" r="11" fill="#9CCC38" opacity="0.3"/>
<circle cx="1460" cy="675" r="7" fill="#6AA424" opacity="0.3"/>
<circle cx="212" cy="1086" r="8" fill="#3E6A16" opacity="0.3"/>
<circle cx="1017" cy="748" r="12" fill="#A8D040" opacity="0.3"/>
<circle cx="777" cy="212" r="10" fill="#9CCC38" opacity="0.3"/>
<circle cx="438" cy="932" r="10" fill="#9CCC38" opacity="0.3"/>
<circle cx="384" cy="531" r="7" fill="#A8D040" opacity="0.3"/>
<circle cx="328" cy="785" r="9" fill="#3E6A16" opacity="0.3"/>
<circle cx="901" cy="1142" r="11" fill="#A8D040" opacity="0.3"/>
<circle cx="1203" cy="1072" r="6" fill="#A8D040" opacity="0.3"/>
<circle cx="724" cy="1059" r="11" fill="#9CCC38" opacity="0.3"/>
<circle cx="694" cy="281" r="8" fill="#3E6A16" opacity="0.3"/>
<circle cx="1377" cy="1432" r="6" fill="#3E6A16" opacity="0.3"/>
<circle cx="150" cy="681" r="6" fill="#3E6A16" opacity="0.3"/>
<circle cx="917" cy="1305" r="8" fill="#9CCC38" opacity="0.3"/>
<circle cx="960" cy="1159" r="11" fill="#9CCC38" opacity="0.3"/>
<circle cx="176" cy="563" r="8" fill="#A8D040" opacity="0.3"/>
<circle cx="262" cy="1143" r="6" fill="#3E6A16" opacity="0.3"/>
<circle cx="1391" cy="1046" r="8" fill="#6AA424" opacity="0.3"/>
<circle cx="1392" cy="1050" r="12" fill="#A8D040" opacity="0.3"/>
<circle cx="40" cy="856" r="11" fill="#6AA424" opacity="0.3"/>
<circle cx="215" cy="1198" r="10" fill="#6AA424" opacity="0.3"/>
<circle cx="515" cy="795" r="5" fill="#A8D040" opacity="0.3"/>
<circle cx="1175" cy="1053" r="9" fill="#9CCC38" opacity="0.3"/>
<circle cx="1372" cy="629" r="11" fill="#A8D040" opacity="0.3"/>
<circle cx="310" cy="365" r="9" fill="#3E6A16" opacity="0.3"/>
<circle cx="1123" cy="472" r="11" fill="#6AA424" opacity="0.3"/>
<circle cx="90" cy="1072" r="10" fill="#6AA424" opacity="0.3"/>
<circle cx="1198" cy="749" r="9" fill="#A8D040" opacity="0.3"/>
<circle cx="770" cy="27" r="10" fill="#6AA424" opacity="0.3"/>
<circle cx="895" cy="1124" r="6" fill="#A8D040" opacity="0.3"/>
<circle cx="696" cy="1051" r="7" fill="#9CCC38" opacity="0.3"/>
<circle cx="762" cy="805" r="11" fill="#9CCC38" opacity="0.3"/>
<circle cx="84" cy="277" r="10" fill="#9CCC38" opacity="0.3"/>
<circle cx="746" cy="814" r="8" fill="#9CCC38" opacity="0.3"/>
<circle cx="900" cy="733" r="10" fill="#A8D040" opacity="0.3"/>
<circle cx="665" cy="773" r="9" fill="#6AA424" opacity="0.3"/>
<circle cx="364" cy="758" r="11" fill="#3E6A16" opacity="0.3"/>
<circle cx="1312" cy="294" r="6" fill="#6AA424" opacity="0.3"/>
<circle cx="179" cy="641" r="10" fill="#9CCC38" opacity="0.3"/>
<circle cx="630" cy="308" r="10" fill="#3E6A16" opacity="0.3"/>
<circle cx="1319" cy="224" r="6" fill="#3E6A16" opacity="0.3"/>
<circle cx="1298" cy="1402" r="10" fill="#A8D040" opacity="0.3"/>
<circle cx="138" cy="1282" r="12" fill="#A8D040" opacity="0.3"/>
<circle cx="1224" cy="234" r="12" fill="#6AA424" opacity="0.3"/>
<circle cx="594" cy="610" r="7" fill="#3E6A16" opacity="0.3"/>
<circle cx="1062" cy="28" r="8" fill="#6AA424" opacity="0.3"/>
<circle cx="27" cy="480" r="9" fill="#3E6A16" opacity="0.3"/>
<circle cx="95" cy="1427" r="12" fill="#A8D040" opacity="0.3"/>
<circle cx="154" cy="385" r="11" fill="#9CCC38" opacity="0.3"/>
<circle cx="267" cy="1095" r="11" fill="#6AA424" opacity="0.3"/>
<circle cx="994" cy="1371" r="6" fill="#6AA424" opacity="0.3"/>
<circle cx="1351" cy="827" r="6" fill="#3E6A16" opacity="0.3"/>
<circle cx="85" cy="997" r="11" fill="#6AA424" opacity="0.3"/>
<circle cx="395" cy="24" r="11" fill="#9CCC38" opacity="0.3"/>
<circle cx="123" cy="1241" r="7" fill="#9CCC38" opacity="0.3"/>
<circle cx="179" cy="17" r="11" fill="#6AA424" opacity="0.3"/>
<circle cx="394" cy="187" r="12" fill="#A8D040" opacity="0.3"/>
<circle cx="1425" cy="379" r="6" fill="#A8D040" opacity="0.3"/>
<circle cx="459" cy="442" r="7" fill="#A8D040" opacity="0.3"/>
<circle cx="735" cy="258" r="11" fill="#3E6A16" opacity="0.3"/>
<circle cx="1462" cy="54" r="10" fill="#9CCC38" opacity="0.3"/>
<circle cx="810" cy="275" r="7" fill="#6AA424" opacity="0.3"/>
<circle cx="657" cy="954" r="10" fill="#6AA424" opacity="0.3"/>
<circle cx="802" cy="1288" r="10" fill="#3E6A16" opacity="0.3"/>
<circle cx="1444" cy="497" r="8" fill="#A8D040" opacity="0.3"/>
<circle cx="511" cy="79" r="5" fill="#A8D040" opacity="0.3"/>
<circle cx="919" cy="1275" r="6" fill="#6AA424" opacity="0.3"/>
<circle cx="124" cy="1219" r="9" fill="#3E6A16" opacity="0.3"/>
<circle cx="1018" cy="66" r="6" fill="#A8D040" opacity="0.3"/>
<circle cx="655" cy="381" r="12" fill="#3E6A16" opacity="0.3"/>
<circle cx="804" cy="354" r="7" fill="#3E6A16" opacity="0.3"/>
<circle cx="269" cy="486" r="8" fill="#9CCC38" opacity="0.3"/>
<circle cx="739" cy="291" r="6" fill="#9CCC38" opacity="0.3"/>
<circle cx="1201" cy="208" r="8" fill="#9CCC38" opacity="0.3"/>
<circle cx="440" cy="912" r="9" fill="#9CCC38" opacity="0.3"/>
<circle cx="778" cy="1088" r="10" fill="#6AA424" opacity="0.3"/>
<circle cx="1059" cy="716" r="10" fill="#3E6A16" opacity="0.3"/>
<circle cx="946" cy="63" r="10" fill="#6AA424" opacity="0.3"/>
<circle cx="1194" cy="202" r="11" fill="#9CCC38" opacity="0.3"/>
<circle cx="859" cy="1294" r="6" fill="#A8D040" opacity="0.3"/>
<circle cx="62" cy="923" r="8" fill="#9CCC38" opacity="0.3"/>
<circle cx="664" cy="74" r="9" fill="#9CCC38" opacity="0.3"/>
<circle cx="1001" cy="709" r="8" fill="#9CCC38" opacity="0.3"/>
<circle cx="103" cy="1351" r="10" fill="#9CCC38" opacity="0.3"/>
<circle cx="97" cy="1068" r="11" fill="#3E6A16" opacity="0.3"/>
<circle cx="1244" cy="340" r="7" fill="#A8D040" opacity="0.3"/>
<circle cx="955" cy="667" r="6" fill="#6AA424" opacity="0.3"/>
<circle cx="1338" cy="416" r="9" fill="#9CCC38" opacity="0.3"/>
<circle cx="945" cy="112" r="7" fill="#A8D040" opacity="0.3"/>
<circle cx="958" cy="1004" r="5" fill="#A8D040" opacity="0.3"/>
<circle cx="89" cy="389" r="10" fill="#9CCC38" opacity="0.3"/>
<circle cx="993" cy="421" r="8" fill="#3E6A16" opacity="0.3"/>
<circle cx="686" cy="172" r="7" fill="#A8D040" opacity="0.3"/>
<circle cx="126" cy="685" r="8" fill="#3E6A16" opacity="0.3"/>
<circle cx="1205" cy="1403" r="12" fill="#6AA424" opacity="0.3"/>
<circle cx="569" cy="1328" r="6" fill="#A8D040" opacity="0.3"/>
<circle cx="133" cy="1083" r="12" fill="#3E6A16" opacity="0.3"/>
<circle cx="195" cy="1188" r="11" fill="#3E6A16" opacity="0.3"/>
<circle cx="1034" cy="335" r="8" fill="#6AA424" opacity="0.3"/>
<circle cx="234" cy="1376" r="8" fill="#6AA424" opacity="0.3"/>
<circle cx="1069" cy="603" r="7" fill="#6AA424" opacity="0.3"/>
<circle cx="1235" cy="3" r="11" fill="#3E6A16" opacity="0.3"/>
<circle cx="176" cy="1342" r="11" fill="#9CCC38" opacity="0.3"/>
<circle cx="426" cy="539" r="8" fill="#6AA424" opacity="0.3"/>
<circle cx="1279" cy="111" r="10" fill="#6AA424" opacity="0.3"/>
<circle cx="1256" cy="407" r="11" fill="#9CCC38" opacity="0.3"/>
<circle cx="420" cy="1356" r="12" fill="#A8D040" opacity="0.3"/>
<circle cx="641" cy="457" r="10" fill="#3E6A16" opacity="0.3"/>
<circle cx="629" cy="42" r="11" fill="#6AA424" opacity="0.3"/>
<circle cx="1383" cy="796" r="5" fill="#9CCC38" opacity="0.3"/>
<circle cx="1077" cy="653" r="10" fill="#A8D040" opacity="0.3"/>
<circle cx="421" cy="71" r="6" fill="#A8D040" opacity="0.3"/>
<circle cx="610" cy="408" r="10" fill="#3E6A16" opacity="0.3"/>
<circle cx="1435" cy="377" r="7" fill="#A8D040" opacity="0.3"/>
<circle cx="819" cy="571" r="10" fill="#A8D040" opacity="0.3"/>
<circle cx="111" cy="725" r="9" fill="#6AA424" opacity="0.3"/>
<circle cx="666" cy="482" r="8" fill="#6AA424" opacity="0.3"/>
<circle cx="805" cy="354" r="7" fill="#A8D040" opacity="0.3"/>
<circle cx="134" cy="346" r="11" fill="#3E6A16" opacity="0.3"/>
<circle cx="297" cy="29" r="8" fill="#6AA424" opacity="0.3"/>
<circle cx="1096" cy="304" r="7" fill="#3E6A16" opacity="0.3"/>
<circle cx="91" cy="402" r="6" fill="#3E6A16" opacity="0.3"/>
<circle cx="740" cy="912" r="6" fill="#A8D040" opacity="0.3"/>
<circle cx="1318" cy="557" r="8" fill="#6AA424" opacity="0.3"/>
<circle cx="459" cy="1180" r="6" fill="#9CCC38" opacity="0.3"/>
<circle cx="625" cy="1107" r="12" fill="#6AA424" opacity="0.3"/>
<circle cx="720" cy="106" r="12" fill="#6AA424" opacity="0.3"/>
<circle cx="365" cy="158" r="6" fill="#A8D040" opacity="0.3"/>
<circle cx="1429" cy="158" r="6" fill="#6AA424" opacity="0.3"/>
<circle cx="1142" cy="2" r="7" fill="#A8D040" opacity="0.3"/>
<circle cx="1352" cy="935" r="12" fill="#3E6A16" opacity="0.3"/>
<circle cx="921" cy="765" r="10" fill="#6AA424" opacity="0.3"/>
<circle cx="165" cy="102" r="8" fill="#A8D040" opacity="0.3"/>
<circle cx="329" cy="871" r="9" fill="#9CCC38" opacity="0.3"/>
<circle cx="1465" cy="404" r="10" fill="#3E6A16" opacity="0.3"/>
<circle cx="1299" cy="689" r="9" fill="#A8D040" opacity="0.3"/>
<circle cx="43" cy="597" r="5" fill="#3E6A16" opacity="0.3"/>
<circle cx="285" cy="1282" r="6" fill="#6AA424" opacity="0.3"/>
<circle cx="335" cy="615" r="7" fill="#3E6A16" opacity="0.3"/>
<circle cx="50" cy="490" r="8" fill="#6AA424" opacity="0.3"/>
<circle cx="583" cy="10" r="10" fill="#3E6A16" opacity="0.3"/>
<circle cx="742" cy="297" r="7" fill="#A8D040" opacity="0.3"/>
<circle cx="1205" cy="334" r="7" fill="#A8D040" opacity="0.3"/>
<circle cx="1307" cy="158" r="9" fill="#6AA424" opacity="0.3"/>
<circle cx="1318" cy="703" r="12" fill="#9CCC38" opacity="0.3"/>
<circle cx="215" cy="570" r="5" fill="#A8D040" opacity="0.3"/>
<circle cx="876" cy="602" r="6" fill="#9CCC38" opacity="0.3"/>
<circle cx="661" cy="1032" r="10" fill="#3E6A16" opacity="0.3"/>
<circle cx="1466" cy="1350" r="6" fill="#3E6A16" opacity="0.3"/>
<circle cx="959" cy="760" r="5" fill="#6AA424" opacity="0.3"/>
<circle cx="977" cy="549" r="12" fill="#3E6A16" opacity="0.3"/>
<circle cx="650" cy="158" r="7" fill="#9CCC38" opacity="0.3"/>
<circle cx="517" cy="1385" r="9" fill="#9CCC38" opacity="0.3"/>
<circle cx="1115" cy="551" r="11" fill="#3E6A16" opacity="0.3"/>
<circle cx="636" cy="71" r="6" fill="#6AA424" opacity="0.3"/>
<circle cx="796" cy="647" r="8" fill="#3E6A16" opacity="0.3"/>
<circle cx="1319" cy="44" r="7" fill="#6AA424" opacity="0.3"/>
<circle cx="919" cy="587" r="5" fill="#6AA424" opacity="0.3"/>
<circle cx="92" cy="1333" r="6" fill="#3E6A16" opacity="0.3"/>
<circle cx="92" cy="878" r="7" fill="#3E6A16" opacity="0.3"/>
<circle cx="1408" cy="894" r="10" fill="#3E6A16" opacity="0.3"/>
<circle cx="1014" cy="1339" r="5" fill="#3E6A16" opacity="0.3"/>
<circle cx="1111" cy="1328" r="5" fill="#9CCC38" opacity="0.3"/>
<circle cx="344" cy="689" r="12" fill="#6AA424" opacity="0.3"/>
<circle cx="568" cy="364" r="11" fill="#6AA424" opacity="0.3"/>
<circle cx="195" cy="719" r="11" fill="#9CCC38" opacity="0.3"/>
<circle cx="1086" cy="1192" r="9" fill="#A8D040" opacity="0.3"/>
<circle cx="482" cy="463" r="10" fill="#3E6A16" opacity="0.3"/>
<circle cx="876" cy="742" r="10" fill="#6AA424" opacity="0.3"/>
<circle cx="364" cy="94" r="8" fill="#9CCC38" opacity="0.3"/>
<circle cx="801" cy="233" r="11" fill="#6AA424" opacity="0.3"/>
<circle cx="1452" cy="384" r="6" fill="#9CCC38" opacity="0.3"/>
<circle cx="619" cy="1432" r="6" fill="#6AA424" opacity="0.3"/>
<circle cx="195" cy="668" r="10" fill="#A8D040" opacity="0.3"/>
<circle cx="1245" cy="963" r="10" fill="#9CCC38" opacity="0.3"/>
<circle cx="432" cy="405" r="8" fill="#3E6A16" opacity="0.3"/>
<circle cx="1085" cy="289" r="6" fill="#A8D040" opacity="0.3"/>
<circle cx="346" cy="408" r="7" fill="#A8D040" opacity="0.3"/>
<circle cx="582" cy="1438" r="10" fill="#A8D040" opacity="0.3"/>
<circle cx="148" cy="672" r="6" fill="#9CCC38" opacity="0.3"/>
<circle cx="698" cy="1187" r="11" fill="#6AA424" opacity="0.3"/>
<circle cx="59" cy="426" r="5" fill="#9CCC38" opacity="0.3"/>
<circle cx="883" cy="1200" r="12" fill="#A8D040" opacity="0.3"/>
<circle cx="547" cy="1255" r="9" fill="#6AA424" opacity="0.3"/>
<circle cx="1139" cy="963" r="6" fill="#9CCC38" opacity="0.3"/>
<circle cx="876" cy="898" r="5" fill="#A8D040" opacity="0.3"/>
<circle cx="500" cy="64" r="5" fill="#3E6A16" opacity="0.3"/>
<circle cx="1076" cy="1324" r="11" fill="#9CCC38" opacity="0.3"/>
<circle cx="601" cy="539" r="6" fill="#3E6A16" opacity="0.3"/>
<circle cx="46" cy="718" r="5" fill="#6AA424" opacity="0.3"/>
<circle cx="149" cy="573" r="9" fill="#A8D040" opacity="0.3"/>
<circle cx="134" cy="237" r="8" fill="#3E6A16" opacity="0.3"/>
<circle cx="416" cy="446" r="7" fill="#9CCC38" opacity="0.3"/>
<circle cx="833" cy="518" r="5" fill="#6AA424" opacity="0.3"/>
<circle cx="1127" cy="1162" r="8" fill="#A8D040" opacity="0.3"/>
<circle cx="595" cy="1365" r="11" fill="#6AA424" opacity="0.3"/>
<circle cx="623" cy="1189" r="9" fill="#6AA424" opacity="0.3"/>
<circle cx="536" cy="1120" r="5" fill="#A8D040" opacity="0.3"/>
<circle cx="811" cy="928" r="6" fill="#6AA424" opacity="0.3"/>
<circle cx="915" cy="537" r="6" fill="#A8D040" opacity="0.3"/>
<circle cx="416" cy="755" r="6" fill="#9CCC38" opacity="0.3"/>
<circle cx="721" cy="1166" r="7" fill="#A8D040" opacity="0.3"/>
<circle cx="1231" cy="63" r="7" fill="#6AA424" opacity="0.3"/>
<circle cx="893" cy="922" r="11" fill="#9CCC38" opacity="0.3"/>
<circle cx="912" cy="1195" r="9" fill="#A8D040" opacity="0.3"/>
<circle cx="1259" cy="900" r="11" fill="#A8D040" opacity="0.3"/>
<circle cx="269" cy="316" r="12" fill="#6AA424" opacity="0.3"/>
<circle cx="230" cy="520" r="7" fill="#A8D040" opacity="0.3"/>
<circle cx="1066" cy="1300" r="11" fill="#9CCC38" opacity="0.3"/>
<circle cx="1238" cy="974" r="6" fill="#3E6A16" opacity="0.3"/>
<circle cx="881" cy="797" r="10" fill="#3E6A16" opacity="0.3"/>
<circle cx="453" cy="361" r="10" fill="#6AA424" opacity="0.3"/>
<circle cx="657" cy="635" r="5" fill="#9CCC38" opacity="0.3"/>
<circle cx="1450" cy="674" r="10" fill="#6AA424" opacity="0.3"/>
<circle cx="1147" cy="664" r="11" fill="#A8D040" opacity="0.3"/>
<circle cx="589" cy="97" r="8" fill="#3E6A16" opacity="0.3"/>
<circle cx="135" cy="640" r="5" fill="#9CCC38" opacity="0.3"/>
<circle cx="191" cy="1336" r="10" fill="#3E6A16" opacity="0.3"/>
<circle cx="752" cy="79" r="10" fill="#6AA424" opacity="0.3"/>
<circle cx="1153" cy="37" r="12" fill="#9CCC38" opacity="0.3"/>
<circle cx="1076" cy="1181" r="6" fill="#A8D040" opacity="0.3"/>
<circle cx="1302" cy="417" r="10" fill="#A8D040" opacity="0.3"/>
<circle cx="1060" cy="320" r="9" fill="#3E6A16" opacity="0.3"/>
<circle cx="371" cy="469" r="11" fill="#3E6A16" opacity="0.3"/>
<circle cx="671" cy="368" r="6" fill="#6AA424" opacity="0.3"/>
<circle cx="386" cy="733" r="8" fill="#3E6A16" opacity="0.3"/>
<circle cx="292" cy="585" r="10" fill="#3E6A16" opacity="0.3"/>
<circle cx="1316" cy="245" r="6" fill="#3E6A16" opacity="0.3"/>
<circle cx="780" cy="922" r="12" fill="#3E6A16" opacity="0.3"/>
<circle cx="666" cy="756" r="7" fill="#9CCC38" opacity="0.3"/>
<circle cx="787" cy="1241" r="7" fill="#3E6A16" opacity="0.3"/>
<circle cx="1456" cy="837" r="7" fill="#3E6A16" opacity="0.3"/>
<circle cx="120" cy="333" r="7" fill="#9CCC38" opacity="0.3"/>
<circle cx="759" cy="449" r="10" fill="#3E6A16" opacity="0.3"/>
<circle cx="1098" cy="321" r="9" fill="#3E6A16" opacity="0.3"/>
<circle cx="635" cy="743" r="6" fill="#9CCC38" opacity="0.3"/>
<circle cx="334" cy="946" r="5" fill="#9CCC38" opacity="0.3"/>
<circle cx="834" cy="440" r="9" fill="#3E6A16" opacity="0.3"/>
<circle cx="607" cy="436" r="6" fill="#A8D040" opacity="0.3"/>
<circle cx="917" cy="688" r="5" fill="#A8D040" opacity="0.3"/>
<circle cx="1178" cy="1025" r="6" fill="#6AA424" opacity="0.3"/>
<circle cx="938" cy="1262" r="8" fill="#3E6A16" opacity="0.3"/>
<circle cx="388" cy="17" r="9" fill="#3E6A16" opacity="0.3"/>
<circle cx="850" cy="872" r="7" fill="#6AA424" opacity="0.3"/>
<circle cx="1328" cy="64" r="8" fill="#9CCC38" opacity="0.3"/>
<circle cx="349" cy="85" r="5" fill="#9CCC38" opacity="0.3"/>
<circle cx="810" cy="1363" r="8" fill="#A8D040" opacity="0.3"/>
<circle cx="762" cy="931" r="11" fill="#6AA424" opacity="0.3"/>
<circle cx="257" cy="448" r="9" fill="#3E6A16" opacity="0.3"/>
<circle cx="1461" cy="1050" r="10" fill="#6AA424" opacity="0.3"/>
<circle cx="9" cy="1224" r="6" fill="#6AA424" opacity="0.3"/>
<circle cx="964" cy="254" r="7" fill="#9CCC38" opacity="0.3"/>
<circle cx="947" cy="179" r="10" fill="#3E6A16" opacity="0.3"/>
<circle cx="391" cy="802" r="10" fill="#6AA424" opacity="0.3"/>
<circle cx="1348" cy="1408" r="9" fill="#3E6A16" opacity="0.3"/>
<circle cx="1419" cy="314" r="6" fill="#9CCC38" opacity="0.3"/>
<circle cx="1330" cy="1220" r="12" fill="#A8D040" opacity="0.3"/>
<circle cx="1097" cy="474" r="7" fill="#6AA424" opacity="0.3"/>
<circle cx="352" cy="1315" r="8" fill="#6AA424" opacity="0.3"/>
<circle cx="780" cy="9" r="8" fill="#9CCC38" opacity="0.3"/>
<circle cx="1065" cy="826" r="11" fill="#3E6A16" opacity="0.3"/>
<circle cx="576" cy="848" r="6" fill="#A8D040" opacity="0.3"/>
<circle cx="40" cy="155" r="7" fill="#A8D040" opacity="0.3"/>
<circle cx="209" cy="42" r="6" fill="#9CCC38" opacity="0.3"/>
<circle cx="946" cy="62" r="10" fill="#9CCC38" opacity="0.3"/>
<circle cx="97" cy="856" r="6" fill="#3E6A16" opacity="0.3"/>
<circle cx="1403" cy="774" r="11" fill="#9CCC38" opacity="0.3"/>
<circle cx="1111" cy="1031" r="6" fill="#6AA424" opacity="0.3"/>
<circle cx="302" cy="162" r="12" fill="#9CCC38" opacity="0.3"/>
<circle cx="1339" cy="1092" r="11" fill="#9CCC38" opacity="0.3"/>
<circle cx="928" cy="416" r="6" fill="#9CCC38" opacity="0.3"/>
<circle cx="1164" cy="937" r="7" fill="#3E6A16" opacity="0.3"/>
<circle cx="623" cy="30" r="12" fill="#3E6A16" opacity="0.3"/>
<circle cx="71" cy="1101" r="10" fill="#3E6A16" opacity="0.3"/>
<circle cx="885" cy="690" r="9" fill="#3E6A16" opacity="0.3"/>
<circle cx="46" cy="598" r="9" fill="#6AA424" opacity="0.3"/>
<circle cx="145" cy="679" r="9" fill="#9CCC38" opacity="0.3"/>
<circle cx="318" cy="1249" r="9" fill="#9CCC38" opacity="0.3"/>
<circle cx="422" cy="632" r="7" fill="#A8D040" opacity="0.3"/>
<circle cx="1103" cy="78" r="8" fill="#3E6A16" opacity="0.3"/>
<circle cx="722" cy="1155" r="12" fill="#A8D040" opacity="0.3"/>
<circle cx="871" cy="1387" r="9" fill="#3E6A16" opacity="0.3"/>
<circle cx="234" cy="1181" r="8" fill="#A8D040" opacity="0.3"/>
<circle cx="162" cy="922" r="8" fill="#9CCC38" opacity="0.3"/>
<circle cx="1457" cy="813" r="9" fill="#9CCC38" opacity="0.3"/>
<circle cx="523" cy="581" r="11" fill="#6AA424" opacity="0.3"/>
<circle cx="1095" cy="612" r="8" fill="#9CCC38" opacity="0.3"/>
<circle cx="446" cy="620" r="8" fill="#A8D040" opacity="0.3"/>
<circle cx="1299" cy="338" r="6" fill="#6AA424" opacity="0.3"/>
<circle cx="873" cy="999" r="7" fill="#9CCC38" opacity="0.3"/>
<circle cx="480" cy="225" r="10" fill="#6AA424" opacity="0.3"/>
<circle cx="1091" cy="246" r="10" fill="#6AA424" opacity="0.3"/>
<circle cx="378" cy="335" r="8" fill="#3E6A16" opacity="0.3"/>
<circle cx="1301" cy="345" r="7" fill="#A8D040" opacity="0.3"/>
<circle cx="1109" cy="1198" r="10" fill="#A8D040" opacity="0.3"/>
<circle cx="1433" cy="1048" r="6" fill="#3E6A16" opacity="0.3"/>
<circle cx="482" cy="274" r="6" fill="#9CCC38" opacity="0.3"/>
<circle cx="967" cy="283" r="12" fill="#A8D040" opacity="0.3"/>
<circle cx="1168" cy="1063" r="7" fill="#6AA424" opacity="0.3"/>
<circle cx="161" cy="1321" r="6" fill="#3E6A16" opacity="0.3"/>
<circle cx="571" cy="49" r="11" fill="#6AA424" opacity="0.3"/>
<circle cx="642" cy="322" r="8" fill="#3E6A16" opacity="0.3"/>
<circle cx="208" cy="875" r="5" fill="#6AA424" opacity="0.3"/>
<circle cx="356" cy="1236" r="11" fill="#6AA424" opacity="0.3"/>
<circle cx="982" cy="945" r="10" fill="#A8D040" opacity="0.3"/>
<circle cx="943" cy="658" r="7" fill="#3E6A16" opacity="0.3"/>
<circle cx="1030" cy="1296" r="10" fill="#A8D040" opacity="0.3"/>
<circle cx="1048" cy="912" r="11" fill="#3E6A16" opacity="0.3"/>
<circle cx="710" cy="28" r="9" fill="#6AA424" opacity="0.3"/>
<circle cx="972" cy="1265" r="10" fill="#3E6A16" opacity="0.3"/>
<circle cx="571" cy="710" r="5" fill="#9CCC38" opacity="0.3"/>
<circle cx="799" cy="233" r="9" fill="#A8D040" opacity="0.3"/>
<circle cx="149" cy="833" r="10" fill="#A8D040" opacity="0.3"/>
<circle cx="753" cy="926" r="9" fill="#3E6A16" opacity="0.3"/>
<circle cx="603" cy="1374" r="12" fill="#A8D040" opacity="0.3"/>
<circle cx="270" cy="744" r="10" fill="#9CCC38" opacity="0.3"/>
<circle cx="903" cy="924" r="7" fill="#3E6A16" opacity="0.3"/>
<circle cx="588" cy="19" r="11" fill="#6AA424" opacity="0.3"/>
<circle cx="924" cy="978" r="6" fill="#3E6A16" opacity="0.3"/>
<circle cx="446" cy="580" r="12" fill="#A8D040" opacity="0.3"/>
<circle cx="1412" cy="670" r="6" fill="#A8D040" opacity="0.3"/>
<circle cx="1142" cy="1173" r="8" fill="#A8D040" opacity="0.3"/>
<circle cx="826" cy="327" r="7" fill="#A8D040" opacity="0.3"/>
<circle cx="939" cy="1186" r="8" fill="#6AA424" opacity="0.3"/>
<circle cx="433" cy="794" r="10" fill="#A8D040" opacity="0.3"/>
<circle cx="690" cy="1135" r="7" fill="#A8D040" opacity="0.3"/>
<circle cx="553" cy="367" r="10" fill="#6AA424" opacity="0.3"/>
<circle cx="708" cy="1167" r="8" fill="#3E6A16" opacity="0.3"/>
<circle cx="962" cy="464" r="8" fill="#6AA424" opacity="0.3"/>
<circle cx="937" cy="955" r="6" fill="#3E6A16" opacity="0.3"/>
<circle cx="446" cy="558" r="11" fill="#9CCC38" opacity="0.3"/>
<circle cx="1332" cy="1136" r="9" fill="#A8D040" opacity="0.3"/>
<circle cx="507" cy="844" r="6" fill="#9CCC38" opacity="0.3"/>
<circle cx="106" cy="425" r="9" fill="#9CCC38" opacity="0.3"/>
<circle cx="1256" cy="269" r="7" fill="#6AA424" opacity="0.3"/>
<circle cx="224" cy="1310" r="9" fill="#A8D040" opacity="0.3"/>
<circle cx="1011" cy="1416" r="10" fill="#9CCC38" opacity="0.3"/>
<circle cx="1314" cy="1142" r="6" fill="#3E6A16" opacity="0.3"/>
<circle cx="1018" cy="769" r="10" fill="#6AA424" opacity="0.3"/>
<circle cx="172" cy="172" r="7" fill="#6AA424" opacity="0.3"/>
<circle cx="205" cy="714" r="8" fill="#9CCC38" opacity="0.3"/>
<circle cx="1331" cy="1015" r="8" fill="#A8D040" opacity="0.3"/>
<circle cx="793" cy="1250" r="6" fill="#9CCC38" opacity="0.3"/>
<circle cx="471" cy="1008" r="10" fill="#6AA424" opacity="0.3"/>
<circle cx="1236" cy="543" r="12" fill="#6AA424" opacity="0.3"/>
<circle cx="994" cy="262" r="9" fill="#3E6A16" opacity="0.3"/>
<circle cx="42" cy="883" r="11" fill="#3E6A16" opacity="0.3"/>
<circle cx="138" cy="702" r="5" fill="#A8D040" opacity="0.3"/>
<circle cx="1056" cy="906" r="6" fill="#3E6A16" opacity="0.3"/>
<circle cx="969" cy="495" r="7" fill="#A8D040" opacity="0.3"/>
<circle cx="503" cy="365" r="11" fill="#9CCC38" opacity="0.3"/>
<circle cx="431" cy="1199" r="7" fill="#6AA424" opacity="0.3"/>
<circle cx="1447" cy="1265" r="12" fill="#3E6A16" opacity="0.3"/>
<circle cx="962" cy="1148" r="6" fill="#3E6A16" opacity="0.3"/>
<circle cx="1048" cy="185" r="10" fill="#9CCC38" opacity="0.3"/>
<circle cx="59" cy="1047" r="9" fill="#6AA424" opacity="0.3"/>
<circle cx="73" cy="435" r="5" fill="#9CCC38" opacity="0.3"/>
<circle cx="1208" cy="688" r="11" fill="#9CCC38" opacity="0.3"/>
<circle cx="1337" cy="886" r="9" fill="#A8D040" opacity="0.3"/>
<circle cx="1024" cy="864" r="6" fill="#9CCC38" opacity="0.3"/>
<circle cx="980" cy="663" r="6" fill="#A8D040" opacity="0.3"/>
<circle cx="267" cy="54" r="11" fill="#9CCC38" opacity="0.3"/>
<circle cx="964" cy="534" r="11" fill="#A8D040" opacity="0.3"/>
<circle cx="826" cy="374" r="6" fill="#3E6A16" opacity="0.3"/>
<circle cx="50" cy="30" r="8" fill="#9CCC38" opacity="0.3"/>
<circle cx="768" cy="1195" r="9" fill="#6AA424" opacity="0.3"/>
<circle cx="1350" cy="647" r="10" fill="#9CCC38" opacity="0.3"/>
<circle cx="873" cy="1439" r="8" fill="#A8D040" opacity="0.3"/>
<circle cx="606" cy="148" r="6" fill="#6AA424" opacity="0.3"/>
<circle cx="223" cy="23" r="5" fill="#9CCC38" opacity="0.3"/>
<circle cx="984" cy="1430" r="7" fill="#9CCC38" opacity="0.3"/>
<circle cx="178" cy="684" r="10" fill="#3E6A16" opacity="0.3"/>
<circle cx="356" cy="1063" r="11" fill="#A8D040" opacity="0.3"/>
<circle cx="538" cy="1083" r="10" fill="#A8D040" opacity="0.3"/>
<circle cx="124" cy="911" r="8" fill="#6AA424" opacity="0.3"/>
<circle cx="1371" cy="368" r="10" fill="#9CCC38" opacity="0.3"/>
<circle cx="17" cy="21" r="8" fill="#9CCC38" opacity="0.3"/>
<circle cx="459" cy="870" r="9" fill="#6AA424" opacity="0.3"/>
<circle cx="465" cy="1375" r="8" fill="#6AA424" opacity="0.3"/>
<circle cx="245" cy="1400" r="8" fill="#9CCC38" opacity="0.3"/>
<circle cx="948" cy="912" r="8" fill="#6AA424" opacity="0.3"/>
<circle cx="1144" cy="656" r="10" fill="#3E6A16" opacity="0.3"/>
<circle cx="833" cy="424" r="9" fill="#9CCC38" opacity="0.3"/>
<circle cx="957" cy="1162" r="11" fill="#3E6A16" opacity="0.3"/>
<circle cx="1067" cy="22" r="9" fill="#A8D040" opacity="0.3"/>
<circle cx="454" cy="621" r="8" fill="#A8D040" opacity="0.3"/>
<circle cx="1007" cy="872" r="11" fill="#A8D040" opacity="0.3"/>
<circle cx="416" cy="2" r="7" fill="#3E6A16" opacity="0.3"/>
<circle cx="231" cy="1334" r="7" fill="#9CCC38" opacity="0.3"/>
<circle cx="207" cy="1290" r="7" fill="#A8D040" opacity="0.3"/>
<circle cx="1251" cy="1169" r="7" fill="#6AA424" opacity="0.3"/>
<circle cx="125" cy="802" r="6" fill="#6AA424" opacity="0.3"/>
<circle cx="1103" cy="1350" r="7" fill="#A8D040" opacity="0.3"/>
<circle cx="85" cy="573" r="11" fill="#A8D040" opacity="0.3"/>
<circle cx="862" cy="14" r="8" fill="#6AA424" opacity="0.3"/>
<circle cx="129" cy="1169" r="7" fill="#9CCC38" opacity="0.3"/>
<circle cx="852" cy="1300" r="8" fill="#3E6A16" opacity="0.3"/>
<circle cx="866" cy="274" r="6" fill="#A8D040" opacity="0.3"/>
<circle cx="1185" cy="420" r="8" fill="#3E6A16" opacity="0.3"/>
<circle cx="760" cy="216" r="11" fill="#9CCC38" opacity="0.3"/>
<circle cx="725" cy="1255" r="9" fill="#3E6A16" opacity="0.3"/>
<circle cx="1157" cy="226" r="7" fill="#9CCC38" opacity="0.3"/>
<circle cx="764" cy="30" r="6" fill="#9CCC38" opacity="0.3"/>
<circle cx="1280" cy="819" r="7" fill="#A8D040" opacity="0.3"/>
<circle cx="1145" cy="617" r="10" fill="#6AA424" opacity="0.3"/>
<circle cx="1204" cy="1396" r="11" fill="#3E6A16" opacity="0.3"/>
<circle cx="498" cy="1441" r="6" fill="#6AA424" opacity="0.3"/>
<circle cx="75" cy="808" r="8" fill="#6AA424" opacity="0.3"/>
<circle cx="1243" cy="1297" r="11" fill="#6AA424" opacity="0.3"/>
<circle cx="1038" cy="130" r="9" fill="#3E6A16" opacity="0.3"/>
<circle cx="942" cy="1386" r="6" fill="#6AA424" opacity="0.3"/>
<circle cx="1249" cy="537" r="12" fill="#A8D040" opacity="0.3"/>
<circle cx="326" cy="56" r="12" fill="#3E6A16" opacity="0.3"/>
<circle cx="87" cy="801" r="11" fill="#9CCC38" opacity="0.3"/>
<circle cx="69" cy="1139" r="5" fill="#6AA424" opacity="0.3"/>
<circle cx="213" cy="1094" r="10" fill="#A8D040" opacity="0.3"/>
<circle cx="439" cy="857" r="8" fill="#9CCC38" opacity="0.3"/>
<circle cx="546" cy="565" r="8" fill="#3E6A16" opacity="0.3"/>
<circle cx="248" cy="346" r="11" fill="#A8D040" opacity="0.3"/>
<circle cx="1311" cy="678" r="11" fill="#A8D040" opacity="0.3"/>
<circle cx="231" cy="1207" r="12" fill="#9CCC38" opacity="0.3"/>
<circle cx="1274" cy="1288" r="10" fill="#A8D040" opacity="0.3"/>
<circle cx="1408" cy="1342" r="11" fill="#6AA424" opacity="0.3"/>
<circle cx="924" cy="655" r="7" fill="#3E6A16" opacity="0.3"/>
<circle cx="344" cy="168" r="6" fill="#3E6A16" opacity="0.3"/>
<circle cx="326" cy="82" r="9" fill="#6AA424" opacity="0.3"/>
<circle cx="213" cy="1262" r="8" fill="#3E6A16" opacity="0.3"/>
<circle cx="363" cy="37" r="7" fill="#3E6A16" opacity="0.3"/>
<circle cx="247" cy="711" r="8" fill="#3E6A16" opacity="0.3"/>
<circle cx="709" cy="222" r="9" fill="#9CCC38" opacity="0.3"/>
<circle cx="1158" cy="1341" r="11" fill="#6AA424" opacity="0.3"/>
<circle cx="175" cy="1094" r="8" fill="#3E6A16" opacity="0.3"/>
<circle cx="384" cy="346" r="6" fill="#A8D040" opacity="0.3"/>
<circle cx="425" cy="1299" r="11" fill="#9CCC38" opacity="0.3"/>
<circle cx="1438" cy="209" r="8" fill="#9CCC38" opacity="0.3"/>
<circle cx="746" cy="740" r="5" fill="#6AA424" opacity="0.3"/>
<circle cx="1223" cy="763" r="8" fill="#A8D040" opacity="0.3"/>
<circle cx="60" cy="593" r="9" fill="#3E6A16" opacity="0.3"/>
<circle cx="203" cy="261" r="10" fill="#A8D040" opacity="0.3"/>
<circle cx="289" cy="115" r="11" fill="#9CCC38" opacity="0.3"/>
<circle cx="1074" cy="1103" r="6" fill="#A8D040" opacity="0.3"/>
<circle cx="900" cy="1026" r="9" fill="#A8D040" opacity="0.3"/>
<circle cx="297" cy="95" r="11" fill="#6AA424" opacity="0.3"/>
<circle cx="1347" cy="751" r="7" fill="#3E6A16" opacity="0.3"/>
<circle cx="1238" cy="1253" r="6" fill="#6AA424" opacity="0.3"/>
<circle cx="602" cy="1106" r="11" fill="#A8D040" opacity="0.3"/>
<circle cx="391" cy="270" r="5" fill="#3E6A16" opacity="0.3"/>
<circle cx="1032" cy="833" r="7" fill="#9CCC38" opacity="0.3"/>
<circle cx="1370" cy="1404" r="6" fill="#9CCC38" opacity="0.3"/>
<circle cx="1050" cy="1183" r="10" fill="#3E6A16" opacity="0.3"/>
<circle cx="1276" cy="835" r="7" fill="#9CCC38" opacity="0.3"/>
<circle cx="158" cy="1059" r="9" fill="#6AA424" opacity="0.3"/>
<circle cx="780" cy="779" r="7" fill="#9CCC38" opacity="0.3"/>
<circle cx="130" cy="897" r="6" fill="#A8D040" opacity="0.3"/>
<circle cx="368" cy="1184" r="5" fill="#9CCC38" opacity="0.3"/>
<circle cx="1362" cy="1070" r="5" fill="#3E6A16" opacity="0.3"/>
<circle cx="881" cy="835" r="10" fill="#A8D040" opacity="0.3"/>
<circle cx="151" cy="1260" r="5" fill="#A8D040" opacity="0.3"/>
<circle cx="181" cy="715" r="6" fill="#3E6A16" opacity="0.3"/>
<circle cx="179" cy="1282" r="11" fill="#A8D040" opacity="0.3"/>
<circle cx="216" cy="830" r="6" fill="#6AA424" opacity="0.3"/>
<circle cx="1214" cy="1359" r="10" fill="#6AA424" opacity="0.3"/>
<circle cx="878" cy="873" r="8" fill="#9CCC38" opacity="0.3"/>
<ellipse cx="250" cy="620" rx="330" ry="70" fill="#C8D8C0" opacity="0.55" filter="url(#p4b2)"/>
<ellipse cx="1220" cy="610" rx="300" ry="80" fill="#C8D8C0" opacity="0.55" filter="url(#p4b2)"/>
<rect x="560" y="130" width="400" height="470" rx="20" fill="#3C4A3A"/>
<rect x="620" y="115" width="280" height="40" fill="#E8ECE8"/>
<rect x="640" y="160" width="230" height="150" fill="#5A7A50"/>
<rect x="720" y="200" width="90" height="100" fill="#D8E0D8"/>
<rect x="548" y="290" width="90" height="150" rx="10" fill="#3AA0A4"/>
<rect x="640" y="290" width="120" height="70" fill="#48A890"/>
<rect x="800" y="300" width="70" height="150" rx="20" fill="#D8DCC8"/>
<rect x="865" y="330" width="60" height="80" fill="#4A6AB0"/>
<rect x="880" y="400" width="90" height="200" rx="10" fill="#B8B090"/>
<rect x="560" y="420" width="90" height="170" rx="10" fill="#4A5044"/>
<rect x="640" y="370" width="110" height="110" fill="#8A9C98"/>
<rect x="730" y="90" width="22" height="40" fill="#E05020"/>
<rect x="620" y="120" width="16" height="200" fill="#2A302A"/>
<rect x="760" y="110" width="14" height="260" fill="#2A302A"/>
<rect x="0" y="478" width="1470" height="26" fill="#5E7E8C"/>
<rect x="0" y="478" width="1470" height="8" fill="#9AB0B8"/>
</g>
<g transform="translate(3237 947) scale(0.39619)" clip-path="url(#p5clip)">
<rect width="944" height="1449" fill="url(#p5bg)"/>
<rect x="520" y="500" width="440" height="420" fill="#F6F4F2"/>
<rect x="600" y="570" width="110" height="140" fill="#C8B080" opacity="0.6"/>
<rect x="900" y="760" width="60" height="120" fill="#B03040" opacity="0.7"/>
<rect x="490" y="320" width="340" height="380" fill="#D8D8DC" opacity="0.6"/>
<path d="M395 180 L445 180 L484 650 L434 650 Z" fill="#1E2A2A"/>
<path d="M395 180 L445 180 L420 120 Z" fill="#E8C8A8"/>
<path d="M455 190 L505 190 L526 650 L476 650 Z" fill="#174A44"/>
<path d="M455 190 L505 190 L480 130 Z" fill="#E8C8A8"/>
<path d="M565 160 L615 160 L603 650 L553 650 Z" fill="#4A3A8A"/>
<path d="M565 160 L615 160 L590 100 Z" fill="#E8C8A8"/>
<path d="M665 190 L715 190 L673 650 L623 650 Z" fill="#4A2424"/>
<path d="M665 190 L715 190 L690 130 Z" fill="#E8C8A8"/>
<path d="M710 160 L760 160 L704 650 L654 650 Z" fill="#1A6E80"/>
<path d="M710 160 L760 160 L735 100 Z" fill="#E8C8A8"/>
<path d="M785 230 L835 230 L757 650 L707 650 Z" fill="#6A7890"/>
<path d="M785 230 L835 230 L810 170 Z" fill="#E8C8A8"/>
<path d="M845 205 L895 205 L799 650 L749 650 Z" fill="#2A4C9C"/>
<path d="M845 205 L895 205 L870 145 Z" fill="#E8C8A8"/>
<rect x="0" y="90" width="205" height="210" fill="#F4F2F0"/>
<rect x="125" y="95" width="78" height="150" fill="#E42E2E"/>
<rect x="30" y="110" width="40" height="60" fill="#B09060" opacity="0.7"/>
<rect x="0" y="290" width="175" height="880" fill="#D8A888"/>
<rect x="0" y="290" width="175" height="30" fill="#C89878"/>
<text x="0" y="445" font-family="Liberation Sans" font-size="34" fill="#8A6A58" letter-spacing="6">ODERN</text><text x="0" y="478" font-family="Liberation Sans" font-size="34" fill="#8A6A58" letter-spacing="6">MUSE</text>
<rect x="380" y="280" width="110" height="320" fill="url(#p5g)"/>
<rect x="380" y="590" width="110" height="130" fill="#F0D8C4"/>
<rect x="195" y="660" width="215" height="520" rx="20" fill="#F2DECA"/>
<rect x="290" y="740" width="50" height="50" fill="#C8A060" opacity="0.7"/>
<rect x="188" y="440" width="165" height="240" rx="10" fill="url(#p5g)"/>
<rect x="0" y="498" width="162" height="252" rx="10" fill="url(#p5g)"/>
<path d="M95 640 L150 605 Q185 640 185 720 L95 720 Z" fill="#D42E6C"/>
<rect x="82" y="715" width="118" height="235" fill="url(#p5g)"/>
<rect x="50" y="935" width="175" height="295" fill="#14142E"/>
<rect x="60" y="945" width="30" height="270" fill="#3A3A60" opacity="0.7"/>
<path d="M375 760 Q375 710 600 705 Q840 710 840 760 L840 955 Q600 975 375 955 Z" fill="url(#p5g)"/>
<ellipse cx="690" cy="880" rx="60" ry="70" fill="#3A3028"/>
<path d="M375 930 Q600 960 840 930 L840 990 Q600 1010 375 990 Z" fill="#D8D8D8" opacity="0.8"/>
<ellipse cx="810" cy="1090" rx="150" ry="170" fill="#151515"/>
<ellipse cx="815" cy="1085" rx="125" ry="145" fill="#E8E6E2"/>
<rect x="660" y="990" width="284" height="80" fill="#2A2A34" opacity="0.7"/>
<path d="M390 1010 Q390 980 515 978 Q640 980 640 1010 L640 1160 Q515 1180 390 1160 Z" fill="#F2E2BC"/>
<rect x="390" y="1050" width="250" height="20" fill="#C8A058"/><rect x="390" y="1100" width="250" height="14" fill="#C8A058"/><rect x="390" y="1135" width="250" height="14" fill="#C8A058"/>
<text x="560" y="1112" font-family="Liberation Sans" font-size="26" fill="#5A4020">ESTÉE</text>
<rect x="330" y="1150" width="362" height="240" rx="30" fill="#2A170E"/>
<rect x="430" y="1260" width="180" height="60" fill="#8A6030" opacity="0.5"/>
<ellipse cx="850" cy="1295" rx="140" ry="80" fill="#141414"/>
<ellipse cx="860" cy="1290" rx="110" ry="58" fill="#F0E8D8"/>
<path d="M0 1330 L340 1110 L385 1150 L40 1449 L0 1449 Z" fill="#1C2438"/>
<path d="M150 1280 L330 1160" stroke="#5A6A88" stroke-width="14"/>
<path d="M640 1400 L944 1340 L944 1430 L660 1449 Z" fill="#181828"/>
<path d="M0 1230 L50 1230 L225 1230 L330 1200 L330 1390 L690 1390 L720 1380 L944 1380 L944 1449 L640 1449 L0 1449 Z" fill="#EEEEEE" opacity="0.0"/>
</g>
<g transform="translate(3115 1560) scale(0.33962)" clip-path="url(#p6clip)">
<rect width="1484" height="1449" fill="url(#p6bg)"/>
<ellipse cx="40" cy="820" rx="160" ry="220" fill="#F4B818" filter="url(#p6b2)"/>
<ellipse cx="1200" cy="700" rx="200" ry="200" fill="#E8A020" filter="url(#p6b2)" opacity="0.8"/>
<path d="M0 1090 L1484 1080 L1484 1449 L0 1449 Z" fill="url(#p6tab)"/>
<path d="M1330 300 Q1330 220 1390 200 L1390 60 L1484 50 L1484 1100 L1330 1100 Z" fill="#D81E1E"/>
<rect x="1390" y="40" width="94" height="100" fill="#141010"/>
<rect x="1360" y="300" width="40" height="700" fill="#F05050" opacity="0.5"/>
<path d="M160 180 L340 180 L330 250 L320 480 L450 800 L450 1100 L0 1100 L0 870 L170 480 L170 250 Z" fill="#B89A50" opacity="0.35"/>
<path d="M170 500 L320 500 L450 800 L460 1100 L0 1100 L0 880 Z" fill="url(#p6gr)"/>
<path d="M175 500 L320 500 L335 540 L165 540 Z" fill="#C0D060" opacity="0.8"/>
<path d="M150 170 L345 170 L340 200 L155 200 Z" fill="#D8C090" opacity="0.6"/>
<rect x="320" y="310" width="140" height="50" rx="10" fill="#D8B070" opacity="0.7"/>
<path d="M170 200 L170 480 M325 200 L320 480" stroke="#5A3A1A" stroke-width="8" opacity="0.5"/>
<path d="M595 450 L745 450 L745 700 L870 1100 L550 1100 L595 700 Z" fill="#C89048" opacity="0.35"/>
<path d="M590 730 L760 730 L870 1100 L555 1100 Z" fill="#2444A4"/>
<path d="M600 735 L640 735 L600 1090 L565 1090 Z" fill="#4A70C8" opacity="0.6"/>
<path d="M740 500 L1180 520 L1140 560 L1140 1070 L760 1080 L760 560 Z" fill="#D89848" opacity="0.35"/>
<path d="M760 650 L1140 660 L1140 1070 L760 1080 Z" fill="url(#p6or)"/>
<ellipse cx="950" cy="790" rx="160" ry="140" fill="#FFD080" opacity="0.6" filter="url(#p6b)"/>
<path d="M1240 460 L1370 460 L1370 750 L1484 1000 L1484 1180 L1120 1180 L1240 750 Z" fill="#C86040" opacity="0.3"/>
<path d="M1230 770 L1380 770 L1484 1010 L1484 1180 L1120 1180 Z" fill="#6A1212"/>
<path d="M1250 800 L1290 800 L1260 1150 L1180 1150 Z" fill="#A83030" opacity="0.5"/>
<path d="M180 790 Q200 770 600 860 L760 950 L740 1090 L120 1060 Q90 900 180 790 Z" fill="#F2F2F0"/>
<ellipse cx="600" cy="980" rx="160" ry="130" fill="#2A1E14" transform="rotate(20 600 980)"/>
<path d="M820.0 1060.0 C853.3 1046.7 936.7 1030.0 1000.0 1030.0 C1063.3 1030.0 1119.3 1051.7 1200.0 1060.0 C1280.7 1068.3 1436.7 1035.0 1484.0 1080.0 C1531.3 1125.0 1501.3 1290.0 1484.0 1330.0 C1466.7 1370.0 1410.7 1333.3 1380.0 1320.0 C1349.3 1306.7 1346.7 1270.0 1300.0 1250.0 C1253.3 1230.0 1166.7 1216.7 1100.0 1200.0 C1033.3 1183.3 950.0 1165.0 900.0 1150.0 C850.0 1135.0 813.3 1125.0 800.0 1110.0 C786.7 1095.0 786.7 1073.3 820.0 1060.0 Z" fill="#E8E8E6" filter="url(#p6b)"/>
<ellipse cx="1098" cy="1198" rx="39" ry="19" fill="#E8E8E4"/>
<ellipse cx="910" cy="1184" rx="33" ry="22" fill="#F4F4F0"/>
<ellipse cx="1094" cy="1073" rx="32" ry="23" fill="#F4F4F0"/>
<ellipse cx="1199" cy="1149" rx="30" ry="21" fill="#E8E8E4"/>
<ellipse cx="1219" cy="1280" rx="23" ry="14" fill="#E8E8E4"/>
<ellipse cx="1202" cy="1263" rx="28" ry="20" fill="#E8E8E4"/>
<ellipse cx="1145" cy="1222" rx="31" ry="21" fill="#D8D8D8"/>
<ellipse cx="1241" cy="1152" rx="32" ry="23" fill="#F4F4F0"/>
<ellipse cx="1278" cy="1125" rx="26" ry="17" fill="#F4F4F0"/>
<ellipse cx="1176" cy="1062" rx="24" ry="17" fill="#F4F4F0"/>
<ellipse cx="1454" cy="1284" rx="22" ry="16" fill="#F4F4F0"/>
<ellipse cx="1111" cy="1324" rx="29" ry="15" fill="#E8E8E4"/>
<ellipse cx="1328" cy="1111" rx="24" ry="17" fill="#D8D8D8"/>
<ellipse cx="1314" cy="1065" rx="26" ry="15" fill="#F4F4F0"/>
<ellipse cx="1107" cy="1176" rx="34" ry="16" fill="#E8E8E4"/>
<ellipse cx="1474" cy="1261" rx="30" ry="18" fill="#D8D8D8"/>
<ellipse cx="1076" cy="1094" rx="27" ry="24" fill="#FFFFFF"/>
<ellipse cx="1483" cy="1036" rx="25" ry="24" fill="#F4F4F0"/>
<ellipse cx="1091" cy="1033" rx="33" ry="22" fill="#D8D8D8"/>
<ellipse cx="1190" cy="1103" rx="33" ry="18" fill="#D8D8D8"/>
<ellipse cx="870" cy="1206" rx="37" ry="15" fill="#D8D8D8"/>
<ellipse cx="909" cy="1076" rx="38" ry="22" fill="#E8E8E4"/>
<ellipse cx="1291" cy="1078" rx="33" ry="20" fill="#D8D8D8"/>
<ellipse cx="1401" cy="1211" rx="30" ry="15" fill="#F4F4F0"/>
<ellipse cx="1141" cy="1107" rx="35" ry="18" fill="#D8D8D8"/>
<ellipse cx="1360" cy="1209" rx="27" ry="16" fill="#F4F4F0"/>
<ellipse cx="869" cy="1174" rx="34" ry="20" fill="#F4F4F0"/>
<ellipse cx="977" cy="1305" rx="26" ry="14" fill="#FFFFFF"/>
<ellipse cx="1070" cy="1105" rx="23" ry="17" fill="#E8E8E4"/>
<ellipse cx="1097" cy="1129" rx="35" ry="19" fill="#E8E8E4"/>
<ellipse cx="1195" cy="1307" rx="31" ry="18" fill="#FFFFFF"/>
<ellipse cx="1458" cy="1036" rx="33" ry="19" fill="#FFFFFF"/>
<ellipse cx="1005" cy="1330" rx="23" ry="19" fill="#F4F4F0"/>
<ellipse cx="1414" cy="1251" rx="35" ry="22" fill="#FFFFFF"/>
<ellipse cx="1028" cy="1236" rx="38" ry="23" fill="#D8D8D8"/>
<ellipse cx="1445" cy="1039" rx="31" ry="14" fill="#D8D8D8"/>
<ellipse cx="1047" cy="1034" rx="23" ry="15" fill="#F4F4F0"/>
<ellipse cx="1479" cy="1294" rx="35" ry="18" fill="#D8D8D8"/>
<ellipse cx="1090" cy="1282" rx="24" ry="22" fill="#F4F4F0"/>
<ellipse cx="998" cy="1056" rx="22" ry="24" fill="#F4F4F0"/>
<ellipse cx="1130" cy="1214" rx="39" ry="17" fill="#F4F4F0"/>
<ellipse cx="1039" cy="1073" rx="33" ry="19" fill="#FFFFFF"/>
<ellipse cx="1245" cy="1163" rx="38" ry="17" fill="#FFFFFF"/>
<ellipse cx="920" cy="1159" rx="37" ry="23" fill="#E8E8E4"/>
<ellipse cx="1051" cy="1205" rx="28" ry="15" fill="#D8D8D8"/>
<ellipse cx="1027" cy="1299" rx="23" ry="15" fill="#FFFFFF"/>
<ellipse cx="1359" cy="1064" rx="30" ry="23" fill="#D8D8D8"/>
<ellipse cx="1049" cy="1186" rx="34" ry="21" fill="#D8D8D8"/>
<ellipse cx="1006" cy="1279" rx="27" ry="20" fill="#FFFFFF"/>
<ellipse cx="1182" cy="1123" rx="36" ry="14" fill="#E8E8E4"/>
<ellipse cx="1065" cy="1087" rx="36" ry="17" fill="#E8E8E4"/>
<ellipse cx="1341" cy="1325" rx="24" ry="15" fill="#FFFFFF"/>
<ellipse cx="1455" cy="1235" rx="26" ry="19" fill="#E8E8E4"/>
<ellipse cx="1283" cy="1257" rx="32" ry="14" fill="#E8E8E4"/>
<ellipse cx="972" cy="1134" rx="35" ry="19" fill="#E8E8E4"/>
<ellipse cx="1057" cy="1268" rx="38" ry="15" fill="#D8D8D8"/>
<ellipse cx="871" cy="1166" rx="33" ry="23" fill="#D8D8D8"/>
<ellipse cx="1167" cy="1226" rx="31" ry="22" fill="#FFFFFF"/>
<ellipse cx="1106" cy="1225" rx="26" ry="21" fill="#F4F4F0"/>
<ellipse cx="930" cy="1300" rx="40" ry="24" fill="#FFFFFF"/>
<ellipse cx="964" cy="1245" rx="22" ry="19" fill="#F4F4F0"/>
<ellipse cx="1090" cy="1195" rx="36" ry="19" fill="#F4F4F0"/>
<ellipse cx="934" cy="1290" rx="30" ry="14" fill="#FFFFFF"/>
<ellipse cx="1263" cy="1305" rx="30" ry="24" fill="#D8D8D8"/>
<ellipse cx="1446" cy="1178" rx="39" ry="15" fill="#E8E8E4"/>
<ellipse cx="1089" cy="1198" rx="37" ry="20" fill="#E8E8E4"/>
<ellipse cx="1148" cy="1283" rx="32" ry="17" fill="#D8D8D8"/>
<ellipse cx="1452" cy="1291" rx="33" ry="17" fill="#E8E8E4"/>
<ellipse cx="1462" cy="1187" rx="32" ry="16" fill="#F4F4F0"/>
<ellipse cx="1134" cy="1212" rx="22" ry="24" fill="#D8D8D8"/>
<ellipse cx="1163" cy="1327" rx="24" ry="15" fill="#E8E8E4"/>
<ellipse cx="826" cy="1192" rx="29" ry="24" fill="#D8D8D8"/>
<ellipse cx="970" cy="1172" rx="24" ry="18" fill="#D8D8D8"/>
<ellipse cx="1150" cy="1063" rx="30" ry="14" fill="#FFFFFF"/>
<ellipse cx="871" cy="1264" rx="22" ry="16" fill="#E8E8E4"/>
<ellipse cx="788" cy="1115" rx="35" ry="16" fill="#D8D8D8"/>
<ellipse cx="854" cy="1249" rx="24" ry="19" fill="#FFFFFF"/>
<ellipse cx="1285" cy="1240" rx="38" ry="14" fill="#D8D8D8"/>
<ellipse cx="1361" cy="1215" rx="32" ry="23" fill="#E8E8E4"/>
<ellipse cx="1153" cy="1285" rx="33" ry="23" fill="#E8E8E4"/>
<ellipse cx="1424" cy="1218" rx="28" ry="16" fill="#FFFFFF"/>
<ellipse cx="1407" cy="1088" rx="36" ry="16" fill="#F4F4F0"/>
<ellipse cx="874" cy="1102" rx="35" ry="17" fill="#F4F4F0"/>
<ellipse cx="1086" cy="1312" rx="32" ry="21" fill="#E8E8E4"/>
<ellipse cx="1064" cy="1236" rx="22" ry="16" fill="#FFFFFF"/>
<ellipse cx="1422" cy="1321" rx="24" ry="19" fill="#FFFFFF"/>
<ellipse cx="1134" cy="1236" rx="25" ry="15" fill="#F4F4F0"/>
<ellipse cx="797" cy="1259" rx="33" ry="23" fill="#D8D8D8"/>
<ellipse cx="883" cy="1085" rx="26" ry="22" fill="#FFFFFF"/>
<ellipse cx="1433" cy="1059" rx="23" ry="24" fill="#D8D8D8"/>
<ellipse cx="1055" cy="1158" rx="28" ry="16" fill="#FFFFFF"/>
<ellipse cx="789" cy="1240" rx="37" ry="16" fill="#D8D8D8"/>
<ellipse cx="1033" cy="1141" rx="39" ry="20" fill="#F4F4F0"/>
<ellipse cx="1141" cy="1035" rx="38" ry="22" fill="#D8D8D8"/>
<ellipse cx="1181" cy="1087" rx="33" ry="17" fill="#FFFFFF"/>
<ellipse cx="977" cy="1065" rx="35" ry="16" fill="#D8D8D8"/>
<ellipse cx="874" cy="1129" rx="32" ry="18" fill="#D8D8D8"/>
<ellipse cx="1319" cy="1152" rx="35" ry="15" fill="#FFFFFF"/>
<ellipse cx="992" cy="1060" rx="38" ry="24" fill="#F4F4F0"/>
<ellipse cx="943" cy="1313" rx="34" ry="17" fill="#D8D8D8"/>
<ellipse cx="1181" cy="1190" rx="29" ry="24" fill="#E8E8E4"/>
<ellipse cx="1274" cy="1259" rx="40" ry="14" fill="#F4F4F0"/>
<ellipse cx="1300" cy="1107" rx="29" ry="15" fill="#E8E8E4"/>
<ellipse cx="1236" cy="1033" rx="27" ry="17" fill="#FFFFFF"/>
<ellipse cx="1167" cy="1182" rx="39" ry="20" fill="#F4F4F0"/>
<ellipse cx="1229" cy="1273" rx="23" ry="20" fill="#F4F4F0"/>
<ellipse cx="1052" cy="1312" rx="29" ry="24" fill="#D8D8D8"/>
<ellipse cx="1162" cy="1209" rx="30" ry="19" fill="#FFFFFF"/>
<ellipse cx="1151" cy="1209" rx="29" ry="17" fill="#FFFFFF"/>
<ellipse cx="1175" cy="1115" rx="35" ry="17" fill="#F4F4F0"/>
<ellipse cx="1324" cy="1206" rx="33" ry="18" fill="#D8D8D8"/>
<ellipse cx="817" cy="1125" rx="29" ry="20" fill="#FFFFFF"/>
<ellipse cx="832" cy="1302" rx="30" ry="19" fill="#E8E8E4"/>
<ellipse cx="1350" cy="1303" rx="25" ry="24" fill="#E8E8E4"/>
<ellipse cx="1205" cy="1065" rx="33" ry="19" fill="#E8E8E4"/>
<ellipse cx="1386" cy="1137" rx="25" ry="18" fill="#E8E8E4"/>
<ellipse cx="1250" cy="1167" rx="27" ry="20" fill="#D8D8D8"/>
<ellipse cx="1036" cy="1253" rx="37" ry="15" fill="#FFFFFF"/>
<ellipse cx="1297" cy="1102" rx="24" ry="23" fill="#FFFFFF"/>
<ellipse cx="973" cy="1213" rx="35" ry="21" fill="#E8E8E4"/>
<ellipse cx="1226" cy="1256" rx="25" ry="16" fill="#E8E8E4"/>
<ellipse cx="1399" cy="1042" rx="23" ry="17" fill="#D8D8D8"/>
<ellipse cx="937" cy="1113" rx="36" ry="23" fill="#E8E8E4"/>
<ellipse cx="1168" cy="1219" rx="29" ry="19" fill="#E8E8E4"/>
<ellipse cx="1018" cy="1178" rx="24" ry="23" fill="#F4F4F0"/>
<ellipse cx="1095" cy="1277" rx="37" ry="22" fill="#D8D8D8"/>
<ellipse cx="1079" cy="1107" rx="37" ry="18" fill="#FFFFFF"/>
<ellipse cx="985" cy="1258" rx="37" ry="16" fill="#FFFFFF"/>
<ellipse cx="1189" cy="1169" rx="28" ry="19" fill="#D8D8D8"/>
<ellipse cx="1177" cy="1175" rx="34" ry="17" fill="#F4F4F0"/>
<ellipse cx="834" cy="1094" rx="34" ry="15" fill="#FFFFFF"/>
<ellipse cx="1128" cy="1259" rx="28" ry="23" fill="#E8E8E4"/>
<ellipse cx="1032" cy="1248" rx="29" ry="15" fill="#D8D8D8"/>
<ellipse cx="1181" cy="1306" rx="39" ry="23" fill="#D8D8D8"/>
<path d="M420.0 1010.0 C446.7 976.7 513.3 993.3 560.0 1000.0 C606.7 1006.7 660.0 1026.7 700.0 1050.0 C740.0 1073.3 750.0 1116.7 800.0 1140.0 C850.0 1163.3 933.3 1175.0 1000.0 1190.0 C1066.7 1205.0 1145.0 1211.7 1200.0 1230.0 C1255.0 1248.3 1313.3 1278.3 1330.0 1300.0 C1346.7 1321.7 1355.0 1345.0 1300.0 1360.0 C1245.0 1375.0 1100.0 1386.7 1000.0 1390.0 C900.0 1393.3 791.7 1386.7 700.0 1380.0 C608.3 1373.3 500.0 1380.0 450.0 1350.0 C400.0 1320.0 405.0 1256.7 400.0 1200.0 C395.0 1143.3 393.3 1043.3 420.0 1010.0 Z" fill="#8E6E44"/>
<ellipse cx="893" cy="1387" rx="14" ry="6" fill="#7A5A34" transform="rotate(-12 893 1387)" clip-path="url(#p6pel)"/>
<ellipse cx="1269" cy="1349" rx="12" ry="6" fill="#C0A070" transform="rotate(39 1269 1349)" clip-path="url(#p6pel)"/>
<ellipse cx="422" cy="1264" rx="15" ry="6" fill="#7A5A34" transform="rotate(29 422 1264)" clip-path="url(#p6pel)"/>
<ellipse cx="742" cy="1152" rx="11" ry="6" fill="#7A5A34" transform="rotate(-39 742 1152)" clip-path="url(#p6pel)"/>
<ellipse cx="1106" cy="1344" rx="12" ry="6" fill="#B09060" transform="rotate(-33 1106 1344)" clip-path="url(#p6pel)"/>
<ellipse cx="454" cy="1062" rx="12" ry="6" fill="#B09060" transform="rotate(18 454 1062)" clip-path="url(#p6pel)"/>
<ellipse cx="1148" cy="1025" rx="14" ry="6" fill="#B09060" transform="rotate(-20 1148 1025)" clip-path="url(#p6pel)"/>
<ellipse cx="654" cy="1041" rx="13" ry="6" fill="#B09060" transform="rotate(16 654 1041)" clip-path="url(#p6pel)"/>
<ellipse cx="534" cy="1291" rx="15" ry="6" fill="#7A5A34" transform="rotate(25 534 1291)" clip-path="url(#p6pel)"/>
<ellipse cx="855" cy="1354" rx="13" ry="6" fill="#9A7A4E" transform="rotate(-13 855 1354)" clip-path="url(#p6pel)"/>
<ellipse cx="714" cy="1378" rx="15" ry="6" fill="#9A7A4E" transform="rotate(-1 714 1378)" clip-path="url(#p6pel)"/>
<ellipse cx="1148" cy="1028" rx="15" ry="6" fill="#B09060" transform="rotate(-11 1148 1028)" clip-path="url(#p6pel)"/>
<ellipse cx="1168" cy="1260" rx="17" ry="6" fill="#9A7A4E" transform="rotate(40 1168 1260)" clip-path="url(#p6pel)"/>
<ellipse cx="1226" cy="1374" rx="15" ry="6" fill="#C0A070" transform="rotate(25 1226 1374)" clip-path="url(#p6pel)"/>
<ellipse cx="1146" cy="1164" rx="13" ry="6" fill="#7A5A34" transform="rotate(-31 1146 1164)" clip-path="url(#p6pel)"/>
<ellipse cx="551" cy="1248" rx="15" ry="6" fill="#C0A070" transform="rotate(-35 551 1248)" clip-path="url(#p6pel)"/>
<ellipse cx="795" cy="1114" rx="18" ry="6" fill="#B09060" transform="rotate(-3 795 1114)" clip-path="url(#p6pel)"/>
<ellipse cx="1080" cy="1118" rx="11" ry="6" fill="#7A5A34" transform="rotate(49 1080 1118)" clip-path="url(#p6pel)"/>
<ellipse cx="1100" cy="1007" rx="14" ry="6" fill="#B09060" transform="rotate(-22 1100 1007)" clip-path="url(#p6pel)"/>
<ellipse cx="584" cy="1140" rx="15" ry="6" fill="#9A7A4E" transform="rotate(11 584 1140)" clip-path="url(#p6pel)"/>
<ellipse cx="608" cy="1072" rx="12" ry="6" fill="#7A5A34" transform="rotate(49 608 1072)" clip-path="url(#p6pel)"/>
<ellipse cx="1272" cy="1244" rx="18" ry="6" fill="#9A7A4E" transform="rotate(42 1272 1244)" clip-path="url(#p6pel)"/>
<ellipse cx="851" cy="1157" rx="18" ry="6" fill="#B09060" transform="rotate(-2 851 1157)" clip-path="url(#p6pel)"/>
<ellipse cx="606" cy="1019" rx="18" ry="6" fill="#9A7A4E" transform="rotate(57 606 1019)" clip-path="url(#p6pel)"/>
<ellipse cx="1139" cy="1302" rx="16" ry="6" fill="#B09060" transform="rotate(19 1139 1302)" clip-path="url(#p6pel)"/>
<ellipse cx="621" cy="1004" rx="14" ry="6" fill="#C0A070" transform="rotate(-6 621 1004)" clip-path="url(#p6pel)"/>
<ellipse cx="629" cy="1164" rx="17" ry="6" fill="#9A7A4E" transform="rotate(-41 629 1164)" clip-path="url(#p6pel)"/>
<ellipse cx="699" cy="1101" rx="17" ry="6" fill="#7A5A34" transform="rotate(16 699 1101)" clip-path="url(#p6pel)"/>
<ellipse cx="1324" cy="1104" rx="14" ry="6" fill="#7A5A34" transform="rotate(9 1324 1104)" clip-path="url(#p6pel)"/>
<ellipse cx="566" cy="1080" rx="17" ry="6" fill="#7A5A34" transform="rotate(39 566 1080)" clip-path="url(#p6pel)"/>
<ellipse cx="477" cy="1105" rx="16" ry="6" fill="#B09060" transform="rotate(47 477 1105)" clip-path="url(#p6pel)"/>
<ellipse cx="1045" cy="1032" rx="16" ry="6" fill="#C0A070" transform="rotate(-58 1045 1032)" clip-path="url(#p6pel)"/>
<ellipse cx="575" cy="1075" rx="15" ry="6" fill="#9A7A4E" transform="rotate(-35 575 1075)" clip-path="url(#p6pel)"/>
<ellipse cx="905" cy="1205" rx="11" ry="6" fill="#C0A070" transform="rotate(-22 905 1205)" clip-path="url(#p6pel)"/>
<ellipse cx="777" cy="1217" rx="18" ry="6" fill="#B09060" transform="rotate(-17 777 1217)" clip-path="url(#p6pel)"/>
<ellipse cx="1039" cy="1041" rx="13" ry="6" fill="#9A7A4E" transform="rotate(30 1039 1041)" clip-path="url(#p6pel)"/>
<ellipse cx="1130" cy="1048" rx="14" ry="6" fill="#9A7A4E" transform="rotate(25 1130 1048)" clip-path="url(#p6pel)"/>
<ellipse cx="842" cy="1114" rx="11" ry="6" fill="#B09060" transform="rotate(43 842 1114)" clip-path="url(#p6pel)"/>
<ellipse cx="1185" cy="1280" rx="17" ry="6" fill="#7A5A34" transform="rotate(-25 1185 1280)" clip-path="url(#p6pel)"/>
<ellipse cx="750" cy="1211" rx="12" ry="6" fill="#C0A070" transform="rotate(31 750 1211)" clip-path="url(#p6pel)"/>
<ellipse cx="917" cy="1034" rx="12" ry="6" fill="#9A7A4E" transform="rotate(28 917 1034)" clip-path="url(#p6pel)"/>
<ellipse cx="706" cy="1369" rx="15" ry="6" fill="#C0A070" transform="rotate(-6 706 1369)" clip-path="url(#p6pel)"/>
<ellipse cx="756" cy="1040" rx="15" ry="6" fill="#7A5A34" transform="rotate(21 756 1040)" clip-path="url(#p6pel)"/>
<ellipse cx="1059" cy="1070" rx="13" ry="6" fill="#9A7A4E" transform="rotate(11 1059 1070)" clip-path="url(#p6pel)"/>
<ellipse cx="484" cy="1088" rx="11" ry="6" fill="#B09060" transform="rotate(-8 484 1088)" clip-path="url(#p6pel)"/>
<ellipse cx="1117" cy="1133" rx="17" ry="6" fill="#7A5A34" transform="rotate(18 1117 1133)" clip-path="url(#p6pel)"/>
<ellipse cx="1113" cy="1320" rx="13" ry="6" fill="#C0A070" transform="rotate(51 1113 1320)" clip-path="url(#p6pel)"/>
<ellipse cx="979" cy="1284" rx="15" ry="6" fill="#C0A070" transform="rotate(58 979 1284)" clip-path="url(#p6pel)"/>
<ellipse cx="1134" cy="1257" rx="15" ry="6" fill="#B09060" transform="rotate(-29 1134 1257)" clip-path="url(#p6pel)"/>
<ellipse cx="576" cy="1120" rx="14" ry="6" fill="#9A7A4E" transform="rotate(-35 576 1120)" clip-path="url(#p6pel)"/>
<ellipse cx="709" cy="1114" rx="11" ry="6" fill="#7A5A34" transform="rotate(-30 709 1114)" clip-path="url(#p6pel)"/>
<ellipse cx="901" cy="1116" rx="12" ry="6" fill="#7A5A34" transform="rotate(9 901 1116)" clip-path="url(#p6pel)"/>
<ellipse cx="584" cy="1364" rx="18" ry="6" fill="#7A5A34" transform="rotate(8 584 1364)" clip-path="url(#p6pel)"/>
<ellipse cx="425" cy="1257" rx="16" ry="6" fill="#7A5A34" transform="rotate(-31 425 1257)" clip-path="url(#p6pel)"/>
<ellipse cx="936" cy="1272" rx="13" ry="6" fill="#C0A070" transform="rotate(-28 936 1272)" clip-path="url(#p6pel)"/>
<ellipse cx="1221" cy="1176" rx="16" ry="6" fill="#7A5A34" transform="rotate(48 1221 1176)" clip-path="url(#p6pel)"/>
<ellipse cx="905" cy="1219" rx="14" ry="6" fill="#C0A070" transform="rotate(-40 905 1219)" clip-path="url(#p6pel)"/>
<ellipse cx="1094" cy="1350" rx="13" ry="6" fill="#7A5A34" transform="rotate(-45 1094 1350)" clip-path="url(#p6pel)"/>
<ellipse cx="1167" cy="1113" rx="17" ry="6" fill="#7A5A34" transform="rotate(31 1167 1113)" clip-path="url(#p6pel)"/>
<ellipse cx="738" cy="1065" rx="15" ry="6" fill="#B09060" transform="rotate(-5 738 1065)" clip-path="url(#p6pel)"/>
<ellipse cx="775" cy="1305" rx="17" ry="6" fill="#7A5A34" transform="rotate(-23 775 1305)" clip-path="url(#p6pel)"/>
<ellipse cx="1024" cy="1288" rx="13" ry="6" fill="#B09060" transform="rotate(-41 1024 1288)" clip-path="url(#p6pel)"/>
<ellipse cx="783" cy="1013" rx="14" ry="6" fill="#B09060" transform="rotate(8 783 1013)" clip-path="url(#p6pel)"/>
<ellipse cx="562" cy="1203" rx="12" ry="6" fill="#C0A070" transform="rotate(-54 562 1203)" clip-path="url(#p6pel)"/>
<ellipse cx="1129" cy="1281" rx="16" ry="6" fill="#9A7A4E" transform="rotate(55 1129 1281)" clip-path="url(#p6pel)"/>
<ellipse cx="958" cy="1183" rx="13" ry="6" fill="#9A7A4E" transform="rotate(30 958 1183)" clip-path="url(#p6pel)"/>
<ellipse cx="852" cy="1388" rx="17" ry="6" fill="#9A7A4E" transform="rotate(39 852 1388)" clip-path="url(#p6pel)"/>
<ellipse cx="509" cy="1045" rx="18" ry="6" fill="#C0A070" transform="rotate(3 509 1045)" clip-path="url(#p6pel)"/>
<ellipse cx="802" cy="1353" rx="13" ry="6" fill="#B09060" transform="rotate(-24 802 1353)" clip-path="url(#p6pel)"/>
<ellipse cx="973" cy="1169" rx="13" ry="6" fill="#C0A070" transform="rotate(30 973 1169)" clip-path="url(#p6pel)"/>
<ellipse cx="683" cy="1231" rx="11" ry="6" fill="#B09060" transform="rotate(41 683 1231)" clip-path="url(#p6pel)"/>
<ellipse cx="625" cy="1340" rx="18" ry="6" fill="#9A7A4E" transform="rotate(23 625 1340)" clip-path="url(#p6pel)"/>
<ellipse cx="889" cy="1093" rx="12" ry="6" fill="#9A7A4E" transform="rotate(53 889 1093)" clip-path="url(#p6pel)"/>
<ellipse cx="1218" cy="1390" rx="16" ry="6" fill="#C0A070" transform="rotate(44 1218 1390)" clip-path="url(#p6pel)"/>
<ellipse cx="792" cy="1314" rx="12" ry="6" fill="#9A7A4E" transform="rotate(8 792 1314)" clip-path="url(#p6pel)"/>
<ellipse cx="1240" cy="1038" rx="16" ry="6" fill="#B09060" transform="rotate(46 1240 1038)" clip-path="url(#p6pel)"/>
<ellipse cx="936" cy="1177" rx="12" ry="6" fill="#C0A070" transform="rotate(-57 936 1177)" clip-path="url(#p6pel)"/>
<ellipse cx="560" cy="1172" rx="14" ry="6" fill="#9A7A4E" transform="rotate(-43 560 1172)" clip-path="url(#p6pel)"/>
<ellipse cx="1044" cy="1090" rx="12" ry="6" fill="#9A7A4E" transform="rotate(48 1044 1090)" clip-path="url(#p6pel)"/>
<ellipse cx="686" cy="1194" rx="17" ry="6" fill="#9A7A4E" transform="rotate(45 686 1194)" clip-path="url(#p6pel)"/>
<ellipse cx="589" cy="1335" rx="16" ry="6" fill="#B09060" transform="rotate(-37 589 1335)" clip-path="url(#p6pel)"/>
<ellipse cx="1179" cy="1138" rx="14" ry="6" fill="#7A5A34" transform="rotate(16 1179 1138)" clip-path="url(#p6pel)"/>
<ellipse cx="1049" cy="1218" rx="14" ry="6" fill="#7A5A34" transform="rotate(-37 1049 1218)" clip-path="url(#p6pel)"/>
<ellipse cx="1219" cy="1020" rx="11" ry="6" fill="#C0A070" transform="rotate(55 1219 1020)" clip-path="url(#p6pel)"/>
<ellipse cx="655" cy="1164" rx="17" ry="6" fill="#C0A070" transform="rotate(24 655 1164)" clip-path="url(#p6pel)"/>
<ellipse cx="1272" cy="1174" rx="11" ry="6" fill="#7A5A34" transform="rotate(43 1272 1174)" clip-path="url(#p6pel)"/>
<ellipse cx="512" cy="1270" rx="12" ry="6" fill="#7A5A34" transform="rotate(0 512 1270)" clip-path="url(#p6pel)"/>
<ellipse cx="675" cy="1107" rx="16" ry="6" fill="#B09060" transform="rotate(11 675 1107)" clip-path="url(#p6pel)"/>
<ellipse cx="613" cy="1117" rx="17" ry="6" fill="#7A5A34" transform="rotate(-27 613 1117)" clip-path="url(#p6pel)"/>
<ellipse cx="995" cy="1035" rx="18" ry="6" fill="#9A7A4E" transform="rotate(50 995 1035)" clip-path="url(#p6pel)"/>
<ellipse cx="469" cy="1354" rx="10" ry="6" fill="#C0A070" transform="rotate(4 469 1354)" clip-path="url(#p6pel)"/>
<ellipse cx="794" cy="1222" rx="11" ry="6" fill="#7A5A34" transform="rotate(-30 794 1222)" clip-path="url(#p6pel)"/>
<ellipse cx="660" cy="1214" rx="11" ry="6" fill="#7A5A34" transform="rotate(59 660 1214)" clip-path="url(#p6pel)"/>
<ellipse cx="431" cy="1180" rx="16" ry="6" fill="#9A7A4E" transform="rotate(-60 431 1180)" clip-path="url(#p6pel)"/>
<ellipse cx="1229" cy="1023" rx="11" ry="6" fill="#C0A070" transform="rotate(-22 1229 1023)" clip-path="url(#p6pel)"/>
<ellipse cx="850" cy="1012" rx="12" ry="6" fill="#7A5A34" transform="rotate(11 850 1012)" clip-path="url(#p6pel)"/>
<ellipse cx="1117" cy="1044" rx="13" ry="6" fill="#9A7A4E" transform="rotate(6 1117 1044)" clip-path="url(#p6pel)"/>
<ellipse cx="638" cy="1279" rx="16" ry="6" fill="#C0A070" transform="rotate(-1 638 1279)" clip-path="url(#p6pel)"/>
<ellipse cx="606" cy="1226" rx="14" ry="6" fill="#B09060" transform="rotate(-36 606 1226)" clip-path="url(#p6pel)"/>
<ellipse cx="1303" cy="1020" rx="14" ry="6" fill="#7A5A34" transform="rotate(-21 1303 1020)" clip-path="url(#p6pel)"/>
<ellipse cx="966" cy="1237" rx="16" ry="6" fill="#9A7A4E" transform="rotate(27 966 1237)" clip-path="url(#p6pel)"/>
<ellipse cx="1197" cy="1012" rx="11" ry="6" fill="#7A5A34" transform="rotate(8 1197 1012)" clip-path="url(#p6pel)"/>
<ellipse cx="905" cy="1309" rx="12" ry="6" fill="#7A5A34" transform="rotate(-54 905 1309)" clip-path="url(#p6pel)"/>
<ellipse cx="796" cy="1271" rx="17" ry="6" fill="#C0A070" transform="rotate(32 796 1271)" clip-path="url(#p6pel)"/>
<ellipse cx="863" cy="1254" rx="14" ry="6" fill="#9A7A4E" transform="rotate(-29 863 1254)" clip-path="url(#p6pel)"/>
<ellipse cx="549" cy="1269" rx="17" ry="6" fill="#9A7A4E" transform="rotate(-53 549 1269)" clip-path="url(#p6pel)"/>
<ellipse cx="782" cy="1142" rx="12" ry="6" fill="#B09060" transform="rotate(-45 782 1142)" clip-path="url(#p6pel)"/>
<ellipse cx="1103" cy="1234" rx="11" ry="6" fill="#9A7A4E" transform="rotate(3 1103 1234)" clip-path="url(#p6pel)"/>
<ellipse cx="1317" cy="1001" rx="13" ry="6" fill="#7A5A34" transform="rotate(-49 1317 1001)" clip-path="url(#p6pel)"/>
<ellipse cx="917" cy="1184" rx="17" ry="6" fill="#B09060" transform="rotate(22 917 1184)" clip-path="url(#p6pel)"/>
<ellipse cx="1067" cy="1381" rx="15" ry="6" fill="#C0A070" transform="rotate(-30 1067 1381)" clip-path="url(#p6pel)"/>
<ellipse cx="913" cy="1094" rx="14" ry="6" fill="#7A5A34" transform="rotate(-16 913 1094)" clip-path="url(#p6pel)"/>
<ellipse cx="713" cy="1383" rx="15" ry="6" fill="#B09060" transform="rotate(-41 713 1383)" clip-path="url(#p6pel)"/>
<ellipse cx="944" cy="1388" rx="16" ry="6" fill="#7A5A34" transform="rotate(-4 944 1388)" clip-path="url(#p6pel)"/>
<ellipse cx="765" cy="1329" rx="13" ry="6" fill="#B09060" transform="rotate(-34 765 1329)" clip-path="url(#p6pel)"/>
<ellipse cx="723" cy="1072" rx="14" ry="6" fill="#7A5A34" transform="rotate(-2 723 1072)" clip-path="url(#p6pel)"/>
<ellipse cx="772" cy="1232" rx="16" ry="6" fill="#9A7A4E" transform="rotate(-6 772 1232)" clip-path="url(#p6pel)"/>
<ellipse cx="1324" cy="1265" rx="17" ry="6" fill="#7A5A34" transform="rotate(5 1324 1265)" clip-path="url(#p6pel)"/>
<ellipse cx="790" cy="1018" rx="12" ry="6" fill="#C0A070" transform="rotate(15 790 1018)" clip-path="url(#p6pel)"/>
<ellipse cx="883" cy="1289" rx="14" ry="6" fill="#7A5A34" transform="rotate(-28 883 1289)" clip-path="url(#p6pel)"/>
<ellipse cx="736" cy="1060" rx="17" ry="6" fill="#C0A070" transform="rotate(-44 736 1060)" clip-path="url(#p6pel)"/>
<ellipse cx="624" cy="1327" rx="11" ry="6" fill="#C0A070" transform="rotate(41 624 1327)" clip-path="url(#p6pel)"/>
<ellipse cx="818" cy="1333" rx="13" ry="6" fill="#C0A070" transform="rotate(32 818 1333)" clip-path="url(#p6pel)"/>
<ellipse cx="883" cy="1021" rx="13" ry="6" fill="#7A5A34" transform="rotate(-1 883 1021)" clip-path="url(#p6pel)"/>
<ellipse cx="575" cy="1200" rx="11" ry="6" fill="#7A5A34" transform="rotate(-23 575 1200)" clip-path="url(#p6pel)"/>
<ellipse cx="794" cy="1212" rx="11" ry="6" fill="#C0A070" transform="rotate(-22 794 1212)" clip-path="url(#p6pel)"/>
<ellipse cx="820" cy="1147" rx="17" ry="6" fill="#C0A070" transform="rotate(4 820 1147)" clip-path="url(#p6pel)"/>
<ellipse cx="818" cy="1053" rx="14" ry="6" fill="#C0A070" transform="rotate(-33 818 1053)" clip-path="url(#p6pel)"/>
<ellipse cx="672" cy="1135" rx="12" ry="6" fill="#B09060" transform="rotate(42 672 1135)" clip-path="url(#p6pel)"/>
<ellipse cx="1095" cy="1188" rx="10" ry="6" fill="#C0A070" transform="rotate(19 1095 1188)" clip-path="url(#p6pel)"/>
<ellipse cx="462" cy="1333" rx="14" ry="6" fill="#C0A070" transform="rotate(20 462 1333)" clip-path="url(#p6pel)"/>
<ellipse cx="1288" cy="1339" rx="12" ry="6" fill="#C0A070" transform="rotate(-49 1288 1339)" clip-path="url(#p6pel)"/>
<ellipse cx="798" cy="1153" rx="10" ry="6" fill="#9A7A4E" transform="rotate(52 798 1153)" clip-path="url(#p6pel)"/>
<ellipse cx="665" cy="1274" rx="12" ry="6" fill="#9A7A4E" transform="rotate(-36 665 1274)" clip-path="url(#p6pel)"/>
<ellipse cx="1115" cy="1137" rx="16" ry="6" fill="#B09060" transform="rotate(29 1115 1137)" clip-path="url(#p6pel)"/>
<ellipse cx="1244" cy="1314" rx="14" ry="6" fill="#C0A070" transform="rotate(24 1244 1314)" clip-path="url(#p6pel)"/>
<ellipse cx="914" cy="1273" rx="10" ry="6" fill="#9A7A4E" transform="rotate(-46 914 1273)" clip-path="url(#p6pel)"/>
<ellipse cx="1246" cy="1356" rx="12" ry="6" fill="#9A7A4E" transform="rotate(-1 1246 1356)" clip-path="url(#p6pel)"/>
<ellipse cx="945" cy="1183" rx="13" ry="6" fill="#C0A070" transform="rotate(-51 945 1183)" clip-path="url(#p6pel)"/>
<ellipse cx="433" cy="1126" rx="13" ry="6" fill="#C0A070" transform="rotate(-29 433 1126)" clip-path="url(#p6pel)"/>
<ellipse cx="1021" cy="1073" rx="14" ry="6" fill="#C0A070" transform="rotate(55 1021 1073)" clip-path="url(#p6pel)"/>
<ellipse cx="737" cy="1225" rx="18" ry="6" fill="#B09060" transform="rotate(15 737 1225)" clip-path="url(#p6pel)"/>
<ellipse cx="977" cy="1160" rx="13" ry="6" fill="#C0A070" transform="rotate(-52 977 1160)" clip-path="url(#p6pel)"/>
<ellipse cx="831" cy="1175" rx="18" ry="6" fill="#9A7A4E" transform="rotate(-55 831 1175)" clip-path="url(#p6pel)"/>
<ellipse cx="526" cy="1198" rx="12" ry="6" fill="#C0A070" transform="rotate(-3 526 1198)" clip-path="url(#p6pel)"/>
<ellipse cx="420" cy="1236" rx="12" ry="6" fill="#C0A070" transform="rotate(22 420 1236)" clip-path="url(#p6pel)"/>
<ellipse cx="618" cy="1000" rx="14" ry="6" fill="#9A7A4E" transform="rotate(-60 618 1000)" clip-path="url(#p6pel)"/>
<ellipse cx="909" cy="1331" rx="16" ry="6" fill="#B09060" transform="rotate(15 909 1331)" clip-path="url(#p6pel)"/>
<ellipse cx="922" cy="1324" rx="18" ry="6" fill="#C0A070" transform="rotate(-28 922 1324)" clip-path="url(#p6pel)"/>
<ellipse cx="497" cy="1008" rx="16" ry="6" fill="#7A5A34" transform="rotate(23 497 1008)" clip-path="url(#p6pel)"/>
<ellipse cx="1038" cy="1376" rx="17" ry="6" fill="#7A5A34" transform="rotate(-20 1038 1376)" clip-path="url(#p6pel)"/>
<ellipse cx="1041" cy="1314" rx="12" ry="6" fill="#9A7A4E" transform="rotate(-26 1041 1314)" clip-path="url(#p6pel)"/>
<ellipse cx="1097" cy="1208" rx="12" ry="6" fill="#7A5A34" transform="rotate(-17 1097 1208)" clip-path="url(#p6pel)"/>
<ellipse cx="1057" cy="1358" rx="16" ry="6" fill="#B09060" transform="rotate(59 1057 1358)" clip-path="url(#p6pel)"/>
<ellipse cx="1161" cy="1345" rx="12" ry="6" fill="#9A7A4E" transform="rotate(1 1161 1345)" clip-path="url(#p6pel)"/>
<ellipse cx="1032" cy="1016" rx="15" ry="6" fill="#9A7A4E" transform="rotate(44 1032 1016)" clip-path="url(#p6pel)"/>
<ellipse cx="450" cy="1099" rx="14" ry="6" fill="#9A7A4E" transform="rotate(-30 450 1099)" clip-path="url(#p6pel)"/>
<ellipse cx="990" cy="1143" rx="15" ry="6" fill="#7A5A34" transform="rotate(-20 990 1143)" clip-path="url(#p6pel)"/>
<ellipse cx="1106" cy="1329" rx="17" ry="6" fill="#9A7A4E" transform="rotate(17 1106 1329)" clip-path="url(#p6pel)"/>
<ellipse cx="517" cy="1289" rx="12" ry="6" fill="#7A5A34" transform="rotate(-45 517 1289)" clip-path="url(#p6pel)"/>
<ellipse cx="751" cy="1261" rx="12" ry="6" fill="#7A5A34" transform="rotate(57 751 1261)" clip-path="url(#p6pel)"/>
<ellipse cx="839" cy="1271" rx="16" ry="6" fill="#7A5A34" transform="rotate(-28 839 1271)" clip-path="url(#p6pel)"/>
<ellipse cx="652" cy="1098" rx="15" ry="6" fill="#9A7A4E" transform="rotate(52 652 1098)" clip-path="url(#p6pel)"/>
<ellipse cx="1320" cy="1019" rx="16" ry="6" fill="#B09060" transform="rotate(44 1320 1019)" clip-path="url(#p6pel)"/>
<ellipse cx="580" cy="1139" rx="14" ry="6" fill="#B09060" transform="rotate(-11 580 1139)" clip-path="url(#p6pel)"/>
<ellipse cx="1241" cy="1325" rx="17" ry="6" fill="#7A5A34" transform="rotate(-15 1241 1325)" clip-path="url(#p6pel)"/>
<ellipse cx="688" cy="1312" rx="17" ry="6" fill="#C0A070" transform="rotate(-33 688 1312)" clip-path="url(#p6pel)"/>
<ellipse cx="1071" cy="1159" rx="11" ry="6" fill="#9A7A4E" transform="rotate(21 1071 1159)" clip-path="url(#p6pel)"/>
<ellipse cx="601" cy="1110" rx="17" ry="6" fill="#9A7A4E" transform="rotate(-39 601 1110)" clip-path="url(#p6pel)"/>
<ellipse cx="500" cy="1364" rx="12" ry="6" fill="#9A7A4E" transform="rotate(-8 500 1364)" clip-path="url(#p6pel)"/>
<ellipse cx="541" cy="1345" rx="12" ry="6" fill="#7A5A34" transform="rotate(-27 541 1345)" clip-path="url(#p6pel)"/>
<ellipse cx="772" cy="1126" rx="11" ry="6" fill="#7A5A34" transform="rotate(-16 772 1126)" clip-path="url(#p6pel)"/>
<ellipse cx="641" cy="1020" rx="11" ry="6" fill="#C0A070" transform="rotate(20 641 1020)" clip-path="url(#p6pel)"/>
<ellipse cx="404" cy="1131" rx="11" ry="6" fill="#7A5A34" transform="rotate(59 404 1131)" clip-path="url(#p6pel)"/>
<ellipse cx="780" cy="1013" rx="13" ry="6" fill="#9A7A4E" transform="rotate(7 780 1013)" clip-path="url(#p6pel)"/>
<ellipse cx="600" cy="1241" rx="17" ry="6" fill="#C0A070" transform="rotate(-27 600 1241)" clip-path="url(#p6pel)"/>
<ellipse cx="1273" cy="1337" rx="18" ry="6" fill="#9A7A4E" transform="rotate(9 1273 1337)" clip-path="url(#p6pel)"/>
<ellipse cx="1275" cy="1018" rx="17" ry="6" fill="#7A5A34" transform="rotate(5 1275 1018)" clip-path="url(#p6pel)"/>
<ellipse cx="1028" cy="1106" rx="10" ry="6" fill="#C0A070" transform="rotate(-52 1028 1106)" clip-path="url(#p6pel)"/>
<ellipse cx="833" cy="1346" rx="11" ry="6" fill="#C0A070" transform="rotate(-59 833 1346)" clip-path="url(#p6pel)"/>
<ellipse cx="890" cy="1316" rx="16" ry="6" fill="#9A7A4E" transform="rotate(-12 890 1316)" clip-path="url(#p6pel)"/>
<ellipse cx="1147" cy="1323" rx="16" ry="6" fill="#B09060" transform="rotate(52 1147 1323)" clip-path="url(#p6pel)"/>
<ellipse cx="848" cy="1328" rx="13" ry="6" fill="#B09060" transform="rotate(-59 848 1328)" clip-path="url(#p6pel)"/>
<ellipse cx="531" cy="1126" rx="16" ry="6" fill="#C0A070" transform="rotate(37 531 1126)" clip-path="url(#p6pel)"/>
<ellipse cx="739" cy="1249" rx="13" ry="6" fill="#C0A070" transform="rotate(-52 739 1249)" clip-path="url(#p6pel)"/>
<ellipse cx="1008" cy="1232" rx="12" ry="6" fill="#7A5A34" transform="rotate(29 1008 1232)" clip-path="url(#p6pel)"/>
<ellipse cx="597" cy="1290" rx="14" ry="6" fill="#7A5A34" transform="rotate(-39 597 1290)" clip-path="url(#p6pel)"/>
<ellipse cx="498" cy="1056" rx="13" ry="6" fill="#9A7A4E" transform="rotate(-57 498 1056)" clip-path="url(#p6pel)"/>
<ellipse cx="772" cy="1020" rx="11" ry="6" fill="#7A5A34" transform="rotate(-58 772 1020)" clip-path="url(#p6pel)"/>
<ellipse cx="562" cy="1026" rx="15" ry="6" fill="#C0A070" transform="rotate(-8 562 1026)" clip-path="url(#p6pel)"/>
<ellipse cx="1295" cy="1086" rx="13" ry="6" fill="#7A5A34" transform="rotate(38 1295 1086)" clip-path="url(#p6pel)"/>
<ellipse cx="465" cy="1152" rx="17" ry="6" fill="#7A5A34" transform="rotate(33 465 1152)" clip-path="url(#p6pel)"/>
<ellipse cx="888" cy="1004" rx="16" ry="6" fill="#9A7A4E" transform="rotate(49 888 1004)" clip-path="url(#p6pel)"/>
<ellipse cx="451" cy="1240" rx="13" ry="6" fill="#9A7A4E" transform="rotate(43 451 1240)" clip-path="url(#p6pel)"/>
<ellipse cx="985" cy="1197" rx="15" ry="6" fill="#B09060" transform="rotate(-45 985 1197)" clip-path="url(#p6pel)"/>
<ellipse cx="1087" cy="1290" rx="13" ry="6" fill="#9A7A4E" transform="rotate(-10 1087 1290)" clip-path="url(#p6pel)"/>
<ellipse cx="758" cy="1090" rx="15" ry="6" fill="#B09060" transform="rotate(2 758 1090)" clip-path="url(#p6pel)"/>
<ellipse cx="430" cy="1245" rx="14" ry="6" fill="#B09060" transform="rotate(11 430 1245)" clip-path="url(#p6pel)"/>
<ellipse cx="1266" cy="1059" rx="14" ry="6" fill="#C0A070" transform="rotate(29 1266 1059)" clip-path="url(#p6pel)"/>
<ellipse cx="691" cy="1287" rx="18" ry="6" fill="#9A7A4E" transform="rotate(-54 691 1287)" clip-path="url(#p6pel)"/>
<ellipse cx="1300" cy="1294" rx="17" ry="6" fill="#B09060" transform="rotate(-32 1300 1294)" clip-path="url(#p6pel)"/>
<ellipse cx="1181" cy="1253" rx="18" ry="6" fill="#B09060" transform="rotate(36 1181 1253)" clip-path="url(#p6pel)"/>
<ellipse cx="876" cy="1388" rx="11" ry="6" fill="#B09060" transform="rotate(25 876 1388)" clip-path="url(#p6pel)"/>
<ellipse cx="633" cy="1315" rx="14" ry="6" fill="#B09060" transform="rotate(44 633 1315)" clip-path="url(#p6pel)"/>
<ellipse cx="582" cy="1109" rx="15" ry="6" fill="#B09060" transform="rotate(-47 582 1109)" clip-path="url(#p6pel)"/>
<ellipse cx="810" cy="1295" rx="17" ry="6" fill="#B09060" transform="rotate(36 810 1295)" clip-path="url(#p6pel)"/>
<ellipse cx="1195" cy="1301" rx="14" ry="6" fill="#B09060" transform="rotate(36 1195 1301)" clip-path="url(#p6pel)"/>
<ellipse cx="541" cy="1143" rx="11" ry="6" fill="#B09060" transform="rotate(51 541 1143)" clip-path="url(#p6pel)"/>
<ellipse cx="1288" cy="1086" rx="12" ry="6" fill="#9A7A4E" transform="rotate(-38 1288 1086)" clip-path="url(#p6pel)"/>
<ellipse cx="761" cy="1331" rx="15" ry="6" fill="#9A7A4E" transform="rotate(-51 761 1331)" clip-path="url(#p6pel)"/>
<ellipse cx="1319" cy="1081" rx="15" ry="6" fill="#7A5A34" transform="rotate(7 1319 1081)" clip-path="url(#p6pel)"/>
<ellipse cx="1325" cy="1148" rx="17" ry="6" fill="#C0A070" transform="rotate(41 1325 1148)" clip-path="url(#p6pel)"/>
<ellipse cx="1280" cy="1257" rx="12" ry="6" fill="#7A5A34" transform="rotate(-38 1280 1257)" clip-path="url(#p6pel)"/>
<ellipse cx="519" cy="1271" rx="14" ry="6" fill="#7A5A34" transform="rotate(-27 519 1271)" clip-path="url(#p6pel)"/>
<ellipse cx="640" cy="1134" rx="15" ry="6" fill="#C0A070" transform="rotate(-36 640 1134)" clip-path="url(#p6pel)"/>
<ellipse cx="1325" cy="1270" rx="16" ry="6" fill="#C0A070" transform="rotate(44 1325 1270)" clip-path="url(#p6pel)"/>
<ellipse cx="1116" cy="1078" rx="11" ry="6" fill="#C0A070" transform="rotate(-9 1116 1078)" clip-path="url(#p6pel)"/>
<ellipse cx="1163" cy="1160" rx="14" ry="6" fill="#B09060" transform="rotate(53 1163 1160)" clip-path="url(#p6pel)"/>
<ellipse cx="722" cy="1274" rx="12" ry="6" fill="#B09060" transform="rotate(-26 722 1274)" clip-path="url(#p6pel)"/>
<ellipse cx="1212" cy="1112" rx="17" ry="6" fill="#9A7A4E" transform="rotate(-33 1212 1112)" clip-path="url(#p6pel)"/>
<ellipse cx="844" cy="1078" rx="13" ry="6" fill="#7A5A34" transform="rotate(-6 844 1078)" clip-path="url(#p6pel)"/>
<ellipse cx="460" cy="1163" rx="12" ry="6" fill="#9A7A4E" transform="rotate(19 460 1163)" clip-path="url(#p6pel)"/>
<ellipse cx="649" cy="1258" rx="10" ry="6" fill="#7A5A34" transform="rotate(-58 649 1258)" clip-path="url(#p6pel)"/>
<ellipse cx="749" cy="1231" rx="17" ry="6" fill="#9A7A4E" transform="rotate(-10 749 1231)" clip-path="url(#p6pel)"/>
<ellipse cx="718" cy="1320" rx="17" ry="6" fill="#B09060" transform="rotate(6 718 1320)" clip-path="url(#p6pel)"/>
<ellipse cx="492" cy="1350" rx="11" ry="6" fill="#C0A070" transform="rotate(-58 492 1350)" clip-path="url(#p6pel)"/>
<ellipse cx="428" cy="1230" rx="16" ry="6" fill="#B09060" transform="rotate(20 428 1230)" clip-path="url(#p6pel)"/>
<ellipse cx="545" cy="1028" rx="11" ry="6" fill="#C0A070" transform="rotate(-2 545 1028)" clip-path="url(#p6pel)"/>
<ellipse cx="1006" cy="1024" rx="12" ry="6" fill="#B09060" transform="rotate(59 1006 1024)" clip-path="url(#p6pel)"/>
<ellipse cx="767" cy="1323" rx="15" ry="6" fill="#B09060" transform="rotate(60 767 1323)" clip-path="url(#p6pel)"/>
<ellipse cx="462" cy="1180" rx="13" ry="6" fill="#7A5A34" transform="rotate(2 462 1180)" clip-path="url(#p6pel)"/>
<ellipse cx="943" cy="1194" rx="17" ry="6" fill="#9A7A4E" transform="rotate(-48 943 1194)" clip-path="url(#p6pel)"/>
<ellipse cx="1139" cy="1001" rx="18" ry="6" fill="#C0A070" transform="rotate(20 1139 1001)" clip-path="url(#p6pel)"/>
<ellipse cx="1302" cy="1185" rx="17" ry="6" fill="#9A7A4E" transform="rotate(-4 1302 1185)" clip-path="url(#p6pel)"/>
<ellipse cx="415" cy="1335" rx="18" ry="6" fill="#B09060" transform="rotate(-47 415 1335)" clip-path="url(#p6pel)"/>
<ellipse cx="784" cy="1219" rx="18" ry="6" fill="#B09060" transform="rotate(-24 784 1219)" clip-path="url(#p6pel)"/>
<ellipse cx="872" cy="1049" rx="15" ry="6" fill="#7A5A34" transform="rotate(20 872 1049)" clip-path="url(#p6pel)"/>
<ellipse cx="874" cy="1120" rx="13" ry="6" fill="#7A5A34" transform="rotate(-30 874 1120)" clip-path="url(#p6pel)"/>
<ellipse cx="785" cy="1021" rx="12" ry="6" fill="#9A7A4E" transform="rotate(-40 785 1021)" clip-path="url(#p6pel)"/>
<ellipse cx="497" cy="1054" rx="17" ry="6" fill="#7A5A34" transform="rotate(-43 497 1054)" clip-path="url(#p6pel)"/>
<ellipse cx="925" cy="1068" rx="15" ry="6" fill="#B09060" transform="rotate(-10 925 1068)" clip-path="url(#p6pel)"/>
<ellipse cx="410" cy="1060" rx="17" ry="6" fill="#9A7A4E" transform="rotate(-41 410 1060)" clip-path="url(#p6pel)"/>
<ellipse cx="894" cy="1011" rx="11" ry="6" fill="#C0A070" transform="rotate(49 894 1011)" clip-path="url(#p6pel)"/>
<ellipse cx="905" cy="1297" rx="16" ry="6" fill="#9A7A4E" transform="rotate(-10 905 1297)" clip-path="url(#p6pel)"/>
<ellipse cx="473" cy="1102" rx="11" ry="6" fill="#9A7A4E" transform="rotate(-21 473 1102)" clip-path="url(#p6pel)"/>
<ellipse cx="855" cy="1255" rx="17" ry="6" fill="#7A5A34" transform="rotate(8 855 1255)" clip-path="url(#p6pel)"/>
<ellipse cx="866" cy="1353" rx="13" ry="6" fill="#C0A070" transform="rotate(-28 866 1353)" clip-path="url(#p6pel)"/>
<ellipse cx="958" cy="1086" rx="11" ry="6" fill="#9A7A4E" transform="rotate(-14 958 1086)" clip-path="url(#p6pel)"/>
<ellipse cx="1003" cy="1130" rx="11" ry="6" fill="#C0A070" transform="rotate(40 1003 1130)" clip-path="url(#p6pel)"/>
<ellipse cx="457" cy="1206" rx="14" ry="6" fill="#9A7A4E" transform="rotate(38 457 1206)" clip-path="url(#p6pel)"/>
<ellipse cx="1028" cy="1278" rx="10" ry="6" fill="#C0A070" transform="rotate(-2 1028 1278)" clip-path="url(#p6pel)"/>
<ellipse cx="614" cy="1292" rx="14" ry="6" fill="#B09060" transform="rotate(-15 614 1292)" clip-path="url(#p6pel)"/>
<ellipse cx="952" cy="1041" rx="16" ry="6" fill="#C0A070" transform="rotate(55 952 1041)" clip-path="url(#p6pel)"/>
<ellipse cx="740" cy="1233" rx="13" ry="6" fill="#C0A070" transform="rotate(-35 740 1233)" clip-path="url(#p6pel)"/>
<ellipse cx="1109" cy="1022" rx="11" ry="6" fill="#B09060" transform="rotate(2 1109 1022)" clip-path="url(#p6pel)"/>
<ellipse cx="1101" cy="1021" rx="11" ry="6" fill="#C0A070" transform="rotate(11 1101 1021)" clip-path="url(#p6pel)"/>
<ellipse cx="1151" cy="1368" rx="15" ry="6" fill="#C0A070" transform="rotate(-12 1151 1368)" clip-path="url(#p6pel)"/>
<ellipse cx="666" cy="1265" rx="11" ry="6" fill="#7A5A34" transform="rotate(40 666 1265)" clip-path="url(#p6pel)"/>
<ellipse cx="705" cy="1124" rx="17" ry="6" fill="#C0A070" transform="rotate(17 705 1124)" clip-path="url(#p6pel)"/>
<ellipse cx="453" cy="1298" rx="10" ry="6" fill="#B09060" transform="rotate(6 453 1298)" clip-path="url(#p6pel)"/>
<ellipse cx="1262" cy="1249" rx="10" ry="6" fill="#7A5A34" transform="rotate(10 1262 1249)" clip-path="url(#p6pel)"/>
<ellipse cx="405" cy="1287" rx="13" ry="6" fill="#B09060" transform="rotate(-39 405 1287)" clip-path="url(#p6pel)"/>
<ellipse cx="478" cy="1267" rx="11" ry="6" fill="#9A7A4E" transform="rotate(21 478 1267)" clip-path="url(#p6pel)"/>
<ellipse cx="1145" cy="1174" rx="17" ry="6" fill="#B09060" transform="rotate(40 1145 1174)" clip-path="url(#p6pel)"/>
<ellipse cx="1290" cy="1139" rx="17" ry="6" fill="#B09060" transform="rotate(24 1290 1139)" clip-path="url(#p6pel)"/>
<ellipse cx="769" cy="1269" rx="15" ry="6" fill="#B09060" transform="rotate(51 769 1269)" clip-path="url(#p6pel)"/>
<ellipse cx="596" cy="1162" rx="14" ry="6" fill="#B09060" transform="rotate(-41 596 1162)" clip-path="url(#p6pel)"/>
<ellipse cx="655" cy="1159" rx="17" ry="6" fill="#9A7A4E" transform="rotate(-36 655 1159)" clip-path="url(#p6pel)"/>
<ellipse cx="1054" cy="1193" rx="13" ry="6" fill="#9A7A4E" transform="rotate(1 1054 1193)" clip-path="url(#p6pel)"/>
<ellipse cx="848" cy="1214" rx="17" ry="6" fill="#C0A070" transform="rotate(-36 848 1214)" clip-path="url(#p6pel)"/>
<ellipse cx="722" cy="1064" rx="13" ry="6" fill="#9A7A4E" transform="rotate(-6 722 1064)" clip-path="url(#p6pel)"/>
<ellipse cx="948" cy="1180" rx="16" ry="6" fill="#7A5A34" transform="rotate(-2 948 1180)" clip-path="url(#p6pel)"/>
<ellipse cx="1312" cy="1128" rx="16" ry="6" fill="#7A5A34" transform="rotate(16 1312 1128)" clip-path="url(#p6pel)"/>
<ellipse cx="726" cy="1160" rx="10" ry="6" fill="#B09060" transform="rotate(36 726 1160)" clip-path="url(#p6pel)"/>
<ellipse cx="637" cy="1095" rx="12" ry="6" fill="#B09060" transform="rotate(7 637 1095)" clip-path="url(#p6pel)"/>
<ellipse cx="1307" cy="1355" rx="14" ry="6" fill="#9A7A4E" transform="rotate(-46 1307 1355)" clip-path="url(#p6pel)"/>
<ellipse cx="573" cy="1242" rx="15" ry="6" fill="#7A5A34" transform="rotate(-56 573 1242)" clip-path="url(#p6pel)"/>
<ellipse cx="1050" cy="1222" rx="14" ry="6" fill="#C0A070" transform="rotate(-1 1050 1222)" clip-path="url(#p6pel)"/>
<ellipse cx="815" cy="1379" rx="13" ry="6" fill="#C0A070" transform="rotate(-48 815 1379)" clip-path="url(#p6pel)"/>
<ellipse cx="1129" cy="1085" rx="12" ry="6" fill="#C0A070" transform="rotate(-46 1129 1085)" clip-path="url(#p6pel)"/>
<ellipse cx="1111" cy="1227" rx="17" ry="6" fill="#C0A070" transform="rotate(23 1111 1227)" clip-path="url(#p6pel)"/>
<ellipse cx="739" cy="1371" rx="16" ry="6" fill="#C0A070" transform="rotate(13 739 1371)" clip-path="url(#p6pel)"/>
<ellipse cx="1173" cy="1383" rx="11" ry="6" fill="#C0A070" transform="rotate(-58 1173 1383)" clip-path="url(#p6pel)"/>
<ellipse cx="900" cy="1099" rx="12" ry="6" fill="#C0A070" transform="rotate(7 900 1099)" clip-path="url(#p6pel)"/>
<ellipse cx="644" cy="1030" rx="10" ry="6" fill="#C0A070" transform="rotate(53 644 1030)" clip-path="url(#p6pel)"/>
<ellipse cx="542" cy="1152" rx="17" ry="6" fill="#7A5A34" transform="rotate(13 542 1152)" clip-path="url(#p6pel)"/>
<ellipse cx="906" cy="1286" rx="14" ry="6" fill="#C0A070" transform="rotate(-23 906 1286)" clip-path="url(#p6pel)"/>
<ellipse cx="797" cy="1304" rx="15" ry="6" fill="#7A5A34" transform="rotate(-2 797 1304)" clip-path="url(#p6pel)"/>
<ellipse cx="1038" cy="1135" rx="12" ry="6" fill="#C0A070" transform="rotate(8 1038 1135)" clip-path="url(#p6pel)"/>
<ellipse cx="724" cy="1091" rx="18" ry="6" fill="#B09060" transform="rotate(9 724 1091)" clip-path="url(#p6pel)"/>
<ellipse cx="1262" cy="1290" rx="12" ry="6" fill="#B09060" transform="rotate(-48 1262 1290)" clip-path="url(#p6pel)"/>
<ellipse cx="926" cy="1047" rx="18" ry="6" fill="#C0A070" transform="rotate(-18 926 1047)" clip-path="url(#p6pel)"/>
<ellipse cx="531" cy="1370" rx="15" ry="6" fill="#7A5A34" transform="rotate(-56 531 1370)" clip-path="url(#p6pel)"/>
<ellipse cx="931" cy="1383" rx="15" ry="6" fill="#B09060" transform="rotate(-8 931 1383)" clip-path="url(#p6pel)"/>
<ellipse cx="1032" cy="1034" rx="16" ry="6" fill="#9A7A4E" transform="rotate(51 1032 1034)" clip-path="url(#p6pel)"/>
<ellipse cx="1218" cy="1040" rx="11" ry="6" fill="#7A5A34" transform="rotate(-51 1218 1040)" clip-path="url(#p6pel)"/>
<ellipse cx="853" cy="1217" rx="18" ry="6" fill="#B09060" transform="rotate(-44 853 1217)" clip-path="url(#p6pel)"/>
<ellipse cx="679" cy="1131" rx="16" ry="6" fill="#7A5A34" transform="rotate(57 679 1131)" clip-path="url(#p6pel)"/>
<ellipse cx="1283" cy="1361" rx="17" ry="6" fill="#B09060" transform="rotate(13 1283 1361)" clip-path="url(#p6pel)"/>
<ellipse cx="1140" cy="1389" rx="15" ry="6" fill="#C0A070" transform="rotate(52 1140 1389)" clip-path="url(#p6pel)"/>
<ellipse cx="480" cy="1203" rx="18" ry="6" fill="#B09060" transform="rotate(-47 480 1203)" clip-path="url(#p6pel)"/>
<ellipse cx="677" cy="1117" rx="18" ry="6" fill="#9A7A4E" transform="rotate(-56 677 1117)" clip-path="url(#p6pel)"/>
<ellipse cx="1172" cy="1269" rx="14" ry="6" fill="#B09060" transform="rotate(-60 1172 1269)" clip-path="url(#p6pel)"/>
<ellipse cx="463" cy="1310" rx="18" ry="6" fill="#7A5A34" transform="rotate(-11 463 1310)" clip-path="url(#p6pel)"/>
<ellipse cx="712" cy="1135" rx="10" ry="6" fill="#7A5A34" transform="rotate(-29 712 1135)" clip-path="url(#p6pel)"/>
<ellipse cx="945" cy="1205" rx="13" ry="6" fill="#C0A070" transform="rotate(-5 945 1205)" clip-path="url(#p6pel)"/>
<ellipse cx="618" cy="1344" rx="11" ry="6" fill="#7A5A34" transform="rotate(-35 618 1344)" clip-path="url(#p6pel)"/>
<ellipse cx="820" cy="1086" rx="17" ry="6" fill="#7A5A34" transform="rotate(-31 820 1086)" clip-path="url(#p6pel)"/>
<ellipse cx="1009" cy="1101" rx="14" ry="6" fill="#C0A070" transform="rotate(9 1009 1101)" clip-path="url(#p6pel)"/>
<ellipse cx="421" cy="1121" rx="11" ry="6" fill="#C0A070" transform="rotate(29 421 1121)" clip-path="url(#p6pel)"/>
<ellipse cx="590" cy="1013" rx="12" ry="6" fill="#B09060" transform="rotate(-51 590 1013)" clip-path="url(#p6pel)"/>
<ellipse cx="1110" cy="1095" rx="12" ry="6" fill="#9A7A4E" transform="rotate(7 1110 1095)" clip-path="url(#p6pel)"/>
<ellipse cx="528" cy="1261" rx="11" ry="6" fill="#B09060" transform="rotate(59 528 1261)" clip-path="url(#p6pel)"/>
<ellipse cx="760" cy="1053" rx="16" ry="6" fill="#7A5A34" transform="rotate(-19 760 1053)" clip-path="url(#p6pel)"/>
<ellipse cx="1135" cy="1148" rx="12" ry="6" fill="#B09060" transform="rotate(-3 1135 1148)" clip-path="url(#p6pel)"/>
<ellipse cx="1161" cy="1005" rx="14" ry="6" fill="#9A7A4E" transform="rotate(55 1161 1005)" clip-path="url(#p6pel)"/>
<ellipse cx="795" cy="1062" rx="11" ry="6" fill="#7A5A34" transform="rotate(45 795 1062)" clip-path="url(#p6pel)"/>
<ellipse cx="1293" cy="1363" rx="13" ry="6" fill="#7A5A34" transform="rotate(-43 1293 1363)" clip-path="url(#p6pel)"/>
<ellipse cx="1065" cy="1369" rx="12" ry="6" fill="#7A5A34" transform="rotate(24 1065 1369)" clip-path="url(#p6pel)"/>
<ellipse cx="620" cy="1331" rx="17" ry="6" fill="#9A7A4E" transform="rotate(-16 620 1331)" clip-path="url(#p6pel)"/>
<ellipse cx="1076" cy="1360" rx="11" ry="6" fill="#B09060" transform="rotate(58 1076 1360)" clip-path="url(#p6pel)"/>
<ellipse cx="1075" cy="1264" rx="11" ry="6" fill="#C0A070" transform="rotate(-38 1075 1264)" clip-path="url(#p6pel)"/>
<ellipse cx="514" cy="1205" rx="14" ry="6" fill="#9A7A4E" transform="rotate(31 514 1205)" clip-path="url(#p6pel)"/>
<ellipse cx="890" cy="1369" rx="11" ry="6" fill="#7A5A34" transform="rotate(-58 890 1369)" clip-path="url(#p6pel)"/>
<ellipse cx="1257" cy="1380" rx="17" ry="6" fill="#7A5A34" transform="rotate(-41 1257 1380)" clip-path="url(#p6pel)"/>
<ellipse cx="707" cy="1222" rx="12" ry="6" fill="#9A7A4E" transform="rotate(-18 707 1222)" clip-path="url(#p6pel)"/>
<ellipse cx="1328" cy="1190" rx="10" ry="6" fill="#7A5A34" transform="rotate(53 1328 1190)" clip-path="url(#p6pel)"/>
<ellipse cx="1309" cy="1010" rx="16" ry="6" fill="#9A7A4E" transform="rotate(5 1309 1010)" clip-path="url(#p6pel)"/>
<ellipse cx="662" cy="1018" rx="13" ry="6" fill="#7A5A34" transform="rotate(55 662 1018)" clip-path="url(#p6pel)"/>
<ellipse cx="423" cy="1165" rx="18" ry="6" fill="#B09060" transform="rotate(-4 423 1165)" clip-path="url(#p6pel)"/>
<ellipse cx="570" cy="1006" rx="12" ry="6" fill="#B09060" transform="rotate(-20 570 1006)" clip-path="url(#p6pel)"/>
<ellipse cx="1189" cy="1219" rx="16" ry="6" fill="#C0A070" transform="rotate(15 1189 1219)" clip-path="url(#p6pel)"/>
<ellipse cx="695" cy="1139" rx="17" ry="6" fill="#9A7A4E" transform="rotate(-8 695 1139)" clip-path="url(#p6pel)"/>
<ellipse cx="946" cy="1100" rx="18" ry="6" fill="#9A7A4E" transform="rotate(-32 946 1100)" clip-path="url(#p6pel)"/>
<ellipse cx="1270" cy="1333" rx="17" ry="6" fill="#7A5A34" transform="rotate(-4 1270 1333)" clip-path="url(#p6pel)"/>
<ellipse cx="922" cy="1359" rx="16" ry="6" fill="#C0A070" transform="rotate(-32 922 1359)" clip-path="url(#p6pel)"/>
<ellipse cx="943" cy="1061" rx="18" ry="6" fill="#C0A070" transform="rotate(17 943 1061)" clip-path="url(#p6pel)"/>
<ellipse cx="989" cy="1001" rx="14" ry="6" fill="#B09060" transform="rotate(-0 989 1001)" clip-path="url(#p6pel)"/>
<ellipse cx="1258" cy="1201" rx="13" ry="6" fill="#B09060" transform="rotate(20 1258 1201)" clip-path="url(#p6pel)"/>
<ellipse cx="773" cy="1194" rx="17" ry="6" fill="#9A7A4E" transform="rotate(-53 773 1194)" clip-path="url(#p6pel)"/>
<ellipse cx="697" cy="1249" rx="10" ry="6" fill="#7A5A34" transform="rotate(56 697 1249)" clip-path="url(#p6pel)"/>
<ellipse cx="661" cy="1173" rx="11" ry="6" fill="#B09060" transform="rotate(-32 661 1173)" clip-path="url(#p6pel)"/>
<ellipse cx="1171" cy="1311" rx="12" ry="6" fill="#B09060" transform="rotate(-9 1171 1311)" clip-path="url(#p6pel)"/>
<ellipse cx="916" cy="1369" rx="14" ry="6" fill="#9A7A4E" transform="rotate(-42 916 1369)" clip-path="url(#p6pel)"/>
<ellipse cx="694" cy="1260" rx="14" ry="6" fill="#7A5A34" transform="rotate(18 694 1260)" clip-path="url(#p6pel)"/>
<ellipse cx="1041" cy="1174" rx="12" ry="6" fill="#7A5A34" transform="rotate(22 1041 1174)" clip-path="url(#p6pel)"/>
<ellipse cx="1142" cy="1278" rx="16" ry="6" fill="#7A5A34" transform="rotate(-46 1142 1278)" clip-path="url(#p6pel)"/>
<ellipse cx="842" cy="1279" rx="10" ry="6" fill="#B09060" transform="rotate(55 842 1279)" clip-path="url(#p6pel)"/>
<ellipse cx="1012" cy="1184" rx="15" ry="6" fill="#9A7A4E" transform="rotate(52 1012 1184)" clip-path="url(#p6pel)"/>
<ellipse cx="999" cy="1025" rx="15" ry="6" fill="#B09060" transform="rotate(-29 999 1025)" clip-path="url(#p6pel)"/>
<ellipse cx="668" cy="1152" rx="12" ry="6" fill="#C0A070" transform="rotate(58 668 1152)" clip-path="url(#p6pel)"/>
<ellipse cx="979" cy="1049" rx="16" ry="6" fill="#B09060" transform="rotate(-8 979 1049)" clip-path="url(#p6pel)"/>
<ellipse cx="779" cy="1154" rx="16" ry="6" fill="#B09060" transform="rotate(8 779 1154)" clip-path="url(#p6pel)"/>
<ellipse cx="1277" cy="1249" rx="14" ry="6" fill="#9A7A4E" transform="rotate(25 1277 1249)" clip-path="url(#p6pel)"/>
<ellipse cx="436" cy="1345" rx="14" ry="6" fill="#7A5A34" transform="rotate(-32 436 1345)" clip-path="url(#p6pel)"/>
<ellipse cx="975" cy="1046" rx="11" ry="6" fill="#9A7A4E" transform="rotate(-22 975 1046)" clip-path="url(#p6pel)"/>
<ellipse cx="654" cy="1073" rx="15" ry="6" fill="#B09060" transform="rotate(-20 654 1073)" clip-path="url(#p6pel)"/>
<ellipse cx="1262" cy="1355" rx="12" ry="6" fill="#C0A070" transform="rotate(56 1262 1355)" clip-path="url(#p6pel)"/>
<ellipse cx="1120" cy="1130" rx="12" ry="6" fill="#9A7A4E" transform="rotate(-52 1120 1130)" clip-path="url(#p6pel)"/>
<ellipse cx="490" cy="1275" rx="10" ry="6" fill="#7A5A34" transform="rotate(-25 490 1275)" clip-path="url(#p6pel)"/>
<ellipse cx="1267" cy="1142" rx="13" ry="6" fill="#9A7A4E" transform="rotate(-52 1267 1142)" clip-path="url(#p6pel)"/>
<ellipse cx="449" cy="1139" rx="14" ry="6" fill="#9A7A4E" transform="rotate(-34 449 1139)" clip-path="url(#p6pel)"/>
<ellipse cx="1256" cy="1308" rx="17" ry="6" fill="#B09060" transform="rotate(-45 1256 1308)" clip-path="url(#p6pel)"/>
<ellipse cx="803" cy="1267" rx="16" ry="6" fill="#C0A070" transform="rotate(10 803 1267)" clip-path="url(#p6pel)"/>
<ellipse cx="790" cy="1005" rx="11" ry="6" fill="#7A5A34" transform="rotate(32 790 1005)" clip-path="url(#p6pel)"/>
<ellipse cx="453" cy="1059" rx="14" ry="6" fill="#C0A070" transform="rotate(34 453 1059)" clip-path="url(#p6pel)"/>
<ellipse cx="944" cy="1365" rx="12" ry="6" fill="#B09060" transform="rotate(25 944 1365)" clip-path="url(#p6pel)"/>
<ellipse cx="825" cy="1169" rx="11" ry="6" fill="#9A7A4E" transform="rotate(-37 825 1169)" clip-path="url(#p6pel)"/>
<ellipse cx="635" cy="1353" rx="14" ry="6" fill="#B09060" transform="rotate(-28 635 1353)" clip-path="url(#p6pel)"/>
<ellipse cx="1046" cy="1171" rx="11" ry="6" fill="#9A7A4E" transform="rotate(-0 1046 1171)" clip-path="url(#p6pel)"/>
<ellipse cx="1130" cy="1095" rx="17" ry="6" fill="#7A5A34" transform="rotate(22 1130 1095)" clip-path="url(#p6pel)"/>
<ellipse cx="973" cy="1018" rx="16" ry="6" fill="#7A5A34" transform="rotate(-31 973 1018)" clip-path="url(#p6pel)"/>
<ellipse cx="930" cy="1157" rx="13" ry="6" fill="#9A7A4E" transform="rotate(28 930 1157)" clip-path="url(#p6pel)"/>
<ellipse cx="976" cy="1081" rx="12" ry="6" fill="#9A7A4E" transform="rotate(58 976 1081)" clip-path="url(#p6pel)"/>
<ellipse cx="1213" cy="1361" rx="15" ry="6" fill="#C0A070" transform="rotate(-24 1213 1361)" clip-path="url(#p6pel)"/>
<ellipse cx="605" cy="1338" rx="14" ry="6" fill="#9A7A4E" transform="rotate(29 605 1338)" clip-path="url(#p6pel)"/>
<ellipse cx="1209" cy="1075" rx="10" ry="6" fill="#B09060" transform="rotate(25 1209 1075)" clip-path="url(#p6pel)"/>
<ellipse cx="817" cy="1143" rx="13" ry="6" fill="#9A7A4E" transform="rotate(-8 817 1143)" clip-path="url(#p6pel)"/>
<ellipse cx="596" cy="1009" rx="17" ry="6" fill="#B09060" transform="rotate(-5 596 1009)" clip-path="url(#p6pel)"/>
<ellipse cx="840" cy="1343" rx="14" ry="6" fill="#9A7A4E" transform="rotate(21 840 1343)" clip-path="url(#p6pel)"/>
<ellipse cx="869" cy="1312" rx="17" ry="6" fill="#B09060" transform="rotate(29 869 1312)" clip-path="url(#p6pel)"/>
<ellipse cx="676" cy="1282" rx="18" ry="6" fill="#9A7A4E" transform="rotate(-8 676 1282)" clip-path="url(#p6pel)"/>
<ellipse cx="1008" cy="1088" rx="16" ry="6" fill="#C0A070" transform="rotate(8 1008 1088)" clip-path="url(#p6pel)"/>
<ellipse cx="764" cy="1328" rx="13" ry="6" fill="#9A7A4E" transform="rotate(-29 764 1328)" clip-path="url(#p6pel)"/>
<ellipse cx="971" cy="1086" rx="13" ry="6" fill="#7A5A34" transform="rotate(30 971 1086)" clip-path="url(#p6pel)"/>
<ellipse cx="803" cy="1194" rx="10" ry="6" fill="#7A5A34" transform="rotate(40 803 1194)" clip-path="url(#p6pel)"/>
<ellipse cx="764" cy="1230" rx="16" ry="6" fill="#C0A070" transform="rotate(30 764 1230)" clip-path="url(#p6pel)"/>
<ellipse cx="938" cy="1098" rx="16" ry="6" fill="#9A7A4E" transform="rotate(5 938 1098)" clip-path="url(#p6pel)"/>
<ellipse cx="1318" cy="1053" rx="16" ry="6" fill="#C0A070" transform="rotate(37 1318 1053)" clip-path="url(#p6pel)"/>
<ellipse cx="873" cy="1008" rx="16" ry="6" fill="#C0A070" transform="rotate(3 873 1008)" clip-path="url(#p6pel)"/>
<ellipse cx="861" cy="1065" rx="15" ry="6" fill="#9A7A4E" transform="rotate(20 861 1065)" clip-path="url(#p6pel)"/>
<ellipse cx="669" cy="1314" rx="13" ry="6" fill="#7A5A34" transform="rotate(-48 669 1314)" clip-path="url(#p6pel)"/>
<ellipse cx="445" cy="1181" rx="14" ry="6" fill="#9A7A4E" transform="rotate(8 445 1181)" clip-path="url(#p6pel)"/>
<ellipse cx="1287" cy="1138" rx="16" ry="6" fill="#B09060" transform="rotate(-59 1287 1138)" clip-path="url(#p6pel)"/>
<ellipse cx="908" cy="1066" rx="13" ry="6" fill="#7A5A34" transform="rotate(-14 908 1066)" clip-path="url(#p6pel)"/>
<ellipse cx="654" cy="1140" rx="14" ry="6" fill="#B09060" transform="rotate(5 654 1140)" clip-path="url(#p6pel)"/>
<ellipse cx="770" cy="1158" rx="16" ry="6" fill="#7A5A34" transform="rotate(-35 770 1158)" clip-path="url(#p6pel)"/>
<ellipse cx="424" cy="1355" rx="15" ry="6" fill="#B09060" transform="rotate(29 424 1355)" clip-path="url(#p6pel)"/>
<ellipse cx="646" cy="1191" rx="16" ry="6" fill="#B09060" transform="rotate(20 646 1191)" clip-path="url(#p6pel)"/>
<ellipse cx="671" cy="1129" rx="15" ry="6" fill="#C0A070" transform="rotate(24 671 1129)" clip-path="url(#p6pel)"/>
<ellipse cx="713" cy="1343" rx="12" ry="6" fill="#9A7A4E" transform="rotate(24 713 1343)" clip-path="url(#p6pel)"/>
<ellipse cx="426" cy="1358" rx="16" ry="6" fill="#C0A070" transform="rotate(13 426 1358)" clip-path="url(#p6pel)"/>
<ellipse cx="1318" cy="1087" rx="12" ry="6" fill="#C0A070" transform="rotate(-42 1318 1087)" clip-path="url(#p6pel)"/>
<ellipse cx="1297" cy="1133" rx="14" ry="6" fill="#9A7A4E" transform="rotate(-39 1297 1133)" clip-path="url(#p6pel)"/>
<ellipse cx="570" cy="1231" rx="16" ry="6" fill="#9A7A4E" transform="rotate(-17 570 1231)" clip-path="url(#p6pel)"/>
<ellipse cx="1057" cy="1084" rx="17" ry="6" fill="#7A5A34" transform="rotate(-3 1057 1084)" clip-path="url(#p6pel)"/>
<ellipse cx="455" cy="1192" rx="15" ry="6" fill="#B09060" transform="rotate(32 455 1192)" clip-path="url(#p6pel)"/>
<ellipse cx="1033" cy="1367" rx="10" ry="6" fill="#C0A070" transform="rotate(-55 1033 1367)" clip-path="url(#p6pel)"/>
<ellipse cx="728" cy="1384" rx="15" ry="6" fill="#9A7A4E" transform="rotate(-52 728 1384)" clip-path="url(#p6pel)"/>
<ellipse cx="495" cy="1008" rx="16" ry="6" fill="#7A5A34" transform="rotate(6 495 1008)" clip-path="url(#p6pel)"/>
<ellipse cx="441" cy="1060" rx="15" ry="6" fill="#B09060" transform="rotate(-4 441 1060)" clip-path="url(#p6pel)"/>
<ellipse cx="669" cy="1219" rx="13" ry="6" fill="#C0A070" transform="rotate(-60 669 1219)" clip-path="url(#p6pel)"/>
<ellipse cx="1259" cy="1117" rx="10" ry="6" fill="#C0A070" transform="rotate(-23 1259 1117)" clip-path="url(#p6pel)"/>
<ellipse cx="951" cy="1105" rx="11" ry="6" fill="#B09060" transform="rotate(-4 951 1105)" clip-path="url(#p6pel)"/>
<ellipse cx="876" cy="1122" rx="17" ry="6" fill="#9A7A4E" transform="rotate(23 876 1122)" clip-path="url(#p6pel)"/>
<ellipse cx="865" cy="1161" rx="13" ry="6" fill="#C0A070" transform="rotate(-4 865 1161)" clip-path="url(#p6pel)"/>
<ellipse cx="892" cy="1208" rx="16" ry="6" fill="#7A5A34" transform="rotate(-26 892 1208)" clip-path="url(#p6pel)"/>
<ellipse cx="675" cy="1153" rx="15" ry="6" fill="#B09060" transform="rotate(14 675 1153)" clip-path="url(#p6pel)"/>
<ellipse cx="666" cy="1075" rx="17" ry="6" fill="#9A7A4E" transform="rotate(23 666 1075)" clip-path="url(#p6pel)"/>
<ellipse cx="1092" cy="1177" rx="13" ry="6" fill="#7A5A34" transform="rotate(46 1092 1177)" clip-path="url(#p6pel)"/>
<path d="M90 1090 L450 1090 L420 1320 Q270 1360 130 1320 Z" fill="#C8D0E0" opacity="0.85"/>
<path d="M100 1095 Q250 990 440 1090 Q270 1130 100 1095 Z" fill="#FAFAFA"/>
<path d="M110 1120 L430 1120 L415 1300 Q270 1330 140 1300 Z" fill="#E8ECF4"/>
</g></svg>
</body></html>
